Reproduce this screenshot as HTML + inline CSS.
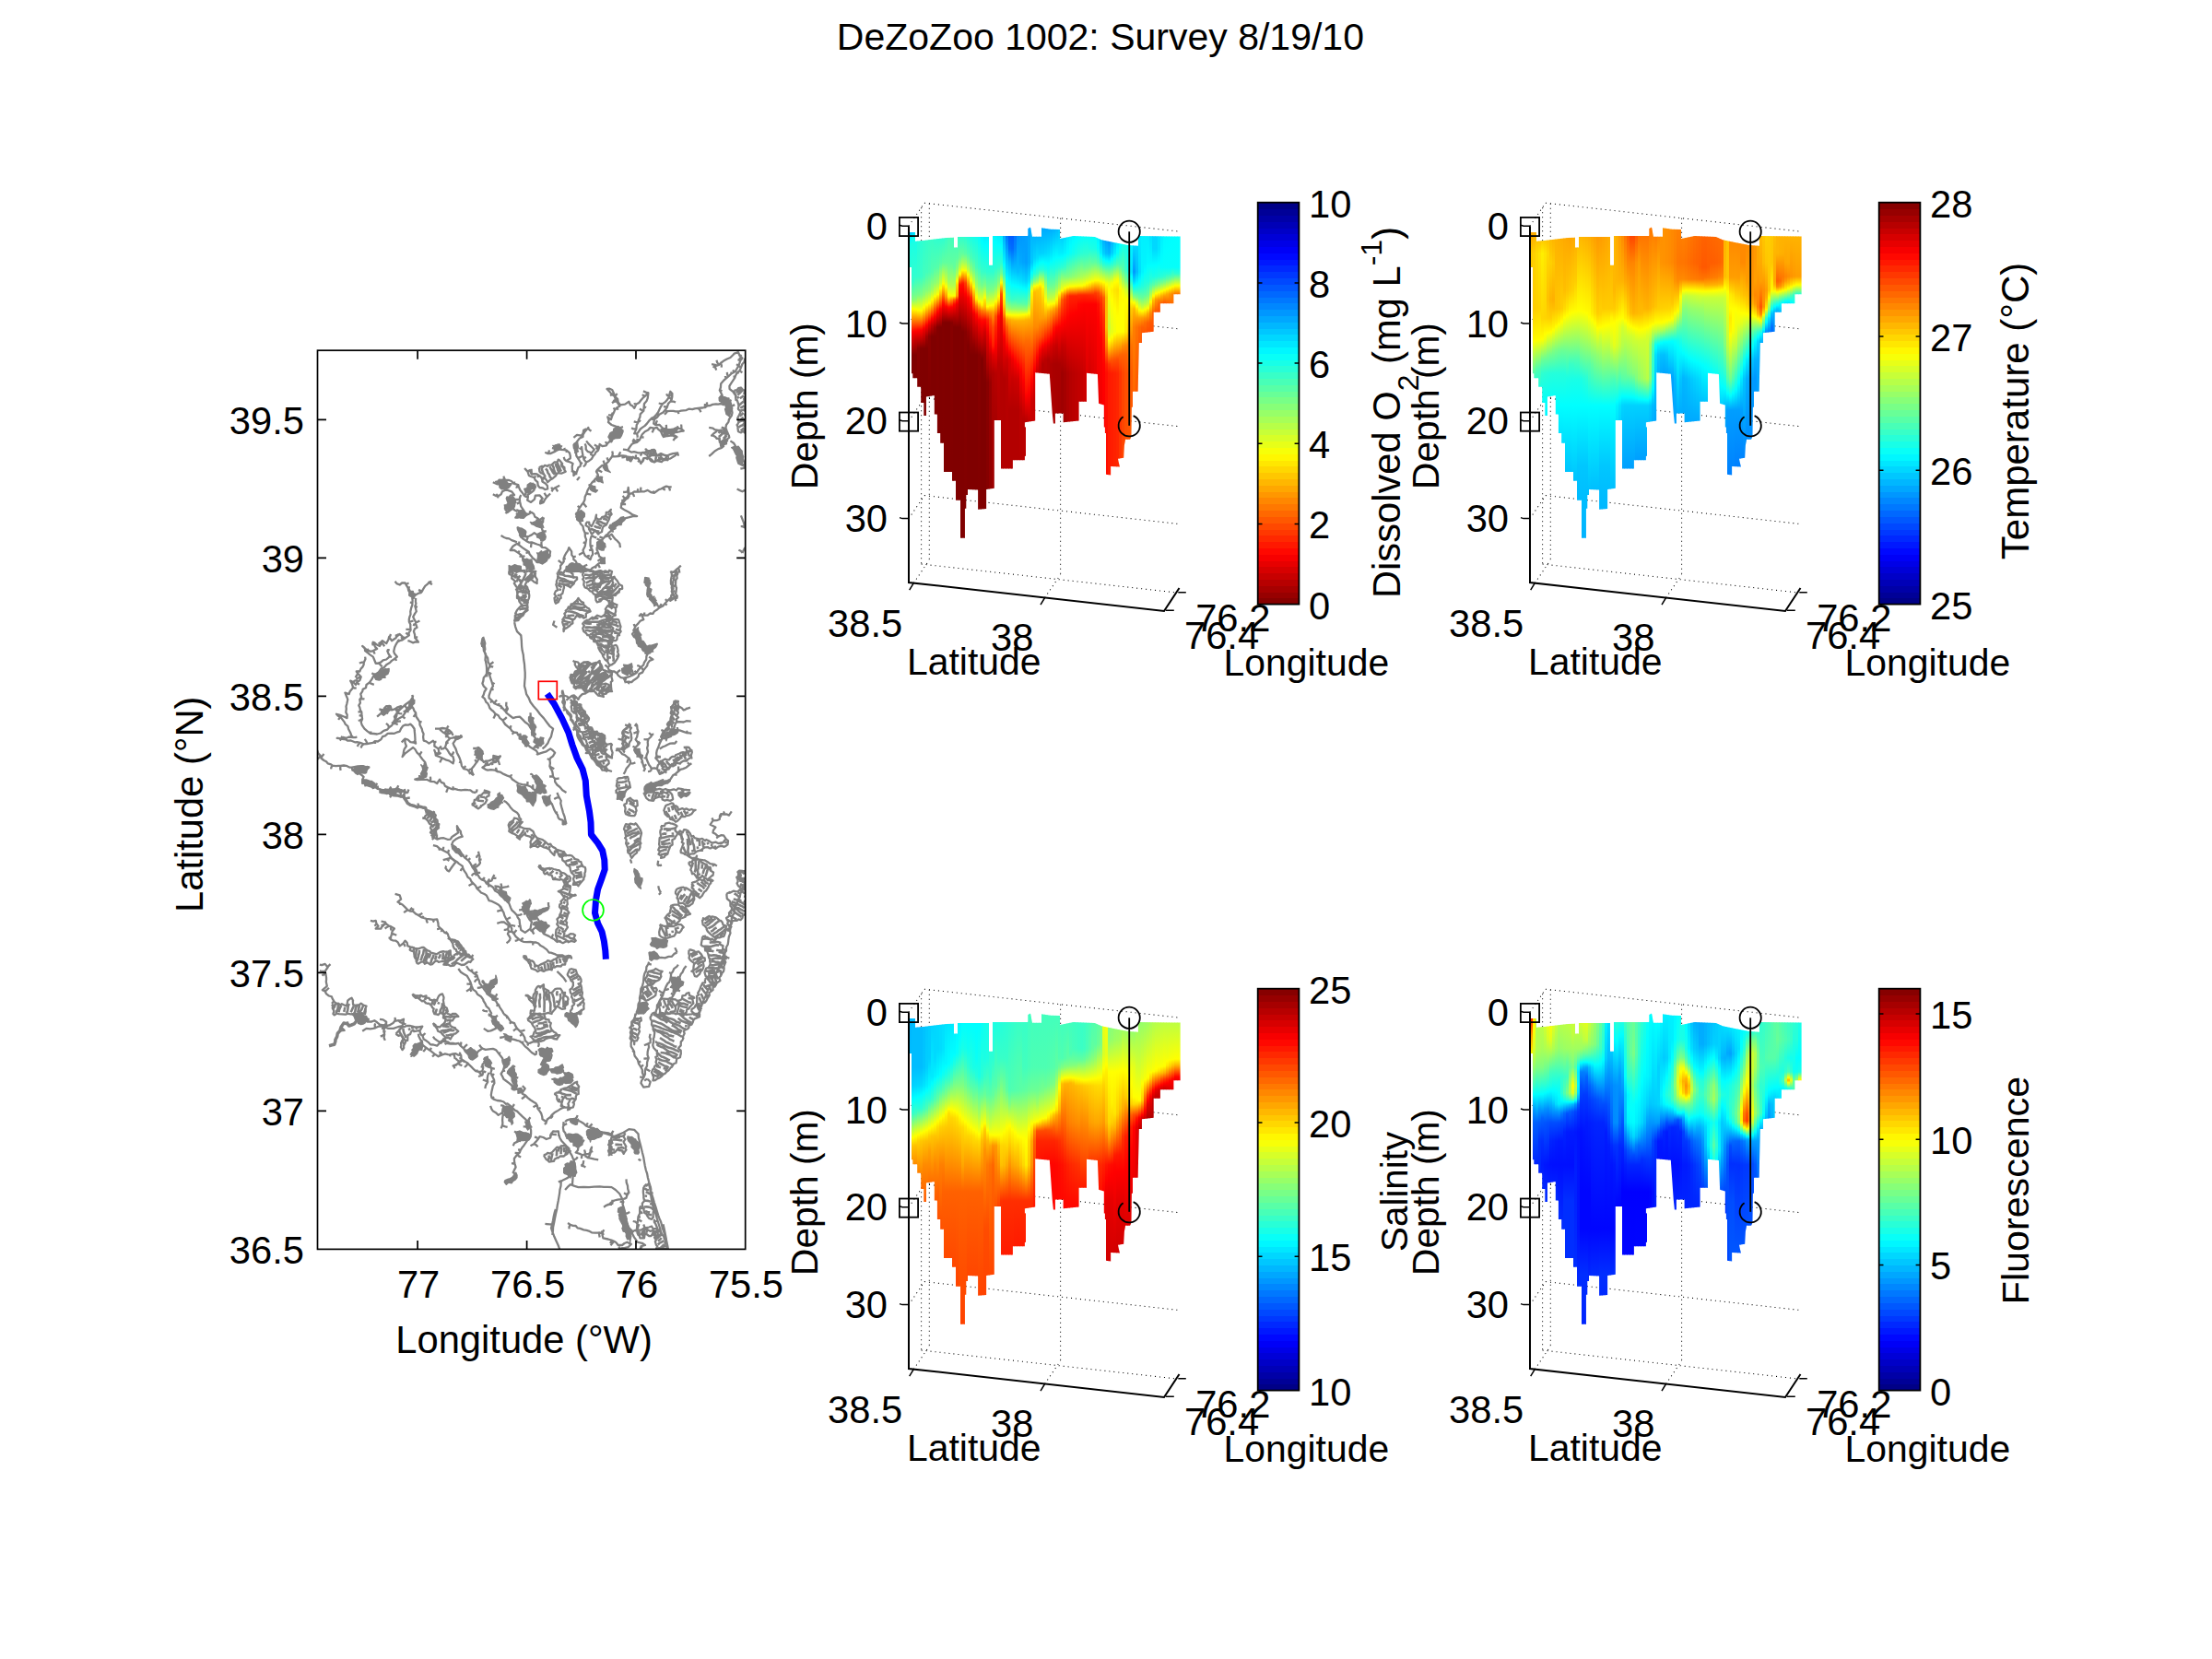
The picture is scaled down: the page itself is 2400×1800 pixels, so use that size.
<!DOCTYPE html>
<html><head><meta charset="utf-8"><title>DeZoZoo 1002: Survey 8/19/10</title>
<style>html,body{margin:0;padding:0;background:#fff}svg{display:block}text{font-family:"Liberation Sans", sans-serif;fill:#000}</style>
</head><body>
<svg width="2400" height="1800" viewBox="0 0 2400 1800">
<rect width="2400" height="1800" fill="#fff"/>
<text x="1193.9" y="53.6" text-anchor="middle" font-size="41">DeZoZoo 1002: Survey 8/19/10</text>
<g clip-path="url(#mapclip)" fill="none" stroke="#808080" stroke-width="2.3" stroke-linejoin="round">
<path d="M534.8 523.2l5.1 2.2 4.3-.7 1.5-4.4 2.3 .3 4.2 .4 2.7 1 2.4 2.7 5 1.4 .5 2.1 1.7 3.7 2.4 2.9 1.9 2.9 1.4-1.6 1-3.9 2-1.7 3.5-3.7 1.5-2.1 2.2 4.3-1.2 3.2-2.4 1.9-4.3 2.9 .4 2-.7 3.7 3.9 2.2 3.9-3.2 .8-4 4.7-.3 3.2 3.5-2.3 2.6-.3 2.9 3.4-1.2 2-3.7 1.9-2.4 3.7-3.6M544.2 524.7l-.3-1.8 .1-.5M548 520.6l-.7-1.3-1-2.6M557.3 524.7l.6-1.1 1.3 0M562.3 526.1l-1.5 2-.5 1.7M573.2 530.5l1.4 1.4 .8 2M580.4 529l-2.4-.1-1.3-.2M572.9 539l-2.5-.2-1.3-.8M586.4 543.5l1.7 .6 2.3-.1M593.4 539.1l-1.7-2.3-1.1-2.1M534.8 536.2l3.7 2 2.1 .2 3.1-2.1 1.3-3 3.2-1.6 2.6 .2 4.3 1.4 2.9 3.7-4.3 .7-1 2.1-.5 3.7 4.3 2.9-2 2.6-.8 3.2-2.7-.1-3.1 .1 2.9 3.6 2.9-2.2 2.8-1.8 1.5-2.5 .6-3.4 .1-3.9 5.1 0 .4 2.7 1 4.6 2.9 4.3-4.3 2.2-1.2 2-3.2 3.8 2.9-.1 2.9-.7 3.6-3.6 4.4 .7 3.6-2.1 2.4 1.8 1.2 3.2 2.9 1.5 2.2 2.1 3.6 2.2-3.8 .9-2.7 .6-2.3 0-3.5 0 2.2 .7 3.6 2.2 5 1.4 1.4 4.2 .8 3-.6 3.9-.8 2.6-1.7-1.7-2.7-3.3-4.3-2.9-2.9 2.2-2.9 1.4-2.9 .5-2.9-1.2-.5-4.1-2.4-3.1-3.6-1.5 .4 2.1 1.8 3.7 2 3.8 .9 2 4.3 2.9 2.9 1.7 2.9-.3 2.1 .8 3.7 1.4 3.3 1 2.1 2.3 3.3 .3 2.4 1.4 3.4 2.9-.8 5.1-5-2.2-4.4-1.4-2.9 3.6 2.1 1.8 3.7 .4 2.9 2.9-4.3 2.9-2.9-1.4-2.9-.1-2.2-2.7-2.2-1.6-1.5-1.9-2.1-2.5-.8-2.5-2.8-1.8-4.3-2.9-3.8-2.9-2-1.4-4.4 2.9-2.8 4.3 4.3 0 4.3 2.9 3.1 2.3 1.3 2 1.4 2.7 2.9 2.4 2.4 1.7 2 3.4 0 3.6 1.4 2M538.5 538.2l0-.6 1.4-1.6M540.6 538.4l-.4 1.1-.1 .9M552.2 543.5l2.4 .6 3.5 .4M556.5 546.4l2.1-1.5 1.7-.3M551 552.1l-.2-3.6-.1-2.4M547.9 552.2l.2-2.5-.4-2.5M550.8 555.8l-1.8 .8-.3 .7M556.5 551.8l2 1.7 2.7 1.6M563.8 542l.3-2.5 1.2-2.5M564.2 544.7l-1.5 .8-1.8 1.3M562.6 557.8l-1.2 .2-1.5-1M565.2 560.8l1-2.8 .2-2.7M568.8 557.2l.6 1.1 0 1.2M576.8 555.8l-1.6-.2-.6-1.3M585.5 564.4l1.4-1.2 2.6-2M589.1 566.6l.2-2.9 .8-2.3M585.3 567.5l-1.5-1.4-2.1-2.5M589 576.6l2-.3 1.8 .2M589.2 583.5l1.9-.1 1.1-.1M563.8 578.2l1.1-1.7 1.7-.7M571 586.9l1.4-3 .1-2.7M576.8 588.3l-.5 2.8-.3 3.1M588 593.8l-.6-3.6 .1-2.2M591.3 601.3l-.9 1.7-.8 2.1M586.9 599.9l1 2-.3 1.6M586.1 605.3l.4-1.3 .2-2.5M589.8 605.7l1.3-.3 0-1.5M592.7 608.6l.5-.9 1-1.5M582.6 610l-.4-.3-.3-1.7M573.8 598.8l-1.4 .7-1.9 .3M562.9 591.2l.4-2 0-1.7M562.3 599.9l.4-.5 .9-1.8M565.4 602.2l-.7 .7-.4 1.9M566.7 604.2l.7-.2 2-1.1M543.5 581.1l3.4 1.9 2.4 1 3.1 .4 2.7 1.7 2.9 1 2.9 1.2M591.3 490.7l2.8 1.3 3 .1 5-2.2-.4-2.7-.3-3 4.3-1.5 2.4 1.9 .5 3.2 3.7 .3 2.1 .4 3.6 2.9 .8 3.3 0 2.5-4.4 2.9 4.4 1.4 2.8 1.5-.9 3 .2 4.2 1.6 2.9-.1 2.9 2.9-2.9 .8-2.1 1.3-3.7 2.2-1.4 .5-3.3-1.2-2.5-2.5-3.9-1.1-1.9-.2-3.3-1.3-2.5 .9-3.7-.2-3.5 1.7-2.4 2.7-3.4 3.6-1.5 .1-2.3 2.1-3.5 3-3.4 1.3-1.6M594.1 492l1.5-1.6 .3-2.1M601.7 487.2l-1.2-.9-1.6-.2M601.4 484.2l2.4-1 1.6 .1M608.1 484.6l.7 0 .7-1.4M612.3 488.1l.2-1.7-.2-.4M614.4 488.5l.1 1 .4 1.3M614.4 500.1l-1.8-1.4-.9-2.8M622.5 513.1l1.3 .6 2.6 .3M625.3 513.1l-3.4-1.7-2.2-.4M630.1 502.6l.9-.1 1.2 .3M626.4 496.2l1.9 .2 1.8-.6M623.8 488.5l1.3-.5 1.4 0M624.5 481.3l.4 .1 1.6-1.1M632.5 474l-.4-1.8 0-1.2M637.7 464.8l2.3 1.9 1.5 1.1M622.4 474.8l3.6-2.9 5 .7 1.7-2.7 .5-3.1 2.9-1.4M631 472.6l-.3 1.6-1 .8M584.8 507.3l3.2-1.6 .5 1.6 2.6-2.4 3.1 1 1-1.3 3.3-.2 2.9-2.9 3.3 0 1-2.9 1.5 .9 2.9 3.5-.3 2.1 2.7 2-.5 2.1 1.7 2.4-2.3 1.1-2.3 1-3.4-.6-1.4 .8-1.4 2.4-3 2.6-1.7 1-1.4 1-2.6 2.3-1.8-3.2-1.2-.5 .1-3.5-2-2-2.4-.9-1.4-1.4-.7-4.4M572.5 511.6l1.4 4.4 2.1 1 3.7 1.2 .9 2.5 2.7 2.5 .4 3.6 1.8 2.2 3.5 .5 2.3 1.7 2.9-.7-.3-3.6-1.9-2.2-3.6-2.2-.3-3-1.9-2.8-3.6-2.2-2.3-.4-3.5 .4-2.2-4.3-2.1 1.4M579.7 518.2l1.1-1 .3-.9M588.4 522.5l.3-2 .7-2.3M588.1 519.5l1.1-1.1 1.2-.6M586.2 516.7l-2.1 .1-1.4 .6M576.8 514.5l-.1-2.6-.2-3.2M572.5 511.6l-1.9-2-1.5-1.6M598.5 533.3l1.5-2.5 2.8-1.8 4.4-2.2M600 530.8l-1.3-.7 0-1.6M602.8 529l.8 1.9 1.6 2.5M631 484.2l.4 3.1 .3 2.8 .8 4.2 1.1 4.5 2.5 2.7 3.1-1.6 2.7-2 1.8-3.2 1.8-1.9 .8-2 2.8-2.3 1-3.2 .5-3.3 2.9 2.2 4.3-.8 1.3-2.2 3.1-2.8 3.6-3.6 5-2.2 1.5-3.4 1.4-2.4-2.7-1-1.6-2.6-3.5-1.3-2.3-.9-3.6-2.9 .5-1.9-1.2-3.9 3.6 2.9 1.5-4.6 1.4-2.6 1.5-3.6 2.1-2.2 2.9-1.4-1-2-2.4-3.5-1-1.8-1.3-3.8-3-2-2-2.6-3.1-3.1 2.9-.3 2.8 1.3 1.6 3.3 1.3 3.9 3 2.6 .6 3.6 2.3 2.9 5.1-.7 4.3-2.9 1.5 3.6 2.3 1.1 2 2.5 2.2-4.3 2.9-1.6 2.1-2.8 2-2.3 2.4-2 3.6-3.6-.2 2-.5 3.8-1.1 2.8-2.6 3-.4 4.3-.3 3.6-3.6 3.6-.3 3.1-1.7 3.6-.2 2-1.8 3-.3 4.3-2.2 5 2.9 0 1.8-2 1.9-2.9 2.1-1.6 2.9-2 2.3-2.5 2-2.7 3.2-3 2.6-1.4 2.3-2.6 1.9-2.4 1.6-3.6 .9-1.8 2.1-3.6 2.8-1.9 1.8-1.9 1.8-2.4 .9-2.7 1.3-4.6 2.1 2.2-.1 3.6-.6 2.9-1.2 2-2.4 2.4-1.4 4.2-2.2 3 2.6 1.1 3.2-.4 3.4 0 2 .5 3.2 .2 3.1-.8 2.8-.4 2.8-.2 2.7-1.4 4 .5 2.4-.8 3.9-.5 3.8-.4 3.3-.3 2.8-1.9 3.2-.3 2.3-1.1 3.9-.5 2.4 .2 2.9-.6 2.8 1.2 2.4-1.4 3.5 .1M631.4 487.3l-2.2-.8-.7 .6M632.5 494.3l-1.7 1-2.1 1.1M633.6 498.8l.5-1.4 1.6-1.8M636.1 501.5l-1.1 3-2.1 1.9M643.7 494.7l-2.2-1.6-1.4-.4M649.1 488.5l-1.1-1.7-1.5-1.4M650.1 485.3l-2.7-1.4-2.6-1.4M659.1 481.2l-1.5-.6-.4-1.7M670.8 472.6l-.6-1.1-.4-1.8M671 465.8l2.1-1.8 2.9-.8M664.4 450.6l-2.5-.1-1.8-.5M665.8 448l-1.8 .8-.8-.3M667.3 444.4l-1.6-1.5-.3-.2M669.4 442.2l.7 1.5 .5 1M668.9 435.3l-2.8 .5-2.1 1.5M667.9 433.5l-1.5 .9-.8 1.3M665.8 426.3l-2.3 2.1-1.4 1M667.1 430.2l1.7-2.2 1-.9M690.4 438.6l-1.6-.3-.4-1.1M699.8 429.9l-1.6-.8-1.4-1M703.4 426.3l-2.6-.7-2.9-1.2M698.6 442.2l1.8-.3 .7 .4M698.3 445.8l-2-.8-2.4-1.5M692.7 456.1l.8 .1 1.6 1.1M692.5 458.1l-2.8-.2-2-.6M690.4 465.4l-3.1 0-2.2-1.2M691.1 470.4l.6 2.8-.1 1.6M712.2 449.7l2.5 0 1.5 0M718.7 438.3l-1.8-.3-2.2-.5M726 429.4l-2-.4-.9-1.7M729.4 427l-1 2.3 .1 1.1M728.7 433.5l-2-1.8-2-1.1M727.5 435.5l3.2 .1 2.4 .9M723.7 442.1l-1.8-.9-2 .1M724.1 446.2l-1.3 1.7-1.8 1.9M735.9 446.5l.1 .8 .3 1.8M757.6 442.9l2 2.4 .8 2M764.7 442.2l.1-1.6 .2-2.6M767.5 440.3l-.3-1.4-.3-2.5M790.9 437.9l.8-1.5 1.3-2.8M634.7 481.3l1 2.8 0 3.4 1.9 2.4 4.3 1.5 2.9-3.6-2.2-2.3-2.7-2.6-1.5-1.5-2.3-3M626 521l2.9-3.6M721.5 445.1l-2.1 2.4-3.7 1.9-2.5 3.1-3.3 2.7-.7 4.4 2.4 1.6 4.1-.2 1.8 2 2.5 2.4 2.7 .4 4.6 .3 3.4-.4 2.7-1.3 2.5 .2 3.4 .9 2.4 2-2.7 .3-4.5 1.2-4.6-.6-2.6 1.3 1.5 1.1 2.6 2.5 3.1 .7-2.7-1.5-4.5 .1-3.2 .4-4.1 1-1.3-1.9-1.6-3.9-3.1-2.6-1.2-1.7-3 .8-4.2-.8-2.3 2.5-3.5 1.8-3 3-1.4 2.8-1.3 3.1-3 2.7-3 .9-2.5 1.1-1.7 2.4-2.9 4.3 4.3 2.2 2.7-.6 4.5 1.3 3.6-.2 3.7-.5 2.8-1.7 4.3 .2 3-.7-1.5 3.2-2.8 2.6 2.7-.4 4.5 .4 4.3-2.2 4.4 1.9 2.9 .3 3.2-1.5 2.5-.7 5.1-.7-2.6 2.8-2.5 1.5-2.9 1.9-2.8 .3-2.4 1.2-3.7-1.7-2.6 1.2-2.4 .8-3.4 2.1-3-2.9-2.8-1.4-2.9-.4-2.9 .4-.8 2.1-2.1 3.7-1.6-3.4-1.3-2.4-3.3 .2-2.5-1.7-2.8 4.4-3.1-2.7-1.3-2.4-3.5-.7-2 .1-3.2 .6-3.7 .3-2.8-.3-2.4 3.2-1.2 1.9-1.2 1.3-3.1 3-3.3 .7-2.5 2.2-2.8 2.8-.8 1.5 1.7 3.2 .4 2.6-2.9 1.8-1.4 1.8-2.7 2.9-1.6 2.2-.6 1.9-2.3 3.9-1.3 3.8-1.6 3.4-.3 3.5-1.5 3-1.9 2.2-2 3-1.6 2.8-.1 3.5-2 3.7 2.7 1.8 .9 2.6 1 3.1 2.6 2.7 .6 3.5 1.6 3.7 .2 4.1 1.2 3.1-.8 4-.6 3.3-2.2 4.3 .7 2.4 1.5 3.4 2.5 1.8 3.3 2.5 1.3-3.7 1.5-2.1-.6-4.4-1.5-2.8-.7-2.2 0-4.4 0-2.1 1.4-4.3M709.9 455.2l-1.9-.3-2.3-1.4M711.6 461.2l.4-2.8 1.1-2.2M722.7 465.8l.3-2.6-.2-2.4M727.3 466.1l-1.2 1.2-1.6 2.1M730.7 465.7l.1 .5 1.5 1.9M735.9 464.6l-.5-1.3-1.2-.5M739.3 465.5l.1-2.2-.3-2.8M734.5 474l-2.2 1.6-2 2.4M727.3 472.6l.9-2 1-1.4M724.1 473l-.4-3.2 .8-2.3M718.7 472.1l2.8-.4 1.7-1.2M709.8 464.7l-1 2-1.2 2.7M695.4 474l1.5 .5 1.7-.1M694.1 477.1l-1.5 .1-2.3-.7M691.1 479.8l-2.2-1.6-2.2-1.8M688.1 480.7l-1-1.6-.6-1.5M681 488.5l-2.4-.7-2.7-.2M696.1 491.2l-.4 2.1-1.1 1.2M702.6 489l-1.8-1.4-.6-1.1M708.3 493.9l.5-2.9 .7-2.8M712.8 494.3l-1.6-3.2-.4-2.5M724.4 494.3l.5 1.7-.2 .5M735.2 491.4l.3 1.5 .7 1.8M724.4 497.9l0 1.5 .5 .8M718.3 497.4l-1.1-1.7-.1-1.3M704.1 497.2l-1.6 .3-1.1 1.2M698.3 497.2l-.2 2.2-1.3 2M693.8 499.6l-.3 .2-1.5 1.4M689.2 497.4l.8-1.4-.1-2.6M680.8 497.4l-.2 1.4-1 .8M679.5 495l-2.2 1-2.9 .3M670.8 495l1.3-2.6 1.3-2.1M664.3 495l.5-3.1-.6-2.5M660.7 500.1l-1.3-1.3-.8-2.5M656.4 504.4l-.8-1.8-1-3M647.8 510.1l2.3 .5 3.2 1.6M647 511.6l.7 .7 0 1.3M649.1 517.4l-.9-.7-1.5 .5M644.8 521l.3 .9 .3 1.6M636.3 535.7l2.2 .3 2.8 .7M632.9 545.6l1.4 2.2 2.1 2.4M629 550.8l-1.4-1.1-.7-.9M627.3 557.1l.7 .7 1.3 .3M625.3 560.8l2.2-.1 2.2 .1M634.7 578.2l2.5 .4 1.5 .3M635.3 589.4l-1.3-.5-1.2-.7M633.2 599.4l-2 .9-3.2 1.8M637.2 604.6l.8-1.5 1.8-.3M642.7 596.9l-2.3-.2-1.3 .6M640.5 591.9l1.7 .4 1.4-.2M641.9 581.1l2.6 1.5 2.8 .8M698.3 491.4l3.5-.4 .8-1.2 2.5 .1 1.9-1.7 2.9-.4 1.1 1.8 .3 3.4 1.5 1.3 3.3 0 1.1-1 1.9-.1 3.2 1.3 2.1-.2-2.7 3.4-.2 .9-2.9 1.6-.8 1-4.2-1.1-.2-.6-3.5 2-3.3-1.2-.6-.4-1.9-2.7-1.1-1.8-1.3-2-3.4-2M728.7 528.3l-3.4-.2-2.4-.5-3.8 1.8-2 1.1-2.1 .6-3 2.2-2.1 1.5-3.9-.8-3.3-2.1-3.4 1.4-3.9 0-3.3 .4-3.9-.4-2.4 1.9-3.4 1-.3-3.3-.4-3.9-.7 4.3 1.4 4.4-3.2 2.8-1.1 1.5-2.8 2.9-.9 1.5-.7 4.3 4.4 2.9 4.3 2.2 4.3 2.9 4.4 1.4-3.4-.2-3.8 .9-2 .6-3.8 .9-1.8 2.8-2.6 1.5-2.5 1.6-3.3 2.8-1.6 2.1-2.7 2.2-2.9 2.5-1.4 1.8-1.8 1.2-2.6 3.2-2.7 2.4-1.6 1.9-.9 3.6-2 2.2-.1 2.5 1.5 3.3 1.2 3.9 3.2 1.9-1.5 4.3-3.5 2.3-2.3 2.1-3.6 1.9-2.1 2.4M725.3 528.1l1.3 2.6 .4 1.8M719.1 529.4l1 1.6 1.9 .5M709.9 534.8l-.4-1-1.3-.7M695.4 533.3l-.2-2.4 .2-2.3M692.1 533.7l-.2-2.2 .8-1.1M685.8 535.2l1.5 1.4 .8 2.4M681 533.3l-2.5 .6-2.4 .1M674.4 546.4l2.1 .7 2.6-.1M666.3 573.1l-.8-.9-1.7-.1M663.6 575.3l.5 .9 1.7 .6M654.9 584l-1.9-.7-2.6-.9M652.2 586.4l-2.1-.8-2.5-1.1M649.7 591.9l-1.6 .1-.3-1M649.1 599.9l-2.2 .2-1.3 1.3M653.5 605.7l-3.1 1.6-1.9 1.6M648.5 612.3l1.7 2.2 .5 1.8M646.2 614.4l-.2 .9 1 1.2M656.4 582.5l4.4-1.1 2.8-1.8 1.9 3 2.4 2.8 1.7 1.3 2.7 3.1 .7 4.3M660.8 581.4l.9 2.6 1.8 1.6M678.5 541.3l-1.9-2.1-.9-1.3M676.6 543.5l-1.2-.7-1.1 .3M636.1 566.6l-.5 3.5 3.5 2.2-.1 1.6 1.2 2.2 1.7 3.5 2.3-2.1 1.3-2.2 1.6 1.7 2 2.6 1.3-1.4 2.6-1.2 .5-3.1 1.1-2.8 3.2-1.6 1.3-2.7 1.6-3.1 1-3.8 1.9-2-1.6-3 .9-2-2.7 2.8-2.4 .1-.2 2.8-1.3 1.9-2.8 .3-1.8 2.4-2.6 .5-2.4-2 .3-3-.4 1.5-.9 4.2-.9 .8-1.5 3.3-1.4 2.5-2.5-2-.2-2.4-3.1 0M605.7 620l2.5-2.9-.1-3.3 2-2.3 1.6-2.1-.2-3.3 1.4-3.6 1.5-2.6 1.8-2.5 1.1-3.3 2.9 4.3 .1 3.7 1.9 2.4 .2 2.6 2.1 1.6 1.5 2.8 2.7 .6 2.3 2.3 2.3 .7 2.8 2.2 4.4 1.4M610.1 611.5l-2.3-1.9-2.1-1.6M611.5 606.1l1.8 .1 .5-.1M622.2 604.5l.9-.4 1.7-.6M633.3 615.1l1.5-1.4 2.4-1M772.1 395.2l3.8 .6 2 .8 2.1-.7 2.1-2.1 3-2.2 3.7-2.1 3.6-1.5 2.8-2.8 1.5-1.6 4.3-1.4 1.6 3.8 2.8 2.7-2 2.4-1.4 4.1-1 2.2-1.3 2.3-2 3.4-2.5 1.5-1.9 1-3 2.7-2.3 2.1-2.5 2.1-3.3 3.7-.3 4.3-1.1 2.9 1.6 3 1.3 2.8-2.4 3.3-.5 1.7 3.6 1.7 2.2-.2 5 2.2 1.2 2.6 1 3.2 .7 4-.7 3.2-2.9 4.3-.5 2.7-2.4 3.1-.7 3.9 .7 1.9-2.9 3.6-2.6-1.7-3.2-1.9-3.9-.6-1.9-1.6-4.3-.7M775.9 395.8l.4 1.4 .5 1M780 395.9l-1.8-2.5-.7-2.6M782.1 393.8l.8 3-.2 1.9M802.6 386l.9 .1 1.2-1M805.4 388.7l-1.2 .3-2.5 0M803.4 391.1l-1.7-.5-1.2-.4M797.7 403.1l-1.4-.2-1.4-1.2M795.2 404.6l-1 .3-1.8-.7M790.3 408.3l-1.2-1.7-.2-2.8M788 410.4l-1-1.7 0-.7M780.8 423.4l.6 0 2 1M781.3 432.5l.6 .5 1.6 .7M780.8 434.2l2.6 1.3 1.2 1.2M784.4 435.9l1.5-2.5 2.4-1.2M791.6 437.9l.2 1 .2 1.2M792.8 440.5l2.3-.4 2.1-1M787.3 464.9l-1.6-.2-3-1.1M785.1 470.4l3.1 .1 2.5 .7M777.2 401.7l-.9-2.7-2.8-1.6M808.3 388.7l-.8 4-2.1 2.3-1.5 3.8-1.3 3.4-2.9 2.2-1.6 3.1-.8 2.4-2.7 4-1.5 2.3-1.7 2.7 .2 3.1 3.6 2.8 2.9 4.4M807.5 392.7l2.1 .8 2.5 .4M803.9 398.8l-2.5-1.8-2.3-1.8M802.6 402.2l1 .8 1.8 1.2M799.7 404.4l1.1 0 .9 .5M797.3 409.9l-.4-1.2-1.4-.3M796.7 423.4l2.8 0 1.6-2.3 2.8-.6 2.4 2.7 2 .2-1 3.6 1.6 .4-.1 2.1-1.8 3.5 .9 1.5 .4 3.3 .7-.4-.5 3.5-.3 3.4-.2 1.1 1.4 2.1-1.2 2.4 1 2.7-.2 1.4-2.1 3 1.5 2.5 .7 .2-1.7 2.1 1.8 2.3-2.2 4.1 1.3 1.5-2.3-1.8-2 1.5-3-1.2-.5-3.7 .1-1.3-1-2.2 .8-.8 1.3-2.7-1.4-3.9 1.7-3.3 .5-.9 1.2-3-2.5-2.2-.3-.6 .6-3.4-.5-2.3-1.2-3.8-1.3 0-.4-3.5 .5-1.3-2.2-4.4 .3-1.5M788 466.8l-.1 4.2-1.3 3-1.3 3-3.1 2.8 2.9 4.4-2.1 1.6-3.7 1.3-3.8 2.4-2 1.9-1.6 1.5-2.7 2.1M782.2 479.8l-1.6-2-.8-2.3M777.9 466.8l1.7 .2 4.2-.4 2.9-1.1 1.3-.1 .4 1.8 1.9 4.3 .6 1.1 .4 2.1-2.1 1.6-1.5 2.9 .3 2.1-4.1 1.1-1.7 1.8-.6-4.3-.8-.1 0-4.3-3.1 .4-1.5-1.8-2.7-1.6-1.4 .1 2.3-2.3 2.7-1.9 .8-1.6M792.4 478.4l3.6 2.3 2.1 3.5 1.6 2.1 3.2 2.1 1 3 .4 2.5 .8 2.8 1.7 3.4 1.7 3.1-.2 4.1M798.1 484.2l-1.2 1.6-.6 2.9M808.5 503.2l-2.4 1.2-1.4 0M808.3 507.3l-2.4 .8-2.5 .4M799.6 530.5l3.8 1.9 2 .9 2.9-1.4M803.9 559.4l1.2 3 1.7 4.2 .8 3.3 .7 2.5M808.3 572.4l-2.9-1.3-1.7 .1M808.3 594.1l-1.3 2.4-1.6 3.4M805.4 599.9l-1.5-2.1-2.5-1.1M738.8 613.6l-2.7 2.5-1.6 1.2-2.9 2.7M736.1 616.1l.9 3.2 .3 2.3M428.6 630.8l1.8 2.3 3.3 1.4 2.4-2 3.4-.2 1 2 1.9 3.1 1.9 2.7 1 3 3 1.3 2.8 .9 3-1.6 2.7-.6 1.2-1.5 1.2-2.5 2-3.2 3.1-2.5 1.2-1.8 2.9-.8M440.5 634.3l2.1-1.4 1-.1M442.4 637.4l.8-.1 1.7 .1M448.3 644.4l.2 1-.2 1.5M456.8 643.1l-.5-1.3-1.4-.8M458 641.6l-1.9-.7-2-1M465.5 631.6l2.3 1.9 1 .9M448.2 646l-.9 3.2 .3 2-.2 3.5-.1 2-1.1 2.8-.9 3.9 .2 3.2-1.1 2.7-.6 2.8 .1 2.6 1.4 2.9 0 3.2 .3 2.8-2.1 3.1 .3 2.7-4.3 2.9-2.9 2-2.9 .9-2.4 1.2-1.9 3.2-1.2 2.7-1 4.5 .9 2.5 2.7 3.3-2.9 2.4-2.9 1.9-2 2.1-3.8 2.3-2.5 3-3.3 1.3-2.4 3.6-3.3 2.2-2.8 2.7-1.6 3.1-2.6 3.4-3.2 2.4-.5 3.3-3.3 1.6-.5 2.3-1.9 2.8 .9 3.5-1.9 2.4 .6 3.7-1.6 2.8 1 2.2 .7 3.1 1.3 1.8 .2 3.7 .6 3.9-1.4 3.4 1 3.1 2.7 4.1 3.2 2.7 3.3 2.4 3.6 .2 3.6 .5 3.9-1 3.3-2.6 3.8-1.2 2-2.4 3.1-2.3 1.3-2.1 .7-2 2.2-3.8 .9-2.4 .5-3.4 3-3.3 1.5-1.4 2.7-2.5 1.4-1.4 3.1-2.2 2.8-2.2 2.3-3.5 .6-2.3M447.3 649.2l1.8-.5 1.2-.4M447.4 654.7l-.8-.8-1.8-.2M443.9 674.7l1.7-.3 2.9-.9M445.6 683.6l-2.2-.8-3 .1M443.8 689.4l-2.2-1.7-1.3-1.2M433.7 695.2l-1.5-.5-.7-.7M427.9 715l1.5 .4 .5 1.6M411 729.2l2.3 1.8 1.2 1.5M407.7 731.4l-2.5 .1-1.8-1.2M400.7 740.6l1.9 1.1 3.2 1.2M390.3 758.9l2.6-.8 2.6 .3M392.3 772.5l-1.8-.3-2 .5M392.5 776.2l-1.1 .3-1.8-.3M393.1 780.1l-2.6 1.4-1.8 .4M401.9 795.8l.5-1-.1-1.3M422.1 789.3l-1.1-2.7-2.1-1.7M426.5 784.9l2.4 .1 2.8 1.1M439.4 764.7l1 2.6 2.1 1.6M451.1 648.9l-.2 3.8 .5 2.4-1.1 2.5 .6 2.1 .9 3.7-1.6 2.2-2 3.6 1.2 2.6 1.7 3.2 0 2 1.4 3.8-2.5 1.4-1.1 2.9 1.1 3.2 .3 4 2.8 3 .8 1.4-3.2-.3-2.5 1-3.7-1.7-2.1-.5M450.3 657.6l1.9 .9 .8 .2M451.1 675l2.3-.4 2-1.1M451.1 677l-1.8 .4-.6 1.8M450.3 692.3l1.7-.9 1.2 0M439.5 692.3l-2.7-1.4-3.1-2.9-3 2.3-1.3 2-4.4 2.9-2.9-4.3-.6 2.9-2.3 4.3-4.3-2.9-.7 2.4-2.2 3.4-3.2-1.5-2.4-2.1-1.6-.7 1.3 1.9 .7 2.9 2.3 2.4-4.3 2.2-2.9 .7-3.8-1.5-2.5-2.3-2.4-2 2.7 2.7 .2 2.4 2.9 2.1 2.1 1.9 3.7 2.5 1.1 2.7 1.8 4.5 3.1-.3 2.6-1.1 2.2-2.1 3.6-.8 2.7-2.4 .9-2-1.4-1.9-1.5-3.8M436.8 690.9l-.8 1.1-1.1 .6M433.7 688l-2.3 .6-1.1 1.4M430.7 690.3l-.9-.3 .2-1.6M422.1 690.9l1.2-.9 .7-2M414.9 695.2l-1.7 1.4-2.7 2.1M414.2 697.6l1.2 1.2 1.8 2.4M404.8 696.7l-.5 1.5 .4 2.2M409.1 703.9l-1.2-.3-1.2 .3M404.8 706.1l1.4 2.2 .2 1.4M401.9 706.8l-2.1-1.1-1.4-1.8M410.8 719.5l1.6 1.4 2.3 2.7M422.8 711.1l1.2 1.6 1.1 .3M419.9 705.4l1.4-.2 1.4 .5M396.1 712.6l.4 2.5-1.7 3.6-.2 2.6-1.2 2.3-1.9 2-1.2 2.9-3.6 0 1.6 2.4 3.4 3.4-1.3 3.8-3.4 2.5-1 2.4-2.9-3-2.9-1.4 1.6 3 1.3 4.3-1.1 1.5-2.4 2.9-.9 2.8-4.3-1.5 1.9 4.6 1 2.7-.9 4.3-.9 3.4 .3 2.4-.5 3.9 1.4 2.6-.2 3.6-2.2-1.1-4.3-1.8-5-1.4 1.8 2 3 1.5 1.7 2.3 2.3 3 .8 2.1 2.7 2.1 .8 3.1 2.1 4.1 1.2 3.3 1.7 1.8-4.3-.6-3 1.3-3.8-.8-2.1 1.4-4.2-.6 2.9 .4 2.8 .6 3.9 .5 2 1.4 3.4-.2 4.3 1.8 2.4-.1 3.5 .6 3.7 1.5 3.7-.3 3.6-.6 2.9-.5 2-1.8 3.1 .4 3.5-2.2 1.7-3.1 2.8-.9 2.8-2.5 4.2-.2 3 .2 3.4-1.5 2.4-.7 1.4-3.1 1.9-2.7 2.5-1.4 3.3 .3 2.5-1.1 1.8 1.7 2.5 3.4 .1 2 .4 3.7 .2 3 .2 4 .6 3.2-2.5-1.1-3.3-.3-2.8-2.7-3-.9 0 4.3 1.4 3.6-2.4 3.7-.5 2.1-.3 2.5-1.1 3.3 2.7-3.4 3.1-2.4 3.3-2.4 2.5-1.9 2.2 2 2.1 3.7 2.6 2.4 1.7 2.7 1.5 1.9 2.9 3.2 1.1 3.8 .3 2-1.7 2.8-2.6 1.5 .5 1.9 2.4 3.9-3.3 1.4-2.5 0-5.1 1.5 2.2 .3 4.6-.2 2.6-.1 3.9 .2 3.4 1.9 4.3 .4 2.9 1.8 2.9-4.3 1.6 3.1 3 1 1.2 3.1 3.2 1.5 3.2 1.4 2.3 .7 2-.6 3.1 1 3.5 .4 4.3-.4 3.3 .3 2.6 .1 2.5 2.1 3.3 .6M394.8 718.7l-2-.1-3 .9M390.3 728.5l-1.3 0-1.3-.3M388.3 730.9l-1.2 1.8-1.5 2.5M391.7 734.3l-3.2 1.2-2 1.4M387 740.6l2 1.5 1 .6M383.1 740l2.2-1.6 3-.4M383.1 745.9l1.4 .7 2.2-.1M370 776.2l-1.2 2.3-1.7 2.4M383.1 800.1l2.7-.1 1.6-.3M372 800l-.1 .6 .8 1.6M369.9 801.4l0 .6-1.2 1.5M371.4 801.8l-.6-2.2 .5-.9M390.9 805.8l-2.2 2.2-1 2M394.6 807.3l-1.9 1.6-1.2 2.6M398.3 807l-.8-2.6-1.8-2.5M406.8 804.1l.1 1 .2 1.9M448.6 805.5l.3-.3 1.3-1.4M439.5 801.6l-2.1 2-1.6 1.9M455.1 819.1l1.2-1.6 1.3-2.1M461.2 826.9l-.8 2.9-.7 2.1M458.8 838.9l-.8 .7-1.2-.4M455.4 844.2l-.3-1.9 0-1.3M467 847.8l.2-2.7-.3-2.5M486.1 854.4l-1 3.1-1 2.3M491.6 856.5l.1-2-.7-1.2M516.2 860l1.1-1.6 .2-2.1M409.1 777.7l3.2-2.9 2.6-1.5 1.6-1.8 .3-3 2.4-2.4 4.4 0 1.4 4.4 3.8-1.4 2-1.5 4.3-1.5-.6 1.8-2.2 2.5-1.5 2.9-2.9 4.4 1.2 3.3 .3 2.5 1.5-2.8 2.8-1.6 3.3-1.9 2.5-3.9 2.2-2.7 3.6-3 2.3-3.7 .6-3.6-.6-3.9-.2-2.6M416.5 771.5l-2-1.4-3.1-.6M428.8 769.1l1.5 1.9 1.2 2.6M430.8 767.6l-.2 1.7 1.1 1M430.8 773.3l2.9 .9 2.6 .2M429.1 781l-1.4 1.9-2.7 2.1M429.4 783.5l2.6-.8 2.9-.2M437 777.2l1.1 1.3 1.5 1M441.7 770.6l.9 1.6 1 .3M447.6 763.9l-2.2-.3-1.8 0M448.2 760.3l-1.9-.2-1.4-.8M446.7 766.1l1.7 2.4 1 2.7 1.7 2.1 .4 4.2 2.4 3.5 1.5 2.5 .1 2.9 2.3 4.6 .5 2.6 1.3 2.6-.5 3.5 .6 4 2.7 .7 3.1 2.2 4.4-2.9 1.6 2-.2 3.8 4.3 2.9 .6 2.8-1.3 3-2.5-1.4-1.1-2.9 1 2.7 .5 3 4.1 1.6 3.1 1.3 4.5 2.2 2.7 .7 4.4 2.9 .8-3.2-.8-4-2.5-1.8-1.9-2.6-1.9-3.2-2.4-2.5 1.1-3.3 .3-2.5 3-3 1.4-1.4 2.2-.2 3.6-1.2 3.4-.2 3.1 .2-3.4 1.9-3.1 1-2.9 4.3 1.3 3.1 1.6 2.7 1.3 4.3 1.5 2.9 1.4 2.9 1.5 4.4 .7 3.9 2.2 3.3 3.7 .9 2.1 2 1.7 1.8 3.4 2.5M451.1 773.3l-.9 2.5-1.7 2.1M455.4 783.5l.6-.5 1.6 .4M471.5 805.7l1.3-.9 .7 0M475.6 812.4l2.3-1.7 .9-1.4M474.9 818.2l2-.3 1.6-1.4M480 822.5l-1.6 2.3-1.1 2.6M491.6 828.3l.6-2.3 .2-2.4M489.1 819.3l2.2-1.3 .9-2.5M482.9 811l-2 1.4-3 .1M484.3 805.2l1 .5 1.1 1.1M501 799.4l-.9-.7 .2-1.6M497.6 801.3l-1.8-1.1-1.8-1.8M494.5 802.3l-.3-.7-1.4-1.9M500.2 826.9l-1 .1-1.1-.6M503.1 834.1l.5-1.1 1.7-2M472 790.7l4.9-.1 3.1-.6 4.3 .6 2.9 1.6 2.9 2.7 1.5 3M484.3 790.6l.8-1 1.5-2.1M487.2 792.2l-1.5 2.4-1.9 2.4M490.1 794.9l-2 .7-2.8 1.5M477.1 791.4l3.5 3.1 2.3 1.3 2.1 2.5 2.2 2.5M482.9 795.8l.6-2.4 1.5-1.3M485 798.3l-.3 .5-1.5 1.1M514 841.3l-1.9-3.8-.3-3.4 1.9-2.3 2.5-3.5 1.7-2 1.9-3.8-.8-3.1-1.4-4.1 1.4-4.3 2.6 2.2 1.8 2.1-.7 3-.8 4.2 2.9 4.4 2.4-1.3 3.4-.2 4-1.6 3.3-1.3 5-2.1-2.7 4-2.3 2.5-4.4 .7-2.9 2.2-3.5 .4-3.7 2.5 3.4 2.1 2.4 .8 3.3-.5 4.4 .5 2.4 1.4 3.3 .6 3.9 2.3 3.3 1.5 4 1.4 2.2 3 2.1 1.3 4.3 2.9 4.1 1.2 3.2 .3 2.4 .5 3.7 1.5 2.6 2.3 2.4 1.8 3.3 2.4M512.1 837.5l-2 1.1-1.4 1M511.8 834.1l-.9 .5-2.2 .6M517.9 826.3l-1.6-.4-1-1.8M519.8 822.5l-2.4-.3-1.2-.4M519 819.4l-1.6-.2-3-.8M519 811l-3.2 1-2.6 0M527.2 825.6l1.5 1.5 .2 2.8M540.2 824.4l1.1 3 .8 2.6M537.9 826.9l-1.3-1.4-2.5-.6M533.5 827.6l.6 1.3 .4 1.2M527.1 830.2l-.5-.7 .8-1.8M539.3 837l-1.1-2.7 0-1.6M553.8 842.8l1-1.9-.2-.7M572.1 852l.4-2.1-.1-1.9M578.4 855.8l-.2-2.3 .1-2.3M580.8 857.6l-.4 1.2-1 1.4M584.1 860l0-.9 .6-1.3M344 813.9l1.3 3.5 2.3 2.5 .7 2.6 3.1 2.5 2.6 1.3 1.6 2 3.5 1 1.7 1.4 3.5 .5 2.9-.4 2.2 0 3.5-.3 2.7 .3 3.5 1.8 2.5 .1 2.8-.6 3.6-.7 3.7-.2 2.3 0 3.8 1.3 2.6 .2-2.6 2-1.7 3.7-2.3 0-3.8-1.4-2.6 0 3.2 2.6 1.5 1.1 2.5 2.1-1.3 2.9-.1 4.3 3.6-.8 3-.3 2.1-.3 3.8 3.8 2 2 1.9 1.4 3.3 .7 3.4 .8 2-.6 4 .1 2.7-.3 3.1 0 1.8 .3 3.8 .5 2.1 .4 3.6 2.4 3-.1M345.3 817.4l-1.5 2-.4 1.3M347.6 819.9l-1.6 2.2-1.3 1.7M348.3 822.5l1.3-2.1 1.9-2.4M360.8 830.7l-1.3 1.5-.4 2.2M369.4 830.8l-.2 3.1 .5 2M396.1 838.4l-2.7-1.3-2.3-.3M399.8 848.9l.8 1.7 1.5 1.6M407.7 854.4l.5-2.9 1-1.8M409.6 855.8l.5-1.1-.6-2.1M422.3 856.8l1.5-2.3 .4-1M425 856.5l1.7 2.4 .6 3.1M428.1 856.5l-.7 2.1-.6 .7M429.9 856.8l1.3-2.4 1.1-2.1M439.4 860.1l-2.1 2.9-.8 1.8M442.4 860l.3-1.5 .8-2M524.1 690.9l1.3 4.3 .9 2.9-.5 2.4 .5 4-.7 2.3 1.1 3.6 2.5 3.6 .4 4.2 1.7 3.1-.1 2-1.4 2.8-.6 3.8 2 2.5 .9 3.3 1.3 3.6 .9 3.1 .7 2-1.6 2.5-1.3 3.3-1.6 4.6 .1 2.6 3.7 3.2 2.1 2.6 3.9 1.8 3.3 1.1 1.6 2.3 2.9 3 1.3 1.9 1.5 1.4 3 2.3 2.8 2.1 3-.9 4.2-.5 3.4 3.2 2.4 2.6 3.4 2.4 2.4 3.4 1.6 2.3 1 2.6 .3 3.7 2.4 2.7 .5 4.6 4.3-1.5 2.9-1.4-3.9 2.5-1.9 3.3-2.1 1.6-2.2 2.7 3.5 2.1 2.2 3.7 2.7-1 2.4-.9 3.6-1 4.4-2.9 2.4 1.6 2.6 2.7-2.2 3.6-2.8 2.2-.7 2.1 .4 3.4-.5 3.2 .8 2 1.9 3.4 .5 2.4 .5 3.8 2 2.1 0 3.3 2.3 3.3 3.1 2.5 2.7 3.3 4.3 2.7M525.4 695.2l-1.3 .5-2.2-.7M526.3 698.1l-2.9 0-2.1-.5M525.8 700.5l-1.9 .3-1.9 0M531.3 721.3l2.4-1.8 1.7-1.4M531.2 723.3l2.1-.2 1.9 .6M529.2 729.9l2.1 .3 1.8 1.3M534.3 742.4l1.6-1.1 .4-.6M533.4 746.9l.7 .9 1.5 .5M534.3 760.6l-1.6 1-1 .3M536.4 763.2l1.3-2.4 1.4-1.3M540.3 765l1.1-1.4-.1-.6M543.6 766.1l.2 1.2 .2 1.8M548.1 771.4l1.5-2.6 .8-2.4M577.1 791.6l1.5-.4 2.2-.5M585.6 803.7l1 1.3-.2 2.3M580.6 809.7l2.4 .9 1.6 1.5M584.1 818.2l-1.1 .1-.7 .9M596.5 824.6l-1.8-1-.7-.7M596.4 831.2l2.1 1.6 2.8 1.5M600.1 842.8l-1.6-.4-2.5 .1M602.1 844.9l2.3-.1 2.2-.3M523.4 692.3l-.3 4-.4 3.3 1.9 2.9 .3 3.7 2.1 3.5-.2 2.4-.3 4 .5 1.5 .7 3.7 .3 2.6 .1 2.7-.1 4.3-1 1.9-2.2 2.4-.5 3.8-.9 2.5 1.5 3.2 2.8 2.6-2.1 3.2-.9 3.4-1.3 2.1 2.3 1.8 1.7 4 1.8 1.4 1.2 2.2 .9 2.7 2.2 2.4 1.5 1 2.5 2.9 3.2 1.8 1.7 3 2.9 2.2 1.2 2.1 1.7 2.5 3.8 3.2 1.8 1.5 1.4 2.2 2.4 1.6 3.4 .5 1.1 2.4 3.5 1.5 1.2 3.4 3.3 3 2.5 2.8 3 2.7 2.8 1.6M522.7 699.6l1.3-.4 .9-.6M527 732.8l.7 .6 1.8-.3M537.5 774.4l-.7 2.5-1.4 2.6M545.3 781.4l2.2-1.1 2.3-2.2M553.8 790.7l.2-1.9 .5-1.6M557.6 794.5l-1 1.1-.8 1.3M562.1 797.4l2.3-.7 1.2 .3M572.6 808.1l-1.4 1.5-.5 .9M549.4 761.8l-.2 3.6 1.7 3.6-2.2 4.3M575.5 773.3l.2 3.5-1.7 1.9 0 3.3 2.5 2.9 1.9 2.9 .2 3-1.7 4.2M576.9 795l2.7 1.6 1.7 1.6M558.1 675l1.1 5.1 1.8 5 4.3 4.3 .5 5.5 .3 6.1 .5 4.6 1.2 5 .4 4.9 .8 5 .3 4.6 .4 4.8 0 5-.4 4.4-.3 5.1 1.2 4.2 .9 4.5 2.5 4 1.9 4.7 3.4 4.4 3.8 4.3 3.3 4.5 3.9 4.1 3.4 4.6 3.1 4.1 3.7 2.9-1.3 4.7-.9 4-2.1 3.4-1.5 3.8-2.7 3.2-3.1 2.6M552.3 622.9l3.4 1.4 2.9 .8 2.4 .7 .8 2.5 3 1.3 .5 3.4-1 3.4-2.7 2.2-.6 3.1 .5 4.4 2.4 2.8 3.4 1.5 2.4 1.4 2.1 2.8 .8 4.5-1.7 3-2.5 2.4-1.6 1.8-2.1 2.3-2.6 1.1-2.5 2.4-1.5 2.9M558.6 625.1l.4-1.7 .6-1.2M564.8 629.6l-.2 .3-1 1.6M569.7 651.8l-.4-2.1 1.1-3.1M562.1 669.7l.8 .9-.2 1.6M552.3 620l1.1 .8 4.2-1.4 .2-.1 4.2 .6 2.4-.9 .1 .5 4.5-.5-.2 1.8 2.3-.3 2.2-1.3 4 1.9 1.5-1.3 2.5 .2-1.2 2.1 1 4 1.7 2.6-.3 2.3 .2 2-3.5-1.8-1.9-1.7-1.8-.8-1.2 1.1-3.2 2.1-1.4 2.6 2.5 2.8 .3 1.6 1.5 2.8-1.1 1.8-3.9-.6-2.2 .2-.9-2.6-3.7-2.4-1.2-.7-1.1-1.4-2.1-3.2 1.4-2-2.5-2.1-1.5-1.2 .5-3.5-3.4-1.4 0-2.6M559.6 638.8l1.8 0 3.8-1.3 1.2 .5 3.3-2.1 2.1 .7-1.2 3.1 .3 2.5 2.9 1 .5 3-.3 2.7-1.7 3.8 .5 .6-.8 3-.3 2.1 .9 3.6-2.5 1.9-1.2 .9-1.5 3.2-1.1 .4-2.4 2.2-1.6 2.4-4.2 .5 .8-2.4-.1-3.3 2.2-.9-1.8-1.4 1.8-3.5 3.1-3.4 1.4-1.3 1.3-1.1-1.4-.8-2-2.9-.5-2.7-1.9-.9 0-2.7 .7-3.3-1.2-2.9-.9-1.2M604.4 621.4l2.6-.6 1.9-.1 2.3 1.4 1.6-3.1 4.3 .9 1.8 .1 1.3 2 1.2 .7 .4 3.6 4.2 0 .1 2.4-1.6 1.2-2.6 3.4 .9-.2-3.2 3.1-.7 1.2-1.6-1.1-3.6-1.7-2.1-.1 .4 3.5-.3 .1-1.2 5.1-.2 .8-2.1 1.2 .5 3.7-1.2 .7-1.7 3.7-2.8 1.4-.9-1.7-.6-4.1 1.9-1.9-1.9-2.4 1.5-3.4 2.1-.8-.7-3-1.1-3.1 .6-1.3 0-2.6 1.4-3.1-.2-1.8 .6-.4-1.3-3.7M633.3 620l3-.4 1.3-.6 3.8 .9 2.3-.4 .9 .5 3.6 1.1 1.2-.5 2.5 .5 3.4-.9 1.2-.9 3.9 1.6 .7-2.1 2.9 1.2-.9 3.7-.5 1.8 1.5 1.4 0 1.9 .1 1.3 1.1 2.3-2.4 3.9 1.5 2.7 .2 2.6-1.9-.5 .5 4.6-.2 1.5 1.8 1.2-.7 4.4 .6 .8-.7 2.6-1.9-2.1-.3 0-2.6-2.9-1.7-.9-2.5-1.4-1.5 1.1-2.1 2.4-3.6 .9-1.3-2.2-.1-2.4-.7-3.8-1.3-.2-2.4-3-1.8-.4-2.7-3-.1 0-2.7-.9-1.4-2.9 .5-3.8-1.6-2.3 1.3-1.7-.9-2-.5-1.1 1.2-3.6M616 660.5l.8-2.2 2 .4 .8-3.3 1.9 0 2.7-2.6 1.8-1.4 1.5-2.5 1 1.6 2.7 2.7 1.8 .6 .3 2.4 2.9 2.5 1 .8 1.8 .8 1.6 3.1-3.1 1.2-1.7 1.1 0 3.8-2.5 1.1-2-1.8-2.1 .9-3.1-2-1.1 1.2-1.6 2.6-2.3 1.3 .3 3.4-2.5 1.7-.5 .8-3.9 2.8-2.4 1.2-.5 2.4-.2-2.6 .7-2.2-1.1-2.5-.8-2.8 1.7-2.5-1.6-.2 3.2-4.6-1.2-1.8 2.5-2.4-1.1-.9 2.3-2.1M633.3 675l3.6-2.4 .2 .2 1.7-.2 4-2.8 .9 1.4 3.2-2.6 .9-.9 1.1 .3 3.6 1.4 1.3-1.1 4.7-.4 1.2 .7 2.7 1.4 1.6 .6 1.3 1.5-.2 2.3-2.5 1.9 .1 3.2 2.7 2.2-.7 1.3-.7 3.8-1.2 2.5 1 1.5 1.2 3.4-2.1 .5-.2 2.8 1.7 4.4 1 2-2.5 2.1 1.9 1.3-.8 2.4-.8-.4-4.8-1.9-2.2 .5-1.2-1.1-1-1-3.3-4.5 1.4-1.3-3.6-.2-.7-3.1-3.6-.6 0-2.1-3.6-1.7-1.5-3.3-1.8 .1-1.3-2.1-2.7-1.9-1.1-3.4 1.6-2.9-1.6-2 1.1-1.8M601.5 673.5l-1.4 4.4 4.3 2.9M618.9 734.3l.6-2.5 2.9 .5 1.5-3.7 3.2-1.2 .4-.3 2.6-3.6 .8-1.8 .3-1.4 2.1-1.9 3.2 .7 1.4 .9 2.7 1.3 2.6-1.4 3.8-1 .1 .3 3.6-.8 .6 2.8 .2 2 2 3 1.5 .9 1.7 .5 2.3 1 2.1 1.1 2.9 .2-.3 2.9-.3 1.5 .8 3.1 .3 1.3-1.7 1.3 .1 2.5 .2 3.7 .4 3 .5 1-3 0-2.4 .4-.8 2-2.8 .5-2.5-.5-.6-2.6-2-.8-2.1-1.9-2.3-.5-2.4 3.3-2.2-.2-1.8 .3-3.6-.6-.1-2.7-3.5-1-2.8 .5-2.8-.4-1.6 1.3-2.1-1.6 .2-1.4 .3-2.4-1-2.3-3.7-4.3 .5-1M610.2 748.8l.9 3.2 .5 2.5 .1 2.8-1.5 4.5 2.1 3.4-.1 2.4 2.3 2.9 1.1 3.4 2.5 2.3 .8 1.5 .7 3.3 2.3 3.4 1.3 2 1.2 3.8 2.2 2.1 .9 4.2 2.4 2.5 1.2 4.1 .8 2.1 1.9 3.6 2.6 2.2 1.3 2.9 1.8 1.6 1 2.5 1.8 2.1 2.6 2.4 2.4 2.2 2.2 3.6 2.6 1.5 1.8 1.6 4 1.6 1.5 2.6 4.6 1.4M611.6 754.5l-2.9 .3-2 1.4M610.2 761.8l1.1 1 1.6 .4M629.9 799l-1.6 .5-.7 1.6M631.1 803.1l-.9-.2-1.1 .3M633.8 808.8l2.3-.1 2-.7M637.7 813.9l2.8-.2 2.6-.5M642.3 820.1l2-1.2 1.1-1.9M618.9 761.8l2.4 2.3 3.4 3.5 1.7 3.2 1.4 2.6 2.6 2.8 .1 4.2 1.8 1.6 1 4.4 1.9 2 2.5 2.5 1.4 2.7 .8 3.6 1.9 3.9 1.7 2.6 1.7 3 2.8 1.8 2.7 2.5 3.2 2.9 1.9 1.9 2.1 2.4 2.5 1.8 3.6 2.5M632.3 782l1.4-1.8 2.1-1.4M653.9 813.9l-.5 1.8-.1 .7M660.4 820l-.5 1.1-1.3 0M621.8 761.8l1.4 1.3 1.8 1.5 3.7-.5 1.7 .6-.2 1.6 2.3 4.4 .3 1.2 1 3.4 2.4 .9 0 3.5-.7 .6-2.2 2.2 0 3.9-1.3-3.1-2.5-1.5 .8 0-2.8-2.7-1.3-.7-1.1-4.7-.1-.2-1.6-2.2 .7-2.1-1.4-4.5-1.4-.1 .5-2.8M637.7 790.7l3 0 2 2.3 3 1.1 2.1-.5 0 2.8 .9 1.4 2.8 .3 .9 3.7 2.5 .2 .1 3.2 2.3 1.6 1.1 1 4.7-.9 .9 1.2-.9 1.3 .1 3.2 1.4 4-.4 2.5-.4 1.5 .2 1.9-3.7-1.3-2.2-1.9 .1-1.2-3.2 .1-2.3-1.4-1.1-2.9-2.9 .5-.9-3.2-1.4-.2-1-2.4 .7-3-3.3-2 .2 .6-.2-4.5-1.5-1.3 .4-1-2-3.4-1.4-1.2-.6-2.1M524.8 857.3l4.3 1.2 3 1.5M643.3 620l2.1 .8 4.2-1.4 2-.3 1.9 .9-.8 2.7 3 1.1 1.4 3.4-.7 1.5 2 0 4.1-2.5 2.7 .1 1.3-.5 .6 1.5 2 2.3 .5 .4 2.2 3.9 1.5 .9 1.7 .7 .2 3.3-2.9 .4-.6 3.3-2.8 1.8-1 1.7-3.9-.4 .5 3.5-3.8-.2-3.6-.1-1-.9-1.3-.3-2-.4-3.7-1.2-.2-3.3-1.7-1.5-1.1-.8-2.8-3 1.4-1.8-1.7-3.1 1.2-3.9-.7-1 .5-3.1-.3-1.3-.4-3.2M660.7 653.3l1.8 .7 1.7 0 4.1 1.9 1.1 .3-.5 2.7-1 .4 .2 4-.8 2.3 .6 2.1-2.9 .8-1.2 1.7-3.1 1.9-1.2-.7-3-3.6-1.6-.1 1.9-1.9 0-1.6 .7-1.4-.7-1.9 2.6-3.8 1.7-.6-.4-3.2M653.5 675l3.6 .4 1-1.4 1.9-.4 4.7-1.5 .9-.1 3.8-.1 1.4 .2 .5 .8 1.1 3.6 .8 2.8 .3 .7-1 3.2 1.2 1.9-2.5 3.3 .9 .7-2.3 .8-.5 4.1-1.4 1.2-3.4 0-.6 2.3-2 .9-1.8 2.6-3.7 0-2.7-.6-1.4-1-1.5 .1-3.1-1.4-.2-2.7-2.1-1.2-.9-3.6-.5-.7-2.1-1.9 .6-.8 2.9-2.2 2.2-2.2 2.2-3.6-.1-1.5 2.5-1.7 1.3-1M649.1 701l3 .9 2.1-1.8 1.6 2.2 1.4-1.7 3.5 1.9 .5-.9 3.6-.5 3.4-1.3 1.2 1.2 .6 1.8 .7 3.5-.7 .6 1.3 4-.5 1.7-1.2 2.5-.3 .2-2.2 3.4-2.8 2-.7 .6-2.4-.1-1-1.4-.9-2-2.9-2.3-1.9-3-1-2.8-.9-1.3-1.5-1.9-1.7-3.3-.3-2.2M701.2 627.2l1.6 2.8-1.1 2.5 1.7 3.4 .4 4.2-1.1 3 1.9 2.7 3.8 3.1 1.4 2 .5 3.3 2.5 2 2.9 2.9 3.6-1.7 2.2-2.7 2.1-2.2 3.7-3.6 3.2-.1 2.5 .1-1.7-2-1-3.1-1.6-2.1 .9-2.7 .3-4.8 .2-2.6 1.1-3.3 .4-2.9 1.3-2.1 .1-3.3M702.8 630l1.5-.1 1.5 .1M708.4 648.9l.7-1 1.4-.6M709.8 650.9l1.5-1.3 .2 .1M715.7 659.1l.8-2.1 1.3-1.9M721.5 654.7l1.4 1.2 .8 .6M723.6 652.5l-1.1-1.8-.5-.6M733 648.9l-.1 2.2 .3 1.2M731.3 646.9l1.4 .5 1.7-.7M727.3 620l3.3 .9 0-.6 3.9-.3 .8 2.8-1 1.8 .4 2.7-1.6 2.3 .1 1.5-.2 3.4 .8 3.4 .2-.1-.5 4.7-.6 1.6 1.9 2.5-.3 2.3-2.9-.5-1.3 1.5-3 1.9 .5-2.3 .6-3.7 1-.5-.1-4.1-.2-1.8-.4-2 .4-1.9-1.1-1.8-.1-3.9 .6-3.4 .4-1.9-.3-3.1-1.3-1.4M715.7 659.1l-2.4 2.1-3.4 2.2-1.5 2.4-3.2-.3-2.5 2.2-4.2-.1-3.1-1.3 1.3 2.2 1.6 3.6-3.7 1.7-2.1 2.6-2.8 2.8-1.5 3-.2 3.2-2 2.6 2 3.1 3.1 1.2 1.6 3.9-.2 1.9 3.3 1.3 2.5 1.6 3.4 .3 3.9 1.2 3.7-2.6 3.5-1.1-1.3 2.8-3.1 .7-1.4 3.1-2.3 1.5-2 2.8-1.3 2.2-.2 3.6-2.4 3.7-.5 2.1-3 2.7-2.8 3.1-1.8 2.9-2.5 1.4-2.2 1.3-3.6 1.6-2.6 .5-3.2 .9-2.9-.6-2.9-2.3-1.5-2.3-2.8-2-2.5-.1-3.3-1.3-1.3-3.2-3-2.6M698.5 667.6l.7-2.2 0-.9M695.4 666.3l-1.3 1.4-.5 1.3M689.7 679.2l-1.5-.5-.4-1.7M688 685.4l2.4 .9 1.9 .1M692.5 698.1l1-1.1 1.6 .3M695.8 699.4l-1 .7-.3 2.1M708.4 702.3l-1.4-.3-1.5-.2M707 705.4l1 1.1 .3 1.3M704.7 706.9l-1.3-1.6-.9-1M702.7 709.7l-1.3-1.2-2.2-.2M695.3 724l-2.4-1.6-1.7-.3M690.7 730l-1-.8-1.2-1.4M688.2 731.4l-1.4-.8-.4-1.7M686 732.7l-1.7-1.5-2.2-1.2M679.8 734.8l-1.5 3.1-.2 2.5M676.6 735.7l1.6 3.1 .7 2.4M669.3 730.5l1.8-2.2 2.1-1.3M659.4 723.9l2.1-1.5 1.2-1.5M704.1 712.6l4.3 2.9-3.6 1.4-2.1 2.9-.5 2.4-2.7 3.4-1.2 1.5-1.3 2.5-3.5 1.5-1 3.2-1.5 1.5-3.4 2.1-2.3 2.2-3.3-.5-3.9 .5M698.3 727.1l-1.2-.8-.5-1.8M682 739.6l.4 1.1-.9 1.3M621.6 716.9l1.2 .6 4.4 1.1 1.7 2.7 3.4-2 2.4-.9 3.4-.2 2 1.1 2.5 2.1 .7-.1 3.1-.7 .9-.9 3.3-2.8 .2 2.5 1.3 1.3 1.4 3.5-.1 1.6-1.9 1.7-2.4 2.4 1.5 1.8 1.5 .8 2.8 3.2-1.2 2.1-.7 1.5-1 3.7 1.5-.5 3.6-.8 3.6 1.3 .1 3.7-.1 2.1-2.4 1.9-2.2-2.4-2.6 1.9 .6 3.4 .8 2.4-1.9-.7-4.1-.7-1.2-1.5-3-3.2-2.3-.5-.5-2.1-3.7 2.2-1.9-.3-1.6 1-2.6-2.9 .1-.6-3.3-.8-2.5 .4-3.3-1.9-.3-3.2-2.2 .1-1.2-2.9-.6-2.7 1.7-.7 2.6-2.5 1.4-1.1 2.5-3.5 .4-2.3-2-1.6-1.6-2.8 0-2.9-2.2-1.4M610.1 748.8l-.2 3 1.6 2.7 3.4 1 2.4 1.9 3.2-2.4 2.6-.5 1.7 1.5 2.6 2.9 1.6-3.1 2.8-2.7 3.5-.7 2.3-2.2M617.3 757.4l-1.1 1-1.9 1.3M620.5 755l2 2.1 .7 2.1M624.8 756l-1.3 2.4-.8 1.4M637.6 750.2l-.5 .5 .4 1.5M610.1 756l1.6 2.1 1.3 3.7-.7 3.6-.8 2.2 2.2 1.9 2.2 2.4 1.1 1.4 3.2 2.9M613.7 769.5l-1.3 .5-1.3 1M620.2 776.2l-.6 3.1-.8 2.5M618.8 758.9l1.9 1.9 3.2-.2 2.1 1.2-.3 3.3 3.2 .5-.1 2.9 .1 2 3.5-.3 2.3 1.7 .6 3.3 .9 .3 2.8 3.6-.2 1.7-2.7 4.1 1.5 2 1.2 2.1 3.1 .3 1.3 2.8-.5 1.4 2.7 1.1-.6 3.3 .8 2.4 1.9 2.4 1 .7 .6 3.2 2.2 2.3 2.5-.7 1.1 2.8 1.4 2-.8 1.6 1.1 1.6 1.2 3.4-.3 1.8 .7 2.1 2.2 2.1 .3 2.7-2.6 2.2-1.1 1.8-.6 3.3-.2-2.8-2.9-.7-1.3-2.3-1.1-2.7-2.7-1.3-1.4-1.4-.6-1.9 0-2.9-1.1-2-2-.9 .2-2.8-1.1-3.1-4.1 .3-.5-3-.9-2-1.1-3.3-2.8-1.6 .4-1.8-.3-1.5-1.2-3.6-2.8-.7 0-.9-.3-1.9-1.8-1.9-2-3.3-.3-2.1 1.9-1.2-.9-4.2 .5-1.9-1.5-2.7-1.5 .2-2.5-2.2-.3-2.5-.5-2.1 .8-2.8-.5-3.5-1.2-1.7M611.5 764.7l1.5 3.6 1.7 3 2.6 2 2.2 3-.2 3.5 2.3 2.2 .2 2.2 2.6 3.5 .1 3 1.7 2.7 .1 4.6 1.1 2.8 1.2 2 2.4 3.6 .8 1.7 3 2.3 1.3 3.5 2.6 2.5 2 3.2 1.2 2.9 2.3 1.9 1.8 2.3 1.7 3.1 3.7 2.4 2.1 3.4 2 0 3.8 1.4M624.4 787.7l-.8 .8-1.5 2.2M624.5 790.7l-1.2 .6-1.7 .8M627.4 800.8l2.7 1.3 2 0M634.8 810.4l1.2-.6 1.1-1.5M638.7 816.4l-1.8 .8-2.1-.4M640.7 819.6l2.1-1.9 1.3-1.3M647.7 829.8l2.3-.3 1.4-1.1M652 795l.7 3.7 2.2 2.1 .3 2.6-1.7 3.2M653.5 806.6l-3-.7-1.8 .2M678.1 786.4l4.3 1.4-3.3 2.3-2.5 3.5 .1 3-1 2.5-.5 3.2 2.8 2.3 3 3.5-2.3 3.6-2.1 2.2-2.7-1.2-4.5-.3 3.5 3.2 2.3 2.6 2.6 .9 3.1 2.6 1.5 .8 1.6 3.2-.1 2.6-2.3 3.3-2.1 2.5-1.4 3.5-1.5 2.3M682.4 787.8l.1-1.9 .9-1.2M675.7 799.1l2.5-.4 1.2 .5M675.2 802.3l-2 0-2.7-.8M678 804.6l-1.5 1-.3 2M676.6 813.9l.1 1.5 1.4 .7M673.9 812.7l2-2.5 1.5-1.7M669.4 812.4l-.2 .9-.5 1.9M682.4 822.5l-1.4 2.7-.6 2.5M683.9 828.3l3.2 0 2.3-.9M676.6 792.2l1.4-1 2.4-.9 .9-2.6 2.6-1.3-.5 3.3 1.6 0-1.6 2.8 1.7 4.3-.5 .4 .7 3.6-.5 2.5-1.2 1.2-.9 2-.3 3-1.9 1.1-3.9 1.8 .3-2.4-1.8-3.3 .9-.8-.8-3.6 1.6-3.6-1.6-2.7 .1-1.7 1.3-2.1M689.6 784.9l1.6 2.1 .3 3.8 1 2.8-1 3.8-.3 2.1-1.6 2.8 2.5 3.3 .4 2.5-2.7 2.5-1.6 3.3 1.5 2.8 2.8 2.9 2.9 2.9 1.5 2.9 .4 2.7 1.1 3.5 1.4 2.5-1.5 2.9M691.2 787l-1.7-.1-.8 1.1M692.5 793.6l-3 1.3-2.1 .7M692.1 805.6l1-.6 .7-.6M692.5 808.1l1.1-1.3 .6-1.6M689.8 810.6l-1.1 .2-2.2-1.1M695.4 822.5l.4-1 1-1M696.9 825.4l-.3 1.5-1.2 .6M698.4 831.6l1-.5 1.8-1.8M704.1 795l2.9 2.9-.8 1.6-2.8 2.5-.7 3.2 .3 3.5-.9 2.9 .6 2.3 .3 1.9-1.6 3.9-.2 2.8 1.4 3.8 1.5 3.5 2 2.4 .9 3.4M707 797.9l1.4-1.2 .9 0M703.4 802l-2.5 .3-2.4-.1M701.2 822.5l-1.6-.2-.5-.5M707 835.6l-2.3 1.3-1.7 .2M734.5 760.3l-1.9 2.7 .9 4.8-1.9 2.7-.2 3.4-2 2.3-.7 2.9-.1 3.5-1.8 2.5-1 2.7-2.9 3.6-1.4 2.2-2.4 3-.5 4.2-1 2.2-1.9 3.6-1.5 4.5-1.4 2.8-.6 3.4 .2 3.1-1.1 2.1 3.2 3.5 1.2 2.3-1.9 2-1 3.8 1.5 2.7 1.4 3.1 3.8-1.5 2-1.4 3-2.7 2.8-3.1 3.7-3 2-2.8 3-2.8 2.8-1.5 2.7-2.1 3.1-2.3 2.8-1.9 3-.9M733.5 767.8l-2.8 .2-2.4-.1M726.8 785.1l1 .8 2.4-.3M721.5 793.6l-2.6-1-1.6-.6M717.6 803l-1.6 .3-1.3-1.1M712.4 820.4l2.5 .5 1.8 .1M711.3 822.5l3.1-1 2.6-.2M712.8 834.1l-2.4-.7-3.4 .3M714.3 836.8l1-.9 .4-1.2M715.7 839.9l1.1-1.5 1.7-1.6M721.5 837l1.5 1.5 .2 .2M744.6 816.7l.5-2.3-.8-2.9M731.6 760.3l4.3 .7-.5 1.4 .8 4.2 .5 .8-1.7 3.9 .9 2-1.7 3.5 1.9 1.6-2.6 2.1 .9 1.6-1.4 2.8-1 2.5-.6 2.7-2.2 1.5-1.9 2-.3 2.1-2.1 .9-3.2 2.6-.2 1.6-3 .7-1.4-2.1 .6-1 1.8-4.3 2.2-1.8 1.2-1.6 2.6-1.8-1.6-3.1 1.1-1.6 2.3-2.2 .3-2.8 .7-2 .8-1.6-1.4-1.8 1-3.3-.7-3.4 .7-.4 2.3-2.8 .6-3.6M735.9 766.1l3.9 2.1 1.9 2.3 2.9-1.3 4.4-1.6M741.7 770.5l1.5-.4 2.2-1.6M734.5 783.5l2.9-.4 4.3 .4 3-1.3 5 .5M727.3 790.7l2.3 1 3.1 .3 3.2 .2 2.2 .5 3.4 1.2 3.1 1.1 3.7 .3 2.1 .5M735.9 792.2l-1-2 0-1.1M744.6 795l.6-1 .8-1M715.7 812.4l3.2-2 2.6-.9 3.2-1.8 2.6-1.1 3-.3 2.7 .3M733 806.6l.3-1.5 1.1-1.1M741.7 811l3.8-.4 2 .4 2.9 4.3M715.7 825.4l1 .8 5-2.7 1.8 .9 2.6-.1 1.2-1.8 2-1.5 3.4-.4 .3-1.4 4.4-1.7 1.4-.8 2.4-.5 1.1 .2 3.2-.3 2.8-.8 2.1-1.4 .4 2.3-1 3.5 .6 2.8-.9-.6-4.8 3.1 .7 .5-3.7-.1-3 1.8-.6 1.4-4.4-1-.7 2.2-3 1.6-1.8-.9-2.7 4-1.1-.4-4.3 1.3-1.5-1.3 .4-2.9-1.3-.3-.5-3.3-1.5-2.2M669.4 845.7l1.4-1.2 4.7-.7 1.5-.5 .7-.2 3.3-.3 .8 2.6-.4 1.6 1.3 1.3 .8 4.1 .4 2-1.3 .4-3.2 2.6-1.3 2.6-4.4 .4-2 1-2.3-1.4-1.1-2 2.3-2.9-1.8-2.3 .2-1 .7-3.6-.3-2.5M704.1 857.3l3.6 0 2.4 0 2.2-.7 3.4-.8 3.7 1.2 2.7-1 1.7 .9 3.5 .4 3.7-1 2.9 1.2 1.7-2.1 3.2 .4 3.2 .8 3 .4 4 .3M707.7 857.3l-1.6-2.4-.8-2.2M712.3 856.6l-1.2-1-.9-2M719.4 857l-.5 2.5-.6 2.8M738.8 855.8l1.8 2.1 1.4 1.9M750.4 828.3l-2.1 1.3-3.7 3.1-3.4 1.4-2.8 .8-2.5 2.1-3.1 2.7-2.7 1.6-2.8 4.4M748.3 829.6l-1.3-1.2-1-1.1M735.9 837l.2-2.9 0-2.6M732.8 839.7l.7 1-.3 1.1M424.8 861.5l-.4 2.1-1.4 1.7M434.3 863.9l.5-2.5 .7-3.3M438 864.3l.7-1.5-.1-1.5M438.9 866.3l2.5-.3 3.4-.5M452.8 875.9l1-1.8-.2-2.6M462.5 879.5l0 1 0 2.2M468.1 883.6l2.3-1.1 1.9-.1M469.2 884.1l1-1.5 .9-2.6M471.3 887.5l.1-.4 1.4-1.5M471.3 903.4l1.8 .3 .6 1.5M458.3 887.5l2.2-.2 1-2.1 2.7-1.9 .3-2.7 2.5-.3 3.3 1.7 1.9 1.9 .6 .7-1 2.9 2.7 2.3 .1 1.3-.2 3.5 1.9-.5-.7 3.5 .4 .6-3.4 2.5 .6 2.4-1.4 3.1-.5 1.5-1.8-2.4-2.5-1.9 1.6-2.8-1.6-2.1 1.4-3.8-2.3-.8-2-3.5-2.7-2.4-3.1-.5M468.4 907.7l2.7 1 3.1 1.9 4-1.3 3.2-.1 4.2 1.6 3.1-.2 1.7-2.6 2.6-1.7 4.3-2.9-1.1-2.8-.3-4.4 1.8 3.3 2.1 2.4 .4 2.9 1.5 2.9-4.3 1.2-2.9 1.7-2.9 2.3-1.5 3.5 4.4 2.9 1.9 2.8 3.8 3 1.9 2.9 2.5 2.9 3.8 2.9 2 2.9 1 1.8 1.2 2.6 2.1 2.8 1.3 3.3 2.2 1.6 2.3 3.8 2.2 1.9 3.3 1.2 1.7 2.7 2.1 1.3 1.9 .8 3.3 2.2 2.2 3.9 3.5 1.9 2.8 3.5 3 2.3 3.4 3.5 2.4 2.3 1.7 4.5 1.2 2.7 3.6 3.4 2.2 2.4 .7 2.3 1.9 2.6 .3 3.8 .5 2.8 .9 4.4 4.4 2.9 3.7-2.8 2.1-1.5 .5-2.9 .9-4.4-2.4-2.6-1.9-3.2-1.5-3.7-1.4-2-2.3-2.6-.6-3.2M471.1 908.7l-.9 .9-1.5 1.3M474.2 910.6l-.2-2.6 0-2.8M504.6 930.9l1.3-1.6 .7-1.7M508.4 933.8l.2-1 1.6-1.7M512.6 941.1l1.4-1.9 2.9-2.1M516 947.2l-2.6 1.1-1.8 1.9M518.2 948.8l-.8 0-2 .7M522.7 954.5l2.1-1.2 1-1.5M527.7 958.4l1.4-1.8 2-3.1M537.2 966.6l.8-2.3 .4-2.3M543.5 972l1.9-2 1.6-2.6M561 993.1l3.4-.5 2.1-.8M564.4 1004.6l-1.6 .4-.7 .5M571.1 990.8l-1.7 .7-1.5 0M567.4 986.2l-2.3 .9-2 .2M469.9 917.1l4.2 1 3 2.7 2.8 1.5 3 1.4 3.4 1.9 2.4 3.8 1.6 1.9 2.8 2.2 2.8 1.7 2 1.9 3.8 2.5 .6 2.4 1.4 2.9 2.3 3.3 1.4 3.3 2.8 2.2 1.6 3.2 1.6 1.5 2.6 2.6 1.6 3.2 2.4 2.1 1.9 2.2 3.6 1.5 2.2 1.4 1.3 2.3 1.6 3.5 3.2 .7 4.1 2.2 3.1 1.7 2.6 2.6 .6 2.2 2.3 3.6 .8 3 2.1 4.2 1.7 3 1.8 1.8 .9 2.5 1.5 2.9-.1 2.9 2.4 2.6 2 3.1 3.3 2.8 2.4 1.6 2.6 1.2 3.8 .4 3.8-.2 3.3 .3 2.8 .2 2.5 1 2.5 2.6 3.3 1.7 3.4 2.6 2.4 3.2 2 0 4.1 1.5 2.6 1.4 2.6-.1 3.5 .1 2.6 1.4 3-.9 2.8 .2M477.1 920.8l-.1 .4-.9 1.4M479.9 922.3l1.2-1.8 0-1.7M486.3 925.6l.1-1.6 .7-2M488.7 929.4l-.3 .8-1.5 1.8M502.3 942l-1.6 .9-1.1 2.2M513.4 958.4l-2.3 1.2-2.6 1.5M517.6 964.2l2.2-1.4 2.4-1M549.4 997.4l1.7-.7 2.9-1.5M553.8 1004.7l2-.7 3.3 .8M555.2 1010.5l-.5 .1-1.5 .6M557.6 1013.1l.8-1.6 2.1-2.5M562.9 1019l-2 1.4-2.2 .4M565.3 1020.6l.9-1.8 1.6-1M578.8 1022.3l-.6 1 0 2.1M613.1 1037.9l-.3 1.3 .2 1.6M618.9 1037.2l1 1.5 .2 2M480.7 933.1l4.6-1.3 3.4-.9 2.7 1.7 3.1 2.6-1.6 2.1-2.8 3.7-2.9 4.4-2.1-1.2-2.2-3.2M485.3 931.8l.4 1.1 1.7 1.1M482.9 941l.5-.2 .9-1.3M519 923.7l.8 3.8 .7 1.9-.5 3.4 1 3.3-1.2 2-3 2.4-2.1 .5 2.4 3.4 .5 2.4 3.6 0M519.8 927.5l-2.1 1.3-.9 1.9M520 932.8l.8-.4 1.8 .2M536.4 949l-2 3.8-.9 2.7-4.3 1.4M534.4 952.8l2.7-.2 1.4 .2M529.2 956.9l1 2.4 0 3.1M536.4 961.3l4.5 .5 2.7 2.4 2.2-1.4 4.3-.7 2.2-.8M543.6 964.2l.5-3.4-.7-2.3M539.3 988.8l3-1 2.8-.5-2.9-4.3M539.3 1001.8l4.2-1.3 3-.2 2.9 2.1 2.9 2.3-1.3 3.3 1 2.7-1.1 2.6 2.3 3.6 .6 2.2M552.3 1004.7l-.6 1.2-.9 .7M551 1008l-2.8 .9-1.5-.1M552 1010.7l3.4 .1 2.2 1.4M553.8 1019.1l-2.4 2.8-1.9 1.3M575.5 975.7l-2.1 2.7-3.7 3.1-1.8 1.9-1.1 3.9 3.8 1.3 2 1.6 3.1-1.4 3.6-.5 2 .5 3.4-.5 2.3-1 2.9-1.4 3.2-.2 2.6-1.3M579.3 988.3l1.2 2.4 2.5 2.2M589.9 985.9l.7 1.1 1.2 1.4M595.7 984.4l-.7-2.9 0-2.6M575.5 993.1l3.9 1.8 3.3 1.1 2.3 3.5 3.5 2.3 4.2 1.8 3 1.1-3.4 2.9-2.4 1.4-2.8-1.1-2.6-.7-3.2-1.1-3.3 2.6-2.5 1.8M588.5 1001.8l-2.5 1.8-1.7 2.4M592.7 1003.6l-.7-1.5 .6-1M581.3 1006.1l.5-2 1.3-1M578 1008.7l.1 2.8 1.4 2M552.3 893.3l.7-.8 4-2.4 1.1-2.6 3.4 .8 0 .1 2.8 3.1 2.5 .3-2.7 2.7-.2 3.1 1.1-.4 3.9 1.8 2.2 .1 3.8 .4 .2 .2 3.3 2.3 .5 1 .9 2.6 2.9 3.6 2.5 .8 3.5 1.1 1.2 1 1 .4 4 3.9 2.3-.8 1.4 2.3 1.5 1.2 2.2 1 2.1 2.1-2.5 1.5-.4 4.3-1-.8-3.3-3.5-1-1.9-3.3-1.9-3-.6-4-2-2.3 1.9-2.3-1.3-2.9-.1-2.9 1.5 .4-2.8-.4-3.1 1.4-2.8-.5-1.9-1.6-1-4.4-1.2-.7-3.1-.9 1.6-2.9 2.5-1.5 1.2-.5 1.9-3-2.2 .5-1.3-3.3-2.3-2.9-1-2.9-1.8 .5-2.6-1.1-4.1 .6-2M604.4 922.2l.7-.1 4.6 1.5 2.2 .5 .8 1.5 1.7 2.2 2.1 .3 2.4-.1 1.9 .7 3 3-.6 .2 4.1 .9 .9 1.9 2.2 .5 .5 1.9 1.5 3.1 2.4 .8 .5 2-.2 2.8-.7 1.4 0 3.5-1.1 1.9 .1 1.4-3.3 3.8-1.8 2.1-.8 1.4-1.8-1.8-3.9 .3 1.1-3.5-.9-2.7 1.2-2.5-.6-2-2.6-2.2-1.1-3-.5-3.1-1.3-1.2-2.2-1.1-1.8-3.3-2.8-2-.5-3.3-2.5-.5-1.3-2.2-.8-2.6-.8-2.4M584.1 939.6l2.1-.5 .8 2.6 3.6 1.2 2.2-.4 3.8-.5 0 1.3 1.7-1.2 2.5 .9 3.6 .9 2 .2 2.9 2.8 2.6 .4 1.2 .9 2.7 2.4 1.8 0 1.3 2-.5 3.1-1.7 .8-1.5 2.9 .8 1.9-3-2-1.6-2.8 .3-1.2-3-1.3-1.5 .7-4-.7-3.1 0-.3-1.2-1.2-3.1-3.1-.6-1.9-1.8-2.3 1.1-1.4-1.6-.1-2-3.7-2.6-1.1-1.2-.9-1.4M611.6 954l.4 1.6 2.1 1.1 2.6 3.9 2.2 .7-.2 2.2-.4 3.6-.9 2.8 .9 .3 4.5 1.6 1.9-.4-.8-.7-3.5 1.8-2.4 2-2-.2-.7 3 .5 3.9-1.3 1.8 1.2 2.5-.4 1.9 2.1 2.8-2 3 .4 .2-1.4 4.4-1.3 1.1 2 2-.5 2.9 1.4 2.3-2.2 2.9-.6 1.2-3 .3 2.2 1.7-.8 4 3.9-1.1 .5 0 2.9-1.9 2.9 .1 2.3 1.5-1.7 3 2.3 2.8-1.4 1.2-3.4-.9-3.3 1.4-.4-1.4-3.1 1.1-2.4 1.2-3.8-2-2.5 .8 .2-2.5-1.5-4.7-.1-1.5 .1-1.5 .4-2.9 2.4-2.5-.1-1.7-1.6-1.9 1.2-2.6-1-2.8 2.7-2.8 .2-2.1 1.4-2.3 .6-3.4-2.3-2.8 .3-2.5 2-1.4-.8-2 3.5-3.6-.4-1.7-1-1.3-2.5-3.3-2.3-1.1 1.4-.4 4.4-2.5-.5-1.6 1.6-2.4-.4-3-.7-3.2M581.3 1006.1l2.9 2.6 1.8 1.5 2.5 .4 1.4 2.7 3.1 1.3 2.8 1.3 2.8 1.8 3 1.6 2.8 2.7M589.9 1013.3l1.1-2.2 .7-2.4M598.6 1017.7l.9-2.7 .9-1.4M511.8 873l2.5-2 .5-3 1.5-.3 1.3-1.9 1.9-2.4 3.1-1 1-1.3 1.2-1.1 3 .4 2.8-.4-.1 3.4-1.6 .6-2.3 1.9 1.8 2-2.1 3.7-3.1 2.2-1.4 .3 .3 .9-3.1 2.4-3-1.8-1.1-1.1-3.1-1.5M546.5 868.7l2.6 1.5 2.8 2.9 1.9 2.8 2.1 2.4 1.8 1.5 3.3 1.9 1.8 2.4 .7 2.8 1.8 2-2.9 4.4M604.4 860l1.6 3.8 .8 1.4 1.9 3.5-.4 3 1.1 4.4 .8 2.7 .6 2.5 1.8 4.9 .5 2.7 1.4 5.1M606.8 865.2l-3.3 .5-2.3 1.4M614.5 894l-2.1 .2-2.1 .4M598.6 871.6l1.4 3.6 1.2 3.2 1.8 3.3 1.9 2.3 .9 3.4 1.5 1.5 3.3 1 .6 1.3 3.3 2.1M603 881.7l.3-.4 1.7 .5M610.6 889.9l.1 2.7 0 2.3M614.5 893.3l-1.1 .3-1 .8M413.4 860l3.2 .3 2.6 .7 2.9-.3M428.6 969.9l5.1 1.5 1.4 4.3-3.6 2.9 2.7 1.7 2.4 1.2 3 2.9 2.8 2.9 2.4 1.3 3.4 .2 3.3 3 2.4 1.3 3.8 2.4 2 .5 2.9 .9 4.4 .5 3.1 .5 4.1-.5 1.2 4.2 .2 3.1 1.9 2.3 2.5 2 2.5 2.9 3.3 1.4 .9 3.2 2 2.6 3.3 .6 2.5 2.3 2.9 3.3 2.8 2.5 .9 2 2 3.8 1.3 2.7 3.1 1.6 2.4 1.1 3.4 .4M431.5 978.6l1.9 1.2 1 1.8M442.4 987.3l-2 1.2-2.3 1.7M444.8 988.6l.9-2.2 1.6-1.5M448.2 988.8l-.2-1.1 .4-2.2M453.9 993.1l2.7-1.2 1.7-1.1M457.7 995.5l.9-.3 1-1.4M462.6 996.9l.3 2.3 1.1 2.3M470.1 997.9l.1 1.6 1 .8M477.5 1007l-2 .9-1.4 .2M480 1009l-1.5 1.2-.5-.2M482.5 1011.9l1.7-.3 .9-.9M500.2 1027.8l.1 2-1.3 2.2M507.5 1037.9l.9-1.2 1.3-.4M509.9 1039l2.1-1.1 1.3-2M485.8 1017.7l2.4 1.2 1.4 .9 4.1 .2 .8 .6 2.6 .9 1.5 2.4 1.8 2.1 .8 1.5 1.9 1.8 .9 2.6 1.1-.1 1 3.9 2.3-.1 2 2.3 2.9 2.9-1.1 .6-1.9 2.6-1.7-.7-4.9 3.5-.6-.2-2.3 .4-4.9-2.2-1.4 .4-1.9 2.4-3.9 .5-3-1.8-.7 .6-3.6-.3 2.1-2.5-.6-3.3 1.8-1.8 2.5 1.3 4.4-.9 1.3-3.1 3.4-2.1 1-.6-2.2-1.8-.1-1.7-1.9-.6-1.5-3.1-.3-2.5-1.5-2.4-1.5-2.3-2.5-1.5M401.9 998.9l3 .8 2.8-.8 .8 3.4 2 2.4-2.8 2.9 2.3 0 3.4 0 .5-1.5 3.4-3.1 .5-2.7 1.2 2.1 3.1 2.3 1.9 .5 3.9 2.4-2.3 2.8-.6 2.9-1 3.7-.4 2.1 2.4 1.2 3.4 .3 2.5 2.1 1.8 3.7 3.6-2.6 2.2-3.2 2.1 2.2 .8 3.6 2.9 .9 2.9 .5M408.5 1002.3l-1.2 1.5-1 .8M417.8 1000.3l-1.6-.2-2.7-.6M419 1002.4l-2.3 .6-3.2 1.3M422.1 1004.7l-2.9 1.6-1.6 1.2M424 1005.2l0 2.5 .6 1.8M425 1013.3l2.3 .2 3 1.2M424 1017l-1.6 .7-.9 0M437.3 1023.8l1.5 1.1 .8 2.3M445.3 1027.8l3.9 .4 .6 .6 4.1 .5 3.8-1.3 2-.2 3.1 2.8 1.3 .7 2.5 1.1 .4 1.2 1.7 .2 4.4 1.3 1.1-.1 3.7-2.2 1.8-.3 1.7-.3 1.3 .5 3.7-.3 2.3-1 .1 4 1.3 2.7-1.4 1.3-1.6 1.2-3.7 2.4-.5 .7-3.3-.7-3.7 .8-1.7-1.5-2.3 .8-2.9 3.1-2 .4-3.5-2.3-2.7 1.5-1.1-2.1-2.9 0-2.8 1.9-1.5-.4-.9-2.3 .3-1.2-2.3-3.8 0-1-.6-4.4-2.5-.9-1.8-.9 .6-2.9M497.3 1051l2.7 3.7 3.1 2 3.5 2 2.3 3.8 1.4 2.7 1.5 4.6 1.5 3.8 2.9 2 2.1 3.5 3.6 2.2 2.3 3.1 .4 1.6 1.7 2.6 1.5 3.3 2.8 2.5 .9 2.2 2 3.4M533.5 1100l-1.6 1-2.2 .9M506 1048.1l2.5 3.8 3.3 2 2.6 2.4 3.2 1.9 1 3.6 1.1 1.9 .8 3.2 3.1 3.8 1.2 2 2.3 3 1 1.8 2.5 2.4 3.4 1.8 .5 3 3.4 1 1.4 2.7 2 2.2 .9 2.3 2.9 4.2 1.4 2.9M511.8 1053.9l.3-.9 .3-1.5M514.4 1056.3l1.8-1 2-.7M517.6 1058.2l-1.7 1.3-1.3 .5M518.6 1061.8l-2.5 1.9-1.3 1.9M523.6 1070.7l-2.6 .8-3.2 .3M528.1 1077.5l.1-.9 .7-1M530.6 1079.9l1.8-.8 1.3-.5M534 1081.7l.7-1.8 .8-.5M534.5 1084.7l.8-2.8 1.5-2M541.3 1090.6l-1.3 .4-1.6-.1M506 1075.6l4.4-2.9 1.4-4.4M510.4 1072.7l.5 1.7 .4 1.5M511.8 1068.3l-2.6-.7-2.8 .1M530.6 1079.9l3.2 2.3 2.6 .6 4.3 1.4M533.8 1082.2l.5-1.7-.3-.8M536.4 1082.8l1.8-2.3 1.1-2.2M567.5 1037.2l3.1 .2 1.4 3.7 2.4 .1 1.1 1.1 1.8 .2 1.8 1.4 1.6 3.6 3.4 .6 2.2-1.5 2.8-1.2 2.8-1.4 .9-.3 1.3-1.5 4.4 1.2-.1-.6 3.1-2 .8-.1 3.4-2.1 2.6-.8 1.9 .1 3 .5 2.5 .3 3.2-1.5 0 .9-3.2 1.4-.8 2.1-1.3 2-.5 3-3-.2-1.5 2.1-4.2-.4-2.4 1.5-2.7 0-.7 2.8-1.9-.8-4.3 1-2.5 1.3-3.7-1.4-2.9 1.7-2-1.8-2.8-1-1.9-.6-1.1-2.7-.2-1.8-1.2-1.2-1.4-2.4-3.8-3.1 1 .8-2.4-3.2M618.9 1051l1.4 .3 4.4 1.1 1.1 3.3-.1 .5 2 2.7 1.4 1.1 1.3 2.5 .2 2.6-1.1 1.7 .9 2.3 .6 2.4 .2 3.6 .7 1.9-.6 3.8-.2 .4 2.2 3.5-1 1.3 1.4 2.7-.4 2.8 .2 3.3-2.7 1.5-.4 1.8 0 1.9-1.1 .4-2.4-.9-4.1 .6-2 0-1.9-.1 .1-3.2 1.9-2.5-.2-2.4 2.2-2.1 .3-1.2-1.5-1.3-.2-3.5-1.4-2.1 .5-2.8-1.7-1.9-.5-3.3 2.2-1.4 1.3-3.1-.1-1.8 0-2-2.1-1.1-1.4-3.3-1-1.2-1.3-1.6-.3-1 1.9-4.2 1.3-2M569.7 1079.9l2.9-.1 2.7 2.3-.2 .8 3.3-.1 .1-1.5 .4-2 1.9-2.5 .1-2.7 1.9-3.2 1.3-1.1 2.7 .7 3.1-2.2 .1 3.6 2.3 1.7 2.9 1.5 .5 1.9 2.5 .3 1.7-1.5 2.3-2.6 2.2-.5 3.7 0 2 2.9-.2 1.5 3.2-.1-.7 2.8 3.5 2.3 .6 2-.5 1.6-.1 3.4-.1 .5-3 2.2 .3 2.6-3.4 .4-1.2-.5-3.1-2.2-1-.6-1.1 1.7-1.2 1.8-3.5 4 0 1-2.2-.5-1.6-.7-3.7 1.2-.7 .3-3.5 .1-.9-.8-4.5 .5-2.5-.9-.7 .6-2.8 .2 .4-3.6 3.9 .4 .4-3 1.1-2.3-2-.6-.4-2-3.4-3.2-1.5-1.5-1.1-3.2-3.2-1.1M604.4 1053.9l3.4 3.2 2.4 2.5 1.8 2 2.5 3.8M346.9 1046.6l2.1 .5 3.7-1.2 2.9 3.6-2.9 4.4 .8 3.4 .5 3.1 .1 2.1-.3 2.8 1 4.5-2.3 2.2-2.7 2.1 2.8 1.4 1.5 2.9 2.8 2.1 3 .8 .7 2.1 2.2 3.7 4.3 2.9M355.6 1049.5l.8-1.4 2.1-2M352.7 1053.9l-3.3 .1-2.6-.7M353.5 1057.3l-2.6 0-1.4 1.3M352.6 1075.5l1.8-1.2 2.5-2.6M362.8 1087.1l-1.7 .3-1 1.5M359.9 1090l2.1 .5 1.2-.2 3.9-1.7 2.2 1.7 1.6-1.1 2.6 1.3 2.3 1 1-3.2 .5-2.6 1.8-1.6 2.5-1.3 1.5 2.9-.3 .6 .3 3.7 2.3 .9 4.6-.7 1.7-1.6 2.5 1.9 3.3 1-1.2 3.2 .4 2.7-.6 2.6-3.7-.8-1.6 .9-2.2-.5-1.8 .6-2.7-.7-1.7 .9-1.8 0-4.2-.8-.7 1-1.5 .1-3.3-.4-3.3-.1-2-.7-2.8 1.9-1.4-1.4 1-3.1-1.7-3.2 .6-1.9-1.4-1.8M447.4 1078.4l2.9 1.7 1.2 .3 3.8-.3 1.5-.2 2.1 1.4 3.6-.9-.6 2.1 3.6 .3 .9 1.9 4.5 1 0-1 3.3 1 .1-1.2 1.6-3.6 1.8-1.7 2.3-.8 1.5 3.8-.2 1.9-.4 1 .5 3.5 .2 .9 .8 2.8 2.4 1.5 1 3.5-2.9 2.7-2.1 0-3.1-1.3-2.1 2.4-1.3-.5-3-.6-1.3-3.1 .7-2.4-1.7-1.3-.6-1.7-3.1-2.8-1.8 .1-1.6-.7-2.2-2.4-1.7 .6-3.4-2.7-1.8-1.2-1.7 .4-2.5-2.2-1.2-2.2M523.4 1095.8l2.2 1.1 3.6 .4M676.6 873l3.3-1.3 .5-3.5 .3-.6 3.2-1.8 1.2 1.4 2.8 1.8 3.2-.3 .2 1 .4 4.3-2.2 1.5 1.1 4-1 2.2 0 1.4-1.1 1.9-3.3 .1-2.8-.5-3.4-1.5-.9-2.8 .5-2.9-.5-2.4-1.5-2M678.1 896.2l1-2.1 3.3 .7 1.4-1.2 4.6 1 1.2-1.3 1.1 1 3.1 4.5 1 1.5 .6 1.7 .6 1.9-.4 1.8-.7 3.1-.6 4.2 1.1 2-1 1.4 .1 3-1.2 2.9-2.3 .6 .1 2.2-3.2 2.6 .1-.1-2.7 3.3-1.6-3.5 .4-.5-2.8-1.9-.3-2.8 .8-1-2.1-4.8-.6-1.4 .5-2 0-2.3-1.5-1.5 1.1-1.3-1-5.3 .7-.2-1.9-2.9 1.1-3.3M683.9 932.3l1.4 4.4M714.2 933.8l-.7 4.3 1.5 1.5M713.5 938.1l2.6 .9 2-.3M714.2 961.3l.9 3.8 2 3.4M717.1 968.5l-1.3 1.1-.9 1.2M698.3 860l2.5 1.5 2.4-2.8 2.7 1.1 2.7-.6 1.8 .5 2.4 1.3-.3-1.1 4.9 1.5-.3-2.5 2 .1 4.7 1.9 .6-2.1 2.9 1.2 1.8 2.1 .9 3.8 .1 1.3-2.7 1.6-4-1-1.9 .9-2.9-1.2 .1-1.8-3-1.4-3.1 1-2.2 .8-1.4 2.7-2-.1-3-.6-2.8-2.3-1.6-3.2-1.3-2.6M721.5 875.9l1.1-2 3.7-1.4 2-1 1.8 .1 1.4 2.6 1.7 .1 2.1 1.4 .6 3.1 4.3-1.7 2.5 1.2 1.9-.9 3.2 1.6 2.5-1 1.7 .8 2.7 0-1.8 .9-2.3 3.2-.5 .4-2.6 1.3-3.2 .5-1.2 1-4.3-.1-.5 1.5-3.3 3.2-2 1.1-2.2-2.4-3.5-.5-1.2-3.3-1.7 .2-2.9-2.7-.7-2.9-.5-.8 1.2-3.5M793.8 880.3l-2.9 4.3-2.8-1.3-2.9 .2-3-.4-1.2 2-.2 3.8-3.2 1.3-4.1 .2-2.8 4.3 2.7 1.3 3 1.6-2.4 3.1-.5 2.7 2.8 1.4 3 2.9 2.9-1.5 2.9 .1 2.9 4.3M785.2 883.5l.3-2.2 .6-.8M781 885.1l1.7 .6 .4 .2M773.5 890.4l-.2-1.4-1-1.5M779.3 907.7l-1.1 .9-1.1 .5M717.1 896.2l4-.2 .8-2.4 4.3-1 1.1 .7 2.1 .4 3.4 1.2 1.7 1.3-1.6 2-.4 2.9 2.4 2.5-.2 2-1.7 2.1-1 2.3-2.7 1.2 .2 2.7 .1 2.6-2.3 1.4-1.3 3.6 .1-.6-1 2.9-.7 2.7-2.8 1.8-1 1.8-3.5 .8 .6-2-3.2-2.1 1.6-2.9-1.9-1.7 1.7-3.9-.8-2.1 .3-2.6 .1-2.7 .2-1.7 1.5-1.4-.9-4.8 .4-2.5 1.4-.7-1-3.6M735.9 903.4l2-2 2.8 2 1.4-3.3 2.5 .4 1.5 .5 2.8 3.5 0 .2 1.5 3 1.8-.7 1.4 2.1 2.7 .7 2.8 .8 2.8-.8 3.1 2.4 1.2-1.2 3.5 1.6 1 .9 2.1 1.1 3.6-1 2.9 1.4 1 0 4.3-.8 1.8-2.7 1.6-.9 2 1.6-.5 4.2-2.3 1.8-2 .6-1.4-.8-1.6-.1-2.8 .7-3 2.2-3.4-1.7-2.1 1.3-1.7-.3-.8-1-3.5 .2-3.5 2.3 .6 1.3-2.4-.2-3.4 1-3.4 2.7 .4-.3-4.5 .6-1.2 2.7-2.5-1.9-2.3-.7-.8-.9-3.1-.8-.2-2.2 1.6-4.1 .7-1.9 .8-1.9-1.9-1.1 1.1-3.6-1.5-2.5-1.2-2.1-2.3-2.3M747.5 929.4l3.4 1.7 4.1-.5 2.6 1.7 4.3 .8 2.5 .2 3.4 1.9 2.7 1.9 4.9 .8 2.5 1.7M755 930.6l.9-1.5 .2-1.5M775.4 937.9l-1 .7-1.6 1.1M747.5 935.2l3.4 .4 .6-2.4 2.4-.1 3.7-.8 1.2 .6 3 3.3 .5-.1 2.5 1.4 1.6 .1 1.8 3.4 2.5 0 .7 3.5-.7-.1 3.4 2-.6 3.3-1.6 .9-3.3 2.9-.8 2-.9-1.8-4.5-2.9-.4-1.1-1.4 2.3-4.4 .6-1.4-2.4-2.1-2.6-1.7 .6-.6-2.8-1.1-1.5 1-3.1-2.7-3.2-.1-2.4M733 967.1l1.4-2.4 1.9-.9 3.1-1 2.3-.1 .7 .7 2.3 .1 4.5 2.8 1.2 .8 0 1.5 1.2 2.6 1.3 1.4 .4 3.1-1.1 2.2-.7 2.4-1.7 1.1-2.3 1.6-3.5 .4-.4-1.6-3-2.2-1.8 .5-2.6-.7-.4-3.5-1.3-1.6 .7-2.5-2.2-2.6 0-2.1M750.4 958.4l.9-.8 4.2-1.3 1.6-1.1 2-1.4 3 1.8 2.1-1.7 .7-1.3 2 1.1 3.2 1.5 1.3-.9 2.1 1.2-2.3 1.3 .1 1.3-1.8 1.8-.9 2.5-2.4 3.8-1.3 .9-.7 .6-1.7 2.6-.5 1.4-2.9 2.6-1.6-1.6-2.3-.9-1.9-1.9-.8-1.4 0-3.9-1.8-1.1 .4-3.8-.7-1.3M799.6 945.4l3 2.1 1.3 2.2-2.9 4.3 3.7-.5 2.3-.6 3-.3M802.6 947.5l2-1.2 2-1M804.7 953.5l1.3 1.3 .3 2.3M801 946.8l1.1-2.2 3.2 .4 2.2 .3 2.5-1.4-.5 2.6-.7 .9 1 4.5-.3 3.3-.8-.1 .5 2.8 .8 3.4-3.2-.1 .6 1.4-3.5 1.6-.3-.8-2.7-2.3-1.3-2.7 1-1.9-.2-2.4-1.2-2.3 1.9-1.5-.1-3.5M788 969.9l3.7-1.9 .2 .7 3.8-2 2.4 .4 2.5 .3 2.3-2.4 2.5-.8 1.8 .3 2.8-.3 1.4 2.6-1.9 2.7 .6 2.1-.4 .8 1.1 3-2.1 2.6 .4 3.4-.5 2.7 1.7 .2 .4 3.2-.7 2.7-1.3 1.3-2.8 2.1-.5 2.4-1.9 2.2-2-.8-1.9 1.5-2.9 0-2.3 .5-.4 2.3-3.1 3-1.7-2.8 .9-1.8-1.6-3-.5-1.1 2.3-1.5 1-1.7-.3-2.4 2.8-3.1 .3-3-1.6-1.3-.1-4.4-.3-.8-3.3-2.8-.4-4.3-.4-.8M727.3 983l2-.8 2.4-.5 4.2-.2 1.8 2 2 .9 3 .7 1.9 .8 2.3 3-.5 .2 2.6 2.5-3.6 1.4-2.1 .2 .4 1.4-3.4 1.4-2.1 .8-.7 2.1-2.7 2.5-1.8 .4-3.9-1-.7 2.8-4-.4-.3-1.5-1.6-4.5-1-1.2 1-1.3 1.7-2.3 3.1-2.2-.3-1.1 1.1-4.2-.8-1.9M715.7 1003.2l2.1 .6 2.2 1 4.4-.1 1.7 .3 2.9 .1 1.4 0 4.7-1.9 .8 0 3.2 0 2.6 2.9-1.5 1.2-1.1 2.4-2 2.2-3.8-.5-.3 1.9-1.8 2.4-3 .7-.7 .2-3.1 1.1-1.9 .2-2.5-.2-2.9-1.5-1.6-1.6-.3-3.3 .6-2.8 1.2-3.3-1.3-2M762 996l3.6 1.2 .8-1.4 3-1.9 1.1 1.1 3-.5 3.3 .9 2 1.5 2.2 2.2 1.2-.2 1.4 1.6 1.1 3.1 3.3 1.1-.5 3.4-1.9 1 1.7 1.6-1.5 4.3-.7 1.2-1.3-.1-3.2 1.2-2.2-.2-2 2-.7-1.7-2-1.6-3-2.5-2.8-2.6-1.2-2.3 .4-.7-2.2-3-2.2-1.4-.7-4.4 1.9-2-1.9-.9M704.1 1033.6l2.3 .6 2.9 2.4 3.5 1.3 3.5 1.3 1.3-.3 3.9 .5 4-1.5 3.2 0 2.7-3 3.1-1.3M734.5 1033.6l-.9-2.8-1.4-2.6M762 1016.2l3.2-.5 .1 1.8 2-.6 3.4 2.2 1.9-.5 3.7 3-.6 .1 3.6 .3 2.2 .5-.7 2.1 3.7 1.5-.4 3.5 2.5 1.1-.4 2.4-1.4 1.1 .6 3.5-.3 3.2 0 1.4-.7 2.8-1.7 1-1.6 1.9-1.8 3-.2 1.8-2.3 3.2-1.1 .4-2.2 3.2-4.2 .8-1.5 2.1-.7-2.7-1.5-.9-1.1-3.8 .4-1.2 1.3-3.4 2.5-.7 1.7-3.1 .3-1.5-.6-2.4 .4-2.5-1.2-.7-1.1-5-.4-1-.9-2.5-1.6 .4-.7-4.4-2.6-.7-1.3-1.3 .8-4.5 .5-2.5 0-1.9M747.5 1030.7l1.6-.4 4.4 1.6 .1 1.6 4.3-1.1 1.2 1.2 1.7 1.8 2.2 3.9 1.6 .1 .3 2.9-2.1 1.6 .8 4.2-.9 2.9-.7 1.4-1.9 1.9-1.1 2.7-1.1 .7-1.7 1.9-2.3-.5-1.7-4.7-1.8-.5 1.9-.8 .2-4 .5-2.9 .3-1-3-2.4-1.6-1.5-1.2-1.9 .6-2.6-.8-2.2 .2-3.9M704.1 1043.7l-.7 2.3-2 3.1-.2 3.3-1.9 4-.7 3.2-.3 2.9-.3 3.2-1 4.1-1.6 2.9-.2 2.6-.4 3.6-.8 3.9 .2 3-1.4 3.7-.3 2 .2 3.2-2 3.3 .4 2M703.4 1046l1.7 .1 1.7 .5M695.2 1075.3l2.2-1.6 1.8-.3M692.5 1091.5l3.5-.2 2.2-.4M691.1 1100l-1.9 .9-1-.4M702.7 1053.9l1.2 .3 2.5-.9 3.5-1 1.4-1.3 1.5 .8 2.8 1.6 3 .5-1.8 2 .3 2.8 .3 .7-1.7 3.1-.7 .6-4 1.9-3 3.2-1 .1-4.1-.7-1.7-2.2-1.2-3 1.9-3.1 .6-1.9 .3-.5-.1-3M698.3 1071.2l2.6-.6 3.3-1.8 2.8 1 1.7 2.8 3.1-.7 1 2.2-1 2-.5 3.7-2 1.6-2.3 1.4-3.8 2.1-2 .8-3.9-2.5-1.9-.4 1.8-2.8 .7-2.1-1.3-3.3 .4-1.3 1.3-2.1M735.9 1046.6l-1.4 2-3.3 2.6-1.1 2.7-1.9 2.3-.4 4.1-.5 2.2-1.1 3.2-1.5 1-1.8 3.1-1.6 3.8-1.3 3.4-.9 3.2-1.4 2.1-2 3.4-1.6 3.6-1.1 1.2-.2 3.9-.9 2.1-.6 3.5M728.2 1056.2l-.7-.5-1.5-.6M727.8 1060.3l3.2 .6 2.4-.2M721.3 1073.6l1.7 .2 2.8-.9M720 1077l-2.5-.4-2.7-1.8M719.1 1080.2l-1.1-.7-2.1 .1M714.1 1089.3l1.1 0 .7 1.1M744.6 1048.1l-2.6 3.2-1.4 3.4-1.8 2-1.5 3.9 .6 1.9-2 2.9-1.9 3.1 .8 2.1-1.8 3.5-1 3.2-1.3 2.4-2 3.1-1.7 3.7-1.5 2.2-1.1 2.8-.4 2.6-1.2 2.1-1.3 3.8M734 1068.5l-2.8 .2-2.2-.4M733 1074.1l3.1 .5 1.8 1M730.7 1079.7l-1.5-1.3-1.3-.6M721.5 1100l-2-.8-.8-.1M715.7 1085.7l2.4-2 .9 0 4.9 .2 1.3 .1 2.1-1.2 .8 1.2 4.9 .4 .9 1.2 2 .1-.3 1.5-.5 2.1-2 1.9-.1 3.2-.7 2.8-4.8 .6 .1 2-3.2 .2-1.5-.9-3.4 1.4-3.8-.5 .5-2.9-.6-3.3-1.4-2 2.7-.8 0-1.8-1.2-3.5M764.9 1062.5l2.1-2 3.3-.9 1.2-.1 2 .1 1.8-1.5 .8-2.5 3.2-1.2 0-2 .9-2.3 2.5-.8 .4-2.9 2.3-1.9 1.2-2.2 .7 1.8-.7 1.4-1.2 3.1 .2 2.4-.5 2.9-1.5 1.5-1.6 3.6-1.8 1.6 1.2 3.4-2.1 1.4-1.3 .7-2.5 4.5-1.9 .1-.1 3.4-2.6 2.1-1.5 .8 .4 2.8-2 3-1.4 2.9-1.6 2-2.8 .9-.9 3.2-1.4 2.5 .4 2.1-1 .9-1.7 2.5-2.7 .2-1.4-.3-2.9-2.4 .1-2.4 3.2-2 .5-1.5 1.9-2.2 .1-3.5 .1-1.3-.3-3.6 2.2-1.4-1.1-1.8 2-3.5 1.3-3.8 .8-1.5 1.2-2.5 2.7-.1-.2-3.7M786.6 1033.6l-.4 3.1-2.9 1.3 .5 4.1-1.3 1.9-1.7 2.6-1.1 2.6-1 3.2-1.9 3 .3 2.5-2.1 1.7-1.8 2-.5 3.4-.3 1.8-2.1 3-1.1 2.9-1.7 2.8-1.3 3.1-.6 2.5-1.8 2.7-.4 1.9-.9 2-1.7 3.2-1.6 2.9 .1 4.3-1.7 1.9M786.2 1036.7l2.2 1.8 3 1.2M783.3 1038l2.6 1.4 2.9 1.1M778.7 1052.4l2.7 1.1 1.4-.1M773.2 1061.6l-1-.3-1.9 .2M772.7 1065l1.5 1 1.9-.1M772.4 1066.8l1.1 .5 2.4 .5M770.3 1069.8l-2.8-.1-3 .8M766.2 1078.6l.9 1.4 2 .1M765.6 1081.1l1.8 1 .6 .7M759.2 1093.8l1.5 .6 .9-.6M793.8 1004.7l-1.3 2.4-.5 3 .5 2.3-1.6 3.8-.6 3.9-.1 1.4-.5 3.3-1.7 3 0 3.7-1.4 2.1M792 1010.1l-1.5-1-.2-.2M788 1031.5l-1.1 .9-1.4-.1M810 955.5l-2.3 3.7-1.3 2.1-1 2.9-.5 2.3-1.5 2.7-.7 4.1-1.7 2.4-.7 2.2-.9 3.7-2.6 2.4-.1 3.3 .1 3.6-1.5 1.6-1.5 3.6 0 2.8-.3 3.7-.5 1.4-1 3.4-1.1 3.1M805.4 964.2l2.5 .8 1.7 1.8M801 975.7l1.4 .4 1.9 1.5M799.4 981.6l-2.3 .3-2.3 .4M792 1007.4l-1.6 0-.7 .8M790.9 1010.5l-2.1-1.9-2.8-.8M735.9 1085.7l.9 0 3.2-1.8 .4-3.5 3.2-.5 1.3-2.1 2.6-.8 .6 3.1 4.6 1.7 .6 1-2.1 1 1.1 4.8-1.7 1.6-2.9 3.2-.2 1-2.2 .9-.7 3.4-2.9 1.3-2.3 1.2-3.5-1.2-1.3-1.3 1.5-4.7 .4-2.6 .8-.3-.6-3.2-.8-2.2M368.8 1118.5l2.5-.3 3.3-.4M370 1114.5l2.1 1.9 1.6 1.8M376.7 1110.7l.4-.8 .1-1.5M391.7 1104.3l3.2 1.4 2.4 2.3 1.7 .7 4.3-.2 2.9-1.3 3 2.1 2.8 2.3 4 .7 3.2 .7 3.1-.6 4.2-2.3 1.9-2.3 3.8-.6 2.3 .2 3.5-1.6-.5 3.3-.9 3.9-3.7 .8-2.1 .7-3.8 1.3-2 .1-3.7 0-3.5-1.4-3.9-.9-3.4 .1-3.3 1.6-2.4 .6-3.1 .5-4.2-.5-4.3 2.9M397.3 1108l.6-1.8 1.8-.7M399 1108.7l.6-2.2 .4-1.7M416 1112.3l-.5 1.9-.8 2.6M428.4 1107.8l.5-2.5-.8-1.3M432.2 1107.2l2.1 2 2 .7M437.5 1109.1l.9 1.6 2.1 .8M417.8 1114.5l-1.9 1.2-.4 1.2M407.2 1115.3l-.6-3 .6-1.9M412 1105.8l3.7 .6 3.5 2.3-.3 3.9-2.1 3.8-.5 2.4 .9 3.5-.7 3.4 1.3 3.2M419.2 1108.7l-.8 2.2 .1 1.5M418.9 1112.6l-1.1-.7-.7-1.1M416.3 1118.8l.9 .3 1.3 .2M417.2 1122.3l-1.7 1-2.7 1.3M429.4 1121.7l2.3-2.4 2.5-2.5-.8 .2 3.2-2.5 1.8-.3 3-1.2 3.9 0 2.4 .6 2.3 .8 3.9 .1 4.4-.8-1.1 1.8-1.8 3.3-.9-.6-5.3 1-1-1.8-2.2 2.1-.9 2.7-2.7 .9-.1 3.5-.1 2.3-1.8 .2-.9 2.7-1.5 2.9 .2 2.3-1.6 2.1-1.8-3.1 .5-1-.2-3.2 .8-1.7 1.5-2.6-.8-2.9-1.7-1.6-2.5 .8-3-2.1M445.3 1144.8l2.1-3.1 3.7-1.2 1.3-3.9 1.5-1.9 4.4-1.4-2.1 3.8-2.2 1.6-1.5 3.3-1.9 2.6-2.4 1.7M451.1 1140.5l.7 2.5 .6 1.3M455.4 1118.8l1.3 3.7 1.8 1.3 1.2 3.7 3 1.8 2 1.5 2.3 2.5 3.2 .2 4 1.2 2.1-2.3 3.7-3.5 2.9 1.5 3.1 .1 1.7 1.1 3.9 .2 3.1 .8 2.6-.8 2.1 2.6 3.7 3.2 1.7 3.1 2.7 2.7 4.2 1.7 3 1.2 1.8-2.4 2.5-3.4 4.4-2.9 3.4 1.3 3.8-.6 4.3-.4 3 1.2 1.7 2 1.5 2 2.5 3.2 1.7 2.2 .2 3.6 1 2.9 2.1-2 .8-2.6 2.9-2.7-.9 3.4 .9 2.4-2.3 3.7-3.5 2.1-.7 2.3-2.2 3.5 1.7 3.2 1.2 2.6 2.6 1.9 3.2 2.4 2.9 2.3 .9 3 2 2 4.3-1 2.9-.5 1 2.1 .5 3.7 3.4 1.8 2.4 2.5 3 2.4 3.5 2.2 2.2 1.2 1.7 2.7 .4 3.1 2.2 2.9 1.6 2.4 1.1 3.8 .2 2.5 4.3 2.9 1-2.7 3.5-2.6 1.3-2 2.8-2.6 3-1.7 3.1-2 3.5-1.8 2.1-.5 3.3 .5 2.5 2.4M458.5 1123.8l1-.9 2-1.9M499.4 1134.4l.7-1.4 .3-2.5M503.1 1137.6l1.4-2.3 2.5-2.2M504.8 1140.7l1.4-.1 2.2-1.2M523.4 1137.6l-1.8-1.7-1.5-2.3M541.1 1143.1l1.2-.6 .9 .2M546.5 1155l.7-1 1.8 .1M551.4 1151.1l-1.7-.7-1.1-.1M545.8 1161.6l1.1 .3 1.2-.4M562.4 1181.5l0 2.4 .2 3M566.3 1183.1l-1.3-.2-1-.5M570.2 1188.6l-2 2.1-2.3 1.5M583 1199.6l-1.9 .2-2.6 1.5M583.4 1202.7l2-.3 1.2-.3M592.8 1217.2l-.4 1.6-1.7 1.1M597.3 1211.9l.5 .6 1 1.1M598.6 1209.9l.5 1.3 1.1 .6M616.4 1201.8l.3-1.3 .1-2.4M453.9 1121.7l.3 2.2 2.2 4.6 1.5 1 .4 3.8 1.6 1.7 2.4 1.6 3.2 2.5 2 1.3 3.8 3 4.3 2.9 4.2-1.8 3.1-1.1 3.2 .7 2.1 .2 3.4-.9 2.6-.3 2.6 1.4 3.4 .3 .3 3.8 1.2 2-4.4 2.9-2.3 1.6-3.4 1.3 3.3-.8 1.8-1.7 1.6-2.2 3.4-1.8 3.2 2.1 2.6 1.5 2 2.2 2.3 2.2 2.2 2.3 2.2 2 4 .8 3.2-.8 .8-3.8-.8-3.4 2.1-2.2 .7-1.8 1.5-3.3 2 1.6 2.4 2.8-.2 2.6 .2 3.2 1.3 2.9-1 3.2 1.1 2.5 1.8 3.5 .8 1.8 .3 3.4-1.6 3.1-.6 2.7-.7 2.9-.7 4.2 .7 3 2 1.5 3.8 1.4 4.3 .5 2.9 1 2.3 2.3 1.8-.4 3.2 2.4 1.8 1.8 3 3 2.4 1 3.5 3.6 2.3 2.2 2.8 2.4 3 3.4 .9 4 2 3.2 .6 2.1 0 4.1-.6 2.5-2.1 2.4-2.3 3.4-2.6 3.8-1.7 2-2.1 3.4-.8 2.4-2.3 1.6-2 2.7-1.7 2.2 .2 3.6 .5 2.1 1 3.7-1.6 3-1.3 2.8 2.9 1.4-2.9 4.3-3.7 2.8-2.1 1.6-2.2 2.1M457.9 1129.5l-.9 1.2-1.1 .9M462.3 1136.6l-1.3 2.4-1.8 2.1M465.5 1139.1l1.6-.5 .8-1.9M471.3 1143.4l-.5 1.4-1.8 1.7M475.6 1146.3l1.7-1.2 .7-1.5M479.8 1144.5l-1.4-2.1-2-1M488.2 1144.3l.4 .5-.5 1.6M491.6 1143.4l1.4 2.1 .7 3.5M500.2 1144.8l-1.2-1.2 .1-2M500.5 1148.6l-.7-.4-1.5 .3M497.3 1153.5l1.4 1.7 2.7 .9M491.6 1156.4l1.2 1.1 .6 1.8M498.3 1151.7l-2.2-1.6-1.8-1.7M501.7 1149.9l.7 .8 1.7 1.9M507.5 1153.5l-1.2 2.4-2.3 2.1M516.2 1162.2l.5-.3 1.9-.5M524.2 1158.4l-1-.7-1.6-.5M525.5 1152.8l.2-.7-1-1.1M532.1 1157.9l1.6 .8 3.1 1.2M533.5 1166.5l1.6-.2 .6-1.5M536.1 1171.8l-1.1 1.3-2.1 .9M533.5 1191.1l1.9-.4 .7-.6M555.6 1201.6l.9-1.3 1.5-2.3M572.6 1217.2l1.1-2.7 1.8-2.2M573.5 1221.2l-2.8 1.1-3 0M564.7 1248.1l-1.2-.6-1.5 .2M563.9 1250.5l-2.1 .6-3.2-.3M561.6 1252.1l1.2 2.3 2.4 1.1M558.6 1262.7l-1.3-.2-2.3-.3M519 1168l4.4-1.5 1.4-4.3M523.4 1166.5l-1.4-1-2.1-1.6M524.8 1162.2l1.7 .8 .7 .6M530.6 1163.7l-1.3 2.9-.6 3.6 .5 3.6-2.2 3.8-.7 3.4M529.2 1173.8l-2.1-1.1-3.3-1.2M532.1 1199.8l1.3 3.6 1.6 2.2 2.9 1.6 2.8 2.7 4.4-2.8 .3-3.1 1.1-4.2-.8 4-.7 3.2 .8 2.3-.5 3.2-.2 3.2 .3 2.9-.5 2.6-1.3 3.2M546.5 1199.8l-2.1-.4-1.3 0M545.8 1209.3l1.6 .4 2.6 .5M544.9 1221.2l3.4 1.1 2.3 .6M558.1 1227.3l1.9 1.5 3.8-1.3 3 1.3 2.7 .8 3.1 .6-2.5 2.4-3.3 3.4-3.1 1.5-2.7 1.4-2.9 1.4-1.4 2.9M563.8 1227.5l.7 .3-.1 1.7M575.5 1243.2l3.7-2 2.1-2.3 2.9-3.4 1.4-2.4 3.8 .9 3.4 2 4.4-1.5 .8-3.7 2.1-3.5 2.5 .3 3.2-.3 .5 2.9 1 4.3 1.9 3.2 2.4 2.6 2.8 3 3 2.8 .7 3.9 2.2 3.3 1.3 3.4 .9 1.8 .7 3.5-1.1 3.5-.4 3.7 .1 3-2.8 2.4-3 3.3-2.2 1.1-3.6 1.8-4.4 1.5M579.2 1241.2l2.3 .9 2.1 2.2M584.2 1235.5l-2.4-1.5-1.9-.4M597.2 1234.5l0-2.8 1.4-2.8M598 1230.8l2.4 .1 3.5 .1M605.8 1227.3l.4 2.5-.1 2.9M622.5 1258.5l2.8-1.3 1.5-1.9M623.2 1262l-2.9-.3-2.8 .5M621.7 1269.2l1.1-.2 1.8-.8M589.9 1253.3l3.2-1.2 1-1.3 3.3 .7 1.2-1 1.1-1 1.8-2 2.9-2.8 3.7 .5 .4-1.7 3.1-.3 2.7 .2 0 3.3 2.7 1.7 1.9 .6-2.6 1.1-.8 1.9-2.4 1.3-1.5 1.2-3.9 0-2.1 1.8-1.2-.1-2.7 1.6-.7 2-2.3 .2-3 .6-1-1.3-1.9-1.2-1.6-2.4-1.3-2.4M608.7 1282.3l-.2 4.4-1 4-.4 4.1-.6 3.6-.7 4.1-1 5-.6 4.4-1.2 5.1-.9 4.5-1 5.3-1 4.7-.2 4.1-.6 4.4M591.4 1327.8l7.2 .8M613.1 1291l2.5-2.8 3.3-3 4.5 1.7 4.1 1.2 6-.3 5.6 .3 5.6-.5 6-.3 4.3 .6 4.4 0 4.6 .2M621.8 1273.6l-.4 5.9-.4 5.7M616 1327.1l2.8 1.7 2.8 1.1 3.1 .1 1.9 2.4 2.9 .5 3.8 1.5 3.1 .5 2.4 .7 3.2 1.7 3.6 .4 2.8 0 1.9-.2 3.3 .5 1.4 2M618.8 1328.8l-1.2 2.1-.1 2.5M650.3 1337.5l-.2 2 .6 2.9M653.6 1338l.7-1.9 1-1.9M655 1309.8l4.4-2.9 4.6 0M664 1306.9l.5-2-.1-3.2M611.6 1217.2l-.4 4.2-.3 2 .7 3.9 1.7 2 1.2 3.8 2.8 1.7 4.5 1.2 2.6-.5 3.1-1 1.2 3.2 1.7 4.1 2.9-4.4-2.9 2.3-.5 1.9-2.4 3.1-.7 3.5-2.1 2.3 4.3 1.4 2.9 1.4 2.9-1 4.3-.4 1.9-2.8 1-4.4-1.5 3.2 .3 2.3-1.2 3.8-1.9 2.2 2.9 .5 4.3 1 4.3 .7M611.2 1221.4l2.4-1.6 1.6-.6M624.4 1235.5l-.5-1.5-.2-.8M627.5 1244.7l-1.3-2.7-1.8-1.6M631.9 1253.3l-1 2 .3 1.8M634.8 1252.3l0-2.4-.8-2.4M641 1249.1l.9 .5 1.3-.7M637.7 1256.2l-1.5-1.4-1.9-.6M613.1 1217.2l2.1-1.8 3.4-1 3.2-.1 2 .1 4.6 1.8 2 1 2.9 1.8 2.5 2.4 3.3 1.6 3.1 .6 2.3 .6 3.3 1.7 3.1 1.9 2.8 .6 2.8 .4 3.9 .7 3.6 1.4M623.8 1214.4l2.1-2.3 .7-2.1M635.8 1221.4l.7-1 1.4-2M639.1 1223l2-2.1 1.5-1.5M647.8 1225.9l-2.6 1.9-1.7 1.4M664 1230.9l.1-1.9 1.4-2.1M633.3 1259.1l-.6 3.7-2.3 2.1M630.4 1264.9l2.4 .1 2.6 1.4M469.9 1110.1l1.4 2.8 2.4 .8 3.4 .8 2.6-2.6 1.7-1.2 1.5-2 .7-3.3-2.7-1 .4-3.1-1.3-1.3 2.2 .8 1.7-2.2 2.3 1.4 3.3 1.4 1.2-1.4 3.8 0 2.8 2.9-3.3 .3-1.8 2.1-1.3 2.1-2.2-.2-.8 3.4 .8 2.4 2.7 1.7 2.4 .5 .4 1.1 3.1 2.5-3.3 2.9-1.5 0-.9 1.4-1.3 1.4-1.6 3-1.8-1.5-4 0-.3-1.2-2.3-2.3-1.8-2.2-3.4-1.6-.9-2.8-2.8-3.4 1.2-.4-2.7-2M469.9 1124.6l1.5 2.2 2.8 2.1 4.3 2.9 2.1-2.1 2.3-2.2M478.5 1131.8l-.4-.7 .6-1.6M482.9 1127.5l-1.2 .2-1.5-1M482.9 1127.5l1.4 4.3 4.6 .7 2.7 0 3.1-.2 2.6-.5M484.3 1131.8l-1.2 1.1-.3 .3M524.8 1115.9l4.4 2.9 3.2-.4 1.8-.8 3.7-1.7 4.3-2.9-2.4-1.8-1.6-3.5-1.8-1.9-1.2-1.6-3.1-2.8M542.2 1113l-.2-.9-1.4-.7M538.2 1107.7l-2 1.5-1.9 1.2M536.4 1105.8l1.4-2.5 2.2-1.5M542.2 1126l4.2-.8 3-2.1 2.9 2.5 1.5 1.9 3.2 .1 4 1.3 2.6 .6 3.2 2.3 2.9 3.6 2.9 2.2 3 3.1 1.3 1.3 4.4 2.8M566.8 1131.8l.5-1-.2-1.2M581.3 1144.8l.6-2.1 0-2.6M546.5 1100l3.7 2.7 2.1 3.1 2 3.1 3.8 1.2 1 2.5 1.9 3.3 2.9 2.8 2.9 3 2.4 3.8 .5 3.4 2.9 2.9 2 .1 4.1-1.8 2.6 .3 3-.4 2.7-.6 2.9-.5M550.2 1102.7l-.5 1.5-.6 .3M554.3 1108.9l-.6 1-.8 .8M561 1115.9l-2.3 1.1-1.7 1.6M563.9 1118.7l3.2-.4 2.5-.8M566.8 1121.7l-2.1 1.8-.6 .5M572.6 1131.8l.3 1.7-.9 .9M584.3 1130l.4 3.5-.8 2.4M572.6 1104.3l1.4 .4 1.4-2.8 4-.1 1.9-1.8 4.3 .8 .8 0 3.5-.8 .9 1.8 .8 4 4 .5 .1 2.4 2.1 1.3-.9 3.2 .7 2 1 2.2 2.4 2.3 2.2 1 .9 2.3 3.2 .1-2.7 3.3-.2 1.1-3.5-.5-2.8-1.3-2.4 .3-4.1 1.3-1.7 1.6-3.3 .9-2.5-1.7-2.8 .8-2-.5-2.7-3.2-1.1-.6 2.7-.6 1.6-4.5 1.5-.7-1.1-3.7-1.8-2.1-1.4-2.6-.4-.7-3.5-2.6-.5-2.8M587 1137.6l2.9 .7 2.3 .5 3.5 .3 1.4 3 1.5 2.7-.7 2.9-2.2 2.9-3.2-.7-2.6-.7-1.8 3.6-1.1 2.2 2.2 .8 3.6 2.1-1.5 2-1.4 3.8M592.2 1138.8l1.6-1.8 .4-1.1M597.1 1142.1l-1.9-.5-2.1 .2M592.5 1149.9l-1.8 2.4-1.7 2.2M587 1155l1.6 .4 2.9-.2M589.9 1163.7l2.1 .5 .8 0M550.9 1163.7l1.5-3 2.9-2.7 1.4-1.6 .9 3.6 .5 3.7-1.2 3.6 .3 2.4-.5 2.6 2.6 2.7 1.7 3.1-2.9 4.4M555.3 1158l1.1 1.2 .5 .5M556.7 1156.4l1.5 .8 .4 .8M557.6 1160l-.9 1.5-1.5 .8M556.9 1167.3l2.5 1.4 2.9 1M558.1 1182.5l-1-.8-1.1-.9M566.8 1178.1l2.9 2.9-2.9 4.4M566.8 1185.4l-3-.4-2.4-.9M603 1185.4l1.9 .3 3.7-2.1-.3-1.3 3.3-1.3 2.8-.5 1.1-.5 3.4-1.9 2.1-1.3 2.4-1.9 2.7-1.1-.1 2.2 2.2 2.9-.7 2.1 .1 1.7 .1 4.3-1.7 .5-1.2 2-.1 3.1-2.1 3.1-.2 .3 .5 2-1.1 3.3-2.4 .7-3.4 2.2 1.4-2.7-.6-2.7-.5-1 1.2-2.3 1.4-2.9-3.9-.5-1.9-2.4-2.7 3-.2 2-1.5 .8-2.8-.4-1.5-2.5-.2-3.8-2.2-1.8 1-1.6M611.6 1191.1l-1.3 2.2-1 4.6-.6 1.9 4.4 1.5M608.7 1199.8l1.8-.3 .4 .1M689.6 1100l-.5 2.6-1.5 3.8-2.3 2.3 0 3.3-.8 2.9 .4 2.4-1 3 .7 2.4-1 3.8 1.6 2.3-.6 3 .1 3.6 1.9 3 1.5 2.6 .1 2.4 .5 2.4 3.1 3.9 .7 2.4 .5 2 2.6 4.1 1.3 2.6 0 3 1 2.4 .4 3.2-2.1 3-.8 2.8 2.9 4.4 3.5-.5 2.3-.3 1.5-5-2.9-2.9M684.5 1114.9l-.4 0-1.8 .5M688.1 1141l-1.4-.2-.6 .4M693 1154.1l.7-1.9 1.6-.5M695.6 1158.2l.7-1.1 1.7-1.9M698.3 1169.4l-2.7-.7-1.5 0M702.7 1170.9l-1.6 .3-1.9 1.5M685.3 1108.7l.8 .3 4.6-2.4-.6-1.4 4.3-.4 1-.5 .4 3.2-1.7 .7-.7 3 .6 3.3-1.1 2.3 1.1 2.3-1.6 3.5-1 2 1.1 1.4-1.6 3.2-2.8 .3 .1 3.8 .1-2.5-2.5-3.7-1.2-1.1 1.2-2.9 .3-3.2-1.6-.2 1.7-2.4-2.4-2.8 2.4-2.2-.9-3.6M707 1100l2.8-1.3 2.6 1.8 1.1 .9 3.3-1.3 .8-1.2 3.7 1.8 2.6-2.2 1.7 1.4 .4-.3 4.9-.5 2.2 1.2 1.8-.6 2.6 .2 .3 .6 3.6-.7 1.1 .6 2.1 .4 2.1-.1 3.2-.4 3.5-.6 1.4 .6 3.1 1.1 1.2-1.4-.1 3.1-2.4 1-3 1.3-1.2 1.5-.7 2.4-1.3 2.3-3 1 0 2.3-1.2 1.4-3.1 1.4-1.4 1.1 1 2.5-2 3.9 .7 1.2-1.1 2.5-1.5 1.2-.1 4.3-2 2-.8 1.2 2.8 2.1 .1 3.7-.4 1.1-.5 2.8-3.7 1.5-.6 4.2-.6 .5-1.8 .5-2.4 3.8-.7 .1-2.5 3.2-1.2 1.1-1 .4-1.5 1.9-3 1.7-.5 1.2-2.7 2-2.4 .9-2.4 1.7-2.5 .3 .7-3-.8-3.2-1.3-2.4 1.1-3.2 1.2-.7 1.2-3.1 2.3-1.7-1.2-2.6 .8-2.8-1.1-2.8 2.2-.8-.7-2.6 .1-3.4-.9-.1-2.9-3.2-.7-2-.1-1 1-4.8-.6-1.6 .9-1.8 .3-2.4 .4-2.9-.7-1.1-1.1-2.3 .2-2-1.7-3.2 .3-3.7-1.5-2.2-.2-2 1.1-1.6 .3-2.1M705.6 1121.7l-.8 3.5 .9 1.7-.1 4.3-2.2 1.1 .7 3.9-.8 2.2-.6 2.6-.2 3.6 1.2 3.3-1 2.7-.6 2.2-.1 3.8-1.7 3-.5 2.6 .2 3-1.7 4.2M703.4 1132.3l-3 1.3-1.6 .3M703.7 1147.9l-2.5 .6-2.8 .1M700.3 1159.6l1.9 .9 3.1 1.8M639 1223l5.1 2.5 5 1.8 4.2 1.6 4.5 1.3 4.6 1.4 4.1 1.5 5.3-2.4 4.8-1.9 5.8-3.7 5.8 .8 4.3 4.3 .4 4.3 1.1 4.4 1.6 6 1.3 5.6 1.3 5 .8 4.9 .8 4.5 1 4.6 1.3 3.8 .8 4.4 1.2 4.6 1.4 4.7 .5 4 1 4.3 1.4 4.3 1.4 5 1.5 4.4 1.5 5.1 1.3 4.2 1.4 3.8 1.6 3.6 1.3 5.1 1.3 4.3 1.8 4.9M704.1 1285.2l1.1 4.1 .6 4.2 .6 4.9 .6 4.1 1.1 5.2 2.1 4.6 1.1 4.7 1.5 5 1.4 4.5 1.5 5 1 4.1 1.9 4.4M660.7 1238.9l2.3-1.7 .2-2.6 3.3-1.5 2.6 .9 2.8-1.3 2.4 .1 2.5-.6 1.3-2-1.6 3.1 1.9 2.9-1.8 2.7 .3 .8 2.4 4.2-.8 2.6 1 1.1-1.7 2.1-1.2 2.2-1.3-3.4-3.8-.5-.7-1.9-2.6 3-1.7 1.4-1.7 0-4.1 2.8 .6-1.3-1.3-3.6 1-.9 .1-3.9 .2-3.7-.6-1M692.5 1257.7l2.9 1.4M698.3 1288.1l2.6-2.8 .7 1.3 2.5-2.9 1.1 2.8 .5 .8 .6 3.2-.8 3.8 2.1-.1-1 3.2 .4 2.2 .6 2.6 .3 3.2 .9 .6 .2 4.8-1.1 1 2 2.3-1.2 .9-.2 4.7 .4 .8-1.9 2.3-2.8-.9-1.8-2.5-1.2-2.4-1.9-1-.9-3.8 0-.6-1.5-3.3 0-2.8 2.3-2.6-.9-3.3 .1-1.2-.2-2.4-.3-2.2 0-2 .4-3.7M695.4 1308.3l-1.2 2.1 0 3.9 0 2.1-1.7 3.5-.3 3-.1 2.3-.6 2.5-.4 3.8-.1 1.9 .6 4.7 .9 1.9M694.2 1310.4l3.3 .7 2 1.4M694.2 1314.3l1.8 1.2 1 1.4M692.5 1319.9l.7 .5 1.7 .1M692.2 1322.9l2.7 1.5 1.4 1.1M691.5 1327.7l-1.8-2-3-.7M692.5 1334.4l3 .2 2.5-1.6 1.9 .4 1-1.2 3.2-.7 2.9-1 1.4 2.5 3.6 .2 1.2 1 2.5 .2 .4 1.8 2.5 3.8-3.4-.4-1.6 1.1-2.3-.4-3.6-.8-1.3 1.6-1.9 .1-3.4-2.4-1.2 .4-4-.6-.3 .6-3.1 .8-1.1-4.2 1.1-1.4M709.9 1322.8l0 3.2 1.3 1.7 1.6 3.8 .5 2.2-.5 2.6 1.4 3.7M709.9 1326l.6-.5 2-.6M714.2 1340l-1.3 1.1-2.1 2.2M679.5 1279.4l.2 3.6 1.3 3.6 .2 3.3 1.2 4-1.9 2.6-1 3.1-2 1-3.8 .5-3.6 .6-3.6 .8-3 1.9-2.8 2.5-4.3 1.4M682.4 1293.9l-1 .6-1.7 1.4M680.5 1296.5l-1.1-.6-2.4-1.6M675.2 1301.1l1.2 3-.9 2.3 1.1 3.4 1.3 4.3 .1 2.6 .1 3.2 1.3 2 .5 2.8 1.1 3.9 1.2 3 2.6 3.3 .5 2.4 1.4 2.7M676.4 1304.1l-1.2 .2-2.5-.6M676.6 1309.8l-1.3 .4-.9-.3M678 1316.7l2.6-.2 2.7-1.4M685.3 1337.3l2.3-1.8 2.4-.9M663.6 1288.1l4.3 2.9 4.4 4.3 2.9 5.8M602.9 1311.9l-1.2 3.8-1 4.4-.7 4.2-.9 3.9-1.1 4.3 1.6 4.7 1.6 4 2.2 5 2.2 4.8 1.6 4.3M591.5 1328.2l6.5 .2M653.3 1335.3l.2 4.7 .9 3.4 5.4 1.1 3.7 1.1 2.8 1.1 2.2 1.4 2.2 2.9 4.3 0 2.5-2 2.9-1.3 4.4 2.2-3.3 3.3-4.2 1-2.3 0-3.2 1.1M663.5 1345.6l-.3 1.7-1.2 1.9M666.3 1346.7l-1.6 1.8-2.2 2.7M671.8 1355.3l.2-1.1-.5-1.6M681.5 1331.5l3.1 2.8 1.3 1.5 .1 2.7 2 3.8 2.4 3.4 .9 2 5.4 1.1 3.3 2.2-4.4 1.1-1.1 3.2M685.9 1335.8l-2.2 1.1-1.1 1M686 1338.5l-2-.1-2.1-.5M695.6 1352.1l.6 1-.4 1.3M693.4 1328.2l-1.7 4.7-.4 2.9 2.1 3.8 1.1 3.8 4.4 0-1.8-3.2-.4-3.3 4.3-3.3 4.4 2.2 4.3-1.1M691.3 1335.8l-1.5-.4-1.2-1M698.9 1343.4l.3-1.5 .3-2.3M696.7 1336.9l2 .5 1.7-.7M701 1333.6l-1.7-2.4-1.1-2.7M709.7 1335.8l4.4 .4 2.1-1.5 .3 2.8 .8 .4 2.9 3.7 .4 1.8 1.6 3-.7 1.3 .1 4.3 2.4 .9-.2 2.4-3.2-.7-.9 .6-2.6 .6-3-.5-2.2 0 1.4-3.3-1.4-1.2-1-3.9 1-1.3-1.9-3 1.3-3-2.3-2.8 .7-1M719.5 1328.2l1.2 5.4 1 5 1 4.8 .6 3.9 .9 4 .7 4M716.2 1332.5l.8 4.3 1.4 4.4"/>
<path d="M682.4 537l-1.5 2.9-2.4 1.4-1.9 2.2-2.2 4.3M422.1 861.4l2.7 .1 2.3 1.2 3.7 .2 3.5 1 3.7 .4 .9 2 2.2 3 1.3 2.3 3.1 1.8 4.1 1.1 3.2 1.4 1.6-1 3.9 1 3.3 .5 .9 3.1 3 .8 2.6 3.3 1.1 .5 2.1 3.4 .6 3.9 2.1 1.3 .2 3.5-1.1 3.2-1.8 4-2.9 4.3M357 1134.7l3.3-.9 2.5-.5 1.1-3.6-.1-1.3 1.9-3.8 .6-3.4 2.5-2.7 1.2-4 2.9-4.4 3.8 .6 2 2.3 2.8-1 2.8-1.1 1.7-2.2 2.7-2.5 3-1.9" stroke-width="3.5"/>
<path d="M609.1 502.8l.5 2.6 1.7 2.1 1.4 2.2M604.9 502l.6 2.5 1.5 2.2 .8 2.5 1.1 2.4M602.8 503l.7 2.6 1.2 2.2 .7 2.6 1.6 2.1M599.3 504.7l1.3 2.3 .4 2.7 1 2.4 1.3 2.3M596.4 506.2l1.2 2.3 1.3 2.2 1.3 2.3 1.8 2M592 508.4l1.7 2 .8 2.6 1.5 2.1 .8 2.5 2.1 1.9M587.5 507.7l.7 2.6 .9 2.4 1 2.4M717.8 496.1l0 2.6M715.4 495.6l-.4 2.6M712.1 495.1l-.6 2.5-.2 2.6M709.1 489.3l.3 2.6-1 2.5M706.6 488.8l-.3 2.6-.8 2.5-.7 2.5M704.1 491l-1.3 2.4M659.5 557.4l2.2 1.3M655.4 559.9l2.6 .6 2.2 1.5M654.1 562.8l2.6 .5 2.4 .9M647.1 565.3l2.7 .4 2.5 .8 2.3 1.3 2.6 .5M646.4 566.9l2.4 1 2 1.8 2.4 1M644.6 570.7l2.3 1.2 2.6 .5 2.4 1M640.1 574.1l2.8 .3 2.2 1.3 2.6 .7 2.6 .4M807.6 464.1l-1.9 1.7-2.1 1.6M807.7 459.3l-1.9 1.9-2.4 1-2.1 1.5M808.2 455.2l-2.4 1.1-2.6 .8-2.4 1M806.4 452.5l-1.7 2-1.9 2M806.5 447.8l-1.8 2-2 1.7M807.5 444.5l-2.6 .8-2.5 .8M807.8 440.1l-2.2 1.4-2.4 1.1M807.6 435l-2.1 1.6-2 1.6-2 1.7M807 429.2l-2.1 1.6-2.1 1.5M801.9 430.8l-2.5 1M806.2 423.1l-2 1.8-1.8 1.9-2.1 1.7M805.1 421.5l-2.3 1.2-1.8 1.9-2.4 1.2M789.4 477.1l-1.4 2.3-2 1.7-2 1.7M788.8 476.4l-2.3 1.4-2.2 1.4-2.2 1.4M788.7 472.4l-1.8 1.9-2.2 1.5M786.7 466.3l-1.4 2.3-1.7 2-1.8 1.9-2 1.6M783.1 466.1l-1.8 2-1.7 1.9M581.3 621.8l-1.6 2.1-1.5 2.2-1.3 2.2M577.9 620.1l-.9 2.4-.6 2.6-1.4 2.3-1.8 1.9-.9 2.5M569.7 636.3l-1.2 2.3-.9 2.5M576.4 622.2l-1.5 2.2-2.1 1.8-1.8 2-1.5 2.1M566.9 634.8l-1.4 2.3-1.9 1.9M570.6 622.1l-1 2.4-1.1 2.4-1.1 2.3-1.4 2.2-1.3 2.3-1.6 2.1-1.2 2.3M564.3 624.7l-1.7 2-.9 2.5-1.6 2.1M560.9 622.9l-1.6 2.1-.9 2.5M557.2 621l-1.3 2.2-.6 2.7M560.7 642.9l2.5-1.1 2.6 .1 2.6-.2 2.6-.4M566.4 646.1l2.5-.4 2.6-.5M561.5 648.8l2.7 .2 2.4-1.1 2.6-.1 2.5-1M564.4 650.9l2.8 .7 2.5-.5 2.7 .4M567.4 653.7l2.7 .2 2.5-1.1M565.4 658.1l2.5-.9 2.6-.4 2.6 0M563.3 661.5l2.5-.9 2.6-.2 2.6 0M561.5 667.3l2.5-.9 2.6-.2 2.4-1.1M559.2 669.9l2.6 0 2.6-.1M605.9 622.1l2.4 1.1 2.6 .3 2.3 1.3 2.7 .2 2.6 .4 2.5 .7 2.5 .7M604.9 625.5l2.3 1.5 2.4 .9 2.6 .4 2.3 1.4 2.5 1 2.4 .7 2.6 .4M606.3 630.1l2.7 .2 2.5 .6 2.6 .2 2.6 .3 2.5 1 2.5 .8M605.5 632.8l2.6 .7 2.6 .1 2.5 .9 2.7-.1 2.6 .2M605.2 634.1l2.1 1.8 2.4 1.2M606.4 639.2l2.5 .9M604.6 645.7l2.6 .4M603.8 648.4l2.3 1.4M603 651.4l2.6 .1M662.7 651.8l-2.7 .2M662 647.8l-2.6 .7-2.5 .8-2.6-.2-2.5 1.2-2.5 .6M661.3 643.8l-2.6 .2-2.4 1.5-2.7 0-2.6 .3-2.3 1.6-2.5 1M663.3 640.6l-2.5 .8-2.5 .4-2.6 .2-2.5 1.2-2.4 1-2.6 .6-2.4 .9M662.7 636.8l-2.6 .3-2.5 .7-2.7 0M649.8 638.6l-2.5 1.1-2.5 .5-2.5 .6M651.8 635l-2.5 .5-2.5 1.1-2.6 .3-2.4 1.1-2.7-.1M661.5 629.9l-2.5 1.2-2.5 .5-2.5 1-2.6 .1-2.5 .9-2.6 0-2.6 .5-2.6 .3-2.4 .9-2.6 .3M663.5 626.2l-2.5 .9-2.7-.3-2.6 .1-2.6 .6-2.4 1.1M645.6 629.6l-2.6 .3-2.6 .2-2.4 1.4-2.4 1.2M663 623.8l-2.6-.2-2.6 .4-2.5 .8-2.4 1.1-2.6 .5M645.1 627.1l-2.6-.2-2.7 0-2.5 .4-2.6 .5M659.8 620.5l-2.6 .2-2.5 .7M649.6 622.1l-2.5 .9-2.8-.4-2.4 .9-2.6 .7-2.7-.4-2.6-.2M649.2 620.2l-2.6 .2M625.4 652.5l2.6 .2M622.3 655.6l2.7-.4 2.6-.2 2.6 .7 2.6-.1M619.5 657.1l2.5 .7 2.6 .4 2.5 .7 2.6 .3 2.6-.1 2.7-.2M616.4 660.2l2.6 .4 2.7-.3 2.6 0 2.6 .5 2.5 .9 2.6 .1 2.5 .6 2.6 .4 2.6 .3M616 663.2l2.6 .3 2.6 .4 2.5 .8 2.5 1 2.4 1.3 2.5 .9 2.6 .7M615.4 668.1l2.6 0 2.6-.3 2.7 0M628.5 668.1l2.7-.5 2.5 1M612.4 670.3l2.6 .1 2.6 .4 2.5 1.1 2.6 .4M612 673.8l2.5 .6 2.5 .9 2.6 0M611.4 677.6l2.7-.3 2.6 .1M611.1 680.4l2.5 .4M661.7 707.7l-2.6-.2M661.6 705.2l-2.6 0-2.6 .6M661.4 700.5l-2.6 .6-2.6 0-2.6 .5M663.9 698.8l-2.6 0-2.6 .1M653.5 698.9l-2.6-.3M663.7 695.6l-2.6-.6-2.6 .6-2.6-.6-2.6 .5-2.6-.6-2.7-.1M663.5 692.3l-2.6-.9-2.6-.5-2.6 0-2.6 .3M647.9 691l-2.7-.4-2.5 .7-2.6 0M663.2 685.1l-2.6 .4-2.6 .3-2.6 .5-2.6 .5-2.5 .8-2.6 .3-2.6 .8-2.6-.5-2.6 0M663.1 684l-2.6 0-2.6-.1-2.6-.4-2.6 .3-2.6-.1-2.7-.4-2.5 .2-2.6 .7-2.6 .4-2.6-.9-2.6 .4M662.9 680.6l-2.6 .3-2.6-.1-2.6-.5-2.6 .2-2.6 .5-2.6-.4-2.6-.1-2.6 .5-2.6-.4-2.6-.1-2.6 .3M662.7 677.2l-2.6 .1-2.5 .2-2.7 0-2.6-.4-2.6 .3-2.5 .5M641.9 676.5l-2.6 .1-2.6-.1-2.7-.6M662.4 671.3l-2.5 1.1-2.6-.1-2.6 .5-2.6 1-2.5 .9-2.6 0-2.6 0-2.6 0-2.6 0-2.6 .7-2.6 .2M649.4 671l-2.6-.4-2.6 .5-2.6 .3M663.7 748.5l-2.4 1.1-2.4 1.3-2 1.6M660.8 745l-2 1.6-1.9 1.8-1.9 1.8M656.9 744.3l-2.4 1.2-2.6 .9M663.2 731.5l-1.6 2.1-2.1 1.6-2.3 1.3-1.9 1.8-2.1 1.5-1.9 1.7-1.5 2.4-2.2 1.4-1.5 2.2M660.2 731.9l-2.4 1.2-2.3 1.3-1.6 2.2-2.2 1.4-2 1.6-2.4 1.2-1.9 1.8-1.9 1.8-1.6 2.1-2.4 1.2M658.5 729.9l-2.1 1.5-1.9 1.8-2.2 1.4-2.1 1.5-2.5 1-2.1 1.7-2.1 1.5-2 1.6M636.7 744.3l-2.1 1.5M657.3 728.4l-2 1.6-2.7 .9-1.9 1.7-1.9 1.8-2.5 1.1-2.2 1.4-2.4 1.1-2.5 1.1-1.8 1.9-2.3 1.3-1.7 2-2 1.7M652.2 726.3l-2.3 1.3-2.4 1.2-1.8 1.8-2.6 1M638.4 734.1l-1.4 2.3-1.8 2-1.7 2-2.1 1.5-2.2 1.4-2.4 1.2-2.6 1M652.5 722.5l-2 1.7-1.9 1.8-2.1 1.6-2.3 1.2-1.8 1.9-2.3 1.3-2.1 1.6-2.2 1.4-2.4 1.2-2 1.6-1.9 1.8-2.4 1.2-2.1 1.5M646.7 719.5l-1.7 2.1-1.8 1.9-2.2 1.4M636.9 728.1l-1.4 2.4-1.9 1.8-1.7 2-2 1.7-2.1 1.5-1.6 2.1-2.2 1.5M637.5 720.7l-1.8 1.8-1.6 2.2-1.7 2-1.6 2.1-2.2 1.5-2 1.7-1.8 1.9-1.4 2.4-2.3 1.2M634.6 721.3l-2.2 1.4-1.9 1.7-1.3 2.5-1.6 2.2-1.8 1.9-2.2 1.4-2.1 1.5-1.9 1.8M634.3 775.6l-2.3 1.4-2.4 .9M633.5 773.7l-2.4 1-2.3 1.2M632 769.7l-2.6 .6-2.3 1.2M631 767l-2.5 .9-2.6 .4M658.9 812.6l-1.9 1.7-1.3 2.5M658.7 808.7l-2.1 1.6-1.5 2.2-1.5 2.1M656.2 806.3l-2 1.7-1.7 2-1.2 2.4M653.9 804.1l-2.1 1.5-1.4 2.3-2 1.7M651.5 801.7l-2 1.7-1.4 2.2-1.5 2.2M649.7 800l-1.4 2.2M648.8 795.4l-2.1 1.6-1.9 1.8-1.7 2M647.2 793.9l-2.2 1.4-1.6 2.1-1.3 2.4M642 792.4l-1.3 2.3M672.6 639.3l-1.5 2.1-2 1.8-2.2 1.5-1.9 1.8M671.7 635.3l-2 1.7-1.7 2-1.8 1.9-1.7 1.9-1.8 1.9-1.8 1.9-1.9 1.8M668.9 633l-1.7 2-1.4 2.2M662.4 641.1l-1.6 2.1-1.9 1.9-2.2 1.5M665.3 633.6l-1.3 2.2-1.7 2-2.3 1.5-1.5 2.1-1.3 2.3-2.1 1.6M665.4 627l-1.2 2.3-2.2 1.6-1.3 2.3-2.4 1.4-1.5 2.1-2.1 1.7-1.5 2.1-2.2 1.6-1.6 2.1M655.9 629.4l-1.6 2-1.8 1.9-1.4 2.2-.9 2.7M654.7 628.5l-1.9 1.8-1.5 2.1-1.5 2.1-1.5 2.1-1.8 1.9M652.7 623.6l-1.3 2.2-1 2.5M646.4 631.8l-1.9 1.8M653.3 620.7l-1.8 1.9-1.8 1.9-2.3 1.5-2.1 1.6-1.2 2.4M645.2 624.2l-1.8 1.9M664.7 654.7l2.1 1.6M660.8 656.5l2.6 .7 2.3 1.2 2.3 1.2M660.2 657.7l2.4 1 2 1.9M658 661.9l2.3 1.3 2.2 1.5 2.3 1.1 2.4 1.1M656.9 664.1l2.3 1.2 1.9 1.9 2.2 1.5M659.3 670.7l2.6 .6M665.4 674.3l2.6 .5 2.1 1.7M659.7 674.7l2.4 1 2.2 1.5 2.6 .6 2.4 1 2.3 1.2M654 675l2.4 1.2 2.3 1.2 2.1 1.8 2.3 1.2M667.8 682.8l2.5 .6 2.6 .6M652.8 678.4l2.4 .9 2.2 1.5M662.2 682.8l2.3 1.2 2.3 1.4 2.3 1.4 2.2 1.4M648.7 681.7l2.6 .6 2.3 1.2 2.4 1 2.6 .5 2.4 1M666.3 686.6l2.8 .2 2.5 .5M648.2 683.3l2.1 1.6 2.7 .4 2.5 .5 2.3 1.5 2.2 1.5 2.5 .6 2.1 1.9 2.2 1.6M644.7 685l2.3 1.5 2.5 .7 2.4 .8 2.5 .9 2.4 1.1 2.4 .9 2.1 1.7 2.2 1.6 2.2 1.4M643 689.5l2.6 .5 2.3 1.3 2.6 .5 2.2 1.7 2.4 .8 2.6 .5 2.2 1.7 2.5 .7M648.9 696l2.6 .6M670 710.5l-.4 2.6M666.6 702.3l-.6 2.5-.6 2.6 .3 2.6-.3 2.6 .4 2.7-.5 2.5M664.1 702l-.7 2.5-.6 2.6M662 712.2l-.7 2.5M660 701.5l-.5 2.5 0 2.7-.4 2.5 .2 2.7 .3 2.6-.5 2.6M657.6 701.2l-.3 2.6M655.5 708.8l-.3 2.6M652.7 703.2l.2 2.7M728.1 625l2.6-.6 2.5-.8M729.6 628.3l2.2-1.4M728.8 632.8l2.3-1.2M730.7 636.8l1.9-2M729.1 639.6l2.1-1.6M730.2 642l2.4-.9M729.2 646.1l2.4-1.1M659.4 747.1l-1.6 2.1M657.5 743.1l-1.6 2.1-1.5 2.2-1.2 2.3-.7 2.5M654.7 744.6l-.7 2.6-1.8 1.9-1.5 2.2-.8 2.5M652.2 743.2l-1.7 2-1.5 2.2-2 1.9M651.6 734l-1.4 2.3-.8 2.5-.9 2.4-.8 2.6M652.1 722.5l-1 2.4-1 2.4-1.4 2.2-.7 2.6-1.1 2.4-1.6 2.1M643 741.3l-.8 2.4-.6 2.7M652.5 722.7l-1.5 2.2-1 2.4-1.7 2-2 1.9-.9 2.4-1.9 2-1.5 2.1-1.7 2.1-1.2 2.3-2 1.9-.8 2.5-1.4 2.2M647.2 719.9l-1.7 2-1.2 2.3-1.5 2.2-.7 2.5-1 2.5-1.3 2.2-.9 2.5-1.4 2.2-.6 2.6-.9 2.5-1.2 2.3-1.8 2M640 727.8l-1.8 2M633.7 739.2l-1.8 2-.8 2.5-1.8 2M639.4 721.6l-1.8 2-1.8 2-1.4 2.1-.8 2.6-1.2 2.3-.9 2.5-.6 2.6-1.2 2.3-.8 2.5-1.3 2.3M637.5 720.5l-1.1 2.4-1.6 2.1-1.1 2.4-1.4 2.2-1.6 2.1-1.4 2.2-1.8 2-1.4 2.1-1.8 2.1-1.6 2M632.1 720.6l-1.9 2-1.2 2.2-1.7 2.1-1.2 2.3-1 2.4-1 2.4-.5 2.7-.7 2.6M628.5 721.6l-1.6 2.1M657.3 831.7l-2.5 .4M656.2 827.9l-2.6 .5M658.1 825.3l-2.8-.2-2.4 1-2.5 .6M654.1 820.9l-2.7 .2-2.3 1.4M650.5 818l-2.5 .7-2.7 .3M651.8 813.6l-2.5 .6-2.4 1.2-2.1 1.7M653.6 810.3l-2.4 1.1-2.5 .9-2.5 .7-2.3 1.3M645.4 810.3l-2.6 .4M647 806.5l-2.4 1.3-2.4 .9-2.3 1.3M646.1 803.7l-2.5 .8-2.5 .6-2.4 1.1M645 800.2l-2.5 .7-2.6 .2-2.5 .8M644.3 797.8l-2.5 .6-2.5 .9-2.6 .4-2.5 .6M643.6 795.4l-2.7 0-2.6 .4-2.4 1-2.5 .8M642.1 790.6l-2.6 .5-2.1 1.8-2.4 1.1-2.6 .5M638.8 788.6l-2.4 1.1-2.4 1.1M635.3 786l-2.7 .2-2.5 .6-2.6 .3M636.9 782.4l-2.3 1.5-2.5 .5-2.6 .3-2.5 1M638.5 778.6l-2.4 1.2-2.5 .6M628.5 781.6l-2.6 .4M635.4 777.6l-2.3 1.2M628.2 780.5l-2.5 .9M634.1 773.1l-2.7 .3-2.4 1M630.8 771.1l-2.6 .6-2.7-.1-2.6 .4M624.5 768.3l-2.6 .6M626.5 766.2l-2.4 1.1M625.3 762.2l-2.4 1-2.4 1.1M622.2 760.9l-2.3 1.2M677.6 794l2.6 .6 2.4 1M676.2 797.4l2.3 1.3 2.3 1.2 2.5 .8M677.7 800.5l2.2 1.6M676.6 803.2l2.5 .9M677.4 808.2l2.6 .6M731.3 762.5l1.4 2.2 1.7 2 1.3 2.3M731.4 765.7l.7 2.7 1.6 2.1 1.9 1.8M728.6 771l1.6 2.1 2.1 1.7 1.7 1.9M728.6 777.5l1.9 1.8 1.3 2.3M727.8 781.4l1.9 1.8 1.7 1.9M727 785.2l1.8 1.9 .8 2.6M725.3 789.7l1.5 2.1M723.4 791.1l1.2 2.3M722.3 795.2l1.8 1.9M718.2 798.2l2 1.8M746.2 816l1 2.5 1.1 2.4M743.5 817.9l1.3 2.3M740.5 816.8l1.3 2.3 1.1 2.4 1.3 2.2M737.9 818.6l.8 2.5 1.1 2.5M734.6 820.8l1.5 2.1 1.7 2M732.6 822.2l1.3 2.2 1.7 2M730.3 823.7l1.4 2.2 .9 2.5M727.8 828.6l1.8 1.9M722.9 825.6l1.4 2.2 2 1.8 1.4 2.2M717.9 825.8l1.7 2 2.2 1.7 1 2.4 1.9 1.9M716.6 826.7l1.4 2.2 1.3 2.3 1.6 2M677.4 844.5l2.6-.2M670.1 849.5l2.5-.7 2.6-.2 2.6-.3 2.5-1.1M670.3 852.3l2.6 .2M678.1 851.6l2.6 .1M670.7 856.2l2.5-.9 2.5-.5 2.6-.5 2.6-.4 2.5-.7M670.9 858.8l2.6 .3 2.6 .2 2.6-.6M471.8 904.4l-1.9 1.7M474.9 896.4l-1.9 1.8-2 1.7-1.8 1.8-1.9 1.8M472.6 894.1l-2.2 1.5-1.6 2.1M472.4 890.2l-2.6 1.1-2.3 1.4M470.1 884.2l-1.4 2.2-1.2 2.6-1.8 1.8M468.7 882.7l-1.5 2.2-2.2 1.5-1.9 1.8M466.7 880.7l-1.4 2.3-2.2 1.5M603.4 923.4l-1.5 2.2M597 918l-1.6 2.1M593.4 918.3l-1.5 2.2M591.9 913.6l-1.4 2.3-1.7 1.9M587.6 913.3l-1.8 2-1.7 1.9M585.9 911.9l-1.7 2-1.6 2-2.1 1.7M583.9 910.2l-1.7 2-1.8 1.8-2 1.7-2.1 1.7M579.9 906.8l-1.4 2.2-1.6 2M578.5 905.6l-2.5 1.3M572.8 900.7l-1.3 2.3M568.4 900.4l-1.3 2.3-1.5 2.1-1.7 2-2.1 1.6M563.5 899.6l-1.4 2.2-1.4 2.3M566.4 891.8l-1.9 1.8-1.7 2-1.5 2.1-2.2 1.6-2.2 1.5-1.4 2.2M561.7 891.2l-1.1 2.4-1.9 1.9-2 1.7-1.8 1.9-1.3 2.3M557.6 891.1l-1.8 1.9-1.8 1.9-1.6 2M630.5 956.1l-2.5 .8-2.5 .8-2.7-.1M632.3 951.3l-2.6 .1-2.6 .7-2.5 .8M631.8 948.3l-2.5 1-2.5 .7-2.6 .6M631.4 946.3l-2.5 .8-2.6-.1-2.7-.3M628.2 942.9l-2.5 1-2.4 1-2.5 .9M632.8 939.2l-2.5 .3-2.5 1.1-2.6 .1M627.1 936.5l-2.5 .9-2.5 .8-2.6 0-2.6 .2M626.8 934.8l-2.6 .4-2.5 .5-2.7-.2M621 931.9l-2.4 1-2.5 .8-2.5 .8M615.1 928.2l-2.6-.1-2.5 1-2.7-.3M612.1 926l-2.5 .5-2.6 .2M617 952.8l-2.2 1.4-2 1.7M615.5 951l-1.7 2-1.7 2.1M610.4 948.8l-1.8 1.9-1.9 1.8M609.3 947.5l-2 1.5M603.2 952.2l-2.3 1.4M605 946.2l-1.8 2M600.5 944.8l-1.9 1.7-2.2 1.5M594.8 946l-2 1.7M592.5 943.2l-1.7 2M612.9 961.5l2.6 .5 2.5 .8M611.8 964l2.5 .8 2.4 .9M607.6 966.9l2.4 1 2.5 .8 2.4 1.1 2.4 1 2.1 1.6M611.3 971.3l2.2 1.5 2.6 .5M612.2 975.8l2.2 1.3M611 978.5l2.1 1.6M609.1 982.6l2.5 .9 2.4 .9M608.1 984.9l2.6 .6 2.5 .7 2.1 1.6M611.4 990.2l2.4 1 2.6 .6M607.6 992.2l2.5 .9 2.5 .7 2.6 .7M606.6 994.5l2.6 .6 2 1.9M607.6 998.7l2.4 .9 2.5 .9M606.5 1001.2l2.5 .8 2.4 .8 2.5 .8M607.2 1005.8l2.3 1.4 2.2 1.5M605.9 1008.9l2.3 1.2M604.6 1011.8l2.5 .8 2.3 1.1M614.1 1016l2.7 .3 2.1 1.6 2.5 .7 2.6 .8M603.2 1014.8l2.5 .9 2.3 1.2 2.4 1 2.3 1.1 2.3 1.4M606.3 1020.7l2.3 1.2M520.8 864.3l2.6 .5 2.6 .2M517.8 865.8l2.6 .3M517.3 868l2.5 .7 2.6 .3 2.6 .3M513.7 871.8l2.7 0M515.8 874.4l2.5 .6M508.2 1036.5l-2.2 1.4-2 1.6-2 1.7-1.9 1.7M503.9 1034.9l-1.8 1.9-2.1 1.5-2.1 1.5-2 1.7-1.8 2.1-2.2 1.3-2.2 1.4M505.6 1032.7l-2.4 1.2-2.3 1.2-2.6 .8M493.5 1038.2l-1.7 2-2.5 1.1-2.3 1.1-1.9 1.9-1.9 1.8M499.1 1032.6l-1.8 1.9-2.2 1.4M486.9 1042.3l-1.6 2.2-2.2 1.4M499.3 1028.4l-2.5 .9M497.4 1025.6l-1.8 2M495.9 1023.6l-1.8 1.9M494 1020.8l-2.4 1.2M488 1032.9l-.9 2.4-.4 2.6-1 2.5M485.6 1032.2l-1 2.4-.9 2.4-.8 2.5-.8 2.5M480.8 1033.4l0 2.7-.3 2.6-.3 2.7M477.7 1035.2l-.5 2.5-1.5 2.3M473.3 1036.5l-.4 2.6-1.1 2.4M470.5 1035.7l-.5 2.5-1.4 2.3-.8 2.5-.6 2.5M467 1034.6l-.7 2.5-1.2 2.3M465 1034l-.9 2.4-.6 2.6-1.1 2.3-.3 2.7M462.3 1030.4l.2 2.8 .1 2.7-1.3 2.4-.9 2.4-1 2.4M460.1 1029.7l-.5 2.6-.4 2.6-1.2 2.4-.6 2.5-1.1 2.4M455 1030.9l-.1 2.7-.7 2.5-.5 2.6-.7 2.5-1.1 2.3M452.1 1030l-.6 2.5-.1 2.7-.6 2.6 .1 2.7M449.5 1029.2l-1.1 2.4M613.3 1038.8l.6 2.5 .4 2.6M610.3 1039.3l1.4 2.4 1.2 2.5M607 1039.9l.8 2.5 .4 2.6M603.6 1040.5l.6 2.5 .1 2.6M600.4 1043.7l-.2 2.7 .8 2.5M597.2 1044.2l.5 2.6 .1 2.6 1.1 2.5M594 1044.8l.7 2.5 .3 2.6 .5 2.5M590.6 1045.4l.5 2.5 .3 2.6 .7 2.5M586.9 1048.7l1.2 2.4 .8 2.5M584.2 1049.1l.5 2.6M580 1047.2l.9 2.5M574.8 1042.9l.5 2.5 1 2.5M631.7 1095.3l-1.9 1.9-2.2 1.4-2.4 1M630.8 1089.2l-2.4 1-2.1 1.5M632.3 1086.6l-2.1 1.6-1.8 1.9-2.5 1.1M632 1081.3l-1.8 2.1-2.5 .9-2.3 1.2-2.5 1M630.5 1078.9l-2.1 1.6M624.6 1084.2l-2.1 1.6M631.4 1075.6l-2.4 1.1-2.3 1.2-2 1.7-2.2 1.4M629.9 1073.3l-2.4 1-2.2 1.4-2.1 1.5-2.1 1.6M630.3 1069l-2 1.7-2.4 1.2-2.1 1.4-2.4 1.1M628.9 1066.9l-2.2 1.3M628.9 1062.1l-2.5 .9M627 1059l-1.9 1.8-2.6 .9-2.1 1.5M625.5 1056.7l-2.1 1.6-2.4 1-2.2 1.3M623.5 1053.6l-2.1 1.6-2.7 .6M614.2 1085.6l-.2 2.6 .1 2.6M611.5 1077.8l.3 2.6-.8 2.6 .4 2.6 0 2.6 .2 2.6-.4 2.6M607.9 1077.8l.2 2.6 .2 2.6-1 2.6-.9 2.6-.2 2.6M605 1075.2l-.9 2.6 .4 2.6M604.8 1085.6l-.5 2.6M599 1077.8l.9 2.6 .9 2.6 .1 2.6 .6 2.6 0 2.6 .6 2.6M594.8 1077.7l.9 2.6 .4 2.7 .2 2.6 .9 2.6 .2 2.6-.2 2.6 0 2.6-.1 2.6M593.3 1075.1l-.4 2.6 .2 2.6 .4 2.6-.1 2.6M589.7 1069.9l-.2 2.6 .7 2.6 .5 2.6-.2 2.6-.2 2.6 .3 2.6 .1 2.6-.1 2.6 0 2.6-.1 2.6 0 2.6M586.2 1069.9l-.3 2.6M585.9 1077.7l0 2.6 .2 2.6-.8 2.6 0 2.6 .2 2.6 .2 2.6M582.2 1075.1l.5 2.6-1 2.6-.3 2.6 0 2.6-.7 2.6-.2 2.6-.4 2.6M578.6 1082.9l.2 2.6 .2 2.6M396.8 1094.1l-.9 2.5-.8 2.4M394.8 1090.4l-1.4 2.2-.9 2.4-1.5 2.2-1.2 2.3M389.9 1091l-.5 2.7-.7 2.5-.6 2.6M387.9 1090.2l-1.4 2.2-.8 2.5-.4 2.6-1 2.4M384 1091.3l-1.2 2.3-1.1 2.4-1 2.3M379.1 1089.1l-1.4 2.2-.2 2.8-.4 2.7-1.1 2.3M374.3 1092.7l-.5 2.6-.6 2.6M370.4 1091l-1.3 2.2-1 2.4-.5 2.6M367.4 1089.6l-.6 2.6-.4 2.7-1.2 2.3-.7 2.5M363.7 1090.8l-1.2 2.3-1.6 2.2M484.6 1095.2l-.9 2.5M482.8 1091.9l-1 2.4-.7 2.5-.9 2.5M479.9 1088.3l0 2.7-.5 2.6-1.5 2.2-.5 2.6M476.4 1087.2l-1.1 2.3M473.8 1094.5l-.6 2.6-1 2.4M472.6 1086l-.9 2.4-1.1 2.4M469.6 1085l-.4 2.6-1.2 2.4M461.4 1082.5l0 2.7M456 1080.7l-1.1 2.4M452.4 1079.6l-.2 2.7M682 867.9l2 1.7 2.2 1.4 2.5 .9M682.8 871.3l2.3 1.3 2.2 1.4 2.2 1.4M681.9 877.4l2 1.6 2.6 .9 1.8 1.9M680.1 880l1.9 1.9 2.2 1.3M692.5 921.4l-2.6 .7-2 1.7-2.2 1.5-2.2 1.3M694.8 914.8l-2.3 1.3-2.2 1.4-2.3 1.2-2.3 1.2-1.8 2.1-1.9 2M693.5 912.5l-2.4 1-2.2 1.4-1.9 2-2.1 1.5-2.5 .8M695 909.8l-2.8 .3-2.2 1.5-2.2 1.4M682.6 914.4l-2.1 1.5M694.6 903.7l-2.6 .7-2 1.7-2.3 1.3-2.5 .9-2 1.8M693.5 901.8l-2.2 1.4-2.7 .5-2.6 .7-2.2 1.3-2.5 .9-2.6 .6M691.9 898.9l-2.5 .9-2.2 1.3-2.5 .8-2.3 1.3-2.4 1.1M685.3 897.7l-2.4 1-2 1.9-2.3 1.2M684 895.3l-2.1 1.6-2.5 .8M725.9 861.3l-1.2 2.4-.6 2.6M720.9 862.9l-.1 2.6M718.7 862.4l-.1 2.6M715.4 861.6l-.8 2.5M712.7 861l-1.3 2.4-.9 2.4M709.6 860.3l-1 2.4-.9 2.5-.3 2.6M704.4 861.8l-.4 2.6M745.2 880.5l1.1 2.3M741.8 879.2l1.4 2.3 1.2 2.3M738.6 880.8l1.1 2.4 1 2.4M730.6 873.1l1.1 2.4 1.3 2.2 1.1 2.4 1.9 2 .9 2.4M728.5 874.2l1.1 2.3 .6 2.6M731.7 884.1l1.3 2.3 .8 2.5M725.1 875.8l.7 2.6 .6 2.5M728.6 885.7l1.2 2.3 1.2 2.3M722.5 879.9l1 2.4 1.7 2.1 .9 2.5M719.8 899.6l2.6-.2 2.6 .1 2.7 .1 2.5-.6 2.6-.5M722.7 901.3l2.6-.5 2.5-.5M718.1 905.2l2.5-.8 2.7 .5M728.6 904.5l2.6 0M716.3 909.7l2.5-.6 2.5-.7 2.6-.6 2.5-.5 2.6-.1 2.7-.1M717 913.8l2.6-.5 2.4-.9 2.5-1 2.5-1M717.3 915.5l2.7 .4 2.6-.4 2.6-.2 2.5-.5M715.4 919.6l2.5-.5 2.6-.3 2.8 .4 2.4-.8M716.1 923.8l2.5-.9 2.5-.8 2.6-.2M716.7 927.1l2.6-.4 2.5-.5 2.7-.1M787.7 912.6l-.2 2.7M782.1 913.7l.4 2.5M775.9 917.5l-.1 2.6M772.2 915.5l-.1 2.7M767.6 913.7l.9 2.5M764 914.4l.3 2.6M761.8 912.2l.7 2.5 .4 2.6 .6 2.5M757.8 910.3l1 2.4 .3 2.6-.1 2.7M756.3 910.5l.5 2.6M756.8 918.4l.3 2.6M750.8 908.9l.5 2.6 .1 2.6 1.2 2.4 .5 2.6 .2 2.6 .7 2.5M745.1 902l.5 2.6 1.3 2.4 .5 2.5 .9 2.5 .5 2.6 .6 2.5M751 922.1l1 2.5M745.7 901.9l-.2 2.7M745.8 909.8l.3 2.6 0 2.7 .6 2.5 0 2.7-.3 2.7 .3 2.5-.3 2.8M739.1 903.2l.1 2.6 .4 2.6 .2 2.6M741.4 918.6l.7 2.5 1.3 2.4 .9 2.5M736.8 903.6l1.1 2.4M770 941.5l.3 2.7M767.8 941.1l-.2 2.6-.6 2.5-.8 2.5-.8 2.5M766 938.1l-.3 2.6-1.5 2.4-1 2.4-.5 2.6M762.2 937.4l-.4 2.6-.3 2.6M759 947.4l-.7 2.5M758.1 934.1l.3 2.6-.6 2.6 0 2.6-.9 2.5 .4 2.7-.4 2.6-.3 2.6M754.7 933.4l0 2.7 0 2.6 .1 2.7-.3 2.6-.8 2.5M751.9 935.6l-.6 2.5-.5 2.5M752.6 973.9l-1.5 2.1-2.1 1.7-1.9 1.8-1.8 2M750.3 969l-1.3 2.2-1.1 2.5-.9 2.5-1.6 2-1.1 2.5M745.6 972l-1 2.5-1.6 2-1.1 2.4M743.2 970.2l-1.7 1.9-1.5 2.2-1.5 2.1M743.8 964.2l-1.4 2.2M739.9 971l-1.3 2.2-1.4 2.3M739.9 964.5l-1.7 2-1.8 1.9-.9 2.6M769.1 954.2l2.1 1.5M762.6 954.1l1.9 1.8 1.7 2 2.5 1M760.6 956.6l1.9 1.7 2 1.7 1.7 2M756.1 957.9l2.2 1.5 2.2 1.4 2.2 1.4 1.6 2.2M751.2 959.9l1.8 1.9M757.6 964.4l2.1 1.5 2.1 1.5M752.7 966.3l2.2 1.5 1.8 1.9 2.5 1M753.7 969.3l2.4 1.1 2.3 1.4M805.7 946.5l2.1 1.7M801.6 949.5l2.8 .2M800.7 951.6l2.6 .6 2.3 1.1 2.3 1.3M802 955.2l2.5 .7 2.4 1.1 2.3 1.1M803.1 959.2l2.3 1.2 2.4 .9M802.3 960.9l2.6 .7M806.3 964.3l2.3 1.2M802.4 965.4l2.4 1.1 1.9 1.9 2.2 1.3M800.4 968.3l2.6 .9M807.2 972.2l2.5 1M796.6 969.3l2.3 1.4 2 1.6 2.2 1.4M806.8 977.6l2.5 .9M795.7 975.4l2.7 .6 2.2 1.4 2.4 1.1 2.3 1.2 2.2 1.4 2.2 1.4M793.7 978.3l2.7 .7 2.4 1.1 2.3 1.2 2.3 1.2 2.4 1.1 2.1 1.6M792.8 979.7l1.9 1.7 1.9 1.9 2.2 1.4 2.7 .6 2.2 1.5 2.4 1.1 2.6 .8M795.6 984.8l2.5 .9 2.1 1.6 1.8 1.9 2.1 1.5 2.3 1.3M794.2 986.8l2 1.7 1.9 1.9 2.1 1.5 2.2 1.4 2.1 1.6M792.1 989.9l2.3 1.3M790.2 992.9l2.5 .8 2.2 1.4 2.3 1.2 2.1 1.6M789.6 998.3l2.4 1.1 1.8 1.9M739 983.1l2.3 1.3 1.8 1.8 1.7 2.2 2.3 1.2M737.5 985l2.2 1.4 1.7 2.1 2.1 1.5 1.8 1.9M728.9 983.5l2.1 1.5 1.6 2.1 2.3 1.4 1.8 1.9 1.8 1.9 2.1 1.5M728.5 988.2l2.4 1.2 2.2 1.4 2.2 1.3 2 1.8 1.9 1.8M728.9 992l2.1 1.5 2.5 1.1 2.2 1.4 2 1.6M724.9 993l2.2 1.4M730.7 998.3l1.5 2.3M722.9 995.7l2.2 1.3 2.1 1.6 2.1 1.5 2.2 1.4M725.2 1001.2l2.2 1.5M735.2 1005.5l.4 2.6M732.8 1006.1l.4 2.6 1.1 2.4M729.5 1009.6l.4 2.5M723.8 1005.6l1 2.4M726 1013.1l1.1 2.4M722.5 1005.9l.4 2.6 .2 2.6 .5 2.6 0 2.6M716.8 1004.6l1.2 2.4 1.1 2.4 1.3 2.4 1 2.4 1.3 2.3M785.1 1012l-1.9 1.9-1.4 2.4M786.6 1009.8l-2.5 1-2.1 1.5-2 1.6-2.3 1.4-2.1 1.5M786.4 1005.1l-2.3 1.4-2 1.6-2.4 1.2-1.9 1.8-2.3 1.3-2.2 1.4M777.6 1006.5l-2.3 1.2-1.9 2-2.3 1.2M781.2 998.5l-2.2 1.4-2 1.6-1.8 1.9-2.1 1.6-2.3 1.2-2.4 1.2M776.5 996.5l-2.2 1.5-1.9 1.7-2 1.6-1.9 1.9-2.2 1.3M772.8 996l-2 1.6-2.2 1.5-2 1.7-2.3 1.2M769.2 995.6l-2.3 1.2-2.3 1.3M773.2 1059.1l-2.6 0-2.6-.9M776 1055l-2.7 .7-2.6 .2-2.6 .7M776.1 1053.5l-2.6-.4-2.6 .3-2.7 .4-2.6-.2M778.8 1050.4l-2.6 .2-2.6-.3-2.6 .1-2.6-.2M781.6 1046.2l-2.6 .2-2.6 .2-2.7 .8-2.6 0M781.7 1044.9l-2.6-1-2.6-.2-2.5-.7-2.7 .4M784.5 1039.5l-2.6 .2-2.6 .2-2.6-.3-2.6 .7-2.6 .7M782 1037.5l-2.6-.1-2.5-.9-2.6-.1-2.6 .3-2.6-.5M784.8 1033.6l-2.6-.1-2.5-.8M774.5 1032.3l-2.6-.6-2.6-.1-2.6-.5M784.9 1031.1l-2.6 .2-2.6 0-2.5-.6M772 1030.1l-2.6-.7-2.6 .4-2.6-.9M780 1025.6l-2.6-.3-2.6 .7-2.7 .8-2.6 .3-2.6-.4-2.6 .2M777.6 1021.9l-2.7 .5-2.5-.1-2.7 .4M772.5 1019.9l-2.6-.9-2.6-.6-2.6 .1-2.6 .6M761.3 1051.3l-2.3 1.2-2.3 1.3-2.1 1.5M762.2 1046.8l-2.4 1-2.1 1.6-2.1 1.8-2.4 .9-2.1 1.6M763.4 1043l-2.5 .7-2.3 1.3-2.1 1.7M762.1 1039.8l-2.4 1.2-2.2 1.4-2.1 1.7-2.1 1.6M761.3 1038l-2.3 1.3-2.5 .9-2.6 .4-2.2 1.4M756.9 1034.5l-2.4 1-2.3 1.3-2.1 1.6M756.3 1033.1l-2.6 .4-2.4 1.2-2.5 .7M704.3 1054.1l2.6 .3 2.4 1 2.6 .4 2.5 .7 2.6 .2M703.3 1057.8l2.4 .9 2.6 .5 2.5 .7 2.6 .5 2.4 1M702.3 1061.8l2.4 .9 2.5 1 2.6 .3 2.5 .6M701.7 1064.2l2.5 .6 2.3 1.5 2.6 .5M706.3 1070.5l1.3 2.2 1.4 2.2 1.7 2M701.6 1070.7l1.2 2.4 1.1 2.4 2.1 1.7 .9 2.5M700.6 1074.8l1.2 2.3 1.9 1.8 1.5 2.2M698.5 1076.3l2 1.8 1.6 2 1.3 2.3M697.5 1080.4l1.5 2.1 1 2.5M728.7 1085.5l1 2.4 1.3 2.3 1.7 2M724.7 1085l.9 2.5 1.5 2.1 1.6 2 1.1 2.5M720.2 1084.7l.8 2.6 1 2.4 1.4 2.2 1.8 2 1.2 2.3M719.2 1091.5l1.4 2.2M783.5 1048.6l1.1 2.3M781 1052.8l1 2.4 .5 2.7M776.9 1057.8l1.1 2.4 1.6 2.1M775 1058.8l1 2.4 .7 2.6 1 2.4M770.9 1060.9l1.9 2 .8 2.5 1.9 1.9 .8 2.5M768.6 1062.1l1.1 2.4 1.6 2.1 1.7 2 1.4 2.2M768.4 1068.1l1.3 2.2 .9 2.5 1.1 2.3M763.2 1067.8l1.1 2.4 1.9 1.9 1.9 2M761.6 1071.6l.9 2.4 1.7 2.1 1.7 2 .9 2.5M760.4 1078l1.2 2.3 1 2.5 2 1.8M758.5 1081.9l.9 2.5 1.1 2.3 .7 2.6M757.9 1088.1l.7 2.5 1 2.5M755.6 1089.3l.9 2.5 1 2.3 1.4 2.2M746.5 1083l2.6 .3 2.6 .4M740.8 1083.8l2.4 1.3 2.3 1.3 2.4 1.2 2.5 .5M736.9 1088l2.5 .7 2.7 .2 2.4 .9 2.6 .3M736.1 1091l2.6 .4 2.4 .8 2.6 .6 2.6 .1M737.6 1095.1l2.3 1.3 2.5 1M737.1 1096.8l2.4 1 2.4 1.2M451.2 1114.4l1.3 2.3M447.1 1113.7l.5 2.6M443.6 1115.5l1.2 2.3M437.4 1115.8l.3 2.8 .8 2.6 1.1 2.3 .8 2.5M433 1118.2l.9 2.4 1.5 2.2 1.2 2.3 1.4 2.2 2.1 1.8M435.9 1128.4l1.4 2.2 .9 2.5M614.7 1247.8l-.5 2.6-.8 2.5M612.4 1244.9l-.4 2.6 .2 2.6M609.2 1244.6l-.2 2.6-.4 2.5 0 2.6M607.2 1244.3l-1 2.5-.9 2.6M603.9 1246.6l.2 2.6 0 2.6-.4 2.6M599.5 1251.3l-.6 2.6-.6 2.5-.5 2.6M595.5 1253.5l.3 2.6-1.1 2.5M481.2 1103.6l2.5-.5 2.7 .1 2.6 .4 2.6-.8 2.6-.1M484.2 1107.4l2.6-.5 2.6-.2M479.6 1112.3l2.6-.2 2.5-.8 2.5-.8M479.7 1113.1l2.6 .3 2.7 .5 2.6 0M477.7 1119l2.5-.9 2.6-.2 2.6-.3 2.6-.7 2.5-.3M480.5 1120.6l2.6-.7 2.5-1.1 2.5-1 2.6 .3 2.6-.5M483.5 1123.4l2.6 .1 2.5-.9 2.6-.1M605.4 1122.3l-2.5 .6-2.3 1.7-2.4 .9M605.5 1122.6l-2.5 .8-2.4 1-2.6 .3-2.6 .3-2.7 0-2.6 .5-2.4 .9-2.5 .7-2.5 .8M598.8 1118.1l-2.3 1.3-2.6 .4-2.3 1.4-2.5 .8-2.3 1.4-2.6 .2-2.4 1.2-2.6 .4M596.2 1118.2l-2.7-.1-2.4 1.1-2.5 .9-2.4 .8-2.7 .3-2.7-.3M594.9 1113.4l-2.6 .3-2.4 1.3-2.4 1-2.6 .4-2.7 0M594.4 1111.6l-2.5 .6-2.8-.1M584 1113.2l-2.7-.2M593.6 1108.7l-2.6 .4-2.4 1-2.7 .2-2.5 .4M592.2 1103.6l-2.4 1-2.4 1.3-2.3 1.3-2.5 .6-2.5 1-2.4 1.1M589.5 1103.5l-2.8-.2-2.6 .4-2.5 .5-2.4 1.2-2.4 .9M586 1100.7l-2.7 .2M578.6 1103.3l-2.4 1.1-2.4 .9M619.9 1178.6l2.4 1.1 2.4 1 2.6 .2M616.8 1180l2.5 .9 2.4 .8 2.5 1 2.5 .5M611 1181.4l2.5 .8 2.6 .5 2.5 .7 2.4 .9 2.4 1.2 2.3 1.3M604.8 1184.7l2.5 .7 2.4 1.1 2.5 .7 2.4 .9 2.7 0 2.7 0M608.8 1189.7l2.5 .9M619 1192l2.7-.1 2.3 1.3M605.3 1192.8l2.5 .8M620.7 1195.7l2.5 .8M605.4 1192.6l2.2 1.8M690.8 1106.7l2.6 .7M687 1108.7l2.4 1 2.6 .8 2 1.7M685.6 1111.9l2.1 1.6M686.6 1115.8l2.6 .6 2.2 1.5M685.1 1119.2l2.1 1.5 2.4 1 2.2 1.5M686 1123.3l2 2 2.4 .9M752.3 1100.6l2.6 .6 2.1 1.5M740.2 1101.3l2.4 1.1M747.8 1103.6l2.3 1.4 2.3 1.1M737.7 1100.6l2 1.8 2 1.8 2.1 1.7 2.1 1.4 2.3 1.3 2.3 1.1M735.7 1104.6l2 1.8 2.1 1.4 2.5 .9 2.4 1 2.3 1.2 2.5 .9M717.4 1100.2l2.5 .9 2.1 1.7 2.2 1.3 2.5 1 2.5 .6 2.4 1.1 2 1.7 2.5 .8 2.5 .9M743 1113l2.7 .5M714.2 1100.8l2.2 1.5 2.5 .8 2.1 1.6 2.3 1.2 2.2 1.5 2 1.6 2.3 1.2 2.6 .7 2.4 1.1 2.4 .9 2.1 1.6 2.2 1.4 2.6 .7M708.6 1100.4l2.4 1.1 2.2 1.4 2.1 1.5 2.1 1.6 2.6 .7 2.2 1.3 2 1.9M728.7 1112.5l2.5 .9 2.1 1.4 2.1 1.8 2.3 1.1 2.3 1.3M707.9 1107.5l2.6 .6 2.4 1 2.4 1 2.6 .7 2.2 1.4 2.2 1.4 2.3 1.2 2.2 1.5 2.2 1.4 2.4 .9 2.7 .5 2.6 .6 2.5 .8M708.2 1112.6l2.7 .4 2.5 .9 2.4 .9 2.4 1.1 2.5 .9 2.5 .7 2.5 .8 2.4 1.1 2.5 .7 2.4 1.1 2.5 .9 2.1 1.4 2.3 1.4M708.7 1117.4l2.6 .5 2.7 .5 2.7 .5 2.6 .6 2.2 1.3 2.5 .8 2 1.8 2.7 .5 2.6 .7M709.2 1116.3l2.3 1.2 2.1 1.7 2.5 .9 2.1 1.4 2 1.9 2.3 1.2 2.3 1.3 2 1.8 2.4 .9 2.3 1.2M716 1126l2.1 1.4 2.3 1.4 2 1.7 2.4 1 2.4 1.2 2.3 1 2.2 1.5 2.6 .6M711 1130l2.1 1.5 2.7 .6 2.4 .9 2.3 1.2 2.3 1.2 2.3 1.2 2.7 .6 2.5 .8 2.3 1.2 2.4 .9 2.3 1.2M712.4 1133l2.1 1.6 2.3 1.1 2.6 .7 2.1 1.5 2.1 1.7 2.3 1.3 2.5 .7 2.5 .8 2.3 1.2 2.2 1.6M722.5 1141.7l2.2 1.4 2.3 1.4 2.2 1.3 2.7 .4 2.3 1.2M716.6 1142l2.7 .3 2.7 .5 2.4 .9 2.6 .8 2.2 1.4 2.1 1.4 2.7 .4M713.4 1142.5l2 1.8 1.9 1.9 2.5 .8 2.4 1.1 2.2 1.3 2.5 1M713.4 1148.2l2.3 1.3 2.4 1 2.6 .5 2.6 .6 2.2 1.5 2.3 1.1 2.3 1.3M714.2 1152.3l2.1 1.5 2.3 1.4 2.3 1.2 2.6 .6 2.1 1.6M712.8 1155.1l2.1 1.5M719.6 1158.9l2.6 .6 2.3 1.2M711.8 1157l2.7 .5 2.5 .8M721.6 1160.6l2.2 1.5M710.4 1159.7l2.1 1.7 2.3 1.1 2.1 1.6 2.4 1.1M709.2 1162.1l2.3 1.2 2.1 1.6 2.2 1.5 2.6 .5M707.4 1165.6l2.4 1.1 2.5 .7 2.5 .9M665.1 1234.5l2.6 .3 2.6-.5 2.7-.4M665 1236.4l2.6 .1 2.6 .3 2.6 .5 2.6-.1M667.4 1241.9l2.6 0 2.6 .1 2.6 .1M662 1244.8l2.6-.3M669.8 1245.6l2.6-.1 2.6-.4 2.6 .8M661.9 1247.2l2.6 0 2.6 .6M674.8 1249.4l2.6 .8M707.1 1318.1l-2.7-.2-2.4-1M705.1 1315.6l-2.5-.7-2.5-.8M709 1311.3l-2.4-.8-2.5-.9-2.6-.2-2.8 .1M707.7 1306.5l-2.6-.5M705.8 1303.9l-2.5-1-2.7-.1-2.3-1.2M702.1 1297.8l-2.6-.3M705.3 1295.8l-2.2-1.6-2.4-1.1M704 1291.2l-2.6-.5-2.3-1.4M713.3 1335.3l.1 2.7M708.9 1336.9l-1.2 2.4M702 1332.6l0 2.7-.9 2.4M698.7 1334.5l-1 2.4-1.2 2.4M693.8 1336l-.8 2.5M721.6 1351.6l-2.2 1.4-1.6 2.2M720.5 1350.3l-1.9 1.8-1.9 1.8-2.7 .7M720.4 1346.1l-2.3 1.4-2.4 1.1-1.9 1.9M717.7 1343l-1.6 2-2.3 1.4M717.7 1338.9l-1.8 1.9-1.8 1.9-2.1 1.5M711.9 1336.1l-1.4 2.4" stroke-width="2.6"/>
<path d="M568.8 530.5l2.9-.9 .6-1.5 0-2 3.1-2.2 3.4 1.4 1.6 .1 1 2.9-1.7 2.2-3.4 0-.9 2.8-2.2 1.8-2.9-1-1.5-3.6zM537.7 522.5l2.2-.5 1.6-1.7 3.9 .3 2.5 .4 1.7 1.1 1.8 2.7 3.7-.1-.3 .9-2.6 3.4-2.8 1.5-3 0-2.2 .2-2.1-1.7-.4-3-1.7-2.1-2.3-1.4zM550 539.1l3.1 .4 3.3-.7 1.6 1.8 1 1.9-2.7 3.5 .2 2.5 .8 2.2-3.1 1.9-2 1-1.6-.7-2.7-1.5 .7-2.6 2.9-2.4-.5-1-1.7-4.7 .7-1.6zM560.9 552.9l2.6 1.1 2-.3 3.3 .6 2.7 3.7 1 .7-2.1 1.2-2.3 2.4-3.6-.3-1.8-1.5-1.8 1.1 0-1.5 1.5-4.7-1.5-2.5zM562.3 572.4l3.7 2.3-.1-1.6 3.7 2.2 1.2 1.7-.7 3.4 .9 2.1-2.5-.3-3.3 1.1-1.7-2.6 .6-.7-.9-4.3 1.1-.6-2-2.7zM575.4 566.6l2.3 .6 2.6-1.2 1.7-.3 3.2-.1 3.2 .3 .1 3.5-.1-.6 1.4 3.6-1.7-1.2-4.4-.1-1.1-.1-1.3-2.8-2.3 .6-3.6-2.2zM582.6 579.6l3.5-1.6 0 .2 3.7-1.5 .9 1.9 1.5 3.7-.9 3.1-2.8 1.6-1.6-.1-.6-2.7-3.7-1.4 0-3.2zM582.6 599.9l2 .5 2.8-2.6 .9 1.7 3.3-1.6 2.6-.9 .3 4 2.6 1.8-1.5 3-1.3-.4-1.8 2.2-1.2 2.4-3.2 .7-1.2-1-2.9 .3-1.1-2.6 .9-3.6-.4-2.7-.8-1.2zM566.7 605.7l2.5 1.3 2.7-.7 1.9 1.2 3-.4 .5 2.7 .2 1.4 1.6 3 .6 3.1-3.3 1.4-3.4-1.9-2 1.9 .4-2.5-1.1-2.7-2.1-.6-.1-2.7-1.1-1.8-.3-2.7zM552.2 613.6l2.7 1.1 3.6-2 2.7 1 1.9 .3 2.1 .4 .2 3.7 1.3 1.9-1-1.1-4.1 1.9-1.2 .6-3.4-2.7-1.1 2.6-3.7-1.3 .1-3.3-.1-3.1zM599.9 483.4l1.1 .6 2.6-1.2 3.6-.8 .9 3.3 .5 2.5-3.4 .8-2.4 1.3-.7-2.3-.7-2.2-1.5-2zM623.1 481.3l3.6-1.5 0 1.1 .7 4-.9 3.3 .9 1.7-3.6 1.5 .7-2.7-2-2.5-.4-3.5 1-1.4zM660 474l1.1-2.1 1.1-2.2 3.5-1.7 .1-2.6 3.4-2 1.6-.9 1.2 .8 2.5 2.5 1.4 1 .1 1.5-1.6 4.3-1.8 2.6-3.2 .3-1.8 .1-2.7 1.3-1.3 2.9-2.1-.6 0-2.8-1.5-2.4zM717.1 465.4l2.1 0 2.6-1 4.1 1.7 1.4 0 4.2-.7 1.9-1 2.5 .2-2.1 3.5 .7 .9-1.4-.1-2.2 2-3.6-.5-3 1-.5 .4-3.8 .8 .4-3.2-2.6-1-.7-3zM679.5 495.7l1.6-.5 4.4 .5 1.2 0-.2 1.8-1.9 3.3-2.7-2.1-1.6 .1-.8-3.1zM654.9 505.9l3.6-1.5 .6 2.8 .7 2.6 2.4 2.6-3.3-1.4-2.5-.8-2.1-3.3 .6-1zM647.7 518.2l3.9-.9 1.9 .1-.4 2.4 1.1 4.1-3.2-1.5-1.9 .1-2.1-1.7 .7-2.6zM639 526.1l1.7-.3 2.6 1.8 2.4 .2 .3 3.7 2.4 .4-2.2 2.2-4-1.6-1.7-1.3 .2-1.6-1.7-3.5zM624.5 557.9l.9-1.8 3.7-1.4 1.2-1.1 2.9 2.2 1.2 1.4-.2 3.3-2.3 2.2 .6 2.5-3.6 .6-1.5-.6-1.6-1.2 0-4-1.3-2.1zM660.7 572.4l1.3-2.9 2.4-.5 .1-1.1 4.6-2.6 .3-.1 1.3-1 2.8-2.6 3.1-.8 1.5 2.9-1.8 .8-1.6 2.2-.7 2.8-3.2 0-3.2 1.6 .4 2.4-1.8 .8-2.6 1-2.9-2.9zM647.7 588.3l3.3-1.8 2.5-1.1 .8 3.1 2.1 1.3 .6 3.7-1.1 .5-1 3-2.1 0-3.7-1.4-.4-2.1-1-2.6 0-2.6zM652 605.7l4.4-.7-.3 1.9 .3 4.6-4.4 0-.5-3.5 .5-2.3zM614.4 614.4l1.9-.2 2-2.6 2.4-.8 2.4 .7 2.5 .2 1.8 1.5 1.5 .3 2.9 .9 .7 2.3 3.8 1.3 .7 0 3.5 .7 0 1.3-1.7-.5-4.3-.5-2.2 1.8-2.5 .1-1.4-.8-1.9 .1-2.1 .1-3.4 .4-2.6-.1-.8 .2-3.2-.8-.6-2 .6-3.6zM782.2 429.2l1.8 1.3 2.2 .2 2.9 1.2 1.8 .2 .2 2.5 1.4 1 .9 2.3 .4 2.9 .9 2.2-.8 2.5-1 1.4-1.3 4.4 .8 1-2.1-1.3-2.3-1.6-.2-1.3-1.2-4.3 1.5-1.4-.8-1.2-.7-3.3-1.7-.4-4.1-2.5-.7-3.3 2.1-2.5zM793.8 485.6l3.2-1.2 1.2 1.5 2.8-1.7 1.2 1.5 1.4 2.1 1.5 1.5 .3 3.5 1.2 2.8-1.1 3.8 0 .5-.3 3.5 1.6 2.5-2.1-1-3.7-1.9-.7-2-1.4-4.4 .7-2.3-1-.8-1.5-3-1-3-2.3-1.9zM406.2 734.3l1.1-2.4 2.4-.1 2.3-3.3 3.1-1.8 3.2-1 1.6 .4 2.2-.5-.1 2.7-1.3 3.1-3.1 1.5 .4 2.3-3.2-.3-1.4 2.3-2.1 .9-3.6-.9-1.5-2.9zM442.4 638.8l1.3 2.6 4.5 .1 .3 2.3 2.6 .8-.2 1.3-2.7 3-2.8-1.9-1.6-1 .2-3.3-1-1.5-.6-2.4zM413.4 771.9l.7-.6 4.4-3.1 1.8 .1 1.8-2.9 .4 2.3 1.1 2.8-2.4 1.6-.8 2-.9-.4-3.2 2.5-1.8-1.1-1.1-3.2zM438 771.9l2.4-1.5 1.1-2.6 2.2-1.2 .1-1.9 1.2-2.9 .6 .2 2.6-3.1 1.6 .7-.2 3.6-2 1.8-.9 1.4-.2 1.8-2.7 2.3-2.8 2-3-.6zM516.2 813.9l2 1 2-1.3 3.2 1.7 1.1 2.7-1.6 1.1 .2 5-.4 1.3-3.7-2.7-1.4-.2-.7-2.4-1.7-4.3 1-1.9zM535 819.6l4.1 .9 2 .5 1.8-.6-2.9 3-1.2 .5-.9 3 .3-3.1-3.3-.8 .1-3.4zM381.6 833.4l2.4 1.2 1.3-1.5 3.3-.6 3.5-.7 2.4 .3 .7 .5 3.1-1.1 2.1 .4-2.2 3.6-.1-.4-.6 3.3-1.8 .3-3.3-.5-.8 .2-3.6 2-2-1.2-1.9-2.3-2.1-1.1-.4-2.4zM393.2 845.7l2.8 .4 1.5-.1 3.5 1.3 2.4 .3 1.4 1 2.1 1.5 .8 4.3-3.2 1.1-.9-1.2-2.9-.9-3.2-1.2-1.4 .7-.5-1.8-2.2-2.6-.2-2.8zM456.8 829.8l1.4 1.3 2.5 .6 3.4 1-.9 2.6-.9 2.4 1 1.5-.7 3.6-3 1-1.7 .3-2.5 .1 1.8-2.2-.7-2.8 1.8-2.2 .5-2.2-.7-3-1.3-2zM412 855.8l2.1 1.5 3.4-.9 .2-.1 2.1 1 5.1-.5 .1 .4 2.1 0 3.3-2.4 3.4 1.4 2.1 .8 1.4 .6 2.2-1.1 .5 3 2.4 .5-2.8-1.4-2.4 .1-3.1 1.7-2.2-1.4-1.8 .3-.5 1.9-2.5 .3-3.6-.6-2.8 .4-.8-.6-4.1-1.9-.2 1.4-3.6-.2 0-4.2zM563.2 799.4l3.4 .4 1.1-1.9 2 0 2.3 1.8-1.3 2.1 2.9 3.9 .4 .9-1.7 2-2.6 .9 0-1.2-2.8-3-.3-2.4-3.3-1.1-.1-2.4zM579.8 802.3l3.5-1.1 2.1 1.5 .9-2.6 3.6 .7-.7 1.7 .6 4.2-2.2 1.5-.6 1.3-2.5-.2-3.2 1.7 .9-3.9-3.2-2.1 .8-2.7zM574 777.7l2.5 .3 2.6 1.1-.9 2.1 .9 4.3 1.3 .8 1.3 2.8-1 1.2-1 4.2 1.6 2-2.2 .5-2.2 .9-.3-3.6 .4-1-.3-1.1-1.7-2.9 .1-2.3 .4-4.1-.9 .5-.7-3.6 .1-2.1zM575.5 839.9l1.3-.4 2.2 2.5 3.2-1 1.9 1.8 .8 .9 3.4 4.2 .1 2.8 1.5 .8 2.2 1.2-1.5 2.1 1.9 3.4 .3 1.8-2.2 .8-2.3-1.4-1.9 1.9-4.2-1.3-.9 0-.6-2.1 1.3-2.6 .7-3.8-.7-.6-1.5-3 0-1.3-3.1-4 .5-2.1-2.4-.6zM561 851.5l4.2 1.7 2.1 .6 2.4-.9 1.3 3.1 .9 .8 .7 3.2-3.8 .7-1.4-1.8-2.2 .4-2.8 .7-1.2-1.7 .6-3.2-.8-3.6zM699.8 626.5l4.3 .7 0 3.8 1.9 1.4-1 1.9-.8 3.5 2.7 1.5-.7 2.9-1 1.2 1.8 2.6 .6 2.2 1.6 1.9 2.9 1.3-1 .7 2.4 3.3-3.6 2.2-.4-2.1-2.7-3.3-2.4-2.2 .9-1.8-2.6-.7-.9-2.4 .4-3.1-.1-1.1 .7-4-2.4-2.3-.3-2-1.1-.5 .4-2.5 .4-3.1zM686.7 683.7l3.3-.9 2.5-2-.3 1.8 .9 2.9 2.7 3.4-1.2 .9 .8 2.5 .7 3 1.9 .4 2.6 3.8 .6 1.5-1.9 3.8-1 2-1.5-1.7-1-2.6-3.3-1.5-.5-1.9-1.3-1.2-.4-3.5-.7-2.1-2.1-2.3 1.9-3.5-1.5-1.9-1.2-.9zM698.3 702.5l2.5 .1 1-.6 2.6-1.8 2.9-.1 3.7-.3 1.8-1-1.5 .7-.3 3.2-1.3 .6-2.7 3.5-1.7 2-4.1 .9-1.1-2.3-1.2-3.3-.6-1.6zM676.6 721.3l4.1 .5 1.8-.6 2.8-1.4 .8 4.1-.8 1.5 1.4 3.1-2.8 .9-2.5 1.9-.4 1.5-3-1.5-2.8-1.4-.6-4.2 3-1.6-1-2.8zM649.1 795l3.3 1.5 .9-.5 3.1 1.9 .4 3.6-1.2 2.6 .9-.1-1.1 3.8 1 1.7-.9-1.6-3.5 .2-1.2-3.3-.6-1.9 .1-2.1 .3-2.2-1.7-1.6 .2-2zM688.2 812.4l3 0 2.8 0 .1 2.3 1.1 4 2.1 .7-.4 3.1-3.1-1.5-2.7 .1 .6-3.3-2.1-2.5-.8-.8-.6-2.1zM718.6 797.9l1.9-1 2.7-2.4 3-.4 1.1-1.9 1.4-.5 3.6 .2 3.6 1.7-1 1.7-2.5 1.7-3.7 .9-.5 1.4-4.3 1.5-1 2.9-1.6-3.2 .2-1.7-2.9-.9zM701.2 851.5l3.8-1.7 1.4-1.2 1.6 1.3 1.5-.5 4.4-1.4 1.8-.9 3.8-1.3-.6 1.5 4.3-.2 2.5-1.3 1.6-.1-.1 1.8-2.8 2.5-1.2 0-2.4 .7-2.7 1.7-4.4 .2-.9 .3-1.8 .4-1.1 2.3-2.4 3-1 .5-2.4 .9-4.3 0-.9-3.8 .5-2.5 1.8-2.2zM490.1 917.9l1 .6 5.1 2.6 1.1-.3 1.1 .7 1.8 3 .1 1.9 2.8 1.6-2.9 1.4-1.9-2.4-1-.9-2.8-1-2.4-3-1.2-1.1-.8-3.1zM537.9 964.2l2.3 1.7 3.2-1.3 1.6 1.4 1.5 1.1 2.7 .7 .8 3.5 3.2 2.5 .6 .5-.7 2.8-.8 1.5-1.1-1-3.5-.7-1.6-2.1-1.5-3.2-1-.2-1.6-.7-.2-3.6-2.7-2.2-1.2-.7zM566.8 980.1l2.8-1.4 1.7-1.3 1.7 .7 2.5-.9 .8 3.4-2.5 1.7 1.3 .5-1.2 2.7 .1 3.3-.7 .4-3.6 1-2.2-1.2 1-4 0-2.5-1.7-2.4zM572.6 990.2l.6-1.4 4.4 1.4 1.6-.5 .8-2.4 4.4 1.1 .4-1.2 2.8-.1 2.3-1.2 2.6-.9 3.2 .1-1.4 2.3-3.3 1.6-2.5 1-1.5 1.6-2.8 1.5-1.3 1.2-1.6 3.1-3.5 .3-2.3 1.2-1.3-2.2 1-1.1-2.5-4.3-.1-1.1zM578.4 1003.2l.8-2.2 3.2-1.1 3.3 1.3 1.3-2.3 2.5 1.3 2.8 .3 1 2.7 2.4 1.5-2.2 .8-1.8 4.3-1.8 .7-2.3-.8-1.7-.7-1.5-1.1-2.8-2.3-.7-1.6-2.5-.8zM529.2 873l2.1-.8 1.5-1.8 3.6-1.7 2.2-2.9 1.6-.8-.2-3.4 2.2-1.6 .7 3.2 1.8-.7 1.8 3.3-2.4 3.4 1.4 1.8-1.2-.3-3.6 3.9 0 1.3-1.5 .3-3.2 2-3.9-.8-2.6-1.1-.3-3.3zM562.4 860l.9-1 2.9 .3 2.9-.2 1.3-.2 3.3 .5 3.4 .9 .9-.9 3.3 .6 .5 1.9-.4 5.2-.1 1.6-2.1 3.8-.8 2-.5-.5-3.3-4.4-3.1 .1-.4-2.5-2.7-2.4-.8-1.6-.5-.2-1.6-1.5-3.1-1.5zM588.5 864.3l2.5-.5 3.3 .8 2.9-1.7-.8 1.6 .4 3.9 1.8 3.2-2.5 1.2-3.3 1.7-.7-1.2-2-2.8-.6-2.4-1.1-2.8 .1-1zM523.4 1064l.9 0 1.7 2.9 3.2 1.4 1.7-1.2 1.4-2.9 .9-.5 3.2-1.2 1.5-1.3 0-3 1 3.6 .4 1.1 0 2.5-.2 1.5-4.2 2.9 1.4 .9-2.8 2-.8 1.2-.7 3-1.4 3-2.6-1.4 .9-3.3-2.6-2.5-1.8-3.1 1.1-1.4-2.6-2.7 .4-1.5zM667.9 860l3 .6 1.3 1.6 4.7-1.8 1.2 1-.5 3.2-1.5 1-.9 3.1-3.4-1.8-2.4 .3 .4-2.3 .1-3.4-2-1.5zM688.2 942.5l3.3 2.4 1 1.9 .8 1.3 .9 4 2.7 .8 0 2.6-1.3 4.3-1 1.1 .8 3.3-2.4-1.6-1.9-2.8-1.9-2.3-.5-4.3 .9-2.1-.6-2.1-1.2-3.2 .4-3.3zM735.9 860l3.7-1.1 2.6 1.8 2.2 .1 3.2-1.5 1.4 .7-1.9 2.7-2.5 1.6-2.9-.7-2.9 2.2-2.6-2.7-.3-3.1zM707 1017.7l3 .1 1.6-.2 4.1 1.5 2 .4 4.1-.6 2.6 1.7-.9 3.5 .1 2.4-2.1 1.3-1.9 .4-3.9-.7-2.9 1.8-1.5-1.7-4.3-1.2-1.5-1.8 2.2-3.5-.7-3.4zM704.1 1033.6l3.3-.6 2.5-.8 1.2 1.3 1.6 .8 2.2 3.6 .8 1.5-2.7 1.4-.9 0-2.8-.5-2.3 2-2.1-1.2 0-2.5-.4-2-.4-3zM692.5 1088.6l1.8-.3 3.1-.6 3.8-.6 2 2.4-1.3 2.1 2.2 2.8-2.8 2.4-1.5 1.9-1.5 1.3-1.5-.4-4.3 .4-1.3-2 .2-3.1 1.2-3.1-.2-1.3 .1-1.9zM727.3 1062.5l.7-1.9 2.7 1.9 4.1-1.9 1.1-1 .6 3.2 2.9 1.6 2.3 1-.9 3.6-1 .3-2.7 2.2-1.2 2.6-1.6 .9-4.2 2 .4-3.7-.7-1.6-2.4-.5 2.2-2.8-1.3-4.3-1-1.6zM381.6 1100l2-.1 3.3 0 2.1 .4 2.3-.6 1.9 .3 1.9 1.9 2.4 .6 1.5 3.3-3.3 2.9 .6 .9-2.3 1.5-2.3 .5-3.2-1.2 .4-3-2.9-.2-.8-1.6-1.1-3-2.5-2.6zM448.2 1134.7l2-2.1 1.7 .2 3-1.2 1.9 .2 1.5 3.3 0 1.1-.7 3.1-3-.5-3.1 2.8-.4 1.8-1.6 1-3.5 1.9 1.5-2.3 .8-3.4-1.4-1.3 1.8-2-.5-2.6zM504.6 1139.1l2.6 .3 3.5-2.7 1.1 .9 2.2 2 .3-.5 3.3 2.9 .5 4.1-1.9 1.6-3.6 2.3-2.2-.8-1.5-1.4-1-3.8 .3-.7-2.5-3.6-1.1-.6zM545.1 1150.6l1.6-.7 4.5-1.6 1.1-2 1.1 3.9-.7 1.5-.4 3.3-3 .5-2.8 2.4 .4-3-.3-2.7-1.5-1.6zM524.8 1149.2l.8-1.4 3.6-1.5 .2 3 1.7 .6 2.4 3.6-1.8 1.7 .4 2.7-2.2 .3-3.6-1.8-.1-2.9 .3-2.1-1.7-2.2zM569.7 1217.2l3.5-.4 .8-1.1 1.1 3.7-.5 .2 2.3 3.4-2.4 .6-1.9 2.3-2-3.4 .8-.2-1.1-4.1-.6-1zM548 1280.8l3.5-1.6 1.3-.1 2.4-1.4 1.5-1.2 2.2-3.6 .7-.7 1.4 2.8-.1 2.7-2 2.5-2.4 1.4-1.3 2.1-3.4-.7-2.4 2.2-2.1-2.6 .7-1.8zM546.5 1201.3l3.3-1.3 2.6 .2 1.4 1.1 2.5 3.1-.9 .3 2.6 3 .1 2.2 .1 1.5-2.6 2.5 1 4.7-1.4 1.5-.5-2.5-2.9-1.7 .5-3.1-2.8-.3-1.5-2.6-.4-1.5-2-4.9 .9-2.2zM559.6 1228.8l2.7-1 3 2.7 1.1-1.7 1.9 1.3 1.8-1.2 3.9 1.3 2.2 2.1-.7 2.2-1.6 2.4-3.6 .4-2.1 .1-3.7 0-.1 1.1-3.4-1.1 .4-2.5-.9-3.7-.9-2.4zM613.1 1263.5l2.6-1.6 2.7 1.2 .8-3.3 4 .8 .8 1.5 .6 4.1 0 2.3 1.1 3.8-1 1.3-.8 2.6-4.3-.7-.7 2.4-1.4-1.6-2.2-2.1-2.2-.6-1.4-1.1 .1-5.2 2-1.4-.7-2.4zM614.5 1231.6l1.9-1.3 2 0 3.3 .6 3-.7 2.2 .4 2.6 1.8 2.4 2.1 0 1.3-.2 4.6 .2 1.4-3.6 2.3-2.2 .6-1.9-1.4-2.1-.4-.1-4-3.1 0-2.3-3.3-1.6-.3-.5-3.7zM618.9 1214.3l4.3-.9 1.5 2.2 2.8-1.3-.6 2.6-.8 3.2-1.7 .1-4.1-1.6-1.6-1.7 .2-2.6zM637.7 1225.9l1.2-.1 4.7 .3 1.4-.2 2.8-1.5 1 .9 2.6 2.4 2.2 2.5-1.3 2.9-2.9 1.2-1.6 .2-3 1.7-2.4-.9-1.8 2.1-1.8-1.7-1.1-2.6-1-1.7-.2-4 1.2-1.5zM660.8 1237.4l3.2-1.4 .4 3.9 .6 .2-2.3 1.9 1 3.1-.1 2.5-.8 3.7 1.2 2-3.2-1.4 .7-2.8 .1-1.5 .4-4.4-2.3-1 1-1.9 .1-2.9zM530.6 1100l1 1.2 2.9 1.4 3.4 .3 .5 3 .5 2.3 2 .7 1.3 2.7 2.2 1 2.1 3.3-2.9 2.9-1-.2-3.7-3.8-1-.3-1.6-2.4-1.5-1-1.4-3.8 1.6-.1-1.6-3.2-2.8-2.9 0-1.1zM546.5 1121.7l2.6 .5 .7 1.8 4.1 .5 1.3 .1-.1 1.8-1.3 4-1.8-.9-4-2 .7-4.2-2.2-1.6zM613.1 1100l1.7-1.3 4.2 1.3 1.3-1.2 4.3 2.3 1.5-1.1-.3 2.2 1 2.5 .7 4-1.2 3.6-1.6 2.2-1.9-2.4-2.6-1.9-1.3-1.5-2.1-1.3-1-3.7-2.8-1.2 .1-2.5zM584.1 1139.1l1.8-1.5 3.9-.1 .6 1.4 3.6-.2 1-1.3 3.6 .2 1.2 3.2-2.2 1.5-1.1 2.3 1.3 2.7-.6 3.3-1.6 .6-4.3 .2-2.1 3-.7 .6-.1 2.3-1.3 2.2-2.9 1.2-.1 3 2.5 1.6 3.3 1.2 2.9-.9 .7-1.9 2.2-2.9 1.9-.8 3.5-.6 1.9-1.5 3-.4 1-.5 3.2-2 1.2 3.4-.9 1.1 1.1 2.7-2.9 2-1.8 .3-2.5 .6-1.8-1.1-4-.3-1.1-2.1-1.9-2-.3-3.3-1.3-1.3-2.3-1.1 .7-2-1.2-3.6-2.5-1.9-2.2-.7-1-1.5-.1-3.3-1.3-1.8zM598.6 1170.9l3.4-.9 2.4 .9 1.6 .1 1.9-1.7 2.3 .1 2.7-1.7 2.3-.9 2.8 1.8 .9-2.1 .8 2.4 2.1 3.4-2.4 2.8-3.4 .1-2.4 .2-2.2-.8-1.3 1.9-2.7 .9-3-.7-3.1-2.6-.2-2.3-2.5-.9zM611.6 1163.7l3.1 .5 2.1-.8 3.5 1.7 1 1 .5 3.3-1.7 1.1-4.2-.6-1.4-.5-1.1-2.6-1.8-3.1zM550.9 1162.2l2.9-.8 2.1-3.1 .8-.4 1.6 3.4-2 1 3.2 1.9 .8 1.6-.7 3.6 1.2 3.8-.3 .9 0 2-.4 3.3 .9 1.6-2.5 1-1.8 .5-1.7-1.1 2.4-4.7-1.1-1.7-1.1-2.7 0-2.9-.7-1.2-1.5-1.5-2.6-2.4 .5-2.1zM681 1233.1l2.9 .6 1.7-.2 2.8 2.4 1.2 .1 .6 1.7 2.6 1.8 1.6 1.9-.4 3.3-1.2 2.8 .5 2.9-.8 1.5-3.3-.1-1-1.3 .3-2.9-2.7-2.5-.7-.4 .2-2.9-1.1-1.4-2.5-2.7-.9-2.4 .2-2.2zM637.6 1225.9l1 1.2 4.6 .3 1.2-.3 1.9-.6 2.8 .8 3 1.4 1.4 2.9-1.6 .1-3.4 1.2-2.3 1.6-2.8 1.7-2.3 .1-.6 2.6-.5-3.4-2.4-1 .8-1.6-1.7-2.9 .9-4.1zM670.8 1311.2l3.5-1.8 2.3 .4 .5 3.7 .1 .5 .5 3 1.8 2.6 0 1.3 .4 1-.4 3.8 1.7 2.6 .4 3.2 .4 1.7 .9 .7 1 3.4-4.4 0-.7-1.7-2.9-3.8-.1 0 0-2.5-2.1-3.6-1.8-3.8 .6 .2-1.1-4.2 1.6-.9-2.5-2 .3-3.8zM678.3 1328.2l1.4 2.6 1.8 1.7 .7 2.2 2.3 .8-1.3 2.1 1.6 3.6-.8 4-.3 2.5-.2-3-2.8-.1-1.4-3.4 .2-2.7-1.2-1.9-2.1-.5-1.2-3.6 2.5-1.3 .8-3z" fill="#808080" stroke-width="1.5"/>
</g>
<path d="M593.7 752.8 601.5 764.1 609.7 779.4 616.8 794.8 620.9 808.1 626.1 822.5 632.2 834.8 635.3 847 636.3 863.4 639.4 879.8 641 892.1 641.4 905.5 648.6 914.7 653.7 922.9 655.8 933.1 656.2 943.4 652.7 953.6 648.6 964.9 646.6 976.1 645.5 990.5 648.6 1001.8 653.1 1011 655.4 1021.2 656.8 1031.5 657.4 1040.7" fill="none" stroke="#0000ff" stroke-width="7" stroke-linejoin="round"/>
<rect x="584.3" y="739.3" width="20" height="19.4" fill="none" stroke="#ff0000" stroke-width="1.7"/>
<circle cx="643.5" cy="987.4" r="11.4" fill="none" stroke="#00ff00" stroke-width="1.7"/>
<g stroke="#000" stroke-width="1.7" fill="none">
<rect x="344.5" y="380.2" width="464.2" height="975.2"/>
<path d="M453.1 1355.4v-9.5 M453.1 380.2v9.5M571.6 1355.4v-9.5 M571.6 380.2v9.5M690 1355.4v-9.5 M690 380.2v9.5M344.5 1205.4h9.5 M808.7 1205.4h-9.5M344.5 1055.4h9.5 M808.7 1055.4h-9.5M344.5 905.4h9.5 M808.7 905.4h-9.5M344.5 755.4h9.5 M808.7 755.4h-9.5M344.5 605.4h9.5 M808.7 605.4h-9.5M344.5 455.4h9.5 M808.7 455.4h-9.5"/>
</g>
<text x="454.1" y="1407.6" text-anchor="middle" font-size="41.7">77</text>
<text x="572.6" y="1407.6" text-anchor="middle" font-size="41.7">76.5</text>
<text x="691" y="1407.6" text-anchor="middle" font-size="41.7">76</text>
<text x="809.5" y="1407.6" text-anchor="middle" font-size="41.7">75.5</text>
<text x="330" y="1371" text-anchor="end" font-size="41.7">36.5</text>
<text x="330" y="1221" text-anchor="end" font-size="41.7">37</text>
<text x="330" y="1071" text-anchor="end" font-size="41.7">37.5</text>
<text x="330" y="921" text-anchor="end" font-size="41.7">38</text>
<text x="330" y="771" text-anchor="end" font-size="41.7">38.5</text>
<text x="330" y="621" text-anchor="end" font-size="41.7">39</text>
<text x="330" y="471" text-anchor="end" font-size="41.7">39.5</text>
<text x="429.3" y="1468.4" text-anchor="start" font-size="41.7">Longitude (°W)</text>
<text transform="translate(220.2 990) rotate(-90)" text-anchor="start" font-size="41.7">Latitude (°N)</text>
<defs>
<clipPath id="mapclip"><rect x="344.5" y="380.2" width="464.2" height="975.2"/></clipPath>
<clipPath id="sil"><path d="M987 252 993 252 993 261.8 1001.7 260.9 1027 258.1 1035 257.8 1035 268.6 1039 268.6 1039 257.1 1073 257 1073 287.8 1077 287.8 1077 256 1115.3 256 1115.3 248 1118 246.6 1120 256.7 1130 256.7 1130 247.3 1140 248.7 1150 249 1150 258.9 1164.7 256 1187.9 257 1195.1 260.3 1209.6 263.2 1224 266.1 1234.9 266.8 1234.9 256 1280.5 256.5 1280.5 319.3 1273.4 319.3 1273.4 329.2 1258.9 329.2 1258.9 338.8 1251.7 338.8 1251.7 359.8 1238.9 361.3 1238.9 372.1 1235.7 372.1 1234.7 424.7 1229 424.7 1229 441.7 1227.9 441.7 1227.5 473.5 1226 476.8 1221 476.8 1219.9 482.9 1219.2 496.7 1213 497.8 1214.8 506.4 1205.1 506.1 1205.1 515.5 1200 514.8 1200 469.9 1198.9 469.9 1198.9 463.4 1197.8 463.4 1197.8 439.5 1192.1 437.7 1190.9 406.1 1179 404.7 1179 435.8 1170.6 435.8 1170.6 456.5 1153.6 458.2 1153.6 448.5 1144.9 448.5 1144.9 459.4 1142.9 459.4 1141.7 448 1138.8 405.8 1123.2 404.3 1123.2 456.6 1111.9 458.2 1111.9 463.5 1113 463.5 1113 494.7 1111.9 494.7 1111.9 499.3 1098.9 499.3 1098.9 508.6 1086 508.6 1086 456 1078.8 456 1078.8 529.8 1070.1 531.1 1070.1 552 1061.1 552.7 1061.1 531.5 1050 531.1 1050 537.1 1048.3 537.1 1048.3 551.7 1046.9 551.7 1046.9 583.7 1042 583.7 1042 542.8 1037 542.8 1037 521.8 1033 521.8 1033 511.9 1024 511.9 1024 480.7 1020.2 480.7 1020.2 470.1 1016.9 470.1 1016.9 449.6 1013.8 449.6 1013.8 429 1004.9 430.4 1004.9 450.9 1002.3 450.9 1002.3 437 999.2 437 999.2 419.8 995.2 419.8 995.2 410.2 990.3 410.2 990.3 405.2 989 405.2 989 290 987 290Z"/></clipPath>
</defs>
<g transform="translate(0 0)">
<path d="M1003 220.2L1280 251.2M986 245.2L1003 220.2M1003 326L1280 357M986 351L1003 326M1003 431.8L1280 462.8M986 456.8L1003 431.8M1003 537.6L1280 568.6M986 562.6L1003 537.6M1008.3 220.8L1008.3 607.6M991.3 632.6L1008.3 607.6M1150.6 236.7L1150.6 623.5M1133.6 648.5L1150.6 623.5M999.6 225.2L999.6 612M999.6 612L1276.6 643" stroke="#000" stroke-width="1.05" stroke-dasharray="1.05 3.95" fill="none"/>
<g clip-path="url(#sil)">
<defs><linearGradient id="d0" gradientUnits="userSpaceOnUse" x1="0" y1="251.0" x2="0" y2="291.0"><stop offset=".000" stop-color="#00b2ff"/><stop offset=".175" stop-color="#00f5ff"/><stop offset=".225" stop-color="#00ffff"/><stop offset=".350" stop-color="#1affe5"/><stop offset="1.000" stop-color="#27ffd8"/></linearGradient><linearGradient id="d1" gradientUnits="userSpaceOnUse" x1="0" y1="251.0" x2="0" y2="411.0"><stop offset=".000" stop-color="#00c3ff"/><stop offset=".038" stop-color="#00ffff"/><stop offset=".044" stop-color="#0bfff4"/><stop offset=".087" stop-color="#1cffe3"/><stop offset=".338" stop-color="#32ffcd"/><stop offset=".431" stop-color="#6eff91"/><stop offset=".463" stop-color="#85ff7a"/><stop offset=".526" stop-color="#ffff00"/><stop offset=".680" stop-color="#ff0000"/><stop offset=".681" stop-color="#fd0000"/><stop offset=".838" stop-color="#800000"/><stop offset="1.000" stop-color="#800000"/></linearGradient><linearGradient id="d2" gradientUnits="userSpaceOnUse" x1="0" y1="251.0" x2="0" y2="411.0"><stop offset=".000" stop-color="#00e5ff"/><stop offset=".027" stop-color="#00ffff"/><stop offset=".044" stop-color="#16ffe9"/><stop offset=".306" stop-color="#31ffce"/><stop offset=".431" stop-color="#73ff8c"/><stop offset=".463" stop-color="#8fff70"/><stop offset=".529" stop-color="#ffff00"/><stop offset=".669" stop-color="#ff0c00"/><stop offset=".677" stop-color="#ff0000"/><stop offset=".744" stop-color="#bd0000"/><stop offset=".838" stop-color="#800000"/><stop offset="1.000" stop-color="#800000"/></linearGradient><linearGradient id="d3" gradientUnits="userSpaceOnUse" x1="0" y1="260.0" x2="0" y2="421.0"><stop offset=".000" stop-color="#23ffdc"/><stop offset=".248" stop-color="#34ffcb"/><stop offset=".373" stop-color="#79ff86"/><stop offset=".474" stop-color="#ffff00"/><stop offset=".478" stop-color="#fff900"/><stop offset=".609" stop-color="#ff0700"/><stop offset=".614" stop-color="#ff0000"/><stop offset=".733" stop-color="#8b0000"/><stop offset="1.000" stop-color="#800000"/></linearGradient><linearGradient id="d4" gradientUnits="userSpaceOnUse" x1="0" y1="260.0" x2="0" y2="438.0"><stop offset=".000" stop-color="#2cffd3"/><stop offset=".225" stop-color="#38ffc7"/><stop offset=".337" stop-color="#7fff80"/><stop offset=".432" stop-color="#ffff00"/><stop offset=".433" stop-color="#fffe00"/><stop offset=".551" stop-color="#ff0100"/><stop offset=".551" stop-color="#ff0000"/><stop offset=".663" stop-color="#810000"/><stop offset="1.000" stop-color="#800000"/></linearGradient><linearGradient id="d5" gradientUnits="userSpaceOnUse" x1="0" y1="260.0" x2="0" y2="452.0"><stop offset=".000" stop-color="#30ffcf"/><stop offset=".208" stop-color="#42ffbd"/><stop offset=".312" stop-color="#8fff70"/><stop offset=".383" stop-color="#ffff00"/><stop offset=".401" stop-color="#ffe000"/><stop offset=".499" stop-color="#ff0000"/><stop offset=".510" stop-color="#ea0000"/><stop offset=".615" stop-color="#800000"/><stop offset="1.000" stop-color="#800000"/></linearGradient><linearGradient id="d6" gradientUnits="userSpaceOnUse" x1="0" y1="259.0" x2="0" y2="452.0"><stop offset=".000" stop-color="#34ffcb"/><stop offset=".187" stop-color="#43ffbc"/><stop offset=".290" stop-color="#83ff7c"/><stop offset=".358" stop-color="#e1ff1e"/><stop offset=".372" stop-color="#ffff00"/><stop offset=".485" stop-color="#ff0000"/><stop offset=".487" stop-color="#fa0000"/><stop offset=".549" stop-color="#a20000"/><stop offset=".575" stop-color="#920000"/><stop offset=".617" stop-color="#800000"/><stop offset="1.000" stop-color="#800000"/></linearGradient><linearGradient id="d7" gradientUnits="userSpaceOnUse" x1="0" y1="259.0" x2="0" y2="431.0"><stop offset=".000" stop-color="#37ffc8"/><stop offset=".209" stop-color="#49ffb6"/><stop offset=".326" stop-color="#8eff71"/><stop offset=".401" stop-color="#f5ff0a"/><stop offset=".406" stop-color="#ffff00"/><stop offset=".525" stop-color="#ff0000"/><stop offset=".547" stop-color="#d80000"/><stop offset=".616" stop-color="#8b0000"/><stop offset="1.000" stop-color="#800000"/></linearGradient><linearGradient id="d8" gradientUnits="userSpaceOnUse" x1="0" y1="259.0" x2="0" y2="430.0"><stop offset=".000" stop-color="#36ffc9"/><stop offset=".211" stop-color="#52ffad"/><stop offset=".327" stop-color="#a2ff5d"/><stop offset=".387" stop-color="#ffff00"/><stop offset=".404" stop-color="#ffe500"/><stop offset=".503" stop-color="#ff0a00"/><stop offset=".509" stop-color="#ff0000"/><stop offset=".550" stop-color="#bc0000"/><stop offset=".620" stop-color="#800000"/><stop offset="1.000" stop-color="#800000"/></linearGradient><linearGradient id="d9" gradientUnits="userSpaceOnUse" x1="0" y1="259.0" x2="0" y2="451.0"><stop offset=".000" stop-color="#32ffcd"/><stop offset=".161" stop-color="#51ffae"/><stop offset=".250" stop-color="#8dff72"/><stop offset=".312" stop-color="#dfff20"/><stop offset=".326" stop-color="#ffff00"/><stop offset=".396" stop-color="#ff5400"/><stop offset=".438" stop-color="#ff0000"/><stop offset=".500" stop-color="#9a0000"/><stop offset=".552" stop-color="#800000"/><stop offset="1.000" stop-color="#800000"/></linearGradient><linearGradient id="d10" gradientUnits="userSpaceOnUse" x1="0" y1="258.0" x2="0" y2="471.0"><stop offset=".000" stop-color="#2fffd0"/><stop offset=".150" stop-color="#56ffa9"/><stop offset=".230" stop-color="#9cff63"/><stop offset=".286" stop-color="#faff05"/><stop offset=".288" stop-color="#ffff00"/><stop offset=".362" stop-color="#ff2200"/><stop offset=".380" stop-color="#ff0000"/><stop offset=".455" stop-color="#830000"/><stop offset="1.000" stop-color="#800000"/></linearGradient><linearGradient id="d11" gradientUnits="userSpaceOnUse" x1="0" y1="258.0" x2="0" y2="482.0"><stop offset=".000" stop-color="#2effd1"/><stop offset=".121" stop-color="#57ffa8"/><stop offset=".219" stop-color="#c6ff39"/><stop offset=".244" stop-color="#ffff00"/><stop offset=".272" stop-color="#ffc100"/><stop offset=".344" stop-color="#ff0100"/><stop offset=".345" stop-color="#ff0000"/><stop offset=".433" stop-color="#800000"/><stop offset="1.000" stop-color="#800000"/></linearGradient><linearGradient id="d12" gradientUnits="userSpaceOnUse" x1="0" y1="258.0" x2="0" y2="513.0"><stop offset=".000" stop-color="#2effd1"/><stop offset=".106" stop-color="#60ff9f"/><stop offset=".125" stop-color="#7fff80"/><stop offset=".192" stop-color="#f7ff08"/><stop offset=".195" stop-color="#ffff00"/><stop offset=".275" stop-color="#ff1800"/><stop offset=".287" stop-color="#ff0000"/><stop offset=".361" stop-color="#820000"/><stop offset="1.000" stop-color="#800000"/></linearGradient><linearGradient id="d13" gradientUnits="userSpaceOnUse" x1="0" y1="257.0" x2="0" y2="513.0"><stop offset=".000" stop-color="#36ffc9"/><stop offset=".109" stop-color="#61ff9e"/><stop offset=".188" stop-color="#c9ff36"/><stop offset=".211" stop-color="#ffff00"/><stop offset=".254" stop-color="#ff9700"/><stop offset=".295" stop-color="#ff0000"/><stop offset=".297" stop-color="#fa0000"/><stop offset=".363" stop-color="#800000"/><stop offset="1.000" stop-color="#800000"/></linearGradient><linearGradient id="d14" gradientUnits="userSpaceOnUse" x1="0" y1="257.0" x2="0" y2="513.0"><stop offset=".000" stop-color="#41ffbe"/><stop offset=".109" stop-color="#61ff9e"/><stop offset=".188" stop-color="#9cff63"/><stop offset=".245" stop-color="#ffff00"/><stop offset=".254" stop-color="#fff000"/><stop offset=".297" stop-color="#ff0c00"/><stop offset=".302" stop-color="#ff0000"/><stop offset=".363" stop-color="#800000"/><stop offset="1.000" stop-color="#800000"/></linearGradient><linearGradient id="d15" gradientUnits="userSpaceOnUse" x1="0" y1="257.0" x2="0" y2="523.0"><stop offset=".000" stop-color="#42ffbd"/><stop offset=".105" stop-color="#5effa1"/><stop offset=".199" stop-color="#b3ff4c"/><stop offset=".241" stop-color="#fbff04"/><stop offset=".241" stop-color="#ffff00"/><stop offset=".256" stop-color="#ff9100"/><stop offset=".286" stop-color="#ff0200"/><stop offset=".287" stop-color="#ff0000"/><stop offset=".350" stop-color="#870000"/><stop offset="1.000" stop-color="#800000"/></linearGradient><linearGradient id="d16" gradientUnits="userSpaceOnUse" x1="0" y1="257.0" x2="0" y2="523.0"><stop offset=".000" stop-color="#42ffbd"/><stop offset=".124" stop-color="#64ff9b"/><stop offset=".199" stop-color="#b3ff4c"/><stop offset=".241" stop-color="#feff01"/><stop offset=".241" stop-color="#ffff00"/><stop offset=".256" stop-color="#ff6300"/><stop offset=".274" stop-color="#ff0c00"/><stop offset=".280" stop-color="#ff0000"/><stop offset=".331" stop-color="#a70000"/><stop offset=".368" stop-color="#800000"/><stop offset="1.000" stop-color="#800000"/></linearGradient><linearGradient id="d17" gradientUnits="userSpaceOnUse" x1="0" y1="256.0" x2="0" y2="544.0"><stop offset=".000" stop-color="#3bffc4"/><stop offset=".083" stop-color="#5cffa3"/><stop offset=".118" stop-color="#80ff80"/><stop offset=".146" stop-color="#b1ff4e"/><stop offset=".170" stop-color="#ffff00"/><stop offset=".184" stop-color="#ffd700"/><stop offset=".226" stop-color="#ff9900"/><stop offset=".240" stop-color="#ff2500"/><stop offset=".251" stop-color="#ff0000"/><stop offset=".257" stop-color="#ec0000"/><stop offset=".344" stop-color="#800000"/><stop offset="1.000" stop-color="#800000"/></linearGradient><linearGradient id="d18" gradientUnits="userSpaceOnUse" x1="0" y1="256.0" x2="0" y2="585.0"><stop offset=".000" stop-color="#2effd1"/><stop offset=".073" stop-color="#6eff91"/><stop offset=".103" stop-color="#b8ff47"/><stop offset=".124" stop-color="#ffff00"/><stop offset=".128" stop-color="#fff400"/><stop offset=".143" stop-color="#ff7a00"/><stop offset=".161" stop-color="#ff0f00"/><stop offset=".177" stop-color="#ff0000"/><stop offset=".301" stop-color="#810000"/><stop offset="1.000" stop-color="#800000"/></linearGradient><linearGradient id="d19" gradientUnits="userSpaceOnUse" x1="0" y1="256.0" x2="0" y2="585.0"><stop offset=".000" stop-color="#2effd1"/><stop offset=".058" stop-color="#60ff9f"/><stop offset=".088" stop-color="#a8ff57"/><stop offset=".109" stop-color="#eeff11"/><stop offset=".113" stop-color="#ffff00"/><stop offset=".155" stop-color="#ff1b00"/><stop offset=".161" stop-color="#ff0c00"/><stop offset=".174" stop-color="#ff0000"/><stop offset=".316" stop-color="#800000"/><stop offset="1.000" stop-color="#800000"/></linearGradient><linearGradient id="d20" gradientUnits="userSpaceOnUse" x1="0" y1="256.0" x2="0" y2="585.0"><stop offset=".000" stop-color="#2affd5"/><stop offset=".058" stop-color="#5affa5"/><stop offset=".088" stop-color="#a3ff5c"/><stop offset=".109" stop-color="#e7ff18"/><stop offset=".114" stop-color="#ffff00"/><stop offset=".155" stop-color="#ff3a00"/><stop offset=".191" stop-color="#ff0000"/><stop offset=".204" stop-color="#ed0000"/><stop offset=".316" stop-color="#860000"/><stop offset="1.000" stop-color="#800000"/></linearGradient><linearGradient id="d21" gradientUnits="userSpaceOnUse" x1="0" y1="256.0" x2="0" y2="538.0"><stop offset=".000" stop-color="#21ffde"/><stop offset=".067" stop-color="#4cffb3"/><stop offset=".103" stop-color="#83ff7c"/><stop offset=".131" stop-color="#c1ff3e"/><stop offset=".149" stop-color="#ffff00"/><stop offset=".202" stop-color="#ff5200"/><stop offset=".238" stop-color="#ff0000"/><stop offset=".238" stop-color="#ff0000"/><stop offset=".369" stop-color="#930000"/><stop offset=".422" stop-color="#800000"/><stop offset="1.000" stop-color="#800000"/></linearGradient><linearGradient id="d22" gradientUnits="userSpaceOnUse" x1="0" y1="256.0" x2="0" y2="532.0"><stop offset=".000" stop-color="#19ffe6"/><stop offset=".087" stop-color="#4bffb4"/><stop offset=".134" stop-color="#8fff70"/><stop offset=".174" stop-color="#f6ff09"/><stop offset=".176" stop-color="#ffff00"/><stop offset=".243" stop-color="#ff2100"/><stop offset=".270" stop-color="#ff0000"/><stop offset=".304" stop-color="#d60000"/><stop offset=".377" stop-color="#a10000"/><stop offset=".467" stop-color="#800000"/><stop offset="1.000" stop-color="#800000"/></linearGradient><linearGradient id="d23" gradientUnits="userSpaceOnUse" x1="0" y1="256.0" x2="0" y2="532.0"><stop offset=".000" stop-color="#14ffeb"/><stop offset=".087" stop-color="#3fffc0"/><stop offset=".134" stop-color="#71ff8e"/><stop offset=".174" stop-color="#bdff42"/><stop offset=".199" stop-color="#ffff00"/><stop offset=".300" stop-color="#ff0000"/><stop offset=".308" stop-color="#ee0000"/><stop offset=".431" stop-color="#8f0000"/><stop offset=".467" stop-color="#800000"/><stop offset="1.000" stop-color="#800000"/></linearGradient><linearGradient id="d24" gradientUnits="userSpaceOnUse" x1="0" y1="256.0" x2="0" y2="532.0"><stop offset=".000" stop-color="#10ffef"/><stop offset=".123" stop-color="#47ffb8"/><stop offset=".196" stop-color="#a2ff5d"/><stop offset=".241" stop-color="#ffff00"/><stop offset=".250" stop-color="#ffed00"/><stop offset=".275" stop-color="#ff7500"/><stop offset=".308" stop-color="#ff0b00"/><stop offset=".317" stop-color="#ff0000"/><stop offset=".359" stop-color="#ce0000"/><stop offset=".467" stop-color="#800000"/><stop offset="1.000" stop-color="#800000"/></linearGradient><linearGradient id="d25" gradientUnits="userSpaceOnUse" x1="0" y1="256.0" x2="0" y2="554.0"><stop offset=".000" stop-color="#05fffa"/><stop offset=".114" stop-color="#39ffc6"/><stop offset=".181" stop-color="#81ff7e"/><stop offset=".232" stop-color="#e7ff18"/><stop offset=".238" stop-color="#ffff00"/><stop offset=".272" stop-color="#ff6000"/><stop offset=".305" stop-color="#ff0200"/><stop offset=".307" stop-color="#ff0000"/><stop offset=".433" stop-color="#870000"/><stop offset="1.000" stop-color="#800000"/></linearGradient><linearGradient id="d26" gradientUnits="userSpaceOnUse" x1="0" y1="256.0" x2="0" y2="553.0"><stop offset=".000" stop-color="#00f8ff"/><stop offset=".021" stop-color="#00ffff"/><stop offset=".131" stop-color="#38ffc7"/><stop offset=".182" stop-color="#75ff8a"/><stop offset=".243" stop-color="#ffff00"/><stop offset=".253" stop-color="#ffea00"/><stop offset=".273" stop-color="#ff7b00"/><stop offset=".306" stop-color="#ff0d00"/><stop offset=".317" stop-color="#ff0000"/><stop offset=".451" stop-color="#800000"/><stop offset="1.000" stop-color="#800000"/></linearGradient><linearGradient id="d27" gradientUnits="userSpaceOnUse" x1="0" y1="256.0" x2="0" y2="553.0"><stop offset=".000" stop-color="#00f0ff"/><stop offset=".035" stop-color="#00ffff"/><stop offset=".131" stop-color="#34ffcb"/><stop offset=".182" stop-color="#81ff7e"/><stop offset=".226" stop-color="#ffff00"/><stop offset=".232" stop-color="#ffeb00"/><stop offset=".259" stop-color="#ffb900"/><stop offset=".306" stop-color="#ff0a00"/><stop offset=".314" stop-color="#ff0000"/><stop offset=".350" stop-color="#d20000"/><stop offset=".434" stop-color="#930000"/><stop offset=".535" stop-color="#800000"/><stop offset="1.000" stop-color="#800000"/></linearGradient><linearGradient id="d28" gradientUnits="userSpaceOnUse" x1="0" y1="256.0" x2="0" y2="553.0"><stop offset=".000" stop-color="#00f2ff"/><stop offset=".034" stop-color="#00ffff"/><stop offset=".131" stop-color="#2effd1"/><stop offset=".205" stop-color="#82ff7d"/><stop offset=".258" stop-color="#ffff00"/><stop offset=".259" stop-color="#fffa00"/><stop offset=".279" stop-color="#ff8500"/><stop offset=".306" stop-color="#ff2200"/><stop offset=".338" stop-color="#ff0000"/><stop offset=".367" stop-color="#e40000"/><stop offset=".535" stop-color="#880000"/><stop offset="1.000" stop-color="#850000"/></linearGradient><linearGradient id="d29" gradientUnits="userSpaceOnUse" x1="0" y1="256.0" x2="0" y2="532.0"><stop offset=".000" stop-color="#00f5ff"/><stop offset=".029" stop-color="#00ffff"/><stop offset=".141" stop-color="#2effd1"/><stop offset=".214" stop-color="#7cff83"/><stop offset=".272" stop-color="#f8ff07"/><stop offset=".274" stop-color="#ffff00"/><stop offset=".301" stop-color="#ff9100"/><stop offset=".330" stop-color="#ff4900"/><stop offset=".417" stop-color="#ff0000"/><stop offset=".467" stop-color="#ce0000"/><stop offset=".576" stop-color="#990000"/><stop offset="1.000" stop-color="#910000"/></linearGradient><linearGradient id="d30" gradientUnits="userSpaceOnUse" x1="0" y1="255.0" x2="0" y2="531.0"><stop offset=".000" stop-color="#00f9ff"/><stop offset=".023" stop-color="#00ffff"/><stop offset=".145" stop-color="#2effd1"/><stop offset=".217" stop-color="#7fff80"/><stop offset=".275" stop-color="#feff01"/><stop offset=".276" stop-color="#ffff00"/><stop offset=".304" stop-color="#ff9c00"/><stop offset=".362" stop-color="#ff4700"/><stop offset=".435" stop-color="#ff1e00"/><stop offset=".453" stop-color="#ff0000"/><stop offset=".471" stop-color="#e20000"/><stop offset=".543" stop-color="#b00000"/><stop offset="1.000" stop-color="#9c0000"/></linearGradient><linearGradient id="d31" gradientUnits="userSpaceOnUse" x1="0" y1="255.0" x2="0" y2="457.0"><stop offset=".000" stop-color="#00f5ff"/><stop offset=".041" stop-color="#00ffff"/><stop offset=".173" stop-color="#2bffd4"/><stop offset=".272" stop-color="#75ff8a"/><stop offset=".347" stop-color="#e7ff18"/><stop offset=".356" stop-color="#ffff00"/><stop offset=".436" stop-color="#ff4c00"/><stop offset=".495" stop-color="#ff2300"/><stop offset=".589" stop-color="#ff0000"/><stop offset=".743" stop-color="#b70000"/><stop offset="1.000" stop-color="#a80000"/></linearGradient><linearGradient id="d32" gradientUnits="userSpaceOnUse" x1="0" y1="255.0" x2="0" y2="457.0"><stop offset=".000" stop-color="#00efff"/><stop offset=".052" stop-color="#00ffff"/><stop offset=".173" stop-color="#32ffcd"/><stop offset=".248" stop-color="#7cff83"/><stop offset=".329" stop-color="#ffff00"/><stop offset=".347" stop-color="#ffe300"/><stop offset=".386" stop-color="#ff7100"/><stop offset=".436" stop-color="#ff0b00"/><stop offset=".467" stop-color="#ff0000"/><stop offset=".693" stop-color="#bd0000"/><stop offset="1.000" stop-color="#b30000"/></linearGradient><linearGradient id="d33" gradientUnits="userSpaceOnUse" x1="0" y1="255.0" x2="0" y2="510.0"><stop offset=".000" stop-color="#00e8ff"/><stop offset=".046" stop-color="#00ffff"/><stop offset=".118" stop-color="#2cffd3"/><stop offset=".165" stop-color="#74ff8b"/><stop offset=".203" stop-color="#ffff00"/><stop offset=".251" stop-color="#ff5000"/><stop offset=".330" stop-color="#ff0000"/><stop offset=".345" stop-color="#f10000"/><stop offset=".588" stop-color="#b40000"/><stop offset="1.000" stop-color="#b30000"/></linearGradient><linearGradient id="d34" gradientUnits="userSpaceOnUse" x1="0" y1="255.0" x2="0" y2="510.0"><stop offset=".000" stop-color="#00abff"/><stop offset=".118" stop-color="#00f8ff"/><stop offset=".123" stop-color="#00ffff"/><stop offset=".165" stop-color="#31ffce"/><stop offset=".251" stop-color="#fbff04"/><stop offset=".255" stop-color="#ffff00"/><stop offset=".294" stop-color="#ffda00"/><stop offset=".337" stop-color="#ff8900"/><stop offset=".357" stop-color="#ff4f00"/><stop offset=".431" stop-color="#ff0000"/><stop offset=".451" stop-color="#f00000"/><stop offset=".612" stop-color="#b30000"/><stop offset="1.000" stop-color="#b30000"/></linearGradient><linearGradient id="d35" gradientUnits="userSpaceOnUse" x1="0" y1="255.0" x2="0" y2="510.0"><stop offset=".000" stop-color="#0073ff"/><stop offset=".186" stop-color="#00ffff"/><stop offset=".235" stop-color="#28ffd7"/><stop offset=".275" stop-color="#59ffa6"/><stop offset=".314" stop-color="#b0ff4f"/><stop offset=".337" stop-color="#fbff04"/><stop offset=".338" stop-color="#ffff00"/><stop offset=".357" stop-color="#ffa700"/><stop offset=".392" stop-color="#ff5d00"/><stop offset=".475" stop-color="#ff0000"/><stop offset=".529" stop-color="#cf0000"/><stop offset=".612" stop-color="#b80000"/><stop offset="1.000" stop-color="#b30000"/></linearGradient><linearGradient id="d36" gradientUnits="userSpaceOnUse" x1="0" y1="255.0" x2="0" y2="510.0"><stop offset=".000" stop-color="#0059ff"/><stop offset=".059" stop-color="#0072ff"/><stop offset=".118" stop-color="#00baff"/><stop offset=".205" stop-color="#00ffff"/><stop offset=".275" stop-color="#43ffbc"/><stop offset=".314" stop-color="#9dff62"/><stop offset=".340" stop-color="#ffff00"/><stop offset=".361" stop-color="#ffab00"/><stop offset=".499" stop-color="#ff0000"/><stop offset=".529" stop-color="#de0000"/><stop offset=".745" stop-color="#b30000"/><stop offset="1.000" stop-color="#b30000"/></linearGradient><linearGradient id="d37" gradientUnits="userSpaceOnUse" x1="0" y1="255.0" x2="0" y2="510.0"><stop offset=".000" stop-color="#005aff"/><stop offset=".059" stop-color="#006cff"/><stop offset=".214" stop-color="#00ffff"/><stop offset=".275" stop-color="#39ffc6"/><stop offset=".314" stop-color="#94ff6b"/><stop offset=".341" stop-color="#ffff00"/><stop offset=".361" stop-color="#ffb500"/><stop offset=".517" stop-color="#ff0000"/><stop offset=".529" stop-color="#f00000"/><stop offset=".612" stop-color="#c90000"/><stop offset=".745" stop-color="#b30000"/><stop offset="1.000" stop-color="#b30000"/></linearGradient><linearGradient id="d38" gradientUnits="userSpaceOnUse" x1="0" y1="255.0" x2="0" y2="500.0"><stop offset=".000" stop-color="#0075ff"/><stop offset=".061" stop-color="#0082ff"/><stop offset=".163" stop-color="#00c6ff"/><stop offset=".226" stop-color="#00ffff"/><stop offset=".286" stop-color="#3cffc3"/><stop offset=".327" stop-color="#94ff6b"/><stop offset=".355" stop-color="#ffff00"/><stop offset=".380" stop-color="#ffb000"/><stop offset=".557" stop-color="#ff0000"/><stop offset=".571" stop-color="#f40000"/><stop offset=".637" stop-color="#cd0000"/><stop offset=".776" stop-color="#b30000"/><stop offset="1.000" stop-color="#b30000"/></linearGradient><linearGradient id="d39" gradientUnits="userSpaceOnUse" x1="0" y1="255.0" x2="0" y2="500.0"><stop offset=".000" stop-color="#008fff"/><stop offset=".163" stop-color="#00beff"/><stop offset=".224" stop-color="#00faff"/><stop offset=".229" stop-color="#00ffff"/><stop offset=".298" stop-color="#4dffb2"/><stop offset=".331" stop-color="#9eff61"/><stop offset=".355" stop-color="#ffff00"/><stop offset=".380" stop-color="#ffb200"/><stop offset=".575" stop-color="#ff0000"/><stop offset=".637" stop-color="#d00000"/><stop offset=".776" stop-color="#b30000"/><stop offset="1.000" stop-color="#b30000"/></linearGradient><linearGradient id="d40" gradientUnits="userSpaceOnUse" x1="0" y1="255.0" x2="0" y2="500.0"><stop offset=".000" stop-color="#0097ff"/><stop offset=".122" stop-color="#00a9ff"/><stop offset=".204" stop-color="#00e0ff"/><stop offset=".233" stop-color="#00ffff"/><stop offset=".298" stop-color="#4cffb3"/><stop offset=".331" stop-color="#9eff61"/><stop offset=".354" stop-color="#ffff00"/><stop offset=".380" stop-color="#ffb200"/><stop offset=".592" stop-color="#ff0500"/><stop offset=".599" stop-color="#ff0000"/><stop offset=".776" stop-color="#bd0000"/><stop offset="1.000" stop-color="#b50000"/></linearGradient><linearGradient id="d41" gradientUnits="userSpaceOnUse" x1="0" y1="255.0" x2="0" y2="500.0"><stop offset=".000" stop-color="#009aff"/><stop offset=".122" stop-color="#00a4ff"/><stop offset=".204" stop-color="#00d9ff"/><stop offset=".237" stop-color="#00ffff"/><stop offset=".306" stop-color="#5bffa4"/><stop offset=".335" stop-color="#abff54"/><stop offset=".351" stop-color="#f9ff06"/><stop offset=".353" stop-color="#ffff00"/><stop offset=".380" stop-color="#ffb100"/><stop offset=".571" stop-color="#ff2400"/><stop offset=".644" stop-color="#ff0000"/><stop offset=".816" stop-color="#b90000"/><stop offset="1.000" stop-color="#b90000"/></linearGradient><linearGradient id="d42" gradientUnits="userSpaceOnUse" x1="0" y1="255.0" x2="0" y2="496.0"><stop offset=".000" stop-color="#009eff"/><stop offset=".124" stop-color="#009fff"/><stop offset=".207" stop-color="#00d2ff"/><stop offset=".244" stop-color="#00ffff"/><stop offset=".311" stop-color="#57ffa8"/><stop offset=".340" stop-color="#a9ff56"/><stop offset=".357" stop-color="#feff01"/><stop offset=".357" stop-color="#ffff00"/><stop offset=".382" stop-color="#ffb300"/><stop offset=".477" stop-color="#ff6b00"/><stop offset=".705" stop-color="#ff0b00"/><stop offset=".723" stop-color="#ff0000"/><stop offset=".830" stop-color="#bc0000"/><stop offset="1.000" stop-color="#bc0000"/></linearGradient><linearGradient id="d43" gradientUnits="userSpaceOnUse" x1="0" y1="246.0" x2="0" y2="459.0"><stop offset=".000" stop-color="#00a4ff"/><stop offset=".183" stop-color="#00abff"/><stop offset=".277" stop-color="#00e4ff"/><stop offset=".299" stop-color="#00ffff"/><stop offset=".394" stop-color="#8aff75"/><stop offset=".441" stop-color="#ffff00"/><stop offset=".474" stop-color="#ffaf00"/><stop offset=".582" stop-color="#ff6b00"/><stop offset=".846" stop-color="#ff0000"/><stop offset="1.000" stop-color="#bd0000"/></linearGradient><linearGradient id="d44" gradientUnits="userSpaceOnUse" x1="0" y1="246.0" x2="0" y2="458.0"><stop offset=".000" stop-color="#00b0ff"/><stop offset=".184" stop-color="#00c9ff"/><stop offset=".234" stop-color="#00ffff"/><stop offset=".259" stop-color="#1cffe3"/><stop offset=".288" stop-color="#6eff91"/><stop offset=".307" stop-color="#c5ff3a"/><stop offset=".331" stop-color="#ffff00"/><stop offset=".335" stop-color="#fff600"/><stop offset=".792" stop-color="#ff0000"/><stop offset=".892" stop-color="#cf0000"/><stop offset="1.000" stop-color="#c40000"/></linearGradient><linearGradient id="d45" gradientUnits="userSpaceOnUse" x1="0" y1="256.0" x2="0" y2="458.0"><stop offset=".000" stop-color="#00b2ff"/><stop offset=".119" stop-color="#00d3ff"/><stop offset=".171" stop-color="#00ffff"/><stop offset=".203" stop-color="#22ffdd"/><stop offset=".243" stop-color="#83ff7c"/><stop offset=".271" stop-color="#ffff00"/><stop offset=".272" stop-color="#fff900"/><stop offset=".302" stop-color="#ffbc00"/><stop offset=".490" stop-color="#ff8800"/><stop offset=".711" stop-color="#ff0000"/><stop offset=".738" stop-color="#eb0000"/><stop offset=".886" stop-color="#c70000"/><stop offset="1.000" stop-color="#c70000"/></linearGradient><linearGradient id="d46" gradientUnits="userSpaceOnUse" x1="0" y1="256.0" x2="0" y2="405.0"><stop offset=".000" stop-color="#00b3ff"/><stop offset=".161" stop-color="#00ddff"/><stop offset=".209" stop-color="#00ffff"/><stop offset=".275" stop-color="#33ffcc"/><stop offset=".329" stop-color="#9bff64"/><stop offset=".361" stop-color="#ffff00"/><stop offset=".362" stop-color="#fffc00"/><stop offset=".396" stop-color="#ffc700"/><stop offset=".664" stop-color="#ff8800"/><stop offset=".886" stop-color="#ff0000"/><stop offset="1.000" stop-color="#c50000"/></linearGradient><linearGradient id="d47" gradientUnits="userSpaceOnUse" x1="0" y1="256.0" x2="0" y2="406.0"><stop offset=".000" stop-color="#00b5ff"/><stop offset=".127" stop-color="#00d1ff"/><stop offset=".193" stop-color="#00ffff"/><stop offset=".247" stop-color="#28ffd7"/><stop offset=".350" stop-color="#ffff00"/><stop offset=".380" stop-color="#ffce00"/><stop offset=".593" stop-color="#ff9e00"/><stop offset=".727" stop-color="#ff5600"/><stop offset=".823" stop-color="#ff0000"/><stop offset=".893" stop-color="#d40000"/><stop offset="1.000" stop-color="#b90000"/></linearGradient><linearGradient id="d48" gradientUnits="userSpaceOnUse" x1="0" y1="246.0" x2="0" y2="406.0"><stop offset=".000" stop-color="#00a8ff"/><stop offset=".181" stop-color="#00d3ff"/><stop offset=".240" stop-color="#00ffff"/><stop offset=".294" stop-color="#28ffd7"/><stop offset=".381" stop-color="#daff25"/><stop offset=".409" stop-color="#ffff00"/><stop offset=".419" stop-color="#fff100"/><stop offset=".619" stop-color="#ff9c00"/><stop offset=".744" stop-color="#ff4400"/><stop offset=".807" stop-color="#ff0000"/><stop offset=".838" stop-color="#e20000"/><stop offset=".931" stop-color="#b30000"/><stop offset="1.000" stop-color="#b30000"/></linearGradient><linearGradient id="d49" gradientUnits="userSpaceOnUse" x1="0" y1="247.0" x2="0" y2="406.0"><stop offset=".000" stop-color="#00a8ff"/><stop offset=".176" stop-color="#00d8ff"/><stop offset=".241" stop-color="#00ffff"/><stop offset=".289" stop-color="#1dffe2"/><stop offset=".415" stop-color="#baff45"/><stop offset=".502" stop-color="#ffff00"/><stop offset=".792" stop-color="#ff0000"/><stop offset=".805" stop-color="#f20000"/><stop offset=".899" stop-color="#b90000"/><stop offset="1.000" stop-color="#b30000"/></linearGradient><linearGradient id="d50" gradientUnits="userSpaceOnUse" x1="0" y1="247.0" x2="0" y2="410.0"><stop offset=".000" stop-color="#00a9ff"/><stop offset=".172" stop-color="#00ddff"/><stop offset=".241" stop-color="#00ffff"/><stop offset=".294" stop-color="#1bffe4"/><stop offset=".387" stop-color="#62ff9d"/><stop offset=".466" stop-color="#b4ff4b"/><stop offset=".514" stop-color="#ffff00"/><stop offset=".558" stop-color="#ffb000"/><stop offset=".757" stop-color="#ff0000"/><stop offset=".785" stop-color="#e40000"/><stop offset=".877" stop-color="#b20000"/><stop offset="1.000" stop-color="#b20000"/></linearGradient><linearGradient id="d51" gradientUnits="userSpaceOnUse" x1="0" y1="248.0" x2="0" y2="452.0"><stop offset=".000" stop-color="#00adff"/><stop offset=".132" stop-color="#00e4ff"/><stop offset=".175" stop-color="#00ffff"/><stop offset=".304" stop-color="#68ff97"/><stop offset=".373" stop-color="#c5ff3a"/><stop offset=".401" stop-color="#ffff00"/><stop offset=".441" stop-color="#ff9f00"/><stop offset=".583" stop-color="#ff0000"/><stop offset=".623" stop-color="#d80000"/><stop offset=".721" stop-color="#ae0000"/><stop offset="1.000" stop-color="#ae0000"/></linearGradient><linearGradient id="d52" gradientUnits="userSpaceOnUse" x1="0" y1="248.0" x2="0" y2="460.0"><stop offset=".000" stop-color="#00b1ff"/><stop offset=".157" stop-color="#00ffff"/><stop offset=".222" stop-color="#2affd5"/><stop offset=".307" stop-color="#7dff82"/><stop offset=".358" stop-color="#cdff32"/><stop offset=".382" stop-color="#fbff04"/><stop offset=".383" stop-color="#ffff00"/><stop offset=".410" stop-color="#ffa800"/><stop offset=".458" stop-color="#ff5a00"/><stop offset=".505" stop-color="#ff1600"/><stop offset=".534" stop-color="#ff0000"/><stop offset=".599" stop-color="#cd0000"/><stop offset=".693" stop-color="#aa0000"/><stop offset="1.000" stop-color="#aa0000"/></linearGradient><linearGradient id="d53" gradientUnits="userSpaceOnUse" x1="0" y1="248.0" x2="0" y2="450.0"><stop offset=".000" stop-color="#00b8ff"/><stop offset=".157" stop-color="#00ffff"/><stop offset=".208" stop-color="#21ffde"/><stop offset=".307" stop-color="#84ff7b"/><stop offset=".379" stop-color="#ffff00"/><stop offset=".401" stop-color="#ffdb00"/><stop offset=".431" stop-color="#ff8900"/><stop offset=".530" stop-color="#ff0300"/><stop offset=".534" stop-color="#ff0000"/><stop offset=".629" stop-color="#c70000"/><stop offset=".728" stop-color="#a90000"/><stop offset="1.000" stop-color="#a60000"/></linearGradient><linearGradient id="d54" gradientUnits="userSpaceOnUse" x1="0" y1="248.0" x2="0" y2="450.0"><stop offset=".000" stop-color="#00c4ff"/><stop offset=".134" stop-color="#00f0ff"/><stop offset=".155" stop-color="#00ffff"/><stop offset=".208" stop-color="#27ffd8"/><stop offset=".322" stop-color="#bdff42"/><stop offset=".346" stop-color="#ffff00"/><stop offset=".381" stop-color="#ffab00"/><stop offset=".431" stop-color="#ff5f00"/><stop offset=".527" stop-color="#ff0000"/><stop offset=".530" stop-color="#fc0000"/><stop offset=".728" stop-color="#aa0000"/><stop offset="1.000" stop-color="#a30000"/></linearGradient><linearGradient id="d55" gradientUnits="userSpaceOnUse" x1="0" y1="257.0" x2="0" y2="459.0"><stop offset=".000" stop-color="#00d0ff"/><stop offset=".089" stop-color="#00f0ff"/><stop offset=".108" stop-color="#00ffff"/><stop offset=".163" stop-color="#2dffd2"/><stop offset=".287" stop-color="#f8ff07"/><stop offset=".289" stop-color="#ffff00"/><stop offset=".307" stop-color="#ffa900"/><stop offset=".337" stop-color="#ff5a00"/><stop offset=".436" stop-color="#ff1300"/><stop offset=".471" stop-color="#ff0000"/><stop offset=".584" stop-color="#c70000"/><stop offset=".733" stop-color="#9f0000"/><stop offset="1.000" stop-color="#9f0000"/></linearGradient><linearGradient id="d56" gradientUnits="userSpaceOnUse" x1="0" y1="257.0" x2="0" y2="459.0"><stop offset=".000" stop-color="#00dcff"/><stop offset=".089" stop-color="#00f7ff"/><stop offset=".099" stop-color="#00ffff"/><stop offset=".163" stop-color="#36ffc9"/><stop offset=".213" stop-color="#7bff84"/><stop offset=".267" stop-color="#e7ff18"/><stop offset=".275" stop-color="#ffff00"/><stop offset=".287" stop-color="#ffdc00"/><stop offset=".317" stop-color="#ff6100"/><stop offset=".337" stop-color="#ff3c00"/><stop offset=".455" stop-color="#ff0000"/><stop offset=".584" stop-color="#cb0000"/><stop offset=".733" stop-color="#a50000"/><stop offset="1.000" stop-color="#a50000"/></linearGradient><linearGradient id="d57" gradientUnits="userSpaceOnUse" x1="0" y1="256.0" x2="0" y2="459.0"><stop offset=".000" stop-color="#00e9ff"/><stop offset=".091" stop-color="#00ffff"/><stop offset=".094" stop-color="#01fffe"/><stop offset=".217" stop-color="#7eff81"/><stop offset=".271" stop-color="#f7ff08"/><stop offset=".273" stop-color="#ffff00"/><stop offset=".320" stop-color="#ff3800"/><stop offset=".340" stop-color="#ff2700"/><stop offset=".437" stop-color="#ff0000"/><stop offset=".734" stop-color="#ae0000"/><stop offset="1.000" stop-color="#ae0000"/></linearGradient><linearGradient id="d58" gradientUnits="userSpaceOnUse" x1="0" y1="256.0" x2="0" y2="458.0"><stop offset=".000" stop-color="#00f2ff"/><stop offset=".057" stop-color="#00ffff"/><stop offset=".094" stop-color="#09fff6"/><stop offset=".218" stop-color="#84ff7b"/><stop offset=".271" stop-color="#ffff00"/><stop offset=".272" stop-color="#fffd00"/><stop offset=".322" stop-color="#ff2300"/><stop offset=".424" stop-color="#ff0000"/><stop offset=".738" stop-color="#b50000"/><stop offset="1.000" stop-color="#b50000"/></linearGradient><linearGradient id="d59" gradientUnits="userSpaceOnUse" x1="0" y1="255.0" x2="0" y2="458.0"><stop offset=".000" stop-color="#00f6ff"/><stop offset=".039" stop-color="#00ffff"/><stop offset=".099" stop-color="#11ffee"/><stop offset=".222" stop-color="#8dff72"/><stop offset=".274" stop-color="#ffff00"/><stop offset=".276" stop-color="#fff800"/><stop offset=".325" stop-color="#ff2300"/><stop offset=".421" stop-color="#ff0000"/><stop offset=".739" stop-color="#b90000"/><stop offset="1.000" stop-color="#b90000"/></linearGradient><linearGradient id="d60" gradientUnits="userSpaceOnUse" x1="0" y1="256.0" x2="0" y2="458.0"><stop offset=".000" stop-color="#00faff"/><stop offset=".018" stop-color="#00ffff"/><stop offset=".094" stop-color="#1affe5"/><stop offset=".218" stop-color="#96ff69"/><stop offset=".267" stop-color="#f9ff06"/><stop offset=".269" stop-color="#ffff00"/><stop offset=".322" stop-color="#ff2200"/><stop offset=".411" stop-color="#ff0000"/><stop offset=".738" stop-color="#bd0000"/><stop offset="1.000" stop-color="#bd0000"/></linearGradient><linearGradient id="d61" gradientUnits="userSpaceOnUse" x1="0" y1="256.0" x2="0" y2="458.0"><stop offset=".000" stop-color="#00feff"/><stop offset=".005" stop-color="#00ffff"/><stop offset=".094" stop-color="#22ffdd"/><stop offset=".218" stop-color="#9fff60"/><stop offset=".267" stop-color="#fcff03"/><stop offset=".268" stop-color="#ffff00"/><stop offset=".317" stop-color="#ff2a00"/><stop offset=".366" stop-color="#ff0600"/><stop offset=".400" stop-color="#ff0000"/><stop offset=".738" stop-color="#c10000"/><stop offset="1.000" stop-color="#c10000"/></linearGradient><linearGradient id="d62" gradientUnits="userSpaceOnUse" x1="0" y1="256.0" x2="0" y2="437.0"><stop offset=".000" stop-color="#03fffc"/><stop offset=".105" stop-color="#2affd5"/><stop offset=".243" stop-color="#a8ff57"/><stop offset=".298" stop-color="#feff01"/><stop offset=".299" stop-color="#ffff00"/><stop offset=".354" stop-color="#ff2600"/><stop offset=".409" stop-color="#ff0200"/><stop offset=".425" stop-color="#ff0000"/><stop offset=".823" stop-color="#c50000"/><stop offset="1.000" stop-color="#c50000"/></linearGradient><linearGradient id="d63" gradientUnits="userSpaceOnUse" x1="0" y1="256.0" x2="0" y2="437.0"><stop offset=".000" stop-color="#05fffa"/><stop offset=".105" stop-color="#2effd1"/><stop offset=".188" stop-color="#6eff91"/><stop offset=".249" stop-color="#b8ff47"/><stop offset=".293" stop-color="#ffff00"/><stop offset=".298" stop-color="#fff500"/><stop offset=".354" stop-color="#ff2500"/><stop offset=".409" stop-color="#ff0000"/><stop offset=".823" stop-color="#ca0000"/><stop offset="1.000" stop-color="#ca0000"/></linearGradient><linearGradient id="d64" gradientUnits="userSpaceOnUse" x1="0" y1="256.0" x2="0" y2="437.0"><stop offset=".000" stop-color="#05fffa"/><stop offset=".105" stop-color="#2fffd0"/><stop offset=".188" stop-color="#74ff8b"/><stop offset=".249" stop-color="#c2ff3d"/><stop offset=".283" stop-color="#ffff00"/><stop offset=".298" stop-color="#ffe200"/><stop offset=".354" stop-color="#ff2700"/><stop offset=".409" stop-color="#ff0000"/><stop offset="1.000" stop-color="#d00000"/></linearGradient><linearGradient id="d65" gradientUnits="userSpaceOnUse" x1="0" y1="256.0" x2="0" y2="406.0"><stop offset=".000" stop-color="#05fffa"/><stop offset=".093" stop-color="#1effe1"/><stop offset=".227" stop-color="#7aff85"/><stop offset=".320" stop-color="#e6ff19"/><stop offset=".334" stop-color="#ffff00"/><stop offset=".360" stop-color="#ffcf00"/><stop offset=".427" stop-color="#ff2900"/><stop offset=".493" stop-color="#ff0000"/><stop offset="1.000" stop-color="#d60000"/></linearGradient><linearGradient id="d66" gradientUnits="userSpaceOnUse" x1="0" y1="256.0" x2="0" y2="407.0"><stop offset=".000" stop-color="#05fffa"/><stop offset=".093" stop-color="#1cffe3"/><stop offset=".192" stop-color="#5effa1"/><stop offset=".318" stop-color="#f0ff0f"/><stop offset=".325" stop-color="#ffff00"/><stop offset=".424" stop-color="#ff2b00"/><stop offset=".490" stop-color="#ff0000"/><stop offset="1.000" stop-color="#dc0000"/></linearGradient><linearGradient id="d67" gradientUnits="userSpaceOnUse" x1="0" y1="256.0" x2="0" y2="407.0"><stop offset=".000" stop-color="#05fffa"/><stop offset=".093" stop-color="#1affe5"/><stop offset=".192" stop-color="#60ff9f"/><stop offset=".318" stop-color="#faff05"/><stop offset=".320" stop-color="#ffff00"/><stop offset=".411" stop-color="#ff3a00"/><stop offset=".490" stop-color="#ff0000"/><stop offset="1.000" stop-color="#e20000"/></linearGradient><linearGradient id="d68" gradientUnits="userSpaceOnUse" x1="0" y1="257.0" x2="0" y2="439.0"><stop offset=".000" stop-color="#00f3ff"/><stop offset=".047" stop-color="#00ffff"/><stop offset=".071" stop-color="#08fff7"/><stop offset=".154" stop-color="#53ffac"/><stop offset=".258" stop-color="#faff05"/><stop offset=".260" stop-color="#ffff00"/><stop offset=".335" stop-color="#ff4700"/><stop offset=".401" stop-color="#ff0d00"/><stop offset=".501" stop-color="#ff0000"/><stop offset="1.000" stop-color="#ea0000"/></linearGradient><linearGradient id="d69" gradientUnits="userSpaceOnUse" x1="0" y1="259.0" x2="0" y2="440.0"><stop offset=".000" stop-color="#00d0ff"/><stop offset=".088" stop-color="#00f3ff"/><stop offset=".098" stop-color="#00ffff"/><stop offset=".144" stop-color="#36ffc9"/><stop offset=".249" stop-color="#f0ff0f"/><stop offset=".255" stop-color="#ffff00"/><stop offset=".326" stop-color="#ff6600"/><stop offset=".354" stop-color="#ff3d00"/><stop offset=".392" stop-color="#ff2700"/><stop offset=".596" stop-color="#ff0000"/><stop offset=".641" stop-color="#fa0000"/><stop offset="1.000" stop-color="#f30000"/></linearGradient><linearGradient id="d70" gradientUnits="userSpaceOnUse" x1="0" y1="260.0" x2="0" y2="471.0"><stop offset=".000" stop-color="#00b0ff"/><stop offset=".071" stop-color="#00cfff"/><stop offset=".101" stop-color="#00ffff"/><stop offset=".128" stop-color="#2cffd3"/><stop offset=".219" stop-color="#ffff00"/><stop offset=".299" stop-color="#ff5c00"/><stop offset=".403" stop-color="#ff3000"/><stop offset=".640" stop-color="#ff0200"/><stop offset=".658" stop-color="#ff0000"/><stop offset="1.000" stop-color="#fc0000"/></linearGradient><linearGradient id="d71" gradientUnits="userSpaceOnUse" x1="0" y1="260.0" x2="0" y2="516.0"><stop offset=".000" stop-color="#00a1ff"/><stop offset=".059" stop-color="#00bfff"/><stop offset=".089" stop-color="#00ffff"/><stop offset=".105" stop-color="#22ffdd"/><stop offset=".184" stop-color="#f5ff0a"/><stop offset=".190" stop-color="#ffff00"/><stop offset=".246" stop-color="#ffbb00"/><stop offset=".371" stop-color="#ffbd00"/><stop offset=".449" stop-color="#ff8000"/><stop offset=".527" stop-color="#ff1f00"/><stop offset=".566" stop-color="#ff0d00"/><stop offset="1.000" stop-color="#ff0d00"/></linearGradient><linearGradient id="d72" gradientUnits="userSpaceOnUse" x1="0" y1="261.0" x2="0" y2="516.0"><stop offset=".000" stop-color="#0098ff"/><stop offset=".055" stop-color="#00b7ff"/><stop offset=".089" stop-color="#00ffff"/><stop offset=".180" stop-color="#e8ff17"/><stop offset=".209" stop-color="#ffff00"/><stop offset=".212" stop-color="#fffd00"/><stop offset=".218" stop-color="#ffff00"/><stop offset=".369" stop-color="#caff35"/><stop offset=".408" stop-color="#e8ff17"/><stop offset=".422" stop-color="#ffff00"/><stop offset=".447" stop-color="#ffd800"/><stop offset=".525" stop-color="#ff3800"/><stop offset=".565" stop-color="#ff1a00"/><stop offset="1.000" stop-color="#ff1a00"/></linearGradient><linearGradient id="d73" gradientUnits="userSpaceOnUse" x1="0" y1="262.0" x2="0" y2="517.0"><stop offset=".000" stop-color="#00b4ff"/><stop offset=".051" stop-color="#00d2ff"/><stop offset=".074" stop-color="#00ffff"/><stop offset=".098" stop-color="#2dffd2"/><stop offset=".176" stop-color="#f4ff0b"/><stop offset=".190" stop-color="#ffff00"/><stop offset=".208" stop-color="#fff100"/><stop offset=".249" stop-color="#ffff00"/><stop offset=".384" stop-color="#e6ff19"/><stop offset=".407" stop-color="#ffff00"/><stop offset=".424" stop-color="#ffe600"/><stop offset=".502" stop-color="#ff5600"/><stop offset=".561" stop-color="#ff1d00"/><stop offset="1.000" stop-color="#ff1d00"/></linearGradient><linearGradient id="d74" gradientUnits="userSpaceOnUse" x1="0" y1="262.0" x2="0" y2="507.0"><stop offset=".000" stop-color="#00cfff"/><stop offset=".053" stop-color="#00edff"/><stop offset=".064" stop-color="#00ffff"/><stop offset=".102" stop-color="#3effc1"/><stop offset=".167" stop-color="#edff12"/><stop offset=".182" stop-color="#ffff00"/><stop offset=".184" stop-color="#fffd00"/><stop offset=".216" stop-color="#ffe500"/><stop offset=".299" stop-color="#ffff00"/><stop offset=".400" stop-color="#f4ff0b"/><stop offset=".409" stop-color="#ffff00"/><stop offset=".522" stop-color="#ff5100"/><stop offset=".584" stop-color="#ff2100"/><stop offset="1.000" stop-color="#ff2100"/></linearGradient><linearGradient id="d75" gradientUnits="userSpaceOnUse" x1="0" y1="263.0" x2="0" y2="507.0"><stop offset=".000" stop-color="#00e9ff"/><stop offset=".037" stop-color="#00ffff"/><stop offset=".049" stop-color="#07fff8"/><stop offset=".098" stop-color="#4cffb3"/><stop offset=".164" stop-color="#f8ff07"/><stop offset=".174" stop-color="#ffff00"/><stop offset=".213" stop-color="#ffdf00"/><stop offset=".332" stop-color="#ffff00"/><stop offset=".398" stop-color="#ffff00"/><stop offset=".520" stop-color="#ff4d00"/><stop offset=".582" stop-color="#ff2600"/><stop offset="1.000" stop-color="#ff2600"/></linearGradient><linearGradient id="d76" gradientUnits="userSpaceOnUse" x1="0" y1="263.0" x2="0" y2="507.0"><stop offset=".000" stop-color="#00fcff"/><stop offset=".008" stop-color="#00ffff"/><stop offset=".098" stop-color="#46ffb9"/><stop offset=".164" stop-color="#cbff34"/><stop offset=".206" stop-color="#ffff00"/><stop offset=".213" stop-color="#fff600"/><stop offset=".306" stop-color="#ffff00"/><stop offset=".398" stop-color="#ffff00"/><stop offset=".500" stop-color="#ff6400"/><stop offset=".582" stop-color="#ff3600"/><stop offset="1.000" stop-color="#ff3600"/></linearGradient><linearGradient id="d77" gradientUnits="userSpaceOnUse" x1="0" y1="264.0" x2="0" y2="498.0"><stop offset=".000" stop-color="#10ffef"/><stop offset=".124" stop-color="#58ffa7"/><stop offset=".218" stop-color="#f1ff0e"/><stop offset=".251" stop-color="#ffff00"/><stop offset=".261" stop-color="#fffb00"/><stop offset=".281" stop-color="#ffff00"/><stop offset=".410" stop-color="#ffff00"/><stop offset=".474" stop-color="#ff8e00"/><stop offset=".517" stop-color="#ff6200"/><stop offset=".603" stop-color="#ff4500"/><stop offset="1.000" stop-color="#ff4500"/></linearGradient><linearGradient id="d78" gradientUnits="userSpaceOnUse" x1="0" y1="265.0" x2="0" y2="482.0"><stop offset=".000" stop-color="#15ffea"/><stop offset=".129" stop-color="#3bffc4"/><stop offset=".184" stop-color="#82ff7d"/><stop offset=".230" stop-color="#d9ff26"/><stop offset=".276" stop-color="#ffff00"/><stop offset=".438" stop-color="#ffec00"/><stop offset=".507" stop-color="#ff8500"/><stop offset=".553" stop-color="#ff6300"/><stop offset=".645" stop-color="#ff4f00"/><stop offset="1.000" stop-color="#ff4f00"/></linearGradient><linearGradient id="d79" gradientUnits="userSpaceOnUse" x1="0" y1="265.0" x2="0" y2="478.0"><stop offset=".000" stop-color="#0afff5"/><stop offset=".131" stop-color="#17ffe8"/><stop offset=".188" stop-color="#5effa1"/><stop offset=".235" stop-color="#bfff40"/><stop offset=".282" stop-color="#ffff00"/><stop offset=".446" stop-color="#ffc600"/><stop offset=".516" stop-color="#ff7a00"/><stop offset=".657" stop-color="#ff5400"/><stop offset="1.000" stop-color="#ff5400"/></linearGradient><linearGradient id="d80" gradientUnits="userSpaceOnUse" x1="0" y1="266.0" x2="0" y2="478.0"><stop offset=".000" stop-color="#00f5ff"/><stop offset=".137" stop-color="#00e1ff"/><stop offset=".160" stop-color="#00ffff"/><stop offset=".184" stop-color="#1fffe0"/><stop offset=".289" stop-color="#ffff00"/><stop offset=".292" stop-color="#fff800"/><stop offset=".325" stop-color="#ffcc00"/><stop offset=".514" stop-color="#ff7100"/><stop offset=".656" stop-color="#ff5b00"/><stop offset="1.000" stop-color="#ff5b00"/></linearGradient><linearGradient id="d81" gradientUnits="userSpaceOnUse" x1="0" y1="266.0" x2="0" y2="443.0"><stop offset=".000" stop-color="#00dcff"/><stop offset=".164" stop-color="#009aff"/><stop offset=".220" stop-color="#00d5ff"/><stop offset=".248" stop-color="#00ffff"/><stop offset=".277" stop-color="#2effd1"/><stop offset=".322" stop-color="#91ff6e"/><stop offset=".350" stop-color="#f8ff07"/><stop offset=".354" stop-color="#ffff00"/><stop offset=".390" stop-color="#ffba00"/><stop offset=".503" stop-color="#ff7e00"/><stop offset="1.000" stop-color="#ff6000"/></linearGradient><linearGradient id="d82" gradientUnits="userSpaceOnUse" x1="0" y1="255.0" x2="0" y2="426.0"><stop offset=".000" stop-color="#00e4ff"/><stop offset=".234" stop-color="#00bcff"/><stop offset=".311" stop-color="#00ffff"/><stop offset=".351" stop-color="#31ffce"/><stop offset=".398" stop-color="#7eff81"/><stop offset=".427" stop-color="#ceff31"/><stop offset=".455" stop-color="#ffff00"/><stop offset=".468" stop-color="#ffe500"/><stop offset=".526" stop-color="#ff9b00"/><stop offset=".585" stop-color="#ff7200"/><stop offset="1.000" stop-color="#ff5800"/></linearGradient><linearGradient id="d83" gradientUnits="userSpaceOnUse" x1="0" y1="256.0" x2="0" y2="412.0"><stop offset=".000" stop-color="#00ecff"/><stop offset=".250" stop-color="#00deff"/><stop offset=".312" stop-color="#00ffff"/><stop offset=".346" stop-color="#15ffea"/><stop offset=".429" stop-color="#6aff95"/><stop offset=".517" stop-color="#ffff00"/><stop offset=".571" stop-color="#ff9d00"/><stop offset=".635" stop-color="#ff6700"/><stop offset="1.000" stop-color="#ff5000"/></linearGradient><linearGradient id="d84" gradientUnits="userSpaceOnUse" x1="0" y1="256.0" x2="0" y2="373.0"><stop offset=".000" stop-color="#00f0ff"/><stop offset=".333" stop-color="#00f5ff"/><stop offset=".367" stop-color="#00ffff"/><stop offset=".462" stop-color="#1fffe0"/><stop offset=".573" stop-color="#67ff98"/><stop offset=".658" stop-color="#c5ff3a"/><stop offset=".695" stop-color="#ffff00"/><stop offset=".761" stop-color="#ff9a00"/><stop offset=".803" stop-color="#ff7900"/><stop offset=".846" stop-color="#ff5f00"/><stop offset="1.000" stop-color="#ff4c00"/></linearGradient><linearGradient id="d85" gradientUnits="userSpaceOnUse" x1="0" y1="256.0" x2="0" y2="362.0"><stop offset=".000" stop-color="#00f0ff"/><stop offset=".274" stop-color="#00f4ff"/><stop offset=".359" stop-color="#00ffff"/><stop offset=".509" stop-color="#29ffd6"/><stop offset=".604" stop-color="#5bffa4"/><stop offset=".698" stop-color="#b3ff4c"/><stop offset=".754" stop-color="#ffff00"/><stop offset=".840" stop-color="#ff9100"/><stop offset=".887" stop-color="#ff6c00"/><stop offset="1.000" stop-color="#ff5100"/></linearGradient><linearGradient id="d86" gradientUnits="userSpaceOnUse" x1="0" y1="256.0" x2="0" y2="361.0"><stop offset=".000" stop-color="#00eeff"/><stop offset=".276" stop-color="#00faff"/><stop offset=".307" stop-color="#00ffff"/><stop offset=".467" stop-color="#1cffe3"/><stop offset=".610" stop-color="#6cff93"/><stop offset=".705" stop-color="#c9ff36"/><stop offset=".745" stop-color="#ffff00"/><stop offset=".800" stop-color="#ffac00"/><stop offset=".895" stop-color="#ff6000"/><stop offset="1.000" stop-color="#ff4c00"/></linearGradient><linearGradient id="d87" gradientUnits="userSpaceOnUse" x1="0" y1="256.0" x2="0" y2="361.0"><stop offset=".000" stop-color="#00e2ff"/><stop offset=".276" stop-color="#00faff"/><stop offset=".304" stop-color="#00ffff"/><stop offset=".467" stop-color="#2bffd4"/><stop offset=".562" stop-color="#7cff83"/><stop offset=".682" stop-color="#ffff00"/><stop offset=".800" stop-color="#ff8600"/><stop offset=".895" stop-color="#ff5800"/><stop offset="1.000" stop-color="#ff4c00"/></linearGradient><linearGradient id="d88" gradientUnits="userSpaceOnUse" x1="0" y1="256.0" x2="0" y2="361.0"><stop offset=".000" stop-color="#00d7ff"/><stop offset=".133" stop-color="#00d8ff"/><stop offset=".301" stop-color="#00ffff"/><stop offset=".419" stop-color="#18ffe7"/><stop offset=".505" stop-color="#57ffa8"/><stop offset=".620" stop-color="#ffff00"/><stop offset=".657" stop-color="#ffc500"/><stop offset=".790" stop-color="#ff6200"/><stop offset="1.000" stop-color="#ff4c00"/></linearGradient><linearGradient id="d89" gradientUnits="userSpaceOnUse" x1="0" y1="256.0" x2="0" y2="340.0"><stop offset=".000" stop-color="#00d7ff"/><stop offset=".167" stop-color="#00d8ff"/><stop offset=".371" stop-color="#00ffff"/><stop offset=".524" stop-color="#1dffe2"/><stop offset=".631" stop-color="#6aff95"/><stop offset=".743" stop-color="#ffff00"/><stop offset=".821" stop-color="#ff9800"/><stop offset="1.000" stop-color="#ff4c00"/></linearGradient><linearGradient id="d90" gradientUnits="userSpaceOnUse" x1="0" y1="256.0" x2="0" y2="340.0"><stop offset=".000" stop-color="#00e3ff"/><stop offset=".167" stop-color="#00e5ff"/><stop offset=".356" stop-color="#00ffff"/><stop offset=".524" stop-color="#23ffdc"/><stop offset=".631" stop-color="#7dff82"/><stop offset=".729" stop-color="#ffff00"/><stop offset=".821" stop-color="#ff8c00"/><stop offset=".869" stop-color="#ff6c00"/><stop offset="1.000" stop-color="#ff4c00"/></linearGradient><linearGradient id="d91" gradientUnits="userSpaceOnUse" x1="0" y1="256.0" x2="0" y2="330.0"><stop offset=".000" stop-color="#00f0ff"/><stop offset=".371" stop-color="#00ffff"/><stop offset=".459" stop-color="#05fffa"/><stop offset=".595" stop-color="#29ffd6"/><stop offset=".689" stop-color="#74ff8b"/><stop offset=".811" stop-color="#ffff00"/><stop offset=".878" stop-color="#ffae00"/><stop offset="1.000" stop-color="#ff5900"/></linearGradient><linearGradient id="d92" gradientUnits="userSpaceOnUse" x1="0" y1="256.0" x2="0" y2="330.0"><stop offset=".000" stop-color="#00faff"/><stop offset=".225" stop-color="#00ffff"/><stop offset=".459" stop-color="#05fffa"/><stop offset=".595" stop-color="#30ffcf"/><stop offset=".689" stop-color="#83ff7c"/><stop offset=".794" stop-color="#ffff00"/><stop offset=".878" stop-color="#ff9c00"/><stop offset="1.000" stop-color="#ff4e00"/></linearGradient><linearGradient id="d93" gradientUnits="userSpaceOnUse" x1="0" y1="256.0" x2="0" y2="330.0"><stop offset=".000" stop-color="#00fbff"/><stop offset=".192" stop-color="#00ffff"/><stop offset=".459" stop-color="#05fffa"/><stop offset=".554" stop-color="#25ffda"/><stop offset=".635" stop-color="#5effa1"/><stop offset=".778" stop-color="#ffff00"/><stop offset=".851" stop-color="#ffa900"/><stop offset="1.000" stop-color="#ff5800"/></linearGradient><linearGradient id="d94" gradientUnits="userSpaceOnUse" x1="0" y1="256.0" x2="0" y2="330.0"><stop offset=".000" stop-color="#00fdff"/><stop offset=".148" stop-color="#00ffff"/><stop offset=".459" stop-color="#05fffa"/><stop offset=".554" stop-color="#28ffd7"/><stop offset=".635" stop-color="#6aff95"/><stop offset=".761" stop-color="#ffff00"/><stop offset=".851" stop-color="#ff9700"/><stop offset="1.000" stop-color="#ff6300"/></linearGradient><linearGradient id="d95" gradientUnits="userSpaceOnUse" x1="0" y1="256.0" x2="0" y2="330.0"><stop offset=".000" stop-color="#00feff"/><stop offset=".087" stop-color="#00ffff"/><stop offset=".459" stop-color="#05fffa"/><stop offset=".595" stop-color="#4effb1"/><stop offset=".744" stop-color="#ffff00"/><stop offset=".851" stop-color="#ff8500"/><stop offset="1.000" stop-color="#ff6d00"/></linearGradient><linearGradient id="d96" gradientUnits="userSpaceOnUse" x1="0" y1="256.0" x2="0" y2="320.0"><stop offset=".000" stop-color="#00ffff"/><stop offset=".016" stop-color="#00ffff"/><stop offset=".531" stop-color="#05fffa"/><stop offset=".641" stop-color="#2effd1"/><stop offset=".844" stop-color="#ffff00"/><stop offset=".984" stop-color="#ff7500"/><stop offset="1.000" stop-color="#ff7500"/></linearGradient><linearGradient id="d97" gradientUnits="userSpaceOnUse" x1="0" y1="256.0" x2="0" y2="320.0"><stop offset=".000" stop-color="#00ffff"/><stop offset=".016" stop-color="#00ffff"/><stop offset=".531" stop-color="#05fffa"/><stop offset=".641" stop-color="#2effd1"/><stop offset=".844" stop-color="#ffff00"/><stop offset=".984" stop-color="#ff7500"/><stop offset="1.000" stop-color="#ff7500"/></linearGradient><linearGradient id="d98" gradientUnits="userSpaceOnUse" x1="0" y1="256.0" x2="0" y2="320.0"><stop offset=".000" stop-color="#00ffff"/><stop offset=".016" stop-color="#00ffff"/><stop offset=".531" stop-color="#05fffa"/><stop offset=".641" stop-color="#2effd1"/><stop offset=".844" stop-color="#ffff00"/><stop offset=".984" stop-color="#ff7500"/><stop offset="1.000" stop-color="#ff7500"/></linearGradient></defs><rect x="986.0" y="251.0" width="3.5" height="40.0" fill="url(#d0)"/><rect x="989.0" y="251.0" width="3.5" height="160.0" fill="url(#d1)"/><rect x="992.0" y="251.0" width="3.5" height="160.0" fill="url(#d2)"/><rect x="995.0" y="260.0" width="3.5" height="161.0" fill="url(#d3)"/><rect x="998.0" y="260.0" width="3.5" height="178.0" fill="url(#d4)"/><rect x="1001.0" y="260.0" width="3.5" height="192.0" fill="url(#d5)"/><rect x="1004.0" y="259.0" width="3.5" height="193.0" fill="url(#d6)"/><rect x="1007.0" y="259.0" width="3.5" height="172.0" fill="url(#d7)"/><rect x="1010.0" y="259.0" width="3.5" height="171.0" fill="url(#d8)"/><rect x="1013.0" y="259.0" width="3.5" height="192.0" fill="url(#d9)"/><rect x="1016.0" y="258.0" width="3.5" height="213.0" fill="url(#d10)"/><rect x="1019.0" y="258.0" width="3.5" height="224.0" fill="url(#d11)"/><rect x="1022.0" y="258.0" width="3.5" height="255.0" fill="url(#d12)"/><rect x="1025.0" y="257.0" width="3.5" height="256.0" fill="url(#d13)"/><rect x="1028.0" y="257.0" width="3.5" height="256.0" fill="url(#d14)"/><rect x="1031.0" y="257.0" width="3.5" height="266.0" fill="url(#d15)"/><rect x="1034.0" y="257.0" width="3.5" height="266.0" fill="url(#d16)"/><rect x="1037.0" y="256.0" width="3.5" height="288.0" fill="url(#d17)"/><rect x="1040.0" y="256.0" width="3.5" height="329.0" fill="url(#d18)"/><rect x="1043.0" y="256.0" width="3.5" height="329.0" fill="url(#d19)"/><rect x="1046.0" y="256.0" width="3.5" height="329.0" fill="url(#d20)"/><rect x="1049.0" y="256.0" width="3.5" height="282.0" fill="url(#d21)"/><rect x="1052.0" y="256.0" width="3.5" height="276.0" fill="url(#d22)"/><rect x="1055.0" y="256.0" width="3.5" height="276.0" fill="url(#d23)"/><rect x="1058.0" y="256.0" width="3.5" height="276.0" fill="url(#d24)"/><rect x="1061.0" y="256.0" width="3.5" height="298.0" fill="url(#d25)"/><rect x="1064.0" y="256.0" width="3.5" height="297.0" fill="url(#d26)"/><rect x="1067.0" y="256.0" width="3.5" height="297.0" fill="url(#d27)"/><rect x="1070.0" y="256.0" width="3.5" height="297.0" fill="url(#d28)"/><rect x="1073.0" y="256.0" width="3.5" height="276.0" fill="url(#d29)"/><rect x="1076.0" y="255.0" width="3.5" height="276.0" fill="url(#d30)"/><rect x="1079.0" y="255.0" width="3.5" height="202.0" fill="url(#d31)"/><rect x="1082.0" y="255.0" width="3.5" height="202.0" fill="url(#d32)"/><rect x="1085.0" y="255.0" width="3.5" height="255.0" fill="url(#d33)"/><rect x="1088.0" y="255.0" width="3.5" height="255.0" fill="url(#d34)"/><rect x="1091.0" y="255.0" width="3.5" height="255.0" fill="url(#d35)"/><rect x="1094.0" y="255.0" width="3.5" height="255.0" fill="url(#d36)"/><rect x="1097.0" y="255.0" width="3.5" height="255.0" fill="url(#d37)"/><rect x="1100.0" y="255.0" width="3.5" height="245.0" fill="url(#d38)"/><rect x="1103.0" y="255.0" width="3.5" height="245.0" fill="url(#d39)"/><rect x="1106.0" y="255.0" width="3.5" height="245.0" fill="url(#d40)"/><rect x="1109.0" y="255.0" width="3.5" height="245.0" fill="url(#d41)"/><rect x="1112.0" y="255.0" width="3.5" height="241.0" fill="url(#d42)"/><rect x="1115.0" y="246.0" width="3.5" height="213.0" fill="url(#d43)"/><rect x="1118.0" y="246.0" width="3.5" height="212.0" fill="url(#d44)"/><rect x="1121.0" y="256.0" width="3.5" height="202.0" fill="url(#d45)"/><rect x="1124.0" y="256.0" width="3.5" height="149.0" fill="url(#d46)"/><rect x="1127.0" y="256.0" width="3.5" height="150.0" fill="url(#d47)"/><rect x="1130.0" y="246.0" width="3.5" height="160.0" fill="url(#d48)"/><rect x="1133.0" y="247.0" width="3.5" height="159.0" fill="url(#d49)"/><rect x="1136.0" y="247.0" width="3.5" height="163.0" fill="url(#d50)"/><rect x="1139.0" y="248.0" width="3.5" height="204.0" fill="url(#d51)"/><rect x="1142.0" y="248.0" width="3.5" height="212.0" fill="url(#d52)"/><rect x="1145.0" y="248.0" width="3.5" height="202.0" fill="url(#d53)"/><rect x="1148.0" y="248.0" width="3.5" height="202.0" fill="url(#d54)"/><rect x="1151.0" y="257.0" width="3.5" height="202.0" fill="url(#d55)"/><rect x="1154.0" y="257.0" width="3.5" height="202.0" fill="url(#d56)"/><rect x="1157.0" y="256.0" width="3.5" height="203.0" fill="url(#d57)"/><rect x="1160.0" y="256.0" width="3.5" height="202.0" fill="url(#d58)"/><rect x="1163.0" y="255.0" width="3.5" height="203.0" fill="url(#d59)"/><rect x="1166.0" y="256.0" width="3.5" height="202.0" fill="url(#d60)"/><rect x="1169.0" y="256.0" width="3.5" height="202.0" fill="url(#d61)"/><rect x="1172.0" y="256.0" width="3.5" height="181.0" fill="url(#d62)"/><rect x="1175.0" y="256.0" width="3.5" height="181.0" fill="url(#d63)"/><rect x="1178.0" y="256.0" width="3.5" height="181.0" fill="url(#d64)"/><rect x="1181.0" y="256.0" width="3.5" height="150.0" fill="url(#d65)"/><rect x="1184.0" y="256.0" width="3.5" height="151.0" fill="url(#d66)"/><rect x="1187.0" y="256.0" width="3.5" height="151.0" fill="url(#d67)"/><rect x="1190.0" y="257.0" width="3.5" height="182.0" fill="url(#d68)"/><rect x="1193.0" y="259.0" width="3.5" height="181.0" fill="url(#d69)"/><rect x="1196.0" y="260.0" width="3.5" height="211.0" fill="url(#d70)"/><rect x="1199.0" y="260.0" width="3.5" height="256.0" fill="url(#d71)"/><rect x="1202.0" y="261.0" width="3.5" height="255.0" fill="url(#d72)"/><rect x="1205.0" y="262.0" width="3.5" height="255.0" fill="url(#d73)"/><rect x="1208.0" y="262.0" width="3.5" height="245.0" fill="url(#d74)"/><rect x="1211.0" y="263.0" width="3.5" height="244.0" fill="url(#d75)"/><rect x="1214.0" y="263.0" width="3.5" height="244.0" fill="url(#d76)"/><rect x="1217.0" y="264.0" width="3.5" height="234.0" fill="url(#d77)"/><rect x="1220.0" y="265.0" width="3.5" height="217.0" fill="url(#d78)"/><rect x="1223.0" y="265.0" width="3.5" height="213.0" fill="url(#d79)"/><rect x="1226.0" y="266.0" width="3.5" height="212.0" fill="url(#d80)"/><rect x="1229.0" y="266.0" width="3.5" height="177.0" fill="url(#d81)"/><rect x="1232.0" y="255.0" width="3.5" height="171.0" fill="url(#d82)"/><rect x="1235.0" y="256.0" width="3.5" height="156.0" fill="url(#d83)"/><rect x="1238.0" y="256.0" width="3.5" height="117.0" fill="url(#d84)"/><rect x="1241.0" y="256.0" width="3.5" height="106.0" fill="url(#d85)"/><rect x="1244.0" y="256.0" width="3.5" height="105.0" fill="url(#d86)"/><rect x="1247.0" y="256.0" width="3.5" height="105.0" fill="url(#d87)"/><rect x="1250.0" y="256.0" width="3.5" height="105.0" fill="url(#d88)"/><rect x="1253.0" y="256.0" width="3.5" height="84.0" fill="url(#d89)"/><rect x="1256.0" y="256.0" width="3.5" height="84.0" fill="url(#d90)"/><rect x="1259.0" y="256.0" width="3.5" height="74.0" fill="url(#d91)"/><rect x="1262.0" y="256.0" width="3.5" height="74.0" fill="url(#d92)"/><rect x="1265.0" y="256.0" width="3.5" height="74.0" fill="url(#d93)"/><rect x="1268.0" y="256.0" width="3.5" height="74.0" fill="url(#d94)"/><rect x="1271.0" y="256.0" width="3.5" height="74.0" fill="url(#d95)"/><rect x="1274.0" y="256.0" width="3.5" height="64.0" fill="url(#d96)"/><rect x="1277.0" y="256.0" width="3.5" height="64.0" fill="url(#d97)"/><rect x="1280.0" y="256.0" width="3.5" height="64.0" fill="url(#d98)"/>
</g>
<g stroke="#000" stroke-width="2" fill="none">
<path d="M986 245.2V632L1263 663L1279.5 638" stroke-linejoin="miter"/>
<path d="M986 245.2l-7 0l-3 -1M986 351l-7 0l-3 -1M986 456.8l-7 0l-3 -1M986 562.6l-7 0l-3 -1M991.3 632.6l-4.6 7.6M1133.6 648.5l-4.6 7.6M1264.8 662.2h9 M1278.3 642.8h8.5" stroke-width="1.5"/>
</g>
<g stroke="#000" stroke-width="1.8" fill="none">
<rect x="975.9" y="235.9" width="20.2" height="20.2"/>
<rect x="975.9" y="447.5" width="20.2" height="20.2"/>
<path d="M1225.2 251.3V461.8" stroke-width="1.8"/>
<circle cx="1225.2" cy="251.3" r="11.6"/>
<path d="M1218.6 452.3A11.6 11.6 0 1 0 1229.6 451.1"/>
</g>
<text x="963" y="259.8" text-anchor="end" font-size="41.7">0</text>
<text x="963" y="365.6" text-anchor="end" font-size="41.7">10</text>
<text x="963" y="471.4" text-anchor="end" font-size="41.7">20</text>
<text x="963" y="577.2" text-anchor="end" font-size="41.7">30</text>
<text x="979.2" y="690.5" text-anchor="end" font-size="41.7">38.5</text>
<text x="1098.3" y="706.4" text-anchor="middle" font-size="41.7">38</text>
<text x="1297.2" y="684.8" text-anchor="start" font-size="41.7">76.2</text>
<text x="1285" y="703.8" text-anchor="start" font-size="41.7">76.4</text>
<text x="984" y="732.4" text-anchor="start" font-size="40.9">Latitude</text>
<text x="1327.5" y="732.7" text-anchor="start" font-size="40.9">Longitude</text>
<text transform="translate(886.7 531) rotate(-90)" text-anchor="start" font-size="40.7">Depth (m)</text>
<g shape-rendering="crispEdges">
<rect x="1364.7" y="648.8" width="44.7" height="7.4" fill="#870000"/>
<rect x="1364.7" y="642" width="44.7" height="7.4" fill="#970000"/>
<rect x="1364.7" y="635.2" width="44.7" height="7.4" fill="#a70000"/>
<rect x="1364.7" y="628.4" width="44.7" height="7.4" fill="#b70000"/>
<rect x="1364.7" y="621.5" width="44.7" height="7.4" fill="#c70000"/>
<rect x="1364.7" y="614.7" width="44.7" height="7.4" fill="#d70000"/>
<rect x="1364.7" y="607.9" width="44.7" height="7.4" fill="#e70000"/>
<rect x="1364.7" y="601.1" width="44.7" height="7.4" fill="#f70000"/>
<rect x="1364.7" y="594.3" width="44.7" height="7.4" fill="#ff0800"/>
<rect x="1364.7" y="587.5" width="44.7" height="7.4" fill="#ff1800"/>
<rect x="1364.7" y="580.7" width="44.7" height="7.4" fill="#ff2800"/>
<rect x="1364.7" y="573.9" width="44.7" height="7.4" fill="#ff3800"/>
<rect x="1364.7" y="567.1" width="44.7" height="7.4" fill="#ff4800"/>
<rect x="1364.7" y="560.2" width="44.7" height="7.4" fill="#ff5800"/>
<rect x="1364.7" y="553.4" width="44.7" height="7.4" fill="#ff6800"/>
<rect x="1364.7" y="546.6" width="44.7" height="7.4" fill="#ff7800"/>
<rect x="1364.7" y="539.8" width="44.7" height="7.4" fill="#ff8700"/>
<rect x="1364.7" y="533" width="44.7" height="7.4" fill="#ff9700"/>
<rect x="1364.7" y="526.2" width="44.7" height="7.4" fill="#ffa700"/>
<rect x="1364.7" y="519.4" width="44.7" height="7.4" fill="#ffb700"/>
<rect x="1364.7" y="512.6" width="44.7" height="7.4" fill="#ffc700"/>
<rect x="1364.7" y="505.8" width="44.7" height="7.4" fill="#ffd700"/>
<rect x="1364.7" y="498.9" width="44.7" height="7.4" fill="#ffe700"/>
<rect x="1364.7" y="492.1" width="44.7" height="7.4" fill="#fff700"/>
<rect x="1364.7" y="485.3" width="44.7" height="7.4" fill="#f7ff08"/>
<rect x="1364.7" y="478.5" width="44.7" height="7.4" fill="#e7ff18"/>
<rect x="1364.7" y="471.7" width="44.7" height="7.4" fill="#d7ff28"/>
<rect x="1364.7" y="464.9" width="44.7" height="7.4" fill="#c7ff38"/>
<rect x="1364.7" y="458.1" width="44.7" height="7.4" fill="#b7ff48"/>
<rect x="1364.7" y="451.3" width="44.7" height="7.4" fill="#a7ff58"/>
<rect x="1364.7" y="444.5" width="44.7" height="7.4" fill="#97ff68"/>
<rect x="1364.7" y="437.6" width="44.7" height="7.4" fill="#87ff78"/>
<rect x="1364.7" y="430.8" width="44.7" height="7.4" fill="#78ff87"/>
<rect x="1364.7" y="424" width="44.7" height="7.4" fill="#68ff97"/>
<rect x="1364.7" y="417.2" width="44.7" height="7.4" fill="#58ffa7"/>
<rect x="1364.7" y="410.4" width="44.7" height="7.4" fill="#48ffb7"/>
<rect x="1364.7" y="403.6" width="44.7" height="7.4" fill="#38ffc7"/>
<rect x="1364.7" y="396.8" width="44.7" height="7.4" fill="#28ffd7"/>
<rect x="1364.7" y="390" width="44.7" height="7.4" fill="#18ffe7"/>
<rect x="1364.7" y="383.2" width="44.7" height="7.4" fill="#08fff7"/>
<rect x="1364.7" y="376.4" width="44.7" height="7.4" fill="#00f7ff"/>
<rect x="1364.7" y="369.5" width="44.7" height="7.4" fill="#00e7ff"/>
<rect x="1364.7" y="362.7" width="44.7" height="7.4" fill="#00d7ff"/>
<rect x="1364.7" y="355.9" width="44.7" height="7.4" fill="#00c7ff"/>
<rect x="1364.7" y="349.1" width="44.7" height="7.4" fill="#00b7ff"/>
<rect x="1364.7" y="342.3" width="44.7" height="7.4" fill="#00a7ff"/>
<rect x="1364.7" y="335.5" width="44.7" height="7.4" fill="#0097ff"/>
<rect x="1364.7" y="328.7" width="44.7" height="7.4" fill="#0087ff"/>
<rect x="1364.7" y="321.9" width="44.7" height="7.4" fill="#0078ff"/>
<rect x="1364.7" y="315.1" width="44.7" height="7.4" fill="#0068ff"/>
<rect x="1364.7" y="308.2" width="44.7" height="7.4" fill="#0058ff"/>
<rect x="1364.7" y="301.4" width="44.7" height="7.4" fill="#0048ff"/>
<rect x="1364.7" y="294.6" width="44.7" height="7.4" fill="#0038ff"/>
<rect x="1364.7" y="287.8" width="44.7" height="7.4" fill="#0028ff"/>
<rect x="1364.7" y="281" width="44.7" height="7.4" fill="#0018ff"/>
<rect x="1364.7" y="274.2" width="44.7" height="7.4" fill="#0008ff"/>
<rect x="1364.7" y="267.4" width="44.7" height="7.4" fill="#0000f7"/>
<rect x="1364.7" y="260.6" width="44.7" height="7.4" fill="#0000e7"/>
<rect x="1364.7" y="253.8" width="44.7" height="7.4" fill="#0000d7"/>
<rect x="1364.7" y="246.9" width="44.7" height="7.4" fill="#0000c7"/>
<rect x="1364.7" y="240.1" width="44.7" height="7.4" fill="#0000b7"/>
<rect x="1364.7" y="233.3" width="44.7" height="7.4" fill="#0000a7"/>
<rect x="1364.7" y="226.5" width="44.7" height="7.4" fill="#000097"/>
<rect x="1364.7" y="219.7" width="44.7" height="7.4" fill="#000087"/>
</g>
<rect x="1364.7" y="219.7" width="44.7" height="435.9" fill="none" stroke="#000" stroke-width="1.8"/>
<text x="1420" y="671.6" text-anchor="start" font-size="41.7">0</text>
<text x="1420" y="584.4" text-anchor="start" font-size="41.7">2</text>
<text x="1420" y="497.2" text-anchor="start" font-size="41.7">4</text>
<text x="1420" y="410.1" text-anchor="start" font-size="41.7">6</text>
<text x="1420" y="322.9" text-anchor="start" font-size="41.7">8</text>
<text x="1420" y="235.7" text-anchor="start" font-size="41.7">10</text>
<path d="M1364.7 568.4h4.8M1409.4 568.4h-4.8M1364.7 481.2h4.8M1409.4 481.2h-4.8M1364.7 394.1h4.8M1409.4 394.1h-4.8M1364.7 306.9h4.8M1409.4 306.9h-4.8" stroke="#000" stroke-width="1.5" fill="none"/>
<text transform="translate(1519.3 649) rotate(-90)" text-anchor="start" font-size="41.7">Dissolved O<tspan font-size="32" dy="19.5">2</tspan><tspan dy="-19.5"> (mg L</tspan><tspan font-size="32" dy="-20.6">-1</tspan><tspan dy="20.6">)</tspan></text>
</g>
<g transform="translate(674 0)">
<path d="M1003 220.2L1280 251.2M986 245.2L1003 220.2M1003 326L1280 357M986 351L1003 326M1003 431.8L1280 462.8M986 456.8L1003 431.8M1003 537.6L1280 568.6M986 562.6L1003 537.6M1008.3 220.8L1008.3 607.6M991.3 632.6L1008.3 607.6M1150.6 236.7L1150.6 623.5M1133.6 648.5L1150.6 623.5M999.6 225.2L999.6 612M999.6 612L1276.6 643" stroke="#000" stroke-width="1.05" stroke-dasharray="1.05 3.95" fill="none"/>
<g clip-path="url(#sil)">
<defs><linearGradient id="t0" gradientUnits="userSpaceOnUse" x1="0" y1="251.0" x2="0" y2="291.0"><stop offset=".000" stop-color="#ffa300"/><stop offset=".600" stop-color="#ffcc00"/><stop offset="1.000" stop-color="#ffcc00"/></linearGradient><linearGradient id="t1" gradientUnits="userSpaceOnUse" x1="0" y1="251.0" x2="0" y2="411.0"><stop offset=".000" stop-color="#ffa900"/><stop offset=".150" stop-color="#ffd100"/><stop offset=".525" stop-color="#ffcd00"/><stop offset=".731" stop-color="#fffa00"/><stop offset=".746" stop-color="#ffff00"/><stop offset="1.000" stop-color="#35ffca"/></linearGradient><linearGradient id="t2" gradientUnits="userSpaceOnUse" x1="0" y1="251.0" x2="0" y2="411.0"><stop offset=".000" stop-color="#ffb400"/><stop offset=".150" stop-color="#ffdb00"/><stop offset=".525" stop-color="#ffd000"/><stop offset=".731" stop-color="#fffc00"/><stop offset=".737" stop-color="#ffff00"/><stop offset=".931" stop-color="#54ffab"/><stop offset="1.000" stop-color="#31ffce"/></linearGradient><linearGradient id="t3" gradientUnits="userSpaceOnUse" x1="0" y1="260.0" x2="0" y2="421.0"><stop offset=".000" stop-color="#ffc100"/><stop offset=".093" stop-color="#ffe400"/><stop offset=".466" stop-color="#ffd300"/><stop offset=".671" stop-color="#fffd00"/><stop offset=".673" stop-color="#ffff00"/><stop offset=".870" stop-color="#4cffb3"/><stop offset="1.000" stop-color="#1dffe2"/></linearGradient><linearGradient id="t4" gradientUnits="userSpaceOnUse" x1="0" y1="260.0" x2="0" y2="438.0"><stop offset=".000" stop-color="#ffca00"/><stop offset=".084" stop-color="#ffee00"/><stop offset=".478" stop-color="#ffd600"/><stop offset=".607" stop-color="#ffff00"/><stop offset=".607" stop-color="#ffff00"/><stop offset=".730" stop-color="#6dff92"/><stop offset=".815" stop-color="#2fffd0"/><stop offset="1.000" stop-color="#03fffc"/></linearGradient><linearGradient id="t5" gradientUnits="userSpaceOnUse" x1="0" y1="260.0" x2="0" y2="452.0"><stop offset=".000" stop-color="#ffc700"/><stop offset=".078" stop-color="#ffe500"/><stop offset=".443" stop-color="#ffd400"/><stop offset=".535" stop-color="#ffff00"/><stop offset=".562" stop-color="#f0ff0f"/><stop offset=".677" stop-color="#67ff98"/><stop offset=".755" stop-color="#2bffd4"/><stop offset=".938" stop-color="#00ffff"/><stop offset="1.000" stop-color="#00f5ff"/></linearGradient><linearGradient id="t6" gradientUnits="userSpaceOnUse" x1="0" y1="259.0" x2="0" y2="452.0"><stop offset=".000" stop-color="#ffc100"/><stop offset=".083" stop-color="#ffd800"/><stop offset=".342" stop-color="#ffc000"/><stop offset=".446" stop-color="#ffd100"/><stop offset=".523" stop-color="#fffa00"/><stop offset=".528" stop-color="#ffff00"/><stop offset=".653" stop-color="#78ff87"/><stop offset=".756" stop-color="#28ffd7"/><stop offset=".938" stop-color="#00ffff"/><stop offset="1.000" stop-color="#00f5ff"/></linearGradient><linearGradient id="t7" gradientUnits="userSpaceOnUse" x1="0" y1="259.0" x2="0" y2="431.0"><stop offset=".000" stop-color="#ffbb00"/><stop offset=".151" stop-color="#ffd000"/><stop offset=".384" stop-color="#ffb400"/><stop offset=".500" stop-color="#ffce00"/><stop offset=".587" stop-color="#fffd00"/><stop offset=".589" stop-color="#ffff00"/><stop offset=".733" stop-color="#70ff8f"/><stop offset=".849" stop-color="#25ffda"/><stop offset="1.000" stop-color="#0afff5"/></linearGradient><linearGradient id="t8" gradientUnits="userSpaceOnUse" x1="0" y1="259.0" x2="0" y2="430.0"><stop offset=".000" stop-color="#ffb600"/><stop offset=".152" stop-color="#ffc900"/><stop offset=".386" stop-color="#ffb000"/><stop offset=".444" stop-color="#ffbf00"/><stop offset=".561" stop-color="#fff300"/><stop offset=".578" stop-color="#ffff00"/><stop offset=".708" stop-color="#7fff80"/><stop offset=".854" stop-color="#24ffdb"/><stop offset="1.000" stop-color="#0afff5"/></linearGradient><linearGradient id="t9" gradientUnits="userSpaceOnUse" x1="0" y1="259.0" x2="0" y2="451.0"><stop offset=".000" stop-color="#ffb300"/><stop offset=".396" stop-color="#ffc400"/><stop offset=".474" stop-color="#ffeb00"/><stop offset=".496" stop-color="#ffff00"/><stop offset=".630" stop-color="#78ff87"/><stop offset=".760" stop-color="#24ffdb"/><stop offset=".943" stop-color="#00ffff"/><stop offset="1.000" stop-color="#00f6ff"/></linearGradient><linearGradient id="t10" gradientUnits="userSpaceOnUse" x1="0" y1="258.0" x2="0" y2="471.0"><stop offset=".000" stop-color="#ffb000"/><stop offset=".362" stop-color="#ffc800"/><stop offset=".432" stop-color="#fff600"/><stop offset=".439" stop-color="#ffff00"/><stop offset=".573" stop-color="#71ff8e"/><stop offset=".690" stop-color="#24ffdb"/><stop offset=".854" stop-color="#00ffff"/><stop offset="1.000" stop-color="#00e4ff"/></linearGradient><linearGradient id="t11" gradientUnits="userSpaceOnUse" x1="0" y1="258.0" x2="0" y2="482.0"><stop offset=".000" stop-color="#ffad00"/><stop offset=".344" stop-color="#ffce00"/><stop offset=".406" stop-color="#ffff00"/><stop offset=".545" stop-color="#6bff94"/><stop offset=".656" stop-color="#24ffdb"/><stop offset=".812" stop-color="#00ffff"/><stop offset="1.000" stop-color="#00dbff"/></linearGradient><linearGradient id="t12" gradientUnits="userSpaceOnUse" x1="0" y1="258.0" x2="0" y2="513.0"><stop offset=".000" stop-color="#ffaa00"/><stop offset=".224" stop-color="#ffbf00"/><stop offset=".302" stop-color="#ffda00"/><stop offset=".339" stop-color="#ffff00"/><stop offset=".478" stop-color="#6cff93"/><stop offset=".576" stop-color="#24ffdb"/><stop offset=".714" stop-color="#00ffff"/><stop offset="1.000" stop-color="#00c4ff"/></linearGradient><linearGradient id="t13" gradientUnits="userSpaceOnUse" x1="0" y1="257.0" x2="0" y2="513.0"><stop offset=".000" stop-color="#ffa700"/><stop offset=".227" stop-color="#ffc500"/><stop offset=".305" stop-color="#ffe700"/><stop offset=".333" stop-color="#ffff00"/><stop offset=".480" stop-color="#6dff92"/><stop offset=".598" stop-color="#1cffe3"/><stop offset=".715" stop-color="#00ffff"/><stop offset="1.000" stop-color="#00c4ff"/></linearGradient><linearGradient id="t14" gradientUnits="userSpaceOnUse" x1="0" y1="257.0" x2="0" y2="513.0"><stop offset=".000" stop-color="#ffa400"/><stop offset=".227" stop-color="#ffcb00"/><stop offset=".305" stop-color="#fff300"/><stop offset=".325" stop-color="#ffff00"/><stop offset=".539" stop-color="#39ffc6"/><stop offset=".602" stop-color="#1affe5"/><stop offset=".715" stop-color="#00ffff"/><stop offset="1.000" stop-color="#00c4ff"/></linearGradient><linearGradient id="t15" gradientUnits="userSpaceOnUse" x1="0" y1="257.0" x2="0" y2="523.0"><stop offset=".000" stop-color="#ffa800"/><stop offset=".218" stop-color="#ffd100"/><stop offset=".301" stop-color="#fffa00"/><stop offset=".307" stop-color="#ffff00"/><stop offset=".519" stop-color="#3affc5"/><stop offset=".579" stop-color="#19ffe6"/><stop offset=".688" stop-color="#00ffff"/><stop offset="1.000" stop-color="#00c1ff"/></linearGradient><linearGradient id="t16" gradientUnits="userSpaceOnUse" x1="0" y1="257.0" x2="0" y2="523.0"><stop offset=".000" stop-color="#ffae00"/><stop offset=".180" stop-color="#ffcd00"/><stop offset=".301" stop-color="#fffc00"/><stop offset=".304" stop-color="#ffff00"/><stop offset=".500" stop-color="#4bffb4"/><stop offset=".579" stop-color="#19ffe6"/><stop offset=".688" stop-color="#00ffff"/><stop offset="1.000" stop-color="#00c1ff"/></linearGradient><linearGradient id="t17" gradientUnits="userSpaceOnUse" x1="0" y1="256.0" x2="0" y2="544.0"><stop offset=".000" stop-color="#ffb500"/><stop offset=".281" stop-color="#fffe00"/><stop offset=".282" stop-color="#ffff00"/><stop offset=".465" stop-color="#4cffb3"/><stop offset=".538" stop-color="#19ffe6"/><stop offset=".639" stop-color="#00ffff"/><stop offset=".865" stop-color="#00c7ff"/><stop offset="1.000" stop-color="#00baff"/></linearGradient><linearGradient id="t18" gradientUnits="userSpaceOnUse" x1="0" y1="256.0" x2="0" y2="585.0"><stop offset=".000" stop-color="#ffb600"/><stop offset=".246" stop-color="#fffe00"/><stop offset=".247" stop-color="#ffff00"/><stop offset=".471" stop-color="#1cffe3"/><stop offset=".559" stop-color="#00ffff"/><stop offset=".757" stop-color="#00c7ff"/><stop offset="1.000" stop-color="#00b2ff"/></linearGradient><linearGradient id="t19" gradientUnits="userSpaceOnUse" x1="0" y1="256.0" x2="0" y2="585.0"><stop offset=".000" stop-color="#ffb300"/><stop offset=".246" stop-color="#fffc00"/><stop offset=".250" stop-color="#ffff00"/><stop offset=".471" stop-color="#23ffdc"/><stop offset=".559" stop-color="#00ffff"/><stop offset=".757" stop-color="#00c7ff"/><stop offset="1.000" stop-color="#00b3ff"/></linearGradient><linearGradient id="t20" gradientUnits="userSpaceOnUse" x1="0" y1="256.0" x2="0" y2="585.0"><stop offset=".000" stop-color="#ffb000"/><stop offset=".246" stop-color="#fff900"/><stop offset=".254" stop-color="#ffff00"/><stop offset=".468" stop-color="#2bffd4"/><stop offset=".559" stop-color="#00ffff"/><stop offset=".757" stop-color="#00c7ff"/><stop offset="1.000" stop-color="#00b2ff"/></linearGradient><linearGradient id="t21" gradientUnits="userSpaceOnUse" x1="0" y1="256.0" x2="0" y2="538.0"><stop offset=".000" stop-color="#ffac00"/><stop offset=".309" stop-color="#fffd00"/><stop offset=".310" stop-color="#ffff00"/><stop offset=".493" stop-color="#58ffa7"/><stop offset=".652" stop-color="#00ffff"/><stop offset="1.000" stop-color="#00bcff"/></linearGradient><linearGradient id="t22" gradientUnits="userSpaceOnUse" x1="0" y1="256.0" x2="0" y2="532.0"><stop offset=".000" stop-color="#ffa600"/><stop offset=".304" stop-color="#ffeb00"/><stop offset=".328" stop-color="#ffff00"/><stop offset=".504" stop-color="#63ff9c"/><stop offset=".667" stop-color="#00ffff"/><stop offset="1.000" stop-color="#00beff"/></linearGradient><linearGradient id="t23" gradientUnits="userSpaceOnUse" x1="0" y1="256.0" x2="0" y2="532.0"><stop offset=".000" stop-color="#ffa000"/><stop offset=".304" stop-color="#ffdd00"/><stop offset=".343" stop-color="#ffff00"/><stop offset=".467" stop-color="#89ff76"/><stop offset=".667" stop-color="#00ffff"/><stop offset="1.000" stop-color="#00beff"/></linearGradient><linearGradient id="t24" gradientUnits="userSpaceOnUse" x1="0" y1="256.0" x2="0" y2="532.0"><stop offset=".000" stop-color="#ff9a00"/><stop offset=".304" stop-color="#ffce00"/><stop offset=".362" stop-color="#ffff00"/><stop offset=".467" stop-color="#92ff6d"/><stop offset=".667" stop-color="#00ffff"/><stop offset="1.000" stop-color="#00beff"/></linearGradient><linearGradient id="t25" gradientUnits="userSpaceOnUse" x1="0" y1="256.0" x2="0" y2="554.0"><stop offset=".000" stop-color="#ff9c00"/><stop offset=".282" stop-color="#ffd200"/><stop offset=".333" stop-color="#ffff00"/><stop offset=".366" stop-color="#cfff30"/><stop offset=".617" stop-color="#00ffff"/><stop offset=".836" stop-color="#00c7ff"/><stop offset="1.000" stop-color="#00b6ff"/></linearGradient><linearGradient id="t26" gradientUnits="userSpaceOnUse" x1="0" y1="256.0" x2="0" y2="553.0"><stop offset=".000" stop-color="#ffa000"/><stop offset=".266" stop-color="#ffcb00"/><stop offset=".330" stop-color="#ffff00"/><stop offset=".620" stop-color="#00ffff"/><stop offset=".838" stop-color="#00c7ff"/><stop offset="1.000" stop-color="#00b7ff"/></linearGradient><linearGradient id="t27" gradientUnits="userSpaceOnUse" x1="0" y1="256.0" x2="0" y2="553.0"><stop offset=".000" stop-color="#ffa400"/><stop offset=".266" stop-color="#ffcc00"/><stop offset=".326" stop-color="#ffff00"/><stop offset=".620" stop-color="#00ffff"/><stop offset=".620" stop-color="#00ffff"/><stop offset=".838" stop-color="#00c7ff"/><stop offset="1.000" stop-color="#00b7ff"/></linearGradient><linearGradient id="t28" gradientUnits="userSpaceOnUse" x1="0" y1="256.0" x2="0" y2="553.0"><stop offset=".000" stop-color="#ffaa00"/><stop offset=".266" stop-color="#ffcc00"/><stop offset=".324" stop-color="#ffff00"/><stop offset=".620" stop-color="#00ffff"/><stop offset=".838" stop-color="#00c7ff"/><stop offset="1.000" stop-color="#00b7ff"/></linearGradient><linearGradient id="t29" gradientUnits="userSpaceOnUse" x1="0" y1="256.0" x2="0" y2="532.0"><stop offset=".000" stop-color="#ffb000"/><stop offset=".286" stop-color="#ffcc00"/><stop offset=".322" stop-color="#fff500"/><stop offset=".345" stop-color="#ffff00"/><stop offset=".431" stop-color="#d3ff2c"/><stop offset=".562" stop-color="#4effb1"/><stop offset=".667" stop-color="#00ffff"/><stop offset="1.000" stop-color="#00beff"/></linearGradient><linearGradient id="t30" gradientUnits="userSpaceOnUse" x1="0" y1="255.0" x2="0" y2="531.0"><stop offset=".000" stop-color="#ffb700"/><stop offset=".217" stop-color="#ffb800"/><stop offset=".290" stop-color="#ffcc00"/><stop offset=".344" stop-color="#ffff00"/><stop offset=".345" stop-color="#ffff00"/><stop offset=".435" stop-color="#e3ff1c"/><stop offset=".565" stop-color="#4cffb3"/><stop offset=".670" stop-color="#00ffff"/><stop offset="1.000" stop-color="#00beff"/></linearGradient><linearGradient id="t31" gradientUnits="userSpaceOnUse" x1="0" y1="255.0" x2="0" y2="457.0"><stop offset=".000" stop-color="#ffab00"/><stop offset=".248" stop-color="#ffb600"/><stop offset=".396" stop-color="#ffd600"/><stop offset=".459" stop-color="#ffff00"/><stop offset=".470" stop-color="#f9ff06"/><stop offset=".594" stop-color="#d7ff28"/><stop offset=".896" stop-color="#00ffff"/><stop offset=".916" stop-color="#00f2ff"/><stop offset="1.000" stop-color="#00e4ff"/></linearGradient><linearGradient id="t32" gradientUnits="userSpaceOnUse" x1="0" y1="255.0" x2="0" y2="457.0"><stop offset=".000" stop-color="#ff9c00"/><stop offset=".248" stop-color="#ffb400"/><stop offset=".396" stop-color="#ffe200"/><stop offset=".451" stop-color="#ffff00"/><stop offset=".495" stop-color="#e1ff1e"/><stop offset=".594" stop-color="#c6ff39"/><stop offset=".879" stop-color="#00ffff"/><stop offset=".916" stop-color="#00e3ff"/><stop offset="1.000" stop-color="#00d4ff"/></linearGradient><linearGradient id="t33" gradientUnits="userSpaceOnUse" x1="0" y1="255.0" x2="0" y2="510.0"><stop offset=".000" stop-color="#ff8c00"/><stop offset=".196" stop-color="#ffb300"/><stop offset=".353" stop-color="#fffe00"/><stop offset=".353" stop-color="#ffff00"/><stop offset=".392" stop-color="#d3ff2c"/><stop offset=".471" stop-color="#b5ff4a"/><stop offset=".612" stop-color="#56ffa9"/><stop offset=".687" stop-color="#00ffff"/><stop offset=".725" stop-color="#00d4ff"/><stop offset="1.000" stop-color="#00a0ff"/></linearGradient><linearGradient id="t34" gradientUnits="userSpaceOnUse" x1="0" y1="255.0" x2="0" y2="510.0"><stop offset=".000" stop-color="#ff7500"/><stop offset=".196" stop-color="#ffa900"/><stop offset=".353" stop-color="#fff100"/><stop offset=".365" stop-color="#ffff00"/><stop offset=".392" stop-color="#ddff22"/><stop offset=".612" stop-color="#59ffa6"/><stop offset=".687" stop-color="#00ffff"/><stop offset=".725" stop-color="#00d1ff"/><stop offset="1.000" stop-color="#009eff"/></linearGradient><linearGradient id="t35" gradientUnits="userSpaceOnUse" x1="0" y1="255.0" x2="0" y2="510.0"><stop offset=".000" stop-color="#ff5d00"/><stop offset=".333" stop-color="#ffd100"/><stop offset=".379" stop-color="#ffff00"/><stop offset=".431" stop-color="#caff35"/><stop offset=".588" stop-color="#74ff8b"/><stop offset=".688" stop-color="#00ffff"/><stop offset=".725" stop-color="#00d1ff"/><stop offset="1.000" stop-color="#009eff"/></linearGradient><linearGradient id="t36" gradientUnits="userSpaceOnUse" x1="0" y1="255.0" x2="0" y2="510.0"><stop offset=".000" stop-color="#ff4400"/><stop offset=".118" stop-color="#ff8400"/><stop offset=".333" stop-color="#ffbd00"/><stop offset=".388" stop-color="#ffff00"/><stop offset=".431" stop-color="#cfff30"/><stop offset=".588" stop-color="#7cff83"/><stop offset=".689" stop-color="#00ffff"/><stop offset=".725" stop-color="#00d1ff"/><stop offset="1.000" stop-color="#009eff"/></linearGradient><linearGradient id="t37" gradientUnits="userSpaceOnUse" x1="0" y1="255.0" x2="0" y2="510.0"><stop offset=".000" stop-color="#ff4400"/><stop offset=".118" stop-color="#ff8500"/><stop offset=".333" stop-color="#ffb400"/><stop offset=".395" stop-color="#ffff00"/><stop offset=".431" stop-color="#d5ff2a"/><stop offset=".588" stop-color="#85ff7a"/><stop offset=".691" stop-color="#00ffff"/><stop offset=".725" stop-color="#00d1ff"/><stop offset="1.000" stop-color="#009eff"/></linearGradient><linearGradient id="t38" gradientUnits="userSpaceOnUse" x1="0" y1="255.0" x2="0" y2="500.0"><stop offset=".000" stop-color="#ff5b00"/><stop offset=".122" stop-color="#ff9100"/><stop offset=".347" stop-color="#ffb800"/><stop offset=".415" stop-color="#ffff00"/><stop offset=".469" stop-color="#cdff32"/><stop offset=".637" stop-color="#7eff81"/><stop offset=".723" stop-color="#00ffff"/><stop offset=".755" stop-color="#00d1ff"/><stop offset="1.000" stop-color="#009eff"/></linearGradient><linearGradient id="t39" gradientUnits="userSpaceOnUse" x1="0" y1="255.0" x2="0" y2="500.0"><stop offset=".000" stop-color="#ff7100"/><stop offset=".122" stop-color="#ff9c00"/><stop offset=".347" stop-color="#ffbc00"/><stop offset=".420" stop-color="#ffff00"/><stop offset=".469" stop-color="#d0ff2f"/><stop offset=".637" stop-color="#90ff6f"/><stop offset=".727" stop-color="#00ffff"/><stop offset=".755" stop-color="#00d1ff"/><stop offset="1.000" stop-color="#009eff"/></linearGradient><linearGradient id="t40" gradientUnits="userSpaceOnUse" x1="0" y1="255.0" x2="0" y2="500.0"><stop offset=".000" stop-color="#ff7500"/><stop offset=".347" stop-color="#ffbe00"/><stop offset=".418" stop-color="#ffff00"/><stop offset=".469" stop-color="#d0ff2f"/><stop offset=".637" stop-color="#9dff62"/><stop offset=".728" stop-color="#00ffff"/><stop offset=".755" stop-color="#00d1ff"/><stop offset="1.000" stop-color="#009eff"/></linearGradient><linearGradient id="t41" gradientUnits="userSpaceOnUse" x1="0" y1="255.0" x2="0" y2="500.0"><stop offset=".000" stop-color="#ff7500"/><stop offset=".327" stop-color="#ffb500"/><stop offset=".414" stop-color="#ffff00"/><stop offset=".469" stop-color="#ceff31"/><stop offset=".637" stop-color="#aaff55"/><stop offset=".730" stop-color="#00ffff"/><stop offset=".755" stop-color="#00d1ff"/><stop offset="1.000" stop-color="#009eff"/></linearGradient><linearGradient id="t42" gradientUnits="userSpaceOnUse" x1="0" y1="255.0" x2="0" y2="496.0"><stop offset=".000" stop-color="#ff7500"/><stop offset=".332" stop-color="#ffb300"/><stop offset=".417" stop-color="#ffff00"/><stop offset=".456" stop-color="#d4ff2b"/><stop offset=".647" stop-color="#b6ff49"/><stop offset=".743" stop-color="#00ffff"/><stop offset=".768" stop-color="#00d1ff"/><stop offset="1.000" stop-color="#00a2ff"/></linearGradient><linearGradient id="t43" gradientUnits="userSpaceOnUse" x1="0" y1="246.0" x2="0" y2="459.0"><stop offset=".000" stop-color="#ff7700"/><stop offset=".418" stop-color="#ffb800"/><stop offset=".505" stop-color="#ffff00"/><stop offset=".601" stop-color="#a2ff5d"/><stop offset=".775" stop-color="#8aff75"/><stop offset=".873" stop-color="#00ffff"/><stop offset=".911" stop-color="#00c9ff"/><stop offset="1.000" stop-color="#00bbff"/></linearGradient><linearGradient id="t44" gradientUnits="userSpaceOnUse" x1="0" y1="246.0" x2="0" y2="458.0"><stop offset=".000" stop-color="#ff7b00"/><stop offset=".410" stop-color="#ffbd00"/><stop offset=".491" stop-color="#fff500"/><stop offset=".498" stop-color="#ffff00"/><stop offset=".604" stop-color="#57ffa8"/><stop offset=".656" stop-color="#39ffc6"/><stop offset=".778" stop-color="#27ffd8"/><stop offset=".828" stop-color="#00ffff"/><stop offset=".915" stop-color="#00baff"/><stop offset="1.000" stop-color="#00afff"/></linearGradient><linearGradient id="t45" gradientUnits="userSpaceOnUse" x1="0" y1="256.0" x2="0" y2="458.0"><stop offset=".000" stop-color="#ff7f00"/><stop offset=".381" stop-color="#ffc500"/><stop offset=".465" stop-color="#fffe00"/><stop offset=".466" stop-color="#ffff00"/><stop offset=".515" stop-color="#b6ff49"/><stop offset=".584" stop-color="#0cfff3"/><stop offset=".600" stop-color="#00ffff"/><stop offset=".639" stop-color="#00e0ff"/><stop offset="1.000" stop-color="#00a3ff"/></linearGradient><linearGradient id="t46" gradientUnits="userSpaceOnUse" x1="0" y1="256.0" x2="0" y2="405.0"><stop offset=".000" stop-color="#ff8700"/><stop offset=".530" stop-color="#ffcf00"/><stop offset=".631" stop-color="#ffff00"/><stop offset=".698" stop-color="#a8ff57"/><stop offset=".789" stop-color="#00ffff"/><stop offset=".792" stop-color="#00faff"/><stop offset=".866" stop-color="#00caff"/><stop offset="1.000" stop-color="#00b2ff"/></linearGradient><linearGradient id="t47" gradientUnits="userSpaceOnUse" x1="0" y1="256.0" x2="0" y2="406.0"><stop offset=".000" stop-color="#ff9000"/><stop offset=".193" stop-color="#ff9400"/><stop offset=".527" stop-color="#ffd100"/><stop offset=".627" stop-color="#ffff00"/><stop offset=".680" stop-color="#b6ff49"/><stop offset=".767" stop-color="#08fff7"/><stop offset=".775" stop-color="#00ffff"/><stop offset=".787" stop-color="#00f4ff"/><stop offset=".860" stop-color="#00c1ff"/><stop offset="1.000" stop-color="#00a8ff"/></linearGradient><linearGradient id="t48" gradientUnits="userSpaceOnUse" x1="0" y1="246.0" x2="0" y2="406.0"><stop offset=".000" stop-color="#ff9200"/><stop offset=".244" stop-color="#ff9200"/><stop offset=".556" stop-color="#ffd200"/><stop offset=".643" stop-color="#ffff00"/><stop offset=".650" stop-color="#faff05"/><stop offset=".700" stop-color="#abff54"/><stop offset=".781" stop-color="#00ffff"/><stop offset=".781" stop-color="#00ffff"/><stop offset=".869" stop-color="#00c0ff"/><stop offset="1.000" stop-color="#00a4ff"/></linearGradient><linearGradient id="t49" gradientUnits="userSpaceOnUse" x1="0" y1="247.0" x2="0" y2="406.0"><stop offset=".000" stop-color="#ff8f00"/><stop offset=".239" stop-color="#ff8f00"/><stop offset=".553" stop-color="#ffd300"/><stop offset=".634" stop-color="#ffff00"/><stop offset=".648" stop-color="#f0ff0f"/><stop offset=".779" stop-color="#00ffff"/><stop offset=".780" stop-color="#00feff"/><stop offset=".868" stop-color="#00c8ff"/><stop offset="1.000" stop-color="#00a6ff"/></linearGradient><linearGradient id="t50" gradientUnits="userSpaceOnUse" x1="0" y1="247.0" x2="0" y2="410.0"><stop offset=".000" stop-color="#ff8c00"/><stop offset=".233" stop-color="#ff8c00"/><stop offset=".540" stop-color="#ffd500"/><stop offset=".613" stop-color="#fffd00"/><stop offset=".615" stop-color="#ffff00"/><stop offset=".758" stop-color="#00ffff"/><stop offset=".761" stop-color="#00fdff"/><stop offset="1.000" stop-color="#00a0ff"/></linearGradient><linearGradient id="t51" gradientUnits="userSpaceOnUse" x1="0" y1="248.0" x2="0" y2="452.0"><stop offset=".000" stop-color="#ff8900"/><stop offset=".181" stop-color="#ff8800"/><stop offset=".402" stop-color="#ffca00"/><stop offset=".477" stop-color="#ffff00"/><stop offset=".485" stop-color="#f8ff07"/><stop offset=".598" stop-color="#01fffe"/><stop offset=".600" stop-color="#00ffff"/><stop offset=".799" stop-color="#00a2ff"/><stop offset="1.000" stop-color="#009fff"/></linearGradient><linearGradient id="t52" gradientUnits="userSpaceOnUse" x1="0" y1="248.0" x2="0" y2="460.0"><stop offset=".000" stop-color="#ff8500"/><stop offset=".175" stop-color="#ff8000"/><stop offset=".269" stop-color="#ff9400"/><stop offset=".420" stop-color="#ffee00"/><stop offset=".433" stop-color="#ffff00"/><stop offset=".467" stop-color="#d1ff2e"/><stop offset=".575" stop-color="#08fff7"/><stop offset=".590" stop-color="#00ffff"/><stop offset=".769" stop-color="#00b8ff"/><stop offset="1.000" stop-color="#00a0ff"/></linearGradient><linearGradient id="t53" gradientUnits="userSpaceOnUse" x1="0" y1="248.0" x2="0" y2="450.0"><stop offset=".000" stop-color="#ff8000"/><stop offset=".183" stop-color="#ff7700"/><stop offset=".282" stop-color="#ff8b00"/><stop offset=".441" stop-color="#fffd00"/><stop offset=".442" stop-color="#ffff00"/><stop offset=".530" stop-color="#66ff99"/><stop offset=".604" stop-color="#0efff1"/><stop offset=".638" stop-color="#00ffff"/><stop offset="1.000" stop-color="#00abff"/></linearGradient><linearGradient id="t54" gradientUnits="userSpaceOnUse" x1="0" y1="248.0" x2="0" y2="450.0"><stop offset=".000" stop-color="#ff8000"/><stop offset=".183" stop-color="#ff7500"/><stop offset=".272" stop-color="#ff8900"/><stop offset=".361" stop-color="#fffc00"/><stop offset=".365" stop-color="#ffff00"/><stop offset=".441" stop-color="#c8ff37"/><stop offset=".530" stop-color="#58ffa7"/><stop offset=".604" stop-color="#19ffe6"/><stop offset=".656" stop-color="#00ffff"/><stop offset=".807" stop-color="#00c4ff"/><stop offset="1.000" stop-color="#00abff"/></linearGradient><linearGradient id="t55" gradientUnits="userSpaceOnUse" x1="0" y1="257.0" x2="0" y2="459.0"><stop offset=".000" stop-color="#ff7f00"/><stop offset=".139" stop-color="#ff7500"/><stop offset=".228" stop-color="#ff8a00"/><stop offset=".290" stop-color="#ffff00"/><stop offset=".317" stop-color="#c7ff38"/><stop offset=".386" stop-color="#8aff75"/><stop offset=".624" stop-color="#00ffff"/><stop offset=".757" stop-color="#00b7ff"/><stop offset="1.000" stop-color="#00a8ff"/></linearGradient><linearGradient id="t56" gradientUnits="userSpaceOnUse" x1="0" y1="257.0" x2="0" y2="459.0"><stop offset=".000" stop-color="#ff7c00"/><stop offset=".139" stop-color="#ff7200"/><stop offset=".228" stop-color="#ff8600"/><stop offset=".287" stop-color="#ffff00"/><stop offset=".317" stop-color="#c0ff3f"/><stop offset=".386" stop-color="#87ff78"/><stop offset=".637" stop-color="#00ffff"/><stop offset=".762" stop-color="#00baff"/><stop offset="1.000" stop-color="#00a8ff"/></linearGradient><linearGradient id="t57" gradientUnits="userSpaceOnUse" x1="0" y1="256.0" x2="0" y2="459.0"><stop offset=".000" stop-color="#ff7700"/><stop offset=".143" stop-color="#ff6d00"/><stop offset=".232" stop-color="#ff8200"/><stop offset=".291" stop-color="#ffff00"/><stop offset=".320" stop-color="#c5ff3a"/><stop offset=".389" stop-color="#90ff6f"/><stop offset=".653" stop-color="#00ffff"/><stop offset=".764" stop-color="#00c2ff"/><stop offset="1.000" stop-color="#00a8ff"/></linearGradient><linearGradient id="t58" gradientUnits="userSpaceOnUse" x1="0" y1="256.0" x2="0" y2="458.0"><stop offset=".000" stop-color="#ff7300"/><stop offset=".144" stop-color="#ff6900"/><stop offset=".233" stop-color="#ff7e00"/><stop offset=".293" stop-color="#ffff00"/><stop offset=".322" stop-color="#c9ff36"/><stop offset=".391" stop-color="#95ff6a"/><stop offset=".666" stop-color="#00ffff"/><stop offset=".767" stop-color="#00caff"/><stop offset="1.000" stop-color="#00a8ff"/></linearGradient><linearGradient id="t59" gradientUnits="userSpaceOnUse" x1="0" y1="255.0" x2="0" y2="458.0"><stop offset=".000" stop-color="#ff6f00"/><stop offset=".148" stop-color="#ff6500"/><stop offset=".236" stop-color="#ff7c00"/><stop offset=".297" stop-color="#ffff00"/><stop offset=".325" stop-color="#ccff33"/><stop offset=".394" stop-color="#97ff68"/><stop offset=".674" stop-color="#00ffff"/><stop offset=".768" stop-color="#00d0ff"/><stop offset="1.000" stop-color="#00a8ff"/></linearGradient><linearGradient id="t60" gradientUnits="userSpaceOnUse" x1="0" y1="256.0" x2="0" y2="458.0"><stop offset=".000" stop-color="#ff6b00"/><stop offset=".144" stop-color="#ff6200"/><stop offset=".233" stop-color="#ff7a00"/><stop offset=".295" stop-color="#ffff00"/><stop offset=".322" stop-color="#cfff30"/><stop offset=".391" stop-color="#99ff66"/><stop offset=".679" stop-color="#00ffff"/><stop offset=".767" stop-color="#00d6ff"/><stop offset="1.000" stop-color="#00a8ff"/></linearGradient><linearGradient id="t61" gradientUnits="userSpaceOnUse" x1="0" y1="256.0" x2="0" y2="458.0"><stop offset=".000" stop-color="#ff6700"/><stop offset=".168" stop-color="#ff5f00"/><stop offset=".233" stop-color="#ff7800"/><stop offset=".296" stop-color="#ffff00"/><stop offset=".322" stop-color="#d2ff2d"/><stop offset=".391" stop-color="#9bff64"/><stop offset=".686" stop-color="#00ffff"/><stop offset=".767" stop-color="#00dcff"/><stop offset="1.000" stop-color="#00a8ff"/></linearGradient><linearGradient id="t62" gradientUnits="userSpaceOnUse" x1="0" y1="256.0" x2="0" y2="437.0"><stop offset=".000" stop-color="#ff6300"/><stop offset=".188" stop-color="#ff5900"/><stop offset=".260" stop-color="#ff7600"/><stop offset=".331" stop-color="#ffff00"/><stop offset=".370" stop-color="#c6ff39"/><stop offset=".436" stop-color="#9dff62"/><stop offset=".768" stop-color="#03fffc"/><stop offset=".776" stop-color="#00ffff"/><stop offset="1.000" stop-color="#00c0ff"/></linearGradient><linearGradient id="t63" gradientUnits="userSpaceOnUse" x1="0" y1="256.0" x2="0" y2="437.0"><stop offset=".000" stop-color="#ff6200"/><stop offset=".188" stop-color="#ff5900"/><stop offset=".249" stop-color="#ff7200"/><stop offset=".293" stop-color="#ffab00"/><stop offset=".331" stop-color="#ffff00"/><stop offset=".331" stop-color="#feff01"/><stop offset=".370" stop-color="#c7ff38"/><stop offset=".768" stop-color="#07fff8"/><stop offset=".789" stop-color="#00ffff"/><stop offset="1.000" stop-color="#00c3ff"/></linearGradient><linearGradient id="t64" gradientUnits="userSpaceOnUse" x1="0" y1="256.0" x2="0" y2="437.0"><stop offset=".000" stop-color="#ff6400"/><stop offset=".188" stop-color="#ff5d00"/><stop offset=".249" stop-color="#ff7500"/><stop offset=".293" stop-color="#ffac00"/><stop offset=".330" stop-color="#ffff00"/><stop offset=".331" stop-color="#fdff02"/><stop offset=".370" stop-color="#c7ff38"/><stop offset=".768" stop-color="#0bfff4"/><stop offset=".804" stop-color="#00ffff"/><stop offset="1.000" stop-color="#00c5ff"/></linearGradient><linearGradient id="t65" gradientUnits="userSpaceOnUse" x1="0" y1="256.0" x2="0" y2="406.0"><stop offset=".000" stop-color="#ff6600"/><stop offset=".193" stop-color="#ff5d00"/><stop offset=".300" stop-color="#ff7800"/><stop offset=".353" stop-color="#ffae00"/><stop offset=".398" stop-color="#ffff00"/><stop offset=".400" stop-color="#fbff04"/><stop offset=".447" stop-color="#c7ff38"/><stop offset=".990" stop-color="#00ffff"/><stop offset="1.000" stop-color="#00fdff"/></linearGradient><linearGradient id="t66" gradientUnits="userSpaceOnUse" x1="0" y1="256.0" x2="0" y2="407.0"><stop offset=".000" stop-color="#ff6800"/><stop offset=".192" stop-color="#ff5e00"/><stop offset=".298" stop-color="#ff7b00"/><stop offset=".351" stop-color="#ffb000"/><stop offset=".391" stop-color="#fffb00"/><stop offset=".394" stop-color="#ffff00"/><stop offset=".444" stop-color="#c7ff38"/><stop offset="1.000" stop-color="#02fffd"/></linearGradient><linearGradient id="t67" gradientUnits="userSpaceOnUse" x1="0" y1="256.0" x2="0" y2="407.0"><stop offset=".000" stop-color="#ff6a00"/><stop offset=".192" stop-color="#ff6000"/><stop offset=".298" stop-color="#ff7e00"/><stop offset=".351" stop-color="#ffb200"/><stop offset=".391" stop-color="#fffe00"/><stop offset=".392" stop-color="#ffff00"/><stop offset=".444" stop-color="#c7ff38"/><stop offset="1.000" stop-color="#07fff8"/></linearGradient><linearGradient id="t68" gradientUnits="userSpaceOnUse" x1="0" y1="257.0" x2="0" y2="439.0"><stop offset=".000" stop-color="#ff6b00"/><stop offset=".154" stop-color="#ff6300"/><stop offset=".236" stop-color="#ff8100"/><stop offset=".280" stop-color="#ffae00"/><stop offset=".318" stop-color="#ffff00"/><stop offset=".319" stop-color="#fdff02"/><stop offset=".363" stop-color="#c7ff38"/><stop offset=".871" stop-color="#00ffff"/><stop offset="1.000" stop-color="#00cbff"/></linearGradient><linearGradient id="t69" gradientUnits="userSpaceOnUse" x1="0" y1="259.0" x2="0" y2="440.0"><stop offset=".000" stop-color="#ff6b00"/><stop offset=".144" stop-color="#ff6900"/><stop offset=".227" stop-color="#ff8700"/><stop offset=".271" stop-color="#ffb100"/><stop offset=".304" stop-color="#fffc00"/><stop offset=".306" stop-color="#ffff00"/><stop offset=".354" stop-color="#c7ff38"/><stop offset=".886" stop-color="#00ffff"/><stop offset="1.000" stop-color="#00cdff"/></linearGradient><linearGradient id="t70" gradientUnits="userSpaceOnUse" x1="0" y1="260.0" x2="0" y2="471.0"><stop offset=".000" stop-color="#ffb300"/><stop offset=".190" stop-color="#ffbd00"/><stop offset=".250" stop-color="#ffff00"/><stop offset=".299" stop-color="#ceff31"/><stop offset=".545" stop-color="#80ff80"/><stop offset=".765" stop-color="#00ffff"/><stop offset=".877" stop-color="#00b0ff"/><stop offset="1.000" stop-color="#009dff"/></linearGradient><linearGradient id="t71" gradientUnits="userSpaceOnUse" x1="0" y1="260.0" x2="0" y2="516.0"><stop offset=".000" stop-color="#ffc200"/><stop offset=".160" stop-color="#ffc700"/><stop offset=".221" stop-color="#ffff00"/><stop offset=".234" stop-color="#f5ff0a"/><stop offset=".449" stop-color="#bdff42"/><stop offset=".590" stop-color="#56ffa9"/><stop offset=".652" stop-color="#00ffff"/><stop offset=".723" stop-color="#009eff"/><stop offset="1.000" stop-color="#0080ff"/></linearGradient><linearGradient id="t72" gradientUnits="userSpaceOnUse" x1="0" y1="261.0" x2="0" y2="516.0"><stop offset=".000" stop-color="#ff8a00"/><stop offset=".157" stop-color="#ff9e00"/><stop offset=".231" stop-color="#ffeb00"/><stop offset=".290" stop-color="#ffff00"/><stop offset=".329" stop-color="#ffeb00"/><stop offset=".388" stop-color="#fff700"/><stop offset=".399" stop-color="#ffff00"/><stop offset=".588" stop-color="#70ff8f"/><stop offset=".660" stop-color="#00ffff"/><stop offset=".722" stop-color="#009eff"/><stop offset="1.000" stop-color="#0080ff"/></linearGradient><linearGradient id="t73" gradientUnits="userSpaceOnUse" x1="0" y1="262.0" x2="0" y2="517.0"><stop offset=".000" stop-color="#ff8a00"/><stop offset=".153" stop-color="#ff9e00"/><stop offset=".227" stop-color="#ffe300"/><stop offset=".286" stop-color="#ffff00"/><stop offset=".364" stop-color="#ffff00"/><stop offset=".384" stop-color="#f7ff08"/><stop offset=".584" stop-color="#51ffae"/><stop offset=".645" stop-color="#00ffff"/><stop offset=".718" stop-color="#009eff"/><stop offset="1.000" stop-color="#0080ff"/></linearGradient><linearGradient id="t74" gradientUnits="userSpaceOnUse" x1="0" y1="262.0" x2="0" y2="507.0"><stop offset=".000" stop-color="#ff8a00"/><stop offset=".159" stop-color="#ff9e00"/><stop offset=".298" stop-color="#ffff00"/><stop offset=".400" stop-color="#e8ff17"/><stop offset=".461" stop-color="#bfff40"/><stop offset=".656" stop-color="#00ffff"/><stop offset=".747" stop-color="#009eff"/><stop offset="1.000" stop-color="#0080ff"/></linearGradient><linearGradient id="t75" gradientUnits="userSpaceOnUse" x1="0" y1="263.0" x2="0" y2="507.0"><stop offset=".000" stop-color="#ff8a00"/><stop offset=".156" stop-color="#ff9d00"/><stop offset=".295" stop-color="#fffa00"/><stop offset=".311" stop-color="#ffff00"/><stop offset=".357" stop-color="#f0ff0f"/><stop offset=".625" stop-color="#00ffff"/><stop offset=".746" stop-color="#009eff"/><stop offset="1.000" stop-color="#0080ff"/></linearGradient><linearGradient id="t76" gradientUnits="userSpaceOnUse" x1="0" y1="263.0" x2="0" y2="507.0"><stop offset=".000" stop-color="#ff8a00"/><stop offset=".090" stop-color="#ff8a00"/><stop offset=".234" stop-color="#ffc900"/><stop offset=".314" stop-color="#ffff00"/><stop offset=".357" stop-color="#e3ff1c"/><stop offset=".582" stop-color="#00ffff"/><stop offset=".607" stop-color="#00e9ff"/><stop offset=".746" stop-color="#009eff"/><stop offset="1.000" stop-color="#0080ff"/></linearGradient><linearGradient id="t77" gradientUnits="userSpaceOnUse" x1="0" y1="264.0" x2="0" y2="498.0"><stop offset=".000" stop-color="#ff8a00"/><stop offset=".090" stop-color="#ff8a00"/><stop offset=".239" stop-color="#ffc100"/><stop offset=".324" stop-color="#ffff00"/><stop offset=".368" stop-color="#d7ff28"/><stop offset=".538" stop-color="#0ffff0"/><stop offset=".557" stop-color="#00ffff"/><stop offset=".628" stop-color="#00c5ff"/><stop offset="1.000" stop-color="#0083ff"/></linearGradient><linearGradient id="t78" gradientUnits="userSpaceOnUse" x1="0" y1="265.0" x2="0" y2="482.0"><stop offset=".000" stop-color="#ff8b00"/><stop offset=".184" stop-color="#ff9e00"/><stop offset=".300" stop-color="#ffd300"/><stop offset=".349" stop-color="#ffff00"/><stop offset=".562" stop-color="#00ffff"/><stop offset=".576" stop-color="#00efff"/><stop offset=".673" stop-color="#00aeff"/><stop offset="1.000" stop-color="#008bff"/></linearGradient><linearGradient id="t79" gradientUnits="userSpaceOnUse" x1="0" y1="265.0" x2="0" y2="478.0"><stop offset=".000" stop-color="#ff8e00"/><stop offset=".258" stop-color="#ffa600"/><stop offset=".305" stop-color="#ffc000"/><stop offset=".360" stop-color="#ffff00"/><stop offset=".366" stop-color="#f7ff08"/><stop offset=".493" stop-color="#37ffc8"/><stop offset=".550" stop-color="#00ffff"/><stop offset=".587" stop-color="#00daff"/><stop offset=".685" stop-color="#00a5ff"/><stop offset="1.000" stop-color="#008dff"/></linearGradient><linearGradient id="t80" gradientUnits="userSpaceOnUse" x1="0" y1="266.0" x2="0" y2="478.0"><stop offset=".000" stop-color="#ff9100"/><stop offset=".255" stop-color="#ff9600"/><stop offset=".302" stop-color="#ffae00"/><stop offset=".361" stop-color="#ffff00"/><stop offset=".363" stop-color="#fcff03"/><stop offset=".443" stop-color="#5effa1"/><stop offset=".491" stop-color="#19ffe6"/><stop offset=".519" stop-color="#00ffff"/><stop offset=".585" stop-color="#00c4ff"/><stop offset=".684" stop-color="#009cff"/><stop offset="1.000" stop-color="#008dff"/></linearGradient><linearGradient id="t81" gradientUnits="userSpaceOnUse" x1="0" y1="266.0" x2="0" y2="443.0"><stop offset=".000" stop-color="#ff9700"/><stop offset=".220" stop-color="#ff9e00"/><stop offset=".305" stop-color="#ff8800"/><stop offset=".362" stop-color="#ff9900"/><stop offset=".435" stop-color="#fff900"/><stop offset=".438" stop-color="#ffff00"/><stop offset=".531" stop-color="#49ffb6"/><stop offset=".584" stop-color="#00ffff"/><stop offset=".588" stop-color="#00faff"/><stop offset=".701" stop-color="#00b2ff"/><stop offset=".814" stop-color="#0097ff"/><stop offset="1.000" stop-color="#009eff"/></linearGradient><linearGradient id="t82" gradientUnits="userSpaceOnUse" x1="0" y1="255.0" x2="0" y2="426.0"><stop offset=".000" stop-color="#ffa800"/><stop offset=".175" stop-color="#ffa800"/><stop offset=".456" stop-color="#ff8100"/><stop offset=".503" stop-color="#ffb800"/><stop offset=".530" stop-color="#ffff00"/><stop offset=".614" stop-color="#33ffcc"/><stop offset=".647" stop-color="#00ffff"/><stop offset=".673" stop-color="#00d9ff"/><stop offset=".789" stop-color="#00b0ff"/><stop offset="1.000" stop-color="#009eff"/></linearGradient><linearGradient id="t83" gradientUnits="userSpaceOnUse" x1="0" y1="256.0" x2="0" y2="412.0"><stop offset=".000" stop-color="#ffba00"/><stop offset=".314" stop-color="#ff9e00"/><stop offset=".494" stop-color="#ff5400"/><stop offset=".545" stop-color="#ff8800"/><stop offset=".571" stop-color="#ffdf00"/><stop offset=".588" stop-color="#ffff00"/><stop offset=".590" stop-color="#fbff04"/><stop offset=".667" stop-color="#1dffe2"/><stop offset=".685" stop-color="#00ffff"/><stop offset=".731" stop-color="#00b8ff"/><stop offset="1.000" stop-color="#00a6ff"/></linearGradient><linearGradient id="t84" gradientUnits="userSpaceOnUse" x1="0" y1="256.0" x2="0" y2="373.0"><stop offset=".000" stop-color="#ffc500"/><stop offset=".248" stop-color="#ffbb00"/><stop offset=".504" stop-color="#ff8e00"/><stop offset=".658" stop-color="#ff9100"/><stop offset=".726" stop-color="#fff200"/><stop offset=".731" stop-color="#ffff00"/><stop offset=".761" stop-color="#b4ff4b"/><stop offset=".869" stop-color="#00ffff"/><stop offset=".889" stop-color="#00d9ff"/><stop offset="1.000" stop-color="#009dff"/></linearGradient><linearGradient id="t85" gradientUnits="userSpaceOnUse" x1="0" y1="256.0" x2="0" y2="362.0"><stop offset=".000" stop-color="#ffcf00"/><stop offset=".274" stop-color="#ffc500"/><stop offset=".557" stop-color="#ff9c00"/><stop offset=".632" stop-color="#ffad00"/><stop offset=".745" stop-color="#fff100"/><stop offset=".751" stop-color="#ffff00"/><stop offset=".840" stop-color="#30ffcf"/><stop offset=".882" stop-color="#00ffff"/><stop offset=".981" stop-color="#008cff"/><stop offset="1.000" stop-color="#008bff"/></linearGradient><linearGradient id="t86" gradientUnits="userSpaceOnUse" x1="0" y1="256.0" x2="0" y2="361.0"><stop offset=".000" stop-color="#ffcd00"/><stop offset=".562" stop-color="#ffc600"/><stop offset=".638" stop-color="#ffff00"/><stop offset=".752" stop-color="#8eff71"/><stop offset=".800" stop-color="#2affd5"/><stop offset=".829" stop-color="#00ffff"/><stop offset=".848" stop-color="#00e4ff"/><stop offset="1.000" stop-color="#0077ff"/></linearGradient><linearGradient id="t87" gradientUnits="userSpaceOnUse" x1="0" y1="256.0" x2="0" y2="361.0"><stop offset=".000" stop-color="#ffc800"/><stop offset=".276" stop-color="#ffc700"/><stop offset=".562" stop-color="#fff700"/><stop offset=".568" stop-color="#ffff00"/><stop offset=".758" stop-color="#00ffff"/><stop offset=".800" stop-color="#00c3ff"/><stop offset=".943" stop-color="#0071ff"/><stop offset="1.000" stop-color="#006dff"/></linearGradient><linearGradient id="t88" gradientUnits="userSpaceOnUse" x1="0" y1="256.0" x2="0" y2="361.0"><stop offset=".000" stop-color="#ffbe00"/><stop offset=".467" stop-color="#ffa700"/><stop offset=".505" stop-color="#ffb500"/><stop offset=".562" stop-color="#fff000"/><stop offset=".571" stop-color="#ffff00"/><stop offset=".705" stop-color="#22ffdd"/><stop offset=".729" stop-color="#00ffff"/><stop offset=".790" stop-color="#00b1ff"/><stop offset="1.000" stop-color="#0080ff"/></linearGradient><linearGradient id="t89" gradientUnits="userSpaceOnUse" x1="0" y1="256.0" x2="0" y2="340.0"><stop offset=".000" stop-color="#ffb400"/><stop offset=".226" stop-color="#ffb400"/><stop offset=".583" stop-color="#ff6200"/><stop offset=".655" stop-color="#ff8900"/><stop offset=".725" stop-color="#ffff00"/><stop offset=".857" stop-color="#30ffcf"/><stop offset=".897" stop-color="#00ffff"/><stop offset=".940" stop-color="#00caff"/><stop offset="1.000" stop-color="#00a0ff"/></linearGradient><linearGradient id="t90" gradientUnits="userSpaceOnUse" x1="0" y1="256.0" x2="0" y2="340.0"><stop offset=".000" stop-color="#ffb300"/><stop offset=".226" stop-color="#ffb100"/><stop offset=".583" stop-color="#ff6b00"/><stop offset=".655" stop-color="#ff9600"/><stop offset=".716" stop-color="#ffff00"/><stop offset=".786" stop-color="#85ff7a"/><stop offset=".869" stop-color="#0cfff3"/><stop offset=".882" stop-color="#00ffff"/><stop offset="1.000" stop-color="#00abff"/></linearGradient><linearGradient id="t91" gradientUnits="userSpaceOnUse" x1="0" y1="256.0" x2="0" y2="330.0"><stop offset=".000" stop-color="#ffb300"/><stop offset=".257" stop-color="#ffaf00"/><stop offset=".595" stop-color="#ff7a00"/><stop offset=".662" stop-color="#ff8300"/><stop offset=".743" stop-color="#ffb200"/><stop offset=".800" stop-color="#ffff00"/><stop offset=".919" stop-color="#4dffb2"/><stop offset=".977" stop-color="#00ffff"/><stop offset="1.000" stop-color="#00edff"/></linearGradient><linearGradient id="t92" gradientUnits="userSpaceOnUse" x1="0" y1="256.0" x2="0" y2="330.0"><stop offset=".000" stop-color="#ffb300"/><stop offset=".392" stop-color="#ffa600"/><stop offset=".595" stop-color="#ff8500"/><stop offset=".662" stop-color="#ff9b00"/><stop offset=".784" stop-color="#fff600"/><stop offset=".789" stop-color="#ffff00"/><stop offset=".919" stop-color="#38ffc7"/><stop offset=".961" stop-color="#00ffff"/><stop offset="1.000" stop-color="#00daff"/></linearGradient><linearGradient id="t93" gradientUnits="userSpaceOnUse" x1="0" y1="256.0" x2="0" y2="330.0"><stop offset=".000" stop-color="#ffb300"/><stop offset=".392" stop-color="#ffa800"/><stop offset=".595" stop-color="#ff8d00"/><stop offset=".689" stop-color="#ffba00"/><stop offset=".769" stop-color="#ffff00"/><stop offset=".770" stop-color="#feff01"/><stop offset=".919" stop-color="#2bffd4"/><stop offset=".956" stop-color="#00ffff"/><stop offset="1.000" stop-color="#00dcff"/></linearGradient><linearGradient id="t94" gradientUnits="userSpaceOnUse" x1="0" y1="256.0" x2="0" y2="330.0"><stop offset=".000" stop-color="#ffb300"/><stop offset=".595" stop-color="#ff9300"/><stop offset=".716" stop-color="#ffe000"/><stop offset=".745" stop-color="#ffff00"/><stop offset=".784" stop-color="#d1ff2e"/><stop offset=".865" stop-color="#52ffad"/><stop offset=".968" stop-color="#00ffff"/><stop offset="1.000" stop-color="#00f1ff"/></linearGradient><linearGradient id="t95" gradientUnits="userSpaceOnUse" x1="0" y1="256.0" x2="0" y2="330.0"><stop offset=".000" stop-color="#ffb300"/><stop offset=".595" stop-color="#ff9900"/><stop offset=".716" stop-color="#fff100"/><stop offset=".727" stop-color="#ffff00"/><stop offset=".865" stop-color="#33ffcc"/><stop offset="1.000" stop-color="#08fff7"/></linearGradient><linearGradient id="t96" gradientUnits="userSpaceOnUse" x1="0" y1="256.0" x2="0" y2="320.0"><stop offset=".000" stop-color="#ffb300"/><stop offset=".688" stop-color="#ff9e00"/><stop offset=".828" stop-color="#ffff00"/><stop offset="1.000" stop-color="#1affe5"/></linearGradient><linearGradient id="t97" gradientUnits="userSpaceOnUse" x1="0" y1="256.0" x2="0" y2="320.0"><stop offset=".000" stop-color="#ffb300"/><stop offset=".688" stop-color="#ff9e00"/><stop offset=".828" stop-color="#ffff00"/><stop offset="1.000" stop-color="#1affe5"/></linearGradient><linearGradient id="t98" gradientUnits="userSpaceOnUse" x1="0" y1="256.0" x2="0" y2="320.0"><stop offset=".000" stop-color="#ffb300"/><stop offset=".688" stop-color="#ff9e00"/><stop offset=".828" stop-color="#ffff00"/><stop offset="1.000" stop-color="#1affe5"/></linearGradient></defs><rect x="986.0" y="251.0" width="3.5" height="40.0" fill="url(#t0)"/><rect x="989.0" y="251.0" width="3.5" height="160.0" fill="url(#t1)"/><rect x="992.0" y="251.0" width="3.5" height="160.0" fill="url(#t2)"/><rect x="995.0" y="260.0" width="3.5" height="161.0" fill="url(#t3)"/><rect x="998.0" y="260.0" width="3.5" height="178.0" fill="url(#t4)"/><rect x="1001.0" y="260.0" width="3.5" height="192.0" fill="url(#t5)"/><rect x="1004.0" y="259.0" width="3.5" height="193.0" fill="url(#t6)"/><rect x="1007.0" y="259.0" width="3.5" height="172.0" fill="url(#t7)"/><rect x="1010.0" y="259.0" width="3.5" height="171.0" fill="url(#t8)"/><rect x="1013.0" y="259.0" width="3.5" height="192.0" fill="url(#t9)"/><rect x="1016.0" y="258.0" width="3.5" height="213.0" fill="url(#t10)"/><rect x="1019.0" y="258.0" width="3.5" height="224.0" fill="url(#t11)"/><rect x="1022.0" y="258.0" width="3.5" height="255.0" fill="url(#t12)"/><rect x="1025.0" y="257.0" width="3.5" height="256.0" fill="url(#t13)"/><rect x="1028.0" y="257.0" width="3.5" height="256.0" fill="url(#t14)"/><rect x="1031.0" y="257.0" width="3.5" height="266.0" fill="url(#t15)"/><rect x="1034.0" y="257.0" width="3.5" height="266.0" fill="url(#t16)"/><rect x="1037.0" y="256.0" width="3.5" height="288.0" fill="url(#t17)"/><rect x="1040.0" y="256.0" width="3.5" height="329.0" fill="url(#t18)"/><rect x="1043.0" y="256.0" width="3.5" height="329.0" fill="url(#t19)"/><rect x="1046.0" y="256.0" width="3.5" height="329.0" fill="url(#t20)"/><rect x="1049.0" y="256.0" width="3.5" height="282.0" fill="url(#t21)"/><rect x="1052.0" y="256.0" width="3.5" height="276.0" fill="url(#t22)"/><rect x="1055.0" y="256.0" width="3.5" height="276.0" fill="url(#t23)"/><rect x="1058.0" y="256.0" width="3.5" height="276.0" fill="url(#t24)"/><rect x="1061.0" y="256.0" width="3.5" height="298.0" fill="url(#t25)"/><rect x="1064.0" y="256.0" width="3.5" height="297.0" fill="url(#t26)"/><rect x="1067.0" y="256.0" width="3.5" height="297.0" fill="url(#t27)"/><rect x="1070.0" y="256.0" width="3.5" height="297.0" fill="url(#t28)"/><rect x="1073.0" y="256.0" width="3.5" height="276.0" fill="url(#t29)"/><rect x="1076.0" y="255.0" width="3.5" height="276.0" fill="url(#t30)"/><rect x="1079.0" y="255.0" width="3.5" height="202.0" fill="url(#t31)"/><rect x="1082.0" y="255.0" width="3.5" height="202.0" fill="url(#t32)"/><rect x="1085.0" y="255.0" width="3.5" height="255.0" fill="url(#t33)"/><rect x="1088.0" y="255.0" width="3.5" height="255.0" fill="url(#t34)"/><rect x="1091.0" y="255.0" width="3.5" height="255.0" fill="url(#t35)"/><rect x="1094.0" y="255.0" width="3.5" height="255.0" fill="url(#t36)"/><rect x="1097.0" y="255.0" width="3.5" height="255.0" fill="url(#t37)"/><rect x="1100.0" y="255.0" width="3.5" height="245.0" fill="url(#t38)"/><rect x="1103.0" y="255.0" width="3.5" height="245.0" fill="url(#t39)"/><rect x="1106.0" y="255.0" width="3.5" height="245.0" fill="url(#t40)"/><rect x="1109.0" y="255.0" width="3.5" height="245.0" fill="url(#t41)"/><rect x="1112.0" y="255.0" width="3.5" height="241.0" fill="url(#t42)"/><rect x="1115.0" y="246.0" width="3.5" height="213.0" fill="url(#t43)"/><rect x="1118.0" y="246.0" width="3.5" height="212.0" fill="url(#t44)"/><rect x="1121.0" y="256.0" width="3.5" height="202.0" fill="url(#t45)"/><rect x="1124.0" y="256.0" width="3.5" height="149.0" fill="url(#t46)"/><rect x="1127.0" y="256.0" width="3.5" height="150.0" fill="url(#t47)"/><rect x="1130.0" y="246.0" width="3.5" height="160.0" fill="url(#t48)"/><rect x="1133.0" y="247.0" width="3.5" height="159.0" fill="url(#t49)"/><rect x="1136.0" y="247.0" width="3.5" height="163.0" fill="url(#t50)"/><rect x="1139.0" y="248.0" width="3.5" height="204.0" fill="url(#t51)"/><rect x="1142.0" y="248.0" width="3.5" height="212.0" fill="url(#t52)"/><rect x="1145.0" y="248.0" width="3.5" height="202.0" fill="url(#t53)"/><rect x="1148.0" y="248.0" width="3.5" height="202.0" fill="url(#t54)"/><rect x="1151.0" y="257.0" width="3.5" height="202.0" fill="url(#t55)"/><rect x="1154.0" y="257.0" width="3.5" height="202.0" fill="url(#t56)"/><rect x="1157.0" y="256.0" width="3.5" height="203.0" fill="url(#t57)"/><rect x="1160.0" y="256.0" width="3.5" height="202.0" fill="url(#t58)"/><rect x="1163.0" y="255.0" width="3.5" height="203.0" fill="url(#t59)"/><rect x="1166.0" y="256.0" width="3.5" height="202.0" fill="url(#t60)"/><rect x="1169.0" y="256.0" width="3.5" height="202.0" fill="url(#t61)"/><rect x="1172.0" y="256.0" width="3.5" height="181.0" fill="url(#t62)"/><rect x="1175.0" y="256.0" width="3.5" height="181.0" fill="url(#t63)"/><rect x="1178.0" y="256.0" width="3.5" height="181.0" fill="url(#t64)"/><rect x="1181.0" y="256.0" width="3.5" height="150.0" fill="url(#t65)"/><rect x="1184.0" y="256.0" width="3.5" height="151.0" fill="url(#t66)"/><rect x="1187.0" y="256.0" width="3.5" height="151.0" fill="url(#t67)"/><rect x="1190.0" y="257.0" width="3.5" height="182.0" fill="url(#t68)"/><rect x="1193.0" y="259.0" width="3.5" height="181.0" fill="url(#t69)"/><rect x="1196.0" y="260.0" width="3.5" height="211.0" fill="url(#t70)"/><rect x="1199.0" y="260.0" width="3.5" height="256.0" fill="url(#t71)"/><rect x="1202.0" y="261.0" width="3.5" height="255.0" fill="url(#t72)"/><rect x="1205.0" y="262.0" width="3.5" height="255.0" fill="url(#t73)"/><rect x="1208.0" y="262.0" width="3.5" height="245.0" fill="url(#t74)"/><rect x="1211.0" y="263.0" width="3.5" height="244.0" fill="url(#t75)"/><rect x="1214.0" y="263.0" width="3.5" height="244.0" fill="url(#t76)"/><rect x="1217.0" y="264.0" width="3.5" height="234.0" fill="url(#t77)"/><rect x="1220.0" y="265.0" width="3.5" height="217.0" fill="url(#t78)"/><rect x="1223.0" y="265.0" width="3.5" height="213.0" fill="url(#t79)"/><rect x="1226.0" y="266.0" width="3.5" height="212.0" fill="url(#t80)"/><rect x="1229.0" y="266.0" width="3.5" height="177.0" fill="url(#t81)"/><rect x="1232.0" y="255.0" width="3.5" height="171.0" fill="url(#t82)"/><rect x="1235.0" y="256.0" width="3.5" height="156.0" fill="url(#t83)"/><rect x="1238.0" y="256.0" width="3.5" height="117.0" fill="url(#t84)"/><rect x="1241.0" y="256.0" width="3.5" height="106.0" fill="url(#t85)"/><rect x="1244.0" y="256.0" width="3.5" height="105.0" fill="url(#t86)"/><rect x="1247.0" y="256.0" width="3.5" height="105.0" fill="url(#t87)"/><rect x="1250.0" y="256.0" width="3.5" height="105.0" fill="url(#t88)"/><rect x="1253.0" y="256.0" width="3.5" height="84.0" fill="url(#t89)"/><rect x="1256.0" y="256.0" width="3.5" height="84.0" fill="url(#t90)"/><rect x="1259.0" y="256.0" width="3.5" height="74.0" fill="url(#t91)"/><rect x="1262.0" y="256.0" width="3.5" height="74.0" fill="url(#t92)"/><rect x="1265.0" y="256.0" width="3.5" height="74.0" fill="url(#t93)"/><rect x="1268.0" y="256.0" width="3.5" height="74.0" fill="url(#t94)"/><rect x="1271.0" y="256.0" width="3.5" height="74.0" fill="url(#t95)"/><rect x="1274.0" y="256.0" width="3.5" height="64.0" fill="url(#t96)"/><rect x="1277.0" y="256.0" width="3.5" height="64.0" fill="url(#t97)"/><rect x="1280.0" y="256.0" width="3.5" height="64.0" fill="url(#t98)"/>
</g>
<g stroke="#000" stroke-width="2" fill="none">
<path d="M986 245.2V632L1263 663L1279.5 638" stroke-linejoin="miter"/>
<path d="M986 245.2l-7 0l-3 -1M986 351l-7 0l-3 -1M986 456.8l-7 0l-3 -1M986 562.6l-7 0l-3 -1M991.3 632.6l-4.6 7.6M1133.6 648.5l-4.6 7.6M1264.8 662.2h9 M1278.3 642.8h8.5" stroke-width="1.5"/>
</g>
<g stroke="#000" stroke-width="1.8" fill="none">
<rect x="975.9" y="235.9" width="20.2" height="20.2"/>
<rect x="975.9" y="447.5" width="20.2" height="20.2"/>
<path d="M1225.2 251.3V461.8" stroke-width="1.8"/>
<circle cx="1225.2" cy="251.3" r="11.6"/>
<path d="M1218.6 452.3A11.6 11.6 0 1 0 1229.6 451.1"/>
</g>
<text x="963" y="259.8" text-anchor="end" font-size="41.7">0</text>
<text x="963" y="365.6" text-anchor="end" font-size="41.7">10</text>
<text x="963" y="471.4" text-anchor="end" font-size="41.7">20</text>
<text x="963" y="577.2" text-anchor="end" font-size="41.7">30</text>
<text x="979.2" y="690.5" text-anchor="end" font-size="41.7">38.5</text>
<text x="1098.3" y="706.4" text-anchor="middle" font-size="41.7">38</text>
<text x="1297.2" y="684.8" text-anchor="start" font-size="41.7">76.2</text>
<text x="1285" y="703.8" text-anchor="start" font-size="41.7">76.4</text>
<text x="984" y="732.4" text-anchor="start" font-size="40.9">Latitude</text>
<text x="1327.5" y="732.7" text-anchor="start" font-size="40.9">Longitude</text>
<text transform="translate(886.7 531) rotate(-90)" text-anchor="start" font-size="40.7">Depth (m)</text>
<g shape-rendering="crispEdges">
<rect x="1364.7" y="648.8" width="44.7" height="7.4" fill="#000087"/>
<rect x="1364.7" y="642" width="44.7" height="7.4" fill="#000097"/>
<rect x="1364.7" y="635.2" width="44.7" height="7.4" fill="#0000a7"/>
<rect x="1364.7" y="628.4" width="44.7" height="7.4" fill="#0000b7"/>
<rect x="1364.7" y="621.5" width="44.7" height="7.4" fill="#0000c7"/>
<rect x="1364.7" y="614.7" width="44.7" height="7.4" fill="#0000d7"/>
<rect x="1364.7" y="607.9" width="44.7" height="7.4" fill="#0000e7"/>
<rect x="1364.7" y="601.1" width="44.7" height="7.4" fill="#0000f7"/>
<rect x="1364.7" y="594.3" width="44.7" height="7.4" fill="#0008ff"/>
<rect x="1364.7" y="587.5" width="44.7" height="7.4" fill="#0018ff"/>
<rect x="1364.7" y="580.7" width="44.7" height="7.4" fill="#0028ff"/>
<rect x="1364.7" y="573.9" width="44.7" height="7.4" fill="#0038ff"/>
<rect x="1364.7" y="567.1" width="44.7" height="7.4" fill="#0048ff"/>
<rect x="1364.7" y="560.2" width="44.7" height="7.4" fill="#0058ff"/>
<rect x="1364.7" y="553.4" width="44.7" height="7.4" fill="#0068ff"/>
<rect x="1364.7" y="546.6" width="44.7" height="7.4" fill="#0078ff"/>
<rect x="1364.7" y="539.8" width="44.7" height="7.4" fill="#0087ff"/>
<rect x="1364.7" y="533" width="44.7" height="7.4" fill="#0097ff"/>
<rect x="1364.7" y="526.2" width="44.7" height="7.4" fill="#00a7ff"/>
<rect x="1364.7" y="519.4" width="44.7" height="7.4" fill="#00b7ff"/>
<rect x="1364.7" y="512.6" width="44.7" height="7.4" fill="#00c7ff"/>
<rect x="1364.7" y="505.8" width="44.7" height="7.4" fill="#00d7ff"/>
<rect x="1364.7" y="498.9" width="44.7" height="7.4" fill="#00e7ff"/>
<rect x="1364.7" y="492.1" width="44.7" height="7.4" fill="#00f7ff"/>
<rect x="1364.7" y="485.3" width="44.7" height="7.4" fill="#08fff7"/>
<rect x="1364.7" y="478.5" width="44.7" height="7.4" fill="#18ffe7"/>
<rect x="1364.7" y="471.7" width="44.7" height="7.4" fill="#28ffd7"/>
<rect x="1364.7" y="464.9" width="44.7" height="7.4" fill="#38ffc7"/>
<rect x="1364.7" y="458.1" width="44.7" height="7.4" fill="#48ffb7"/>
<rect x="1364.7" y="451.3" width="44.7" height="7.4" fill="#58ffa7"/>
<rect x="1364.7" y="444.5" width="44.7" height="7.4" fill="#68ff97"/>
<rect x="1364.7" y="437.6" width="44.7" height="7.4" fill="#78ff87"/>
<rect x="1364.7" y="430.8" width="44.7" height="7.4" fill="#87ff78"/>
<rect x="1364.7" y="424" width="44.7" height="7.4" fill="#97ff68"/>
<rect x="1364.7" y="417.2" width="44.7" height="7.4" fill="#a7ff58"/>
<rect x="1364.7" y="410.4" width="44.7" height="7.4" fill="#b7ff48"/>
<rect x="1364.7" y="403.6" width="44.7" height="7.4" fill="#c7ff38"/>
<rect x="1364.7" y="396.8" width="44.7" height="7.4" fill="#d7ff28"/>
<rect x="1364.7" y="390" width="44.7" height="7.4" fill="#e7ff18"/>
<rect x="1364.7" y="383.2" width="44.7" height="7.4" fill="#f7ff08"/>
<rect x="1364.7" y="376.4" width="44.7" height="7.4" fill="#fff700"/>
<rect x="1364.7" y="369.5" width="44.7" height="7.4" fill="#ffe700"/>
<rect x="1364.7" y="362.7" width="44.7" height="7.4" fill="#ffd700"/>
<rect x="1364.7" y="355.9" width="44.7" height="7.4" fill="#ffc700"/>
<rect x="1364.7" y="349.1" width="44.7" height="7.4" fill="#ffb700"/>
<rect x="1364.7" y="342.3" width="44.7" height="7.4" fill="#ffa700"/>
<rect x="1364.7" y="335.5" width="44.7" height="7.4" fill="#ff9700"/>
<rect x="1364.7" y="328.7" width="44.7" height="7.4" fill="#ff8700"/>
<rect x="1364.7" y="321.9" width="44.7" height="7.4" fill="#ff7800"/>
<rect x="1364.7" y="315.1" width="44.7" height="7.4" fill="#ff6800"/>
<rect x="1364.7" y="308.2" width="44.7" height="7.4" fill="#ff5800"/>
<rect x="1364.7" y="301.4" width="44.7" height="7.4" fill="#ff4800"/>
<rect x="1364.7" y="294.6" width="44.7" height="7.4" fill="#ff3800"/>
<rect x="1364.7" y="287.8" width="44.7" height="7.4" fill="#ff2800"/>
<rect x="1364.7" y="281" width="44.7" height="7.4" fill="#ff1800"/>
<rect x="1364.7" y="274.2" width="44.7" height="7.4" fill="#ff0800"/>
<rect x="1364.7" y="267.4" width="44.7" height="7.4" fill="#f70000"/>
<rect x="1364.7" y="260.6" width="44.7" height="7.4" fill="#e70000"/>
<rect x="1364.7" y="253.8" width="44.7" height="7.4" fill="#d70000"/>
<rect x="1364.7" y="246.9" width="44.7" height="7.4" fill="#c70000"/>
<rect x="1364.7" y="240.1" width="44.7" height="7.4" fill="#b70000"/>
<rect x="1364.7" y="233.3" width="44.7" height="7.4" fill="#a70000"/>
<rect x="1364.7" y="226.5" width="44.7" height="7.4" fill="#970000"/>
<rect x="1364.7" y="219.7" width="44.7" height="7.4" fill="#870000"/>
</g>
<rect x="1364.7" y="219.7" width="44.7" height="435.9" fill="none" stroke="#000" stroke-width="1.8"/>
<text x="1420" y="671.6" text-anchor="start" font-size="41.7">25</text>
<text x="1420" y="526.3" text-anchor="start" font-size="41.7">26</text>
<text x="1420" y="381" text-anchor="start" font-size="41.7">27</text>
<text x="1420" y="235.7" text-anchor="start" font-size="41.7">28</text>
<path d="M1364.7 510.3h4.8M1409.4 510.3h-4.8M1364.7 365h4.8M1409.4 365h-4.8" stroke="#000" stroke-width="1.5" fill="none"/>
<text transform="translate(1527.4 607.2) rotate(-90)" text-anchor="start" font-size="42">Temperature (°C)</text>
</g>
<g transform="translate(0 853)">
<path d="M1003 220.2L1280 251.2M986 245.2L1003 220.2M1003 326L1280 357M986 351L1003 326M1003 431.8L1280 462.8M986 456.8L1003 431.8M1003 537.6L1280 568.6M986 562.6L1003 537.6M1008.3 220.8L1008.3 607.6M991.3 632.6L1008.3 607.6M1150.6 236.7L1150.6 623.5M1133.6 648.5L1150.6 623.5M999.6 225.2L999.6 612M999.6 612L1276.6 643" stroke="#000" stroke-width="1.05" stroke-dasharray="1.05 3.95" fill="none"/>
<g clip-path="url(#sil)">
<defs><linearGradient id="s0" gradientUnits="userSpaceOnUse" x1="0" y1="251.0" x2="0" y2="291.0"><stop offset=".000" stop-color="#00b5ff"/><stop offset="1.000" stop-color="#00bdff"/></linearGradient><linearGradient id="s1" gradientUnits="userSpaceOnUse" x1="0" y1="251.0" x2="0" y2="411.0"><stop offset=".000" stop-color="#00bdff"/><stop offset=".338" stop-color="#00bdff"/><stop offset=".463" stop-color="#00d2ff"/><stop offset=".552" stop-color="#00ffff"/><stop offset=".650" stop-color="#33ffcc"/><stop offset=".814" stop-color="#ffff00"/><stop offset=".869" stop-color="#ffc500"/><stop offset="1.000" stop-color="#ff8a00"/></linearGradient><linearGradient id="s2" gradientUnits="userSpaceOnUse" x1="0" y1="251.0" x2="0" y2="411.0"><stop offset=".000" stop-color="#00bdff"/><stop offset=".338" stop-color="#00bdff"/><stop offset=".463" stop-color="#00d5ff"/><stop offset=".543" stop-color="#00ffff"/><stop offset=".650" stop-color="#3fffc0"/><stop offset=".775" stop-color="#e1ff1e"/><stop offset=".804" stop-color="#ffff00"/><stop offset=".869" stop-color="#ffc100"/><stop offset="1.000" stop-color="#ff8a00"/></linearGradient><linearGradient id="s3" gradientUnits="userSpaceOnUse" x1="0" y1="260.0" x2="0" y2="421.0"><stop offset=".000" stop-color="#00bdff"/><stop offset=".280" stop-color="#00bdff"/><stop offset=".404" stop-color="#00d8ff"/><stop offset=".476" stop-color="#00ffff"/><stop offset=".559" stop-color="#29ffd6"/><stop offset=".733" stop-color="#ffff00"/><stop offset=".776" stop-color="#ffd200"/><stop offset="1.000" stop-color="#ff7c00"/></linearGradient><linearGradient id="s4" gradientUnits="userSpaceOnUse" x1="0" y1="260.0" x2="0" y2="438.0"><stop offset=".000" stop-color="#00bdff"/><stop offset=".253" stop-color="#00bdff"/><stop offset=".365" stop-color="#00dbff"/><stop offset=".423" stop-color="#00ffff"/><stop offset=".506" stop-color="#2dffd2"/><stop offset=".653" stop-color="#ffff00"/><stop offset=".702" stop-color="#ffc800"/><stop offset="1.000" stop-color="#ff6400"/></linearGradient><linearGradient id="s5" gradientUnits="userSpaceOnUse" x1="0" y1="260.0" x2="0" y2="452.0"><stop offset=".000" stop-color="#00c2ff"/><stop offset=".234" stop-color="#00c4ff"/><stop offset=".339" stop-color="#00e4ff"/><stop offset=".379" stop-color="#00ffff"/><stop offset=".469" stop-color="#3effc1"/><stop offset=".573" stop-color="#ddff22"/><stop offset=".598" stop-color="#ffff00"/><stop offset=".651" stop-color="#ffc300"/><stop offset=".786" stop-color="#ff8a00"/><stop offset="1.000" stop-color="#ff5b00"/></linearGradient><linearGradient id="s6" gradientUnits="userSpaceOnUse" x1="0" y1="259.0" x2="0" y2="452.0"><stop offset=".000" stop-color="#00c8ff"/><stop offset=".238" stop-color="#00ceff"/><stop offset=".342" stop-color="#00efff"/><stop offset=".367" stop-color="#00ffff"/><stop offset=".472" stop-color="#50ffaf"/><stop offset=".575" stop-color="#eaff15"/><stop offset=".592" stop-color="#ffff00"/><stop offset=".653" stop-color="#ffbf00"/><stop offset=".788" stop-color="#ff8a00"/><stop offset="1.000" stop-color="#ff5b00"/></linearGradient><linearGradient id="s7" gradientUnits="userSpaceOnUse" x1="0" y1="259.0" x2="0" y2="431.0"><stop offset=".000" stop-color="#00ceff"/><stop offset=".209" stop-color="#00ceff"/><stop offset=".384" stop-color="#00faff"/><stop offset=".394" stop-color="#00ffff"/><stop offset=".471" stop-color="#29ffd6"/><stop offset=".652" stop-color="#ffff00"/><stop offset=".703" stop-color="#ffcc00"/><stop offset=".791" stop-color="#ffa000"/><stop offset="1.000" stop-color="#ff6e00"/></linearGradient><linearGradient id="s8" gradientUnits="userSpaceOnUse" x1="0" y1="259.0" x2="0" y2="430.0"><stop offset=".000" stop-color="#00d3ff"/><stop offset=".327" stop-color="#00eaff"/><stop offset=".371" stop-color="#00ffff"/><stop offset=".474" stop-color="#39ffc6"/><stop offset=".643" stop-color="#ffff00"/><stop offset=".708" stop-color="#ffc500"/><stop offset="1.000" stop-color="#ff6e00"/></linearGradient><linearGradient id="s9" gradientUnits="userSpaceOnUse" x1="0" y1="259.0" x2="0" y2="451.0"><stop offset=".000" stop-color="#00d6ff"/><stop offset=".188" stop-color="#00daff"/><stop offset=".292" stop-color="#00f4ff"/><stop offset=".309" stop-color="#00ffff"/><stop offset=".422" stop-color="#50ffaf"/><stop offset=".542" stop-color="#eaff15"/><stop offset=".560" stop-color="#ffff00"/><stop offset=".630" stop-color="#ffc200"/><stop offset=".792" stop-color="#ff8500"/><stop offset="1.000" stop-color="#ff5b00"/></linearGradient><linearGradient id="s10" gradientUnits="userSpaceOnUse" x1="0" y1="258.0" x2="0" y2="471.0"><stop offset=".000" stop-color="#00d9ff"/><stop offset=".127" stop-color="#00d9ff"/><stop offset=".258" stop-color="#00f8ff"/><stop offset=".268" stop-color="#00ffff"/><stop offset=".385" stop-color="#66ff99"/><stop offset=".496" stop-color="#ffff00"/><stop offset=".526" stop-color="#ffdd00"/><stop offset=".620" stop-color="#ffa900"/><stop offset=".854" stop-color="#ff6100"/><stop offset="1.000" stop-color="#ff5100"/></linearGradient><linearGradient id="s11" gradientUnits="userSpaceOnUse" x1="0" y1="258.0" x2="0" y2="482.0"><stop offset=".000" stop-color="#00dcff"/><stop offset=".121" stop-color="#00dcff"/><stop offset=".241" stop-color="#00ffff"/><stop offset=".246" stop-color="#02fffd"/><stop offset=".321" stop-color="#45ffba"/><stop offset=".458" stop-color="#ffff00"/><stop offset=".500" stop-color="#ffd000"/><stop offset=".683" stop-color="#ff7f00"/><stop offset="1.000" stop-color="#ff4c00"/></linearGradient><linearGradient id="s12" gradientUnits="userSpaceOnUse" x1="0" y1="258.0" x2="0" y2="513.0"><stop offset=".000" stop-color="#00dfff"/><stop offset=".106" stop-color="#00e2ff"/><stop offset=".192" stop-color="#00ffff"/><stop offset=".216" stop-color="#0ffff0"/><stop offset=".282" stop-color="#55ffaa"/><stop offset=".393" stop-color="#ffff00"/><stop offset=".404" stop-color="#ffef00"/><stop offset=".439" stop-color="#ffcd00"/><stop offset=".600" stop-color="#ff7f00"/><stop offset=".714" stop-color="#ff6100"/><stop offset="1.000" stop-color="#ff4800"/></linearGradient><linearGradient id="s13" gradientUnits="userSpaceOnUse" x1="0" y1="257.0" x2="0" y2="513.0"><stop offset=".000" stop-color="#00e2ff"/><stop offset=".172" stop-color="#00f8ff"/><stop offset=".182" stop-color="#00ffff"/><stop offset=".219" stop-color="#1bffe4"/><stop offset=".305" stop-color="#81ff7e"/><stop offset=".379" stop-color="#ffff00"/><stop offset=".383" stop-color="#fff800"/><stop offset=".441" stop-color="#ffc900"/><stop offset=".715" stop-color="#ff6100"/><stop offset="1.000" stop-color="#ff4800"/></linearGradient><linearGradient id="s14" gradientUnits="userSpaceOnUse" x1="0" y1="257.0" x2="0" y2="513.0"><stop offset=".000" stop-color="#00e5ff"/><stop offset=".172" stop-color="#00feff"/><stop offset=".173" stop-color="#00ffff"/><stop offset=".246" stop-color="#40ffbf"/><stop offset=".344" stop-color="#ceff31"/><stop offset=".365" stop-color="#ffff00"/><stop offset=".383" stop-color="#ffdf00"/><stop offset=".406" stop-color="#ffd400"/><stop offset=".715" stop-color="#ff6100"/><stop offset="1.000" stop-color="#ff4800"/></linearGradient><linearGradient id="s15" gradientUnits="userSpaceOnUse" x1="0" y1="257.0" x2="0" y2="523.0"><stop offset=".000" stop-color="#00e9ff"/><stop offset=".138" stop-color="#00ffff"/><stop offset=".165" stop-color="#0dfff2"/><stop offset=".237" stop-color="#51ffae"/><stop offset=".353" stop-color="#ffff00"/><stop offset=".387" stop-color="#ffd600"/><stop offset=".688" stop-color="#ff6100"/><stop offset="1.000" stop-color="#ff4700"/></linearGradient><linearGradient id="s16" gradientUnits="userSpaceOnUse" x1="0" y1="257.0" x2="0" y2="523.0"><stop offset=".000" stop-color="#00eeff"/><stop offset=".124" stop-color="#00fdff"/><stop offset=".127" stop-color="#00ffff"/><stop offset=".165" stop-color="#1dffe2"/><stop offset=".293" stop-color="#a4ff5b"/><stop offset=".358" stop-color="#ffff00"/><stop offset=".387" stop-color="#ffda00"/><stop offset=".688" stop-color="#ff6100"/><stop offset="1.000" stop-color="#ff4700"/></linearGradient><linearGradient id="s17" gradientUnits="userSpaceOnUse" x1="0" y1="256.0" x2="0" y2="544.0"><stop offset=".000" stop-color="#00f3ff"/><stop offset=".092" stop-color="#00ffff"/><stop offset=".118" stop-color="#07fff8"/><stop offset=".240" stop-color="#80ff80"/><stop offset=".341" stop-color="#ffff00"/><stop offset=".361" stop-color="#ffe300"/><stop offset=".396" stop-color="#ffcf00"/><stop offset=".639" stop-color="#ff6100"/><stop offset="1.000" stop-color="#ff4400"/></linearGradient><linearGradient id="s18" gradientUnits="userSpaceOnUse" x1="0" y1="256.0" x2="0" y2="585.0"><stop offset=".000" stop-color="#00f8ff"/><stop offset=".043" stop-color="#00ffff"/><stop offset=".103" stop-color="#16ffe9"/><stop offset=".210" stop-color="#80ff80"/><stop offset=".308" stop-color="#ffff00"/><stop offset=".347" stop-color="#ffd500"/><stop offset=".559" stop-color="#ff6100"/><stop offset="1.000" stop-color="#ff4200"/></linearGradient><linearGradient id="s19" gradientUnits="userSpaceOnUse" x1="0" y1="256.0" x2="0" y2="585.0"><stop offset=".000" stop-color="#00feff"/><stop offset=".009" stop-color="#00ffff"/><stop offset=".088" stop-color="#18ffe7"/><stop offset=".210" stop-color="#80ff80"/><stop offset=".320" stop-color="#ffff00"/><stop offset=".347" stop-color="#ffda00"/><stop offset=".471" stop-color="#ffa600"/><stop offset=".559" stop-color="#ff6100"/><stop offset="1.000" stop-color="#ff4200"/></linearGradient><linearGradient id="s20" gradientUnits="userSpaceOnUse" x1="0" y1="256.0" x2="0" y2="585.0"><stop offset=".000" stop-color="#00ffff"/><stop offset=".003" stop-color="#00ffff"/><stop offset=".006" stop-color="#00ffff"/><stop offset=".088" stop-color="#14ffeb"/><stop offset=".149" stop-color="#40ffbf"/><stop offset=".210" stop-color="#73ff8c"/><stop offset=".329" stop-color="#ffff00"/><stop offset=".347" stop-color="#ffe600"/><stop offset=".559" stop-color="#ff6100"/><stop offset="1.000" stop-color="#ff4200"/></linearGradient><linearGradient id="s21" gradientUnits="userSpaceOnUse" x1="0" y1="256.0" x2="0" y2="538.0"><stop offset=".000" stop-color="#00ffff"/><stop offset=".004" stop-color="#00ffff"/><stop offset=".007" stop-color="#00ffff"/><stop offset=".103" stop-color="#0efff1"/><stop offset=".174" stop-color="#30ffcf"/><stop offset=".245" stop-color="#63ff9c"/><stop offset=".394" stop-color="#ffff00"/><stop offset=".440" stop-color="#ffd400"/><stop offset=".652" stop-color="#ff6100"/><stop offset="1.000" stop-color="#ff4500"/></linearGradient><linearGradient id="s22" gradientUnits="userSpaceOnUse" x1="0" y1="256.0" x2="0" y2="532.0"><stop offset=".000" stop-color="#00ffff"/><stop offset=".004" stop-color="#00ffff"/><stop offset=".007" stop-color="#00ffff"/><stop offset=".178" stop-color="#21ffde"/><stop offset=".250" stop-color="#54ffab"/><stop offset=".414" stop-color="#ffff00"/><stop offset=".449" stop-color="#ffd900"/><stop offset=".667" stop-color="#ff6100"/><stop offset="1.000" stop-color="#ff4600"/></linearGradient><linearGradient id="s23" gradientUnits="userSpaceOnUse" x1="0" y1="256.0" x2="0" y2="532.0"><stop offset=".000" stop-color="#00ffff"/><stop offset=".004" stop-color="#00ffff"/><stop offset=".007" stop-color="#00ffff"/><stop offset=".178" stop-color="#18ffe7"/><stop offset=".286" stop-color="#6bff94"/><stop offset=".423" stop-color="#ffff00"/><stop offset=".449" stop-color="#ffe000"/><stop offset=".667" stop-color="#ff6100"/><stop offset="1.000" stop-color="#ff4600"/></linearGradient><linearGradient id="s24" gradientUnits="userSpaceOnUse" x1="0" y1="256.0" x2="0" y2="532.0"><stop offset=".000" stop-color="#00ffff"/><stop offset=".004" stop-color="#00ffff"/><stop offset=".007" stop-color="#00ffff"/><stop offset=".141" stop-color="#0afff5"/><stop offset=".214" stop-color="#25ffda"/><stop offset=".431" stop-color="#ffff00"/><stop offset=".467" stop-color="#ffd700"/><stop offset=".667" stop-color="#ff6100"/><stop offset="1.000" stop-color="#ff4600"/></linearGradient><linearGradient id="s25" gradientUnits="userSpaceOnUse" x1="0" y1="256.0" x2="0" y2="554.0"><stop offset=".000" stop-color="#00ffff"/><stop offset=".003" stop-color="#00ffff"/><stop offset=".007" stop-color="#00ffff"/><stop offset=".198" stop-color="#1bffe4"/><stop offset=".332" stop-color="#a0ff5f"/><stop offset=".408" stop-color="#ffff00"/><stop offset=".433" stop-color="#ffdb00"/><stop offset=".617" stop-color="#ff6100"/><stop offset="1.000" stop-color="#ff4300"/></linearGradient><linearGradient id="s26" gradientUnits="userSpaceOnUse" x1="0" y1="256.0" x2="0" y2="553.0"><stop offset=".000" stop-color="#08fff7"/><stop offset=".199" stop-color="#29ffd6"/><stop offset=".266" stop-color="#61ff9e"/><stop offset=".380" stop-color="#ffff00"/><stop offset=".434" stop-color="#ffbd00"/><stop offset=".620" stop-color="#ff6100"/><stop offset="1.000" stop-color="#ff4300"/></linearGradient><linearGradient id="s27" gradientUnits="userSpaceOnUse" x1="0" y1="256.0" x2="0" y2="553.0"><stop offset=".000" stop-color="#10ffef"/><stop offset=".131" stop-color="#1affe5"/><stop offset=".199" stop-color="#37ffc8"/><stop offset=".266" stop-color="#69ff96"/><stop offset=".367" stop-color="#f8ff07"/><stop offset=".370" stop-color="#ffff00"/><stop offset=".391" stop-color="#ffd000"/><stop offset=".468" stop-color="#ff9300"/><stop offset=".754" stop-color="#ff4c00"/><stop offset="1.000" stop-color="#ff4300"/></linearGradient><linearGradient id="s28" gradientUnits="userSpaceOnUse" x1="0" y1="256.0" x2="0" y2="553.0"><stop offset=".000" stop-color="#16ffe9"/><stop offset=".131" stop-color="#1dffe2"/><stop offset=".266" stop-color="#5dffa2"/><stop offset=".367" stop-color="#d1ff2e"/><stop offset=".396" stop-color="#ffff00"/><stop offset=".434" stop-color="#ffbb00"/><stop offset=".522" stop-color="#ff7800"/><stop offset=".754" stop-color="#ff4c00"/><stop offset="1.000" stop-color="#ff4300"/></linearGradient><linearGradient id="s29" gradientUnits="userSpaceOnUse" x1="0" y1="256.0" x2="0" y2="532.0"><stop offset=".000" stop-color="#1affe5"/><stop offset=".214" stop-color="#33ffcc"/><stop offset=".286" stop-color="#5bffa4"/><stop offset=".413" stop-color="#d4ff2b"/><stop offset=".443" stop-color="#ffff00"/><stop offset=".486" stop-color="#ffa800"/><stop offset=".562" stop-color="#ff7000"/><stop offset="1.000" stop-color="#ff4600"/></linearGradient><linearGradient id="s30" gradientUnits="userSpaceOnUse" x1="0" y1="255.0" x2="0" y2="531.0"><stop offset=".000" stop-color="#1affe5"/><stop offset=".145" stop-color="#2affd5"/><stop offset=".290" stop-color="#62ff9d"/><stop offset=".446" stop-color="#fcff03"/><stop offset=".448" stop-color="#ffff00"/><stop offset=".489" stop-color="#ff9400"/><stop offset=".565" stop-color="#ff6600"/><stop offset="1.000" stop-color="#ff4600"/></linearGradient><linearGradient id="s31" gradientUnits="userSpaceOnUse" x1="0" y1="255.0" x2="0" y2="457.0"><stop offset=".000" stop-color="#1bffe4"/><stop offset=".347" stop-color="#55ffaa"/><stop offset=".613" stop-color="#ffff00"/><stop offset=".614" stop-color="#fffe00"/><stop offset=".668" stop-color="#ff9900"/><stop offset="1.000" stop-color="#ff5000"/></linearGradient><linearGradient id="s32" gradientUnits="userSpaceOnUse" x1="0" y1="255.0" x2="0" y2="457.0"><stop offset=".000" stop-color="#1fffe0"/><stop offset=".198" stop-color="#34ffcb"/><stop offset=".347" stop-color="#66ff99"/><stop offset=".569" stop-color="#e1ff1e"/><stop offset=".611" stop-color="#ffff00"/><stop offset=".668" stop-color="#ffb800"/><stop offset="1.000" stop-color="#ff3f00"/></linearGradient><linearGradient id="s33" gradientUnits="userSpaceOnUse" x1="0" y1="255.0" x2="0" y2="510.0"><stop offset=".000" stop-color="#23ffdc"/><stop offset=".157" stop-color="#37ffc8"/><stop offset=".235" stop-color="#5fffa0"/><stop offset=".483" stop-color="#ffff00"/><stop offset=".529" stop-color="#ffd600"/><stop offset=".612" stop-color="#ffc000"/><stop offset=".765" stop-color="#ff3100"/><stop offset="1.000" stop-color="#ff1c00"/></linearGradient><linearGradient id="s34" gradientUnits="userSpaceOnUse" x1="0" y1="255.0" x2="0" y2="510.0"><stop offset=".000" stop-color="#27ffd8"/><stop offset=".157" stop-color="#37ffc8"/><stop offset=".294" stop-color="#75ff8a"/><stop offset=".471" stop-color="#ffff00"/><stop offset=".529" stop-color="#ffd500"/><stop offset=".612" stop-color="#ffba00"/><stop offset=".765" stop-color="#ff2e00"/><stop offset="1.000" stop-color="#ff1a00"/></linearGradient><linearGradient id="s35" gradientUnits="userSpaceOnUse" x1="0" y1="255.0" x2="0" y2="510.0"><stop offset=".000" stop-color="#2bffd4"/><stop offset=".157" stop-color="#37ffc8"/><stop offset=".294" stop-color="#5fffa0"/><stop offset=".443" stop-color="#f6ff09"/><stop offset=".456" stop-color="#ffff00"/><stop offset=".612" stop-color="#ffab00"/><stop offset=".765" stop-color="#ff2e00"/><stop offset="1.000" stop-color="#ff1a00"/></linearGradient><linearGradient id="s36" gradientUnits="userSpaceOnUse" x1="0" y1="255.0" x2="0" y2="510.0"><stop offset=".000" stop-color="#2effd1"/><stop offset=".294" stop-color="#4dffb2"/><stop offset=".353" stop-color="#80ff80"/><stop offset=".443" stop-color="#fdff02"/><stop offset=".446" stop-color="#ffff00"/><stop offset=".765" stop-color="#ff2e00"/><stop offset="1.000" stop-color="#ff1a00"/></linearGradient><linearGradient id="s37" gradientUnits="userSpaceOnUse" x1="0" y1="255.0" x2="0" y2="510.0"><stop offset=".000" stop-color="#31ffce"/><stop offset=".294" stop-color="#50ffaf"/><stop offset=".461" stop-color="#ffff00"/><stop offset=".471" stop-color="#fff700"/><stop offset=".612" stop-color="#ffa500"/><stop offset=".765" stop-color="#ff2e00"/><stop offset="1.000" stop-color="#ff1a00"/></linearGradient><linearGradient id="s38" gradientUnits="userSpaceOnUse" x1="0" y1="255.0" x2="0" y2="500.0"><stop offset=".000" stop-color="#35ffca"/><stop offset=".306" stop-color="#53ffac"/><stop offset=".490" stop-color="#fcff03"/><stop offset=".493" stop-color="#ffff00"/><stop offset=".637" stop-color="#ffab00"/><stop offset=".796" stop-color="#ff2e00"/><stop offset="1.000" stop-color="#ff1a00"/></linearGradient><linearGradient id="s39" gradientUnits="userSpaceOnUse" x1="0" y1="255.0" x2="0" y2="500.0"><stop offset=".000" stop-color="#38ffc7"/><stop offset=".306" stop-color="#56ffa9"/><stop offset=".508" stop-color="#ffff00"/><stop offset=".551" stop-color="#ffda00"/><stop offset=".637" stop-color="#ffb100"/><stop offset=".796" stop-color="#ff2e00"/><stop offset="1.000" stop-color="#ff1900"/></linearGradient><linearGradient id="s40" gradientUnits="userSpaceOnUse" x1="0" y1="255.0" x2="0" y2="500.0"><stop offset=".000" stop-color="#38ffc7"/><stop offset=".306" stop-color="#5affa5"/><stop offset=".513" stop-color="#ffff00"/><stop offset=".531" stop-color="#fff200"/><stop offset=".637" stop-color="#ffc300"/><stop offset=".796" stop-color="#ff2e00"/><stop offset="1.000" stop-color="#ff1a00"/></linearGradient><linearGradient id="s41" gradientUnits="userSpaceOnUse" x1="0" y1="255.0" x2="0" y2="500.0"><stop offset=".000" stop-color="#38ffc7"/><stop offset=".204" stop-color="#42ffbd"/><stop offset=".306" stop-color="#5dffa2"/><stop offset=".490" stop-color="#f0ff0f"/><stop offset=".518" stop-color="#ffff00"/><stop offset=".637" stop-color="#ffd700"/><stop offset=".796" stop-color="#ff2e00"/><stop offset="1.000" stop-color="#ff1a00"/></linearGradient><linearGradient id="s42" gradientUnits="userSpaceOnUse" x1="0" y1="255.0" x2="0" y2="496.0"><stop offset=".000" stop-color="#38ffc7"/><stop offset=".207" stop-color="#42ffbd"/><stop offset=".311" stop-color="#60ff9f"/><stop offset=".498" stop-color="#f0ff0f"/><stop offset=".537" stop-color="#ffff00"/><stop offset=".647" stop-color="#ffec00"/><stop offset=".809" stop-color="#ff2e00"/><stop offset="1.000" stop-color="#ff1b00"/></linearGradient><linearGradient id="s43" gradientUnits="userSpaceOnUse" x1="0" y1="246.0" x2="0" y2="459.0"><stop offset=".000" stop-color="#3dffc2"/><stop offset=".277" stop-color="#47ffb8"/><stop offset=".394" stop-color="#66ff99"/><stop offset=".592" stop-color="#ffff00"/><stop offset=".606" stop-color="#fff500"/><stop offset=".653" stop-color="#ffd900"/><stop offset=".775" stop-color="#ffc700"/><stop offset=".958" stop-color="#ff2e00"/><stop offset="1.000" stop-color="#ff2a00"/></linearGradient><linearGradient id="s44" gradientUnits="userSpaceOnUse" x1="0" y1="246.0" x2="0" y2="458.0"><stop offset=".000" stop-color="#42ffbd"/><stop offset=".278" stop-color="#4cffb3"/><stop offset=".396" stop-color="#6bff94"/><stop offset=".538" stop-color="#ddff22"/><stop offset=".567" stop-color="#ffff00"/><stop offset=".656" stop-color="#ffa700"/><stop offset=".778" stop-color="#ff9200"/><stop offset=".962" stop-color="#ff2b00"/><stop offset="1.000" stop-color="#ff2800"/></linearGradient><linearGradient id="s45" gradientUnits="userSpaceOnUse" x1="0" y1="256.0" x2="0" y2="458.0"><stop offset=".000" stop-color="#42ffbd"/><stop offset=".243" stop-color="#4dffb2"/><stop offset=".366" stop-color="#6bff94"/><stop offset=".535" stop-color="#f9ff06"/><stop offset=".537" stop-color="#ffff00"/><stop offset=".584" stop-color="#ff8a00"/><stop offset=".639" stop-color="#ff5f00"/><stop offset="1.000" stop-color="#ff1500"/></linearGradient><linearGradient id="s46" gradientUnits="userSpaceOnUse" x1="0" y1="256.0" x2="0" y2="405.0"><stop offset=".000" stop-color="#42ffbd"/><stop offset=".329" stop-color="#4dffb2"/><stop offset=".497" stop-color="#6cff93"/><stop offset=".597" stop-color="#9fff60"/><stop offset=".721" stop-color="#ffff00"/><stop offset=".725" stop-color="#fffc00"/><stop offset=".792" stop-color="#ff4c00"/><stop offset=".866" stop-color="#ff2400"/><stop offset="1.000" stop-color="#ff1400"/></linearGradient><linearGradient id="s47" gradientUnits="userSpaceOnUse" x1="0" y1="256.0" x2="0" y2="406.0"><stop offset=".000" stop-color="#43ffbc"/><stop offset=".327" stop-color="#4dffb2"/><stop offset=".493" stop-color="#71ff8e"/><stop offset=".693" stop-color="#f2ff0d"/><stop offset=".704" stop-color="#ffff00"/><stop offset=".720" stop-color="#ffea00"/><stop offset=".787" stop-color="#ff4b00"/><stop offset=".860" stop-color="#ff2400"/><stop offset="1.000" stop-color="#ff1000"/></linearGradient><linearGradient id="s48" gradientUnits="userSpaceOnUse" x1="0" y1="246.0" x2="0" y2="406.0"><stop offset=".000" stop-color="#42ffbd"/><stop offset=".369" stop-color="#4dffb2"/><stop offset=".525" stop-color="#76ff89"/><stop offset=".713" stop-color="#f8ff07"/><stop offset=".716" stop-color="#ffff00"/><stop offset=".800" stop-color="#ff4a00"/><stop offset=".869" stop-color="#ff2400"/><stop offset="1.000" stop-color="#ff0e00"/></linearGradient><linearGradient id="s49" gradientUnits="userSpaceOnUse" x1="0" y1="247.0" x2="0" y2="406.0"><stop offset=".000" stop-color="#42ffbd"/><stop offset=".365" stop-color="#4dffb2"/><stop offset=".491" stop-color="#6bff94"/><stop offset=".711" stop-color="#feff01"/><stop offset=".711" stop-color="#ffff00"/><stop offset=".792" stop-color="#ff4d00"/><stop offset=".868" stop-color="#ff2400"/><stop offset="1.000" stop-color="#ff0b00"/></linearGradient><linearGradient id="s50" gradientUnits="userSpaceOnUse" x1="0" y1="247.0" x2="0" y2="410.0"><stop offset=".000" stop-color="#42ffbd"/><stop offset=".356" stop-color="#4fffb0"/><stop offset=".479" stop-color="#72ff8d"/><stop offset=".638" stop-color="#ddff22"/><stop offset=".668" stop-color="#ffff00"/><stop offset=".693" stop-color="#ffe700"/><stop offset=".773" stop-color="#ff4f00"/><stop offset=".847" stop-color="#ff2400"/><stop offset="1.000" stop-color="#ff0600"/></linearGradient><linearGradient id="s51" gradientUnits="userSpaceOnUse" x1="0" y1="248.0" x2="0" y2="452.0"><stop offset=".000" stop-color="#42ffbd"/><stop offset=".279" stop-color="#52ffad"/><stop offset=".368" stop-color="#75ff8a"/><stop offset=".505" stop-color="#ebff14"/><stop offset=".516" stop-color="#ffff00"/><stop offset=".613" stop-color="#ff5100"/><stop offset=".672" stop-color="#ff2400"/><stop offset=".799" stop-color="#ff0500"/><stop offset="1.000" stop-color="#ff0500"/></linearGradient><linearGradient id="s52" gradientUnits="userSpaceOnUse" x1="0" y1="248.0" x2="0" y2="460.0"><stop offset=".000" stop-color="#42ffbd"/><stop offset=".269" stop-color="#55ffaa"/><stop offset=".354" stop-color="#7cff83"/><stop offset=".486" stop-color="#f8ff07"/><stop offset=".489" stop-color="#ffff00"/><stop offset=".514" stop-color="#ffc000"/><stop offset=".575" stop-color="#ff6400"/><stop offset=".646" stop-color="#ff2400"/><stop offset=".769" stop-color="#ff0500"/><stop offset="1.000" stop-color="#ff0500"/></linearGradient><linearGradient id="s53" gradientUnits="userSpaceOnUse" x1="0" y1="248.0" x2="0" y2="450.0"><stop offset=".000" stop-color="#42ffbd"/><stop offset=".282" stop-color="#5effa1"/><stop offset=".479" stop-color="#ffff00"/><stop offset=".510" stop-color="#ffe700"/><stop offset=".540" stop-color="#ffa700"/><stop offset=".678" stop-color="#ff2800"/><stop offset=".807" stop-color="#ff0700"/><stop offset="1.000" stop-color="#ff0500"/></linearGradient><linearGradient id="s54" gradientUnits="userSpaceOnUse" x1="0" y1="248.0" x2="0" y2="450.0"><stop offset=".000" stop-color="#42ffbd"/><stop offset=".233" stop-color="#4fffb0"/><stop offset=".282" stop-color="#6eff91"/><stop offset=".371" stop-color="#f2ff0d"/><stop offset=".393" stop-color="#ffff00"/><stop offset=".510" stop-color="#ffb800"/><stop offset=".540" stop-color="#ff9100"/><stop offset=".678" stop-color="#ff2f00"/><stop offset=".807" stop-color="#ff0b00"/><stop offset="1.000" stop-color="#ff0600"/></linearGradient><linearGradient id="s55" gradientUnits="userSpaceOnUse" x1="0" y1="257.0" x2="0" y2="459.0"><stop offset=".000" stop-color="#42ffbd"/><stop offset=".188" stop-color="#4dffb2"/><stop offset=".238" stop-color="#7dff82"/><stop offset=".301" stop-color="#ffff00"/><stop offset=".327" stop-color="#ffbf00"/><stop offset=".634" stop-color="#ff3700"/><stop offset=".762" stop-color="#ff0f00"/><stop offset="1.000" stop-color="#ff0500"/></linearGradient><linearGradient id="s56" gradientUnits="userSpaceOnUse" x1="0" y1="257.0" x2="0" y2="459.0"><stop offset=".000" stop-color="#42ffbd"/><stop offset=".188" stop-color="#54ffab"/><stop offset=".238" stop-color="#87ff78"/><stop offset=".295" stop-color="#ffff00"/><stop offset=".327" stop-color="#ffb200"/><stop offset=".762" stop-color="#ff1700"/><stop offset="1.000" stop-color="#ff0500"/></linearGradient><linearGradient id="s57" gradientUnits="userSpaceOnUse" x1="0" y1="256.0" x2="0" y2="459.0"><stop offset=".000" stop-color="#42ffbd"/><stop offset=".192" stop-color="#5cffa3"/><stop offset=".232" stop-color="#7dff82"/><stop offset=".297" stop-color="#ffff00"/><stop offset=".330" stop-color="#ffb100"/><stop offset=".537" stop-color="#ff7b00"/><stop offset=".764" stop-color="#ff1f00"/><stop offset="1.000" stop-color="#ff0500"/></linearGradient><linearGradient id="s58" gradientUnits="userSpaceOnUse" x1="0" y1="256.0" x2="0" y2="458.0"><stop offset=".000" stop-color="#41ffbe"/><stop offset=".168" stop-color="#4cffb3"/><stop offset=".203" stop-color="#67ff98"/><stop offset=".233" stop-color="#81ff7e"/><stop offset=".298" stop-color="#ffff00"/><stop offset=".327" stop-color="#ffb700"/><stop offset=".540" stop-color="#ff8200"/><stop offset=".767" stop-color="#ff2600"/><stop offset="1.000" stop-color="#ff0500"/></linearGradient><linearGradient id="s59" gradientUnits="userSpaceOnUse" x1="0" y1="255.0" x2="0" y2="458.0"><stop offset=".000" stop-color="#3fffc0"/><stop offset=".148" stop-color="#45ffba"/><stop offset=".207" stop-color="#66ff99"/><stop offset=".236" stop-color="#83ff7c"/><stop offset=".303" stop-color="#ffff00"/><stop offset=".330" stop-color="#ffc100"/><stop offset=".345" stop-color="#ffb600"/><stop offset=".542" stop-color="#ff8600"/><stop offset=".768" stop-color="#ff2a00"/><stop offset="1.000" stop-color="#ff0500"/></linearGradient><linearGradient id="s60" gradientUnits="userSpaceOnUse" x1="0" y1="256.0" x2="0" y2="458.0"><stop offset=".000" stop-color="#3dffc2"/><stop offset=".144" stop-color="#42ffbd"/><stop offset=".203" stop-color="#64ff9b"/><stop offset=".233" stop-color="#86ff79"/><stop offset=".302" stop-color="#ffff00"/><stop offset=".342" stop-color="#ffbb00"/><stop offset=".540" stop-color="#ff8a00"/><stop offset=".767" stop-color="#ff2e00"/><stop offset="1.000" stop-color="#ff0500"/></linearGradient><linearGradient id="s61" gradientUnits="userSpaceOnUse" x1="0" y1="256.0" x2="0" y2="458.0"><stop offset=".000" stop-color="#3bffc4"/><stop offset=".144" stop-color="#3effc1"/><stop offset=".203" stop-color="#63ff9c"/><stop offset=".305" stop-color="#ffff00"/><stop offset=".342" stop-color="#ffc000"/><stop offset=".540" stop-color="#ff8e00"/><stop offset=".767" stop-color="#ff3200"/><stop offset="1.000" stop-color="#ff0500"/></linearGradient><linearGradient id="s62" gradientUnits="userSpaceOnUse" x1="0" y1="256.0" x2="0" y2="437.0"><stop offset=".000" stop-color="#39ffc6"/><stop offset=".160" stop-color="#3affc5"/><stop offset=".227" stop-color="#62ff9d"/><stop offset=".345" stop-color="#ffff00"/><stop offset=".381" stop-color="#ffc400"/><stop offset="1.000" stop-color="#ff1900"/></linearGradient><linearGradient id="s63" gradientUnits="userSpaceOnUse" x1="0" y1="256.0" x2="0" y2="437.0"><stop offset=".000" stop-color="#3bffc4"/><stop offset=".160" stop-color="#3effc1"/><stop offset=".227" stop-color="#67ff98"/><stop offset=".347" stop-color="#ffff00"/><stop offset=".381" stop-color="#ffc900"/><stop offset="1.000" stop-color="#ff1900"/></linearGradient><linearGradient id="s64" gradientUnits="userSpaceOnUse" x1="0" y1="256.0" x2="0" y2="437.0"><stop offset=".000" stop-color="#41ffbe"/><stop offset=".160" stop-color="#49ffb6"/><stop offset=".215" stop-color="#6bff94"/><stop offset=".346" stop-color="#ffff00"/><stop offset=".381" stop-color="#ffcd00"/><stop offset="1.000" stop-color="#ff1900"/></linearGradient><linearGradient id="s65" gradientUnits="userSpaceOnUse" x1="0" y1="256.0" x2="0" y2="406.0"><stop offset=".000" stop-color="#47ffb8"/><stop offset=".193" stop-color="#55ffaa"/><stop offset=".273" stop-color="#80ff80"/><stop offset=".415" stop-color="#ffff00"/><stop offset=".460" stop-color="#ffd100"/><stop offset=".727" stop-color="#ff9e00"/><stop offset="1.000" stop-color="#ff3d00"/></linearGradient><linearGradient id="s66" gradientUnits="userSpaceOnUse" x1="0" y1="256.0" x2="0" y2="407.0"><stop offset=".000" stop-color="#4effb1"/><stop offset=".192" stop-color="#61ff9e"/><stop offset=".272" stop-color="#8cff73"/><stop offset=".409" stop-color="#ffff00"/><stop offset=".457" stop-color="#ffd500"/><stop offset=".722" stop-color="#ffa200"/><stop offset="1.000" stop-color="#ff3900"/></linearGradient><linearGradient id="s67" gradientUnits="userSpaceOnUse" x1="0" y1="256.0" x2="0" y2="407.0"><stop offset=".000" stop-color="#54ffab"/><stop offset=".159" stop-color="#5dffa2"/><stop offset=".258" stop-color="#8eff71"/><stop offset=".406" stop-color="#ffff00"/><stop offset=".457" stop-color="#ffd900"/><stop offset=".722" stop-color="#ffa600"/><stop offset="1.000" stop-color="#ff3800"/></linearGradient><linearGradient id="s68" gradientUnits="userSpaceOnUse" x1="0" y1="257.0" x2="0" y2="439.0"><stop offset=".000" stop-color="#5cffa3"/><stop offset=".126" stop-color="#69ff96"/><stop offset=".327" stop-color="#ffff00"/><stop offset=".374" stop-color="#ffdb00"/><stop offset=".593" stop-color="#ffa600"/><stop offset=".846" stop-color="#ff2b00"/><stop offset="1.000" stop-color="#ff1300"/></linearGradient><linearGradient id="s69" gradientUnits="userSpaceOnUse" x1="0" y1="259.0" x2="0" y2="440.0"><stop offset=".000" stop-color="#66ff99"/><stop offset=".116" stop-color="#78ff87"/><stop offset=".313" stop-color="#ffff00"/><stop offset=".365" stop-color="#ffdb00"/><stop offset=".586" stop-color="#ffa100"/><stop offset=".840" stop-color="#ff2600"/><stop offset="1.000" stop-color="#ff1000"/></linearGradient><linearGradient id="s70" gradientUnits="userSpaceOnUse" x1="0" y1="260.0" x2="0" y2="471.0"><stop offset=".000" stop-color="#ebff14"/><stop offset=".142" stop-color="#d8ff27"/><stop offset=".220" stop-color="#ffff00"/><stop offset=".308" stop-color="#ffd100"/><stop offset=".498" stop-color="#ff9900"/><stop offset=".716" stop-color="#ff1f00"/><stop offset=".860" stop-color="#ff0000"/><stop offset="1.000" stop-color="#f10000"/></linearGradient><linearGradient id="s71" gradientUnits="userSpaceOnUse" x1="0" y1="260.0" x2="0" y2="516.0"><stop offset=".000" stop-color="#f5ff0a"/><stop offset=".117" stop-color="#e6ff19"/><stop offset=".166" stop-color="#ffff00"/><stop offset=".195" stop-color="#ffee00"/><stop offset=".410" stop-color="#ffb800"/><stop offset=".590" stop-color="#ff1400"/><stop offset=".657" stop-color="#ff0000"/><stop offset=".742" stop-color="#e50000"/><stop offset="1.000" stop-color="#d10000"/></linearGradient><linearGradient id="s72" gradientUnits="userSpaceOnUse" x1="0" y1="261.0" x2="0" y2="516.0"><stop offset=".000" stop-color="#83ff7c"/><stop offset=".055" stop-color="#8eff71"/><stop offset=".192" stop-color="#ffff00"/><stop offset=".408" stop-color="#ffd700"/><stop offset=".467" stop-color="#ffa800"/><stop offset=".588" stop-color="#ff0d00"/><stop offset=".641" stop-color="#ff0000"/><stop offset=".741" stop-color="#e50000"/><stop offset="1.000" stop-color="#d10000"/></linearGradient><linearGradient id="s73" gradientUnits="userSpaceOnUse" x1="0" y1="262.0" x2="0" y2="517.0"><stop offset=".000" stop-color="#8bff74"/><stop offset=".051" stop-color="#95ff6a"/><stop offset=".188" stop-color="#ffff00"/><stop offset=".325" stop-color="#fff000"/><stop offset=".404" stop-color="#ffce00"/><stop offset=".584" stop-color="#ff0900"/><stop offset=".626" stop-color="#ff0000"/><stop offset=".737" stop-color="#e60000"/><stop offset="1.000" stop-color="#d10000"/></linearGradient><linearGradient id="s74" gradientUnits="userSpaceOnUse" x1="0" y1="262.0" x2="0" y2="507.0"><stop offset=".000" stop-color="#93ff6c"/><stop offset=".053" stop-color="#9dff62"/><stop offset=".196" stop-color="#ffff00"/><stop offset=".380" stop-color="#ffe500"/><stop offset=".441" stop-color="#ffb400"/><stop offset=".563" stop-color="#ff1c00"/><stop offset=".608" stop-color="#ff0600"/><stop offset=".637" stop-color="#ff0000"/><stop offset="1.000" stop-color="#d10000"/></linearGradient><linearGradient id="s75" gradientUnits="userSpaceOnUse" x1="0" y1="263.0" x2="0" y2="507.0"><stop offset=".000" stop-color="#96ff69"/><stop offset=".049" stop-color="#a1ff5e"/><stop offset=".190" stop-color="#ffff00"/><stop offset=".193" stop-color="#fffe00"/><stop offset=".377" stop-color="#ffcf00"/><stop offset=".561" stop-color="#ff1700"/><stop offset=".633" stop-color="#ff0000"/><stop offset=".766" stop-color="#e50000"/><stop offset="1.000" stop-color="#d10000"/></linearGradient><linearGradient id="s76" gradientUnits="userSpaceOnUse" x1="0" y1="263.0" x2="0" y2="507.0"><stop offset=".000" stop-color="#9aff65"/><stop offset=".049" stop-color="#a4ff5b"/><stop offset=".186" stop-color="#ffff00"/><stop offset=".193" stop-color="#fffc00"/><stop offset=".357" stop-color="#ffc100"/><stop offset=".561" stop-color="#ff1400"/><stop offset=".633" stop-color="#ff0000"/><stop offset=".766" stop-color="#e50000"/><stop offset="1.000" stop-color="#d10000"/></linearGradient><linearGradient id="s77" gradientUnits="userSpaceOnUse" x1="0" y1="264.0" x2="0" y2="498.0"><stop offset=".000" stop-color="#9dff62"/><stop offset=".186" stop-color="#ffff00"/><stop offset=".368" stop-color="#ffaa00"/><stop offset=".496" stop-color="#ff3100"/><stop offset=".656" stop-color="#ff0000"/><stop offset=".795" stop-color="#e50000"/><stop offset="1.000" stop-color="#d40000"/></linearGradient><linearGradient id="s78" gradientUnits="userSpaceOnUse" x1="0" y1="265.0" x2="0" y2="482.0"><stop offset=".000" stop-color="#9dff62"/><stop offset=".202" stop-color="#ffff00"/><stop offset=".332" stop-color="#ffcb00"/><stop offset=".530" stop-color="#ff1e00"/><stop offset=".686" stop-color="#ff0000"/><stop offset="1.000" stop-color="#da0000"/></linearGradient><linearGradient id="s79" gradientUnits="userSpaceOnUse" x1="0" y1="265.0" x2="0" y2="478.0"><stop offset=".000" stop-color="#9aff65"/><stop offset=".229" stop-color="#ffff00"/><stop offset=".338" stop-color="#ffdd00"/><stop offset=".376" stop-color="#ffc100"/><stop offset=".432" stop-color="#ff6a00"/><stop offset=".493" stop-color="#ff2c00"/><stop offset=".540" stop-color="#ff1400"/><stop offset=".660" stop-color="#ff0000"/><stop offset="1.000" stop-color="#db0000"/></linearGradient><linearGradient id="s80" gradientUnits="userSpaceOnUse" x1="0" y1="266.0" x2="0" y2="478.0"><stop offset=".000" stop-color="#97ff68"/><stop offset=".184" stop-color="#ebff14"/><stop offset=".267" stop-color="#ffff00"/><stop offset=".335" stop-color="#fff000"/><stop offset=".373" stop-color="#ffcf00"/><stop offset=".429" stop-color="#ff5a00"/><stop offset=".491" stop-color="#ff1700"/><stop offset=".606" stop-color="#ff0000"/><stop offset="1.000" stop-color="#db0000"/></linearGradient><linearGradient id="s81" gradientUnits="userSpaceOnUse" x1="0" y1="266.0" x2="0" y2="443.0"><stop offset=".000" stop-color="#95ff6a"/><stop offset=".220" stop-color="#e5ff1a"/><stop offset=".401" stop-color="#ffff00"/><stop offset=".401" stop-color="#ffff00"/><stop offset=".446" stop-color="#ffda00"/><stop offset=".514" stop-color="#ff4900"/><stop offset=".588" stop-color="#ff0100"/><stop offset=".592" stop-color="#ff0000"/><stop offset="1.000" stop-color="#e70000"/></linearGradient><linearGradient id="s82" gradientUnits="userSpaceOnUse" x1="0" y1="255.0" x2="0" y2="426.0"><stop offset=".000" stop-color="#94ff6b"/><stop offset=".481" stop-color="#ffff00"/><stop offset=".503" stop-color="#fff500"/><stop offset=".526" stop-color="#ffd500"/><stop offset=".614" stop-color="#ff1700"/><stop offset=".641" stop-color="#ff0000"/><stop offset=".673" stop-color="#e40000"/><stop offset="1.000" stop-color="#e20000"/></linearGradient><linearGradient id="s83" gradientUnits="userSpaceOnUse" x1="0" y1="256.0" x2="0" y2="412.0"><stop offset=".000" stop-color="#94ff6b"/><stop offset=".527" stop-color="#ffff00"/><stop offset=".545" stop-color="#fffc00"/><stop offset=".662" stop-color="#ff0000"/><stop offset=".667" stop-color="#f60000"/><stop offset=".744" stop-color="#c20000"/><stop offset="1.000" stop-color="#d30000"/></linearGradient><linearGradient id="s84" gradientUnits="userSpaceOnUse" x1="0" y1="256.0" x2="0" y2="373.0"><stop offset=".000" stop-color="#96ff69"/><stop offset=".521" stop-color="#edff12"/><stop offset=".570" stop-color="#ffff00"/><stop offset=".726" stop-color="#ffca00"/><stop offset=".862" stop-color="#ff0000"/><stop offset=".889" stop-color="#d80000"/><stop offset="1.000" stop-color="#b10000"/></linearGradient><linearGradient id="s85" gradientUnits="userSpaceOnUse" x1="0" y1="256.0" x2="0" y2="362.0"><stop offset=".000" stop-color="#9aff65"/><stop offset=".575" stop-color="#f7ff08"/><stop offset=".587" stop-color="#ffff00"/><stop offset=".904" stop-color="#ff0000"/><stop offset="1.000" stop-color="#bb0000"/></linearGradient><linearGradient id="s86" gradientUnits="userSpaceOnUse" x1="0" y1="256.0" x2="0" y2="361.0"><stop offset=".000" stop-color="#9fff60"/><stop offset=".560" stop-color="#ffff00"/><stop offset=".581" stop-color="#fff800"/><stop offset=".752" stop-color="#ff3100"/><stop offset=".812" stop-color="#ff0000"/><stop offset=".848" stop-color="#e20000"/><stop offset="1.000" stop-color="#a90000"/></linearGradient><linearGradient id="s87" gradientUnits="userSpaceOnUse" x1="0" y1="256.0" x2="0" y2="361.0"><stop offset=".000" stop-color="#a8ff57"/><stop offset=".505" stop-color="#f6ff09"/><stop offset=".519" stop-color="#ffff00"/><stop offset=".581" stop-color="#ffd000"/><stop offset=".705" stop-color="#ff3700"/><stop offset=".763" stop-color="#ff0000"/><stop offset=".790" stop-color="#eb0000"/><stop offset="1.000" stop-color="#ad0000"/></linearGradient><linearGradient id="s88" gradientUnits="userSpaceOnUse" x1="0" y1="256.0" x2="0" y2="361.0"><stop offset=".000" stop-color="#b0ff4f"/><stop offset=".505" stop-color="#fcff03"/><stop offset=".508" stop-color="#ffff00"/><stop offset=".705" stop-color="#ff0100"/><stop offset=".707" stop-color="#ff0000"/><stop offset=".752" stop-color="#de0000"/><stop offset=".790" stop-color="#c50000"/><stop offset="1.000" stop-color="#b10000"/></linearGradient><linearGradient id="s89" gradientUnits="userSpaceOnUse" x1="0" y1="256.0" x2="0" y2="340.0"><stop offset=".000" stop-color="#b5ff4a"/><stop offset=".600" stop-color="#ffff00"/><stop offset=".631" stop-color="#fff700"/><stop offset=".846" stop-color="#ff0000"/><stop offset=".869" stop-color="#e90000"/><stop offset="1.000" stop-color="#b40000"/></linearGradient><linearGradient id="s90" gradientUnits="userSpaceOnUse" x1="0" y1="256.0" x2="0" y2="340.0"><stop offset=".000" stop-color="#b8ff47"/><stop offset=".571" stop-color="#faff05"/><stop offset=".582" stop-color="#ffff00"/><stop offset=".631" stop-color="#ffe600"/><stop offset=".829" stop-color="#ff0000"/><stop offset=".869" stop-color="#da0000"/><stop offset="1.000" stop-color="#b70000"/></linearGradient><linearGradient id="s91" gradientUnits="userSpaceOnUse" x1="0" y1="256.0" x2="0" y2="330.0"><stop offset=".000" stop-color="#bbff44"/><stop offset=".649" stop-color="#fdff02"/><stop offset=".652" stop-color="#ffff00"/><stop offset=".743" stop-color="#ffbf00"/><stop offset=".838" stop-color="#ff4b00"/><stop offset=".920" stop-color="#ff0000"/><stop offset="1.000" stop-color="#c70000"/></linearGradient><linearGradient id="s92" gradientUnits="userSpaceOnUse" x1="0" y1="256.0" x2="0" y2="330.0"><stop offset=".000" stop-color="#bdff42"/><stop offset=".625" stop-color="#ffff00"/><stop offset=".649" stop-color="#fffb00"/><stop offset=".743" stop-color="#ffae00"/><stop offset=".838" stop-color="#ff3500"/><stop offset=".902" stop-color="#ff0000"/><stop offset="1.000" stop-color="#be0000"/></linearGradient><linearGradient id="s93" gradientUnits="userSpaceOnUse" x1="0" y1="256.0" x2="0" y2="330.0"><stop offset=".000" stop-color="#bdff42"/><stop offset=".527" stop-color="#f3ff0c"/><stop offset=".570" stop-color="#ffff00"/><stop offset=".635" stop-color="#ffea00"/><stop offset=".743" stop-color="#ff9100"/><stop offset=".838" stop-color="#ff2300"/><stop offset=".891" stop-color="#ff0000"/><stop offset="1.000" stop-color="#c90000"/></linearGradient><linearGradient id="s94" gradientUnits="userSpaceOnUse" x1="0" y1="256.0" x2="0" y2="330.0"><stop offset=".000" stop-color="#bdff42"/><stop offset=".541" stop-color="#f9ff06"/><stop offset=".553" stop-color="#ffff00"/><stop offset=".649" stop-color="#ffce00"/><stop offset=".851" stop-color="#ff0800"/><stop offset=".868" stop-color="#ff0000"/><stop offset="1.000" stop-color="#d30000"/></linearGradient><linearGradient id="s95" gradientUnits="userSpaceOnUse" x1="0" y1="256.0" x2="0" y2="330.0"><stop offset=".000" stop-color="#bdff42"/><stop offset=".541" stop-color="#fcff03"/><stop offset=".545" stop-color="#ffff00"/><stop offset=".635" stop-color="#ffc300"/><stop offset=".837" stop-color="#ff0000"/><stop offset=".838" stop-color="#ff0000"/><stop offset="1.000" stop-color="#dd0000"/></linearGradient><linearGradient id="s96" gradientUnits="userSpaceOnUse" x1="0" y1="256.0" x2="0" y2="320.0"><stop offset=".000" stop-color="#bdff42"/><stop offset=".625" stop-color="#ffff00"/><stop offset=".734" stop-color="#ffb300"/><stop offset=".922" stop-color="#ff0500"/><stop offset=".934" stop-color="#ff0000"/><stop offset="1.000" stop-color="#e50000"/></linearGradient><linearGradient id="s97" gradientUnits="userSpaceOnUse" x1="0" y1="256.0" x2="0" y2="320.0"><stop offset=".000" stop-color="#bdff42"/><stop offset=".625" stop-color="#ffff00"/><stop offset=".734" stop-color="#ffb300"/><stop offset=".922" stop-color="#ff0500"/><stop offset=".934" stop-color="#ff0000"/><stop offset="1.000" stop-color="#e50000"/></linearGradient><linearGradient id="s98" gradientUnits="userSpaceOnUse" x1="0" y1="256.0" x2="0" y2="320.0"><stop offset=".000" stop-color="#bdff42"/><stop offset=".625" stop-color="#ffff00"/><stop offset=".734" stop-color="#ffb300"/><stop offset=".922" stop-color="#ff0500"/><stop offset=".934" stop-color="#ff0000"/><stop offset="1.000" stop-color="#e50000"/></linearGradient></defs><rect x="986.0" y="251.0" width="3.5" height="40.0" fill="url(#s0)"/><rect x="989.0" y="251.0" width="3.5" height="160.0" fill="url(#s1)"/><rect x="992.0" y="251.0" width="3.5" height="160.0" fill="url(#s2)"/><rect x="995.0" y="260.0" width="3.5" height="161.0" fill="url(#s3)"/><rect x="998.0" y="260.0" width="3.5" height="178.0" fill="url(#s4)"/><rect x="1001.0" y="260.0" width="3.5" height="192.0" fill="url(#s5)"/><rect x="1004.0" y="259.0" width="3.5" height="193.0" fill="url(#s6)"/><rect x="1007.0" y="259.0" width="3.5" height="172.0" fill="url(#s7)"/><rect x="1010.0" y="259.0" width="3.5" height="171.0" fill="url(#s8)"/><rect x="1013.0" y="259.0" width="3.5" height="192.0" fill="url(#s9)"/><rect x="1016.0" y="258.0" width="3.5" height="213.0" fill="url(#s10)"/><rect x="1019.0" y="258.0" width="3.5" height="224.0" fill="url(#s11)"/><rect x="1022.0" y="258.0" width="3.5" height="255.0" fill="url(#s12)"/><rect x="1025.0" y="257.0" width="3.5" height="256.0" fill="url(#s13)"/><rect x="1028.0" y="257.0" width="3.5" height="256.0" fill="url(#s14)"/><rect x="1031.0" y="257.0" width="3.5" height="266.0" fill="url(#s15)"/><rect x="1034.0" y="257.0" width="3.5" height="266.0" fill="url(#s16)"/><rect x="1037.0" y="256.0" width="3.5" height="288.0" fill="url(#s17)"/><rect x="1040.0" y="256.0" width="3.5" height="329.0" fill="url(#s18)"/><rect x="1043.0" y="256.0" width="3.5" height="329.0" fill="url(#s19)"/><rect x="1046.0" y="256.0" width="3.5" height="329.0" fill="url(#s20)"/><rect x="1049.0" y="256.0" width="3.5" height="282.0" fill="url(#s21)"/><rect x="1052.0" y="256.0" width="3.5" height="276.0" fill="url(#s22)"/><rect x="1055.0" y="256.0" width="3.5" height="276.0" fill="url(#s23)"/><rect x="1058.0" y="256.0" width="3.5" height="276.0" fill="url(#s24)"/><rect x="1061.0" y="256.0" width="3.5" height="298.0" fill="url(#s25)"/><rect x="1064.0" y="256.0" width="3.5" height="297.0" fill="url(#s26)"/><rect x="1067.0" y="256.0" width="3.5" height="297.0" fill="url(#s27)"/><rect x="1070.0" y="256.0" width="3.5" height="297.0" fill="url(#s28)"/><rect x="1073.0" y="256.0" width="3.5" height="276.0" fill="url(#s29)"/><rect x="1076.0" y="255.0" width="3.5" height="276.0" fill="url(#s30)"/><rect x="1079.0" y="255.0" width="3.5" height="202.0" fill="url(#s31)"/><rect x="1082.0" y="255.0" width="3.5" height="202.0" fill="url(#s32)"/><rect x="1085.0" y="255.0" width="3.5" height="255.0" fill="url(#s33)"/><rect x="1088.0" y="255.0" width="3.5" height="255.0" fill="url(#s34)"/><rect x="1091.0" y="255.0" width="3.5" height="255.0" fill="url(#s35)"/><rect x="1094.0" y="255.0" width="3.5" height="255.0" fill="url(#s36)"/><rect x="1097.0" y="255.0" width="3.5" height="255.0" fill="url(#s37)"/><rect x="1100.0" y="255.0" width="3.5" height="245.0" fill="url(#s38)"/><rect x="1103.0" y="255.0" width="3.5" height="245.0" fill="url(#s39)"/><rect x="1106.0" y="255.0" width="3.5" height="245.0" fill="url(#s40)"/><rect x="1109.0" y="255.0" width="3.5" height="245.0" fill="url(#s41)"/><rect x="1112.0" y="255.0" width="3.5" height="241.0" fill="url(#s42)"/><rect x="1115.0" y="246.0" width="3.5" height="213.0" fill="url(#s43)"/><rect x="1118.0" y="246.0" width="3.5" height="212.0" fill="url(#s44)"/><rect x="1121.0" y="256.0" width="3.5" height="202.0" fill="url(#s45)"/><rect x="1124.0" y="256.0" width="3.5" height="149.0" fill="url(#s46)"/><rect x="1127.0" y="256.0" width="3.5" height="150.0" fill="url(#s47)"/><rect x="1130.0" y="246.0" width="3.5" height="160.0" fill="url(#s48)"/><rect x="1133.0" y="247.0" width="3.5" height="159.0" fill="url(#s49)"/><rect x="1136.0" y="247.0" width="3.5" height="163.0" fill="url(#s50)"/><rect x="1139.0" y="248.0" width="3.5" height="204.0" fill="url(#s51)"/><rect x="1142.0" y="248.0" width="3.5" height="212.0" fill="url(#s52)"/><rect x="1145.0" y="248.0" width="3.5" height="202.0" fill="url(#s53)"/><rect x="1148.0" y="248.0" width="3.5" height="202.0" fill="url(#s54)"/><rect x="1151.0" y="257.0" width="3.5" height="202.0" fill="url(#s55)"/><rect x="1154.0" y="257.0" width="3.5" height="202.0" fill="url(#s56)"/><rect x="1157.0" y="256.0" width="3.5" height="203.0" fill="url(#s57)"/><rect x="1160.0" y="256.0" width="3.5" height="202.0" fill="url(#s58)"/><rect x="1163.0" y="255.0" width="3.5" height="203.0" fill="url(#s59)"/><rect x="1166.0" y="256.0" width="3.5" height="202.0" fill="url(#s60)"/><rect x="1169.0" y="256.0" width="3.5" height="202.0" fill="url(#s61)"/><rect x="1172.0" y="256.0" width="3.5" height="181.0" fill="url(#s62)"/><rect x="1175.0" y="256.0" width="3.5" height="181.0" fill="url(#s63)"/><rect x="1178.0" y="256.0" width="3.5" height="181.0" fill="url(#s64)"/><rect x="1181.0" y="256.0" width="3.5" height="150.0" fill="url(#s65)"/><rect x="1184.0" y="256.0" width="3.5" height="151.0" fill="url(#s66)"/><rect x="1187.0" y="256.0" width="3.5" height="151.0" fill="url(#s67)"/><rect x="1190.0" y="257.0" width="3.5" height="182.0" fill="url(#s68)"/><rect x="1193.0" y="259.0" width="3.5" height="181.0" fill="url(#s69)"/><rect x="1196.0" y="260.0" width="3.5" height="211.0" fill="url(#s70)"/><rect x="1199.0" y="260.0" width="3.5" height="256.0" fill="url(#s71)"/><rect x="1202.0" y="261.0" width="3.5" height="255.0" fill="url(#s72)"/><rect x="1205.0" y="262.0" width="3.5" height="255.0" fill="url(#s73)"/><rect x="1208.0" y="262.0" width="3.5" height="245.0" fill="url(#s74)"/><rect x="1211.0" y="263.0" width="3.5" height="244.0" fill="url(#s75)"/><rect x="1214.0" y="263.0" width="3.5" height="244.0" fill="url(#s76)"/><rect x="1217.0" y="264.0" width="3.5" height="234.0" fill="url(#s77)"/><rect x="1220.0" y="265.0" width="3.5" height="217.0" fill="url(#s78)"/><rect x="1223.0" y="265.0" width="3.5" height="213.0" fill="url(#s79)"/><rect x="1226.0" y="266.0" width="3.5" height="212.0" fill="url(#s80)"/><rect x="1229.0" y="266.0" width="3.5" height="177.0" fill="url(#s81)"/><rect x="1232.0" y="255.0" width="3.5" height="171.0" fill="url(#s82)"/><rect x="1235.0" y="256.0" width="3.5" height="156.0" fill="url(#s83)"/><rect x="1238.0" y="256.0" width="3.5" height="117.0" fill="url(#s84)"/><rect x="1241.0" y="256.0" width="3.5" height="106.0" fill="url(#s85)"/><rect x="1244.0" y="256.0" width="3.5" height="105.0" fill="url(#s86)"/><rect x="1247.0" y="256.0" width="3.5" height="105.0" fill="url(#s87)"/><rect x="1250.0" y="256.0" width="3.5" height="105.0" fill="url(#s88)"/><rect x="1253.0" y="256.0" width="3.5" height="84.0" fill="url(#s89)"/><rect x="1256.0" y="256.0" width="3.5" height="84.0" fill="url(#s90)"/><rect x="1259.0" y="256.0" width="3.5" height="74.0" fill="url(#s91)"/><rect x="1262.0" y="256.0" width="3.5" height="74.0" fill="url(#s92)"/><rect x="1265.0" y="256.0" width="3.5" height="74.0" fill="url(#s93)"/><rect x="1268.0" y="256.0" width="3.5" height="74.0" fill="url(#s94)"/><rect x="1271.0" y="256.0" width="3.5" height="74.0" fill="url(#s95)"/><rect x="1274.0" y="256.0" width="3.5" height="64.0" fill="url(#s96)"/><rect x="1277.0" y="256.0" width="3.5" height="64.0" fill="url(#s97)"/><rect x="1280.0" y="256.0" width="3.5" height="64.0" fill="url(#s98)"/>
</g>
<g stroke="#000" stroke-width="2" fill="none">
<path d="M986 245.2V632L1263 663L1279.5 638" stroke-linejoin="miter"/>
<path d="M986 245.2l-7 0l-3 -1M986 351l-7 0l-3 -1M986 456.8l-7 0l-3 -1M986 562.6l-7 0l-3 -1M991.3 632.6l-4.6 7.6M1133.6 648.5l-4.6 7.6M1264.8 662.2h9 M1278.3 642.8h8.5" stroke-width="1.5"/>
</g>
<g stroke="#000" stroke-width="1.8" fill="none">
<rect x="975.9" y="235.9" width="20.2" height="20.2"/>
<rect x="975.9" y="447.5" width="20.2" height="20.2"/>
<path d="M1225.2 251.3V461.8" stroke-width="1.8"/>
<circle cx="1225.2" cy="251.3" r="11.6"/>
<path d="M1218.6 452.3A11.6 11.6 0 1 0 1229.6 451.1"/>
</g>
<text x="963" y="259.8" text-anchor="end" font-size="41.7">0</text>
<text x="963" y="365.6" text-anchor="end" font-size="41.7">10</text>
<text x="963" y="471.4" text-anchor="end" font-size="41.7">20</text>
<text x="963" y="577.2" text-anchor="end" font-size="41.7">30</text>
<text x="979.2" y="690.5" text-anchor="end" font-size="41.7">38.5</text>
<text x="1098.3" y="706.4" text-anchor="middle" font-size="41.7">38</text>
<text x="1297.2" y="684.8" text-anchor="start" font-size="41.7">76.2</text>
<text x="1285" y="703.8" text-anchor="start" font-size="41.7">76.4</text>
<text x="984" y="732.4" text-anchor="start" font-size="40.9">Latitude</text>
<text x="1327.5" y="732.7" text-anchor="start" font-size="40.9">Longitude</text>
<text transform="translate(886.7 531) rotate(-90)" text-anchor="start" font-size="40.7">Depth (m)</text>
<g shape-rendering="crispEdges">
<rect x="1364.7" y="648.8" width="44.7" height="7.4" fill="#000087"/>
<rect x="1364.7" y="642" width="44.7" height="7.4" fill="#000097"/>
<rect x="1364.7" y="635.2" width="44.7" height="7.4" fill="#0000a7"/>
<rect x="1364.7" y="628.4" width="44.7" height="7.4" fill="#0000b7"/>
<rect x="1364.7" y="621.5" width="44.7" height="7.4" fill="#0000c7"/>
<rect x="1364.7" y="614.7" width="44.7" height="7.4" fill="#0000d7"/>
<rect x="1364.7" y="607.9" width="44.7" height="7.4" fill="#0000e7"/>
<rect x="1364.7" y="601.1" width="44.7" height="7.4" fill="#0000f7"/>
<rect x="1364.7" y="594.3" width="44.7" height="7.4" fill="#0008ff"/>
<rect x="1364.7" y="587.5" width="44.7" height="7.4" fill="#0018ff"/>
<rect x="1364.7" y="580.7" width="44.7" height="7.4" fill="#0028ff"/>
<rect x="1364.7" y="573.9" width="44.7" height="7.4" fill="#0038ff"/>
<rect x="1364.7" y="567.1" width="44.7" height="7.4" fill="#0048ff"/>
<rect x="1364.7" y="560.2" width="44.7" height="7.4" fill="#0058ff"/>
<rect x="1364.7" y="553.4" width="44.7" height="7.4" fill="#0068ff"/>
<rect x="1364.7" y="546.6" width="44.7" height="7.4" fill="#0078ff"/>
<rect x="1364.7" y="539.8" width="44.7" height="7.4" fill="#0087ff"/>
<rect x="1364.7" y="533" width="44.7" height="7.4" fill="#0097ff"/>
<rect x="1364.7" y="526.2" width="44.7" height="7.4" fill="#00a7ff"/>
<rect x="1364.7" y="519.4" width="44.7" height="7.4" fill="#00b7ff"/>
<rect x="1364.7" y="512.6" width="44.7" height="7.4" fill="#00c7ff"/>
<rect x="1364.7" y="505.8" width="44.7" height="7.4" fill="#00d7ff"/>
<rect x="1364.7" y="498.9" width="44.7" height="7.4" fill="#00e7ff"/>
<rect x="1364.7" y="492.1" width="44.7" height="7.4" fill="#00f7ff"/>
<rect x="1364.7" y="485.3" width="44.7" height="7.4" fill="#08fff7"/>
<rect x="1364.7" y="478.5" width="44.7" height="7.4" fill="#18ffe7"/>
<rect x="1364.7" y="471.7" width="44.7" height="7.4" fill="#28ffd7"/>
<rect x="1364.7" y="464.9" width="44.7" height="7.4" fill="#38ffc7"/>
<rect x="1364.7" y="458.1" width="44.7" height="7.4" fill="#48ffb7"/>
<rect x="1364.7" y="451.3" width="44.7" height="7.4" fill="#58ffa7"/>
<rect x="1364.7" y="444.5" width="44.7" height="7.4" fill="#68ff97"/>
<rect x="1364.7" y="437.6" width="44.7" height="7.4" fill="#78ff87"/>
<rect x="1364.7" y="430.8" width="44.7" height="7.4" fill="#87ff78"/>
<rect x="1364.7" y="424" width="44.7" height="7.4" fill="#97ff68"/>
<rect x="1364.7" y="417.2" width="44.7" height="7.4" fill="#a7ff58"/>
<rect x="1364.7" y="410.4" width="44.7" height="7.4" fill="#b7ff48"/>
<rect x="1364.7" y="403.6" width="44.7" height="7.4" fill="#c7ff38"/>
<rect x="1364.7" y="396.8" width="44.7" height="7.4" fill="#d7ff28"/>
<rect x="1364.7" y="390" width="44.7" height="7.4" fill="#e7ff18"/>
<rect x="1364.7" y="383.2" width="44.7" height="7.4" fill="#f7ff08"/>
<rect x="1364.7" y="376.4" width="44.7" height="7.4" fill="#fff700"/>
<rect x="1364.7" y="369.5" width="44.7" height="7.4" fill="#ffe700"/>
<rect x="1364.7" y="362.7" width="44.7" height="7.4" fill="#ffd700"/>
<rect x="1364.7" y="355.9" width="44.7" height="7.4" fill="#ffc700"/>
<rect x="1364.7" y="349.1" width="44.7" height="7.4" fill="#ffb700"/>
<rect x="1364.7" y="342.3" width="44.7" height="7.4" fill="#ffa700"/>
<rect x="1364.7" y="335.5" width="44.7" height="7.4" fill="#ff9700"/>
<rect x="1364.7" y="328.7" width="44.7" height="7.4" fill="#ff8700"/>
<rect x="1364.7" y="321.9" width="44.7" height="7.4" fill="#ff7800"/>
<rect x="1364.7" y="315.1" width="44.7" height="7.4" fill="#ff6800"/>
<rect x="1364.7" y="308.2" width="44.7" height="7.4" fill="#ff5800"/>
<rect x="1364.7" y="301.4" width="44.7" height="7.4" fill="#ff4800"/>
<rect x="1364.7" y="294.6" width="44.7" height="7.4" fill="#ff3800"/>
<rect x="1364.7" y="287.8" width="44.7" height="7.4" fill="#ff2800"/>
<rect x="1364.7" y="281" width="44.7" height="7.4" fill="#ff1800"/>
<rect x="1364.7" y="274.2" width="44.7" height="7.4" fill="#ff0800"/>
<rect x="1364.7" y="267.4" width="44.7" height="7.4" fill="#f70000"/>
<rect x="1364.7" y="260.6" width="44.7" height="7.4" fill="#e70000"/>
<rect x="1364.7" y="253.8" width="44.7" height="7.4" fill="#d70000"/>
<rect x="1364.7" y="246.9" width="44.7" height="7.4" fill="#c70000"/>
<rect x="1364.7" y="240.1" width="44.7" height="7.4" fill="#b70000"/>
<rect x="1364.7" y="233.3" width="44.7" height="7.4" fill="#a70000"/>
<rect x="1364.7" y="226.5" width="44.7" height="7.4" fill="#970000"/>
<rect x="1364.7" y="219.7" width="44.7" height="7.4" fill="#870000"/>
</g>
<rect x="1364.7" y="219.7" width="44.7" height="435.9" fill="none" stroke="#000" stroke-width="1.8"/>
<text x="1420" y="671.6" text-anchor="start" font-size="41.7">10</text>
<text x="1420" y="526.3" text-anchor="start" font-size="41.7">15</text>
<text x="1420" y="381" text-anchor="start" font-size="41.7">20</text>
<text x="1420" y="235.7" text-anchor="start" font-size="41.7">25</text>
<path d="M1364.7 510.3h4.8M1409.4 510.3h-4.8M1364.7 365h4.8M1409.4 365h-4.8" stroke="#000" stroke-width="1.5" fill="none"/>
<text transform="translate(1527 505) rotate(-90)" text-anchor="start" font-size="40.4">Salinity</text>
</g>
<g transform="translate(674 853)">
<path d="M1003 220.2L1280 251.2M986 245.2L1003 220.2M1003 326L1280 357M986 351L1003 326M1003 431.8L1280 462.8M986 456.8L1003 431.8M1003 537.6L1280 568.6M986 562.6L1003 537.6M1008.3 220.8L1008.3 607.6M991.3 632.6L1008.3 607.6M1150.6 236.7L1150.6 623.5M1133.6 648.5L1150.6 623.5M999.6 225.2L999.6 612M999.6 612L1276.6 643" stroke="#000" stroke-width="1.05" stroke-dasharray="1.05 3.95" fill="none"/>
<g clip-path="url(#sil)">
<defs><linearGradient id="f0" gradientUnits="userSpaceOnUse" x1="0" y1="251.0" x2="0" y2="291.0"><stop offset=".000" stop-color="#ff1a00"/><stop offset=".475" stop-color="#ff9e00"/><stop offset="1.000" stop-color="#fffd00"/></linearGradient><linearGradient id="f1" gradientUnits="userSpaceOnUse" x1="0" y1="251.0" x2="0" y2="411.0"><stop offset=".000" stop-color="#ffe500"/><stop offset=".067" stop-color="#ffff00"/><stop offset=".212" stop-color="#d8ff27"/><stop offset=".338" stop-color="#91ff6e"/><stop offset=".463" stop-color="#38ffc7"/><stop offset=".524" stop-color="#00ffff"/><stop offset=".619" stop-color="#009eff"/><stop offset=".713" stop-color="#0061ff"/><stop offset="1.000" stop-color="#0024ff"/></linearGradient><linearGradient id="f2" gradientUnits="userSpaceOnUse" x1="0" y1="251.0" x2="0" y2="411.0"><stop offset=".000" stop-color="#b4ff4b"/><stop offset=".212" stop-color="#b1ff4e"/><stop offset=".338" stop-color="#80ff80"/><stop offset=".522" stop-color="#00ffff"/><stop offset=".713" stop-color="#005fff"/><stop offset="1.000" stop-color="#0022ff"/></linearGradient><linearGradient id="f3" gradientUnits="userSpaceOnUse" x1="0" y1="260.0" x2="0" y2="421.0"><stop offset=".000" stop-color="#b8ff47"/><stop offset=".155" stop-color="#adff52"/><stop offset=".280" stop-color="#80ff80"/><stop offset=".404" stop-color="#2effd1"/><stop offset=".461" stop-color="#00ffff"/><stop offset=".559" stop-color="#009aff"/><stop offset=".652" stop-color="#005bff"/><stop offset=".776" stop-color="#0032ff"/><stop offset="1.000" stop-color="#0022ff"/></linearGradient><linearGradient id="f4" gradientUnits="userSpaceOnUse" x1="0" y1="260.0" x2="0" y2="438.0"><stop offset=".000" stop-color="#bcff43"/><stop offset=".140" stop-color="#a9ff56"/><stop offset=".253" stop-color="#80ff80"/><stop offset=".416" stop-color="#00ffff"/><stop offset=".421" stop-color="#00faff"/><stop offset=".562" stop-color="#0062ff"/><stop offset=".702" stop-color="#002fff"/><stop offset=".843" stop-color="#001bff"/><stop offset="1.000" stop-color="#0028ff"/></linearGradient><linearGradient id="f5" gradientUnits="userSpaceOnUse" x1="0" y1="260.0" x2="0" y2="452.0"><stop offset=".000" stop-color="#d0ff2f"/><stop offset=".130" stop-color="#afff50"/><stop offset=".234" stop-color="#75ff8a"/><stop offset=".339" stop-color="#28ffd7"/><stop offset=".380" stop-color="#00ffff"/><stop offset=".469" stop-color="#0093ff"/><stop offset=".547" stop-color="#0054ff"/><stop offset=".786" stop-color="#0016ff"/><stop offset="1.000" stop-color="#002eff"/></linearGradient><linearGradient id="f6" gradientUnits="userSpaceOnUse" x1="0" y1="259.0" x2="0" y2="452.0"><stop offset=".000" stop-color="#e7ff18"/><stop offset=".083" stop-color="#d5ff2a"/><stop offset=".187" stop-color="#94ff6b"/><stop offset=".342" stop-color="#20ffdf"/><stop offset=".376" stop-color="#00ffff"/><stop offset=".472" stop-color="#008eff"/><stop offset=".549" stop-color="#0050ff"/><stop offset=".788" stop-color="#0013ff"/><stop offset="1.000" stop-color="#002eff"/></linearGradient><linearGradient id="f7" gradientUnits="userSpaceOnUse" x1="0" y1="259.0" x2="0" y2="431.0"><stop offset=".000" stop-color="#f6ff09"/><stop offset=".093" stop-color="#e2ff1d"/><stop offset=".151" stop-color="#baff45"/><stop offset=".297" stop-color="#42ffbd"/><stop offset=".384" stop-color="#19ffe6"/><stop offset=".415" stop-color="#00ffff"/><stop offset=".616" stop-color="#004cff"/><stop offset=".733" stop-color="#0023ff"/><stop offset=".878" stop-color="#0010ff"/><stop offset="1.000" stop-color="#001fff"/></linearGradient><linearGradient id="f8" gradientUnits="userSpaceOnUse" x1="0" y1="259.0" x2="0" y2="430.0"><stop offset=".000" stop-color="#deff21"/><stop offset=".152" stop-color="#adff52"/><stop offset=".298" stop-color="#40ffbf"/><stop offset=".420" stop-color="#00ffff"/><stop offset=".474" stop-color="#00dfff"/><stop offset=".620" stop-color="#004dff"/><stop offset=".737" stop-color="#0020ff"/><stop offset=".889" stop-color="#000fff"/><stop offset="1.000" stop-color="#001eff"/></linearGradient><linearGradient id="f9" gradientUnits="userSpaceOnUse" x1="0" y1="259.0" x2="0" y2="451.0"><stop offset=".000" stop-color="#c6ff39"/><stop offset=".135" stop-color="#9fff60"/><stop offset=".266" stop-color="#3dffc2"/><stop offset=".378" stop-color="#00ffff"/><stop offset=".448" stop-color="#00ddff"/><stop offset=".490" stop-color="#0095ff"/><stop offset=".552" stop-color="#004dff"/><stop offset=".656" stop-color="#001cff"/><stop offset=".792" stop-color="#000fff"/><stop offset="1.000" stop-color="#002eff"/></linearGradient><linearGradient id="f10" gradientUnits="userSpaceOnUse" x1="0" y1="258.0" x2="0" y2="471.0"><stop offset=".000" stop-color="#b3ff4c"/><stop offset=".127" stop-color="#94ff6b"/><stop offset=".291" stop-color="#1dffe2"/><stop offset=".363" stop-color="#00ffff"/><stop offset=".408" stop-color="#00eeff"/><stop offset=".446" stop-color="#009bff"/><stop offset=".502" stop-color="#004bff"/><stop offset=".596" stop-color="#0019ff"/><stop offset=".718" stop-color="#000fff"/><stop offset="1.000" stop-color="#002eff"/></linearGradient><linearGradient id="f11" gradientUnits="userSpaceOnUse" x1="0" y1="258.0" x2="0" y2="482.0"><stop offset=".000" stop-color="#b6ff49"/><stop offset=".121" stop-color="#97ff68"/><stop offset=".254" stop-color="#33ffcc"/><stop offset=".335" stop-color="#2cffd3"/><stop offset=".372" stop-color="#00ffff"/><stop offset=".388" stop-color="#00e7ff"/><stop offset=".433" stop-color="#0079ff"/><stop offset=".478" stop-color="#0044ff"/><stop offset=".567" stop-color="#0019ff"/><stop offset=".683" stop-color="#000fff"/><stop offset="1.000" stop-color="#002eff"/></linearGradient><linearGradient id="f12" gradientUnits="userSpaceOnUse" x1="0" y1="258.0" x2="0" y2="513.0"><stop offset=".000" stop-color="#b9ff46"/><stop offset=".106" stop-color="#9bff64"/><stop offset=".224" stop-color="#3affc5"/><stop offset=".294" stop-color="#53ffac"/><stop offset=".322" stop-color="#1affe5"/><stop offset=".330" stop-color="#00ffff"/><stop offset=".380" stop-color="#0064ff"/><stop offset=".459" stop-color="#0022ff"/><stop offset=".600" stop-color="#000fff"/><stop offset=".753" stop-color="#002eff"/><stop offset="1.000" stop-color="#002eff"/></linearGradient><linearGradient id="f13" gradientUnits="userSpaceOnUse" x1="0" y1="257.0" x2="0" y2="513.0"><stop offset=".000" stop-color="#bcff43"/><stop offset=".109" stop-color="#9eff61"/><stop offset=".168" stop-color="#61ff9e"/><stop offset=".227" stop-color="#41ffbe"/><stop offset=".297" stop-color="#79ff86"/><stop offset=".324" stop-color="#2bffd4"/><stop offset=".334" stop-color="#00ffff"/><stop offset=".352" stop-color="#00b5ff"/><stop offset=".383" stop-color="#0050ff"/><stop offset=".461" stop-color="#001bff"/><stop offset=".602" stop-color="#000fff"/><stop offset=".754" stop-color="#002eff"/><stop offset="1.000" stop-color="#002eff"/></linearGradient><linearGradient id="f14" gradientUnits="userSpaceOnUse" x1="0" y1="257.0" x2="0" y2="513.0"><stop offset=".000" stop-color="#c0ff3f"/><stop offset=".109" stop-color="#9fff60"/><stop offset=".188" stop-color="#65ff9a"/><stop offset=".266" stop-color="#adff52"/><stop offset=".297" stop-color="#abff54"/><stop offset=".320" stop-color="#53ffac"/><stop offset=".335" stop-color="#00ffff"/><stop offset=".344" stop-color="#00c9ff"/><stop offset=".375" stop-color="#005dff"/><stop offset=".461" stop-color="#001aff"/><stop offset=".602" stop-color="#000fff"/><stop offset=".754" stop-color="#002eff"/><stop offset="1.000" stop-color="#002eff"/></linearGradient><linearGradient id="f15" gradientUnits="userSpaceOnUse" x1="0" y1="257.0" x2="0" y2="523.0"><stop offset=".000" stop-color="#c5ff3a"/><stop offset=".045" stop-color="#c2ff3d"/><stop offset=".180" stop-color="#77ff88"/><stop offset=".256" stop-color="#fbff04"/><stop offset=".286" stop-color="#e0ff1f"/><stop offset=".308" stop-color="#71ff8e"/><stop offset=".322" stop-color="#00ffff"/><stop offset=".331" stop-color="#00baff"/><stop offset=".361" stop-color="#0052ff"/><stop offset=".444" stop-color="#001aff"/><stop offset=".579" stop-color="#000fff"/><stop offset=".726" stop-color="#002eff"/><stop offset="1.000" stop-color="#002eff"/></linearGradient><linearGradient id="f16" gradientUnits="userSpaceOnUse" x1="0" y1="257.0" x2="0" y2="523.0"><stop offset=".000" stop-color="#c9ff36"/><stop offset=".105" stop-color="#a0ff5f"/><stop offset=".180" stop-color="#56ffa9"/><stop offset=".256" stop-color="#beff41"/><stop offset=".286" stop-color="#9bff64"/><stop offset=".308" stop-color="#39ffc6"/><stop offset=".316" stop-color="#00ffff"/><stop offset=".331" stop-color="#0096ff"/><stop offset=".361" stop-color="#0044ff"/><stop offset=".444" stop-color="#0017ff"/><stop offset="1.000" stop-color="#002dff"/></linearGradient><linearGradient id="f17" gradientUnits="userSpaceOnUse" x1="0" y1="256.0" x2="0" y2="544.0"><stop offset=".000" stop-color="#cdff32"/><stop offset=".101" stop-color="#9fff60"/><stop offset=".135" stop-color="#64ff9b"/><stop offset=".170" stop-color="#04fffb"/><stop offset=".173" stop-color="#00ffff"/><stop offset=".188" stop-color="#00edff"/><stop offset=".240" stop-color="#00f4ff"/><stop offset=".267" stop-color="#00deff"/><stop offset=".288" stop-color="#00acff"/><stop offset=".309" stop-color="#005dff"/><stop offset=".337" stop-color="#0034ff"/><stop offset=".413" stop-color="#0013ff"/><stop offset=".778" stop-color="#0014ff"/><stop offset="1.000" stop-color="#002cff"/></linearGradient><linearGradient id="f18" gradientUnits="userSpaceOnUse" x1="0" y1="256.0" x2="0" y2="585.0"><stop offset=".000" stop-color="#d3ff2c"/><stop offset=".088" stop-color="#9cff63"/><stop offset=".119" stop-color="#4affb5"/><stop offset=".134" stop-color="#00ffff"/><stop offset=".164" stop-color="#0080ff"/><stop offset=".210" stop-color="#004dff"/><stop offset=".271" stop-color="#002eff"/><stop offset=".362" stop-color="#0010ff"/><stop offset=".559" stop-color="#0005ff"/><stop offset=".681" stop-color="#0005ff"/><stop offset=".833" stop-color="#002eff"/><stop offset="1.000" stop-color="#0024ff"/></linearGradient><linearGradient id="f19" gradientUnits="userSpaceOnUse" x1="0" y1="256.0" x2="0" y2="585.0"><stop offset=".000" stop-color="#ddff22"/><stop offset=".058" stop-color="#beff41"/><stop offset=".088" stop-color="#92ff6d"/><stop offset=".119" stop-color="#3dffc2"/><stop offset=".132" stop-color="#00ffff"/><stop offset=".149" stop-color="#00abff"/><stop offset=".164" stop-color="#0080ff"/><stop offset=".240" stop-color="#003aff"/><stop offset=".362" stop-color="#0014ff"/><stop offset=".559" stop-color="#0005ff"/><stop offset=".681" stop-color="#0005ff"/><stop offset=".833" stop-color="#002eff"/><stop offset="1.000" stop-color="#0024ff"/></linearGradient><linearGradient id="f20" gradientUnits="userSpaceOnUse" x1="0" y1="256.0" x2="0" y2="585.0"><stop offset=".000" stop-color="#e1ff1e"/><stop offset=".058" stop-color="#c4ff3b"/><stop offset=".103" stop-color="#69ff96"/><stop offset=".131" stop-color="#06fff9"/><stop offset=".132" stop-color="#00ffff"/><stop offset=".149" stop-color="#00a3ff"/><stop offset=".179" stop-color="#0067ff"/><stop offset=".240" stop-color="#003aff"/><stop offset=".331" stop-color="#001aff"/><stop offset=".559" stop-color="#0005ff"/><stop offset=".681" stop-color="#0005ff"/><stop offset=".833" stop-color="#002eff"/><stop offset="1.000" stop-color="#0024ff"/></linearGradient><linearGradient id="f21" gradientUnits="userSpaceOnUse" x1="0" y1="256.0" x2="0" y2="538.0"><stop offset=".000" stop-color="#c9ff36"/><stop offset=".085" stop-color="#9aff65"/><stop offset=".121" stop-color="#5fffa0"/><stop offset=".156" stop-color="#00ffff"/><stop offset=".174" stop-color="#00bdff"/><stop offset=".245" stop-color="#0062ff"/><stop offset=".298" stop-color="#003cff"/><stop offset=".387" stop-color="#001dff"/><stop offset=".652" stop-color="#0005ff"/><stop offset=".794" stop-color="#0005ff"/><stop offset="1.000" stop-color="#002cff"/></linearGradient><linearGradient id="f22" gradientUnits="userSpaceOnUse" x1="0" y1="256.0" x2="0" y2="532.0"><stop offset=".000" stop-color="#b0ff4f"/><stop offset=".087" stop-color="#8eff71"/><stop offset=".123" stop-color="#55ffaa"/><stop offset=".162" stop-color="#00ffff"/><stop offset=".178" stop-color="#00d8ff"/><stop offset=".250" stop-color="#0074ff"/><stop offset=".304" stop-color="#0044ff"/><stop offset=".395" stop-color="#0020ff"/><stop offset=".812" stop-color="#0005ff"/><stop offset="1.000" stop-color="#002dff"/></linearGradient><linearGradient id="f23" gradientUnits="userSpaceOnUse" x1="0" y1="256.0" x2="0" y2="532.0"><stop offset=".000" stop-color="#98ff67"/><stop offset=".087" stop-color="#82ff7d"/><stop offset=".168" stop-color="#00ffff"/><stop offset=".250" stop-color="#0087ff"/><stop offset=".304" stop-color="#004bff"/><stop offset=".395" stop-color="#0023ff"/><stop offset=".812" stop-color="#0005ff"/><stop offset="1.000" stop-color="#002dff"/></linearGradient><linearGradient id="f24" gradientUnits="userSpaceOnUse" x1="0" y1="256.0" x2="0" y2="532.0"><stop offset=".000" stop-color="#7eff81"/><stop offset=".087" stop-color="#68ff97"/><stop offset=".167" stop-color="#00ffff"/><stop offset=".304" stop-color="#0052ff"/><stop offset=".395" stop-color="#0024ff"/><stop offset=".812" stop-color="#0005ff"/><stop offset="1.000" stop-color="#002dff"/></linearGradient><linearGradient id="f25" gradientUnits="userSpaceOnUse" x1="0" y1="256.0" x2="0" y2="554.0"><stop offset=".000" stop-color="#63ff9c"/><stop offset=".097" stop-color="#3fffc0"/><stop offset=".151" stop-color="#00ffff"/><stop offset=".282" stop-color="#0058ff"/><stop offset=".366" stop-color="#0024ff"/><stop offset=".752" stop-color="#0005ff"/><stop offset=".919" stop-color="#002eff"/><stop offset="1.000" stop-color="#0029ff"/></linearGradient><linearGradient id="f26" gradientUnits="userSpaceOnUse" x1="0" y1="256.0" x2="0" y2="553.0"><stop offset=".000" stop-color="#40ffbf"/><stop offset=".098" stop-color="#22ffdd"/><stop offset=".138" stop-color="#00ffff"/><stop offset=".300" stop-color="#004dff"/><stop offset=".367" stop-color="#0024ff"/><stop offset=".754" stop-color="#0005ff"/><stop offset=".923" stop-color="#002eff"/><stop offset="1.000" stop-color="#0029ff"/></linearGradient><linearGradient id="f27" gradientUnits="userSpaceOnUse" x1="0" y1="256.0" x2="0" y2="553.0"><stop offset=".000" stop-color="#00f6ff"/><stop offset=".131" stop-color="#00ceff"/><stop offset=".300" stop-color="#004dff"/><stop offset=".401" stop-color="#001bff"/><stop offset=".754" stop-color="#0005ff"/><stop offset=".923" stop-color="#002eff"/><stop offset="1.000" stop-color="#0029ff"/></linearGradient><linearGradient id="f28" gradientUnits="userSpaceOnUse" x1="0" y1="256.0" x2="0" y2="553.0"><stop offset=".000" stop-color="#00e0ff"/><stop offset=".131" stop-color="#00b9ff"/><stop offset=".300" stop-color="#0057ff"/><stop offset=".451" stop-color="#001bff"/><stop offset=".754" stop-color="#0005ff"/><stop offset=".923" stop-color="#002eff"/><stop offset="1.000" stop-color="#0029ff"/></linearGradient><linearGradient id="f29" gradientUnits="userSpaceOnUse" x1="0" y1="256.0" x2="0" y2="532.0"><stop offset=".000" stop-color="#00ffff"/><stop offset=".004" stop-color="#00ffff"/><stop offset=".250" stop-color="#0085ff"/><stop offset=".395" stop-color="#0063ff"/><stop offset=".486" stop-color="#0027ff"/><stop offset=".562" stop-color="#0014ff"/><stop offset=".812" stop-color="#0005ff"/><stop offset="1.000" stop-color="#002dff"/></linearGradient><linearGradient id="f30" gradientUnits="userSpaceOnUse" x1="0" y1="255.0" x2="0" y2="531.0"><stop offset=".000" stop-color="#1fffe0"/><stop offset=".070" stop-color="#00ffff"/><stop offset=".254" stop-color="#008fff"/><stop offset=".399" stop-color="#008bff"/><stop offset=".489" stop-color="#0032ff"/><stop offset=".565" stop-color="#0018ff"/><stop offset=".815" stop-color="#0005ff"/><stop offset="1.000" stop-color="#002eff"/></linearGradient><linearGradient id="f31" gradientUnits="userSpaceOnUse" x1="0" y1="255.0" x2="0" y2="457.0"><stop offset=".000" stop-color="#2affd5"/><stop offset=".108" stop-color="#00ffff"/><stop offset=".347" stop-color="#0092ff"/><stop offset=".545" stop-color="#008dff"/><stop offset=".668" stop-color="#0033ff"/><stop offset="1.000" stop-color="#0004ff"/></linearGradient><linearGradient id="f32" gradientUnits="userSpaceOnUse" x1="0" y1="255.0" x2="0" y2="457.0"><stop offset=".000" stop-color="#21ffde"/><stop offset=".077" stop-color="#00ffff"/><stop offset=".297" stop-color="#0099ff"/><stop offset=".545" stop-color="#006aff"/><stop offset=".668" stop-color="#0028ff"/><stop offset="1.000" stop-color="#0003ff"/></linearGradient><linearGradient id="f33" gradientUnits="userSpaceOnUse" x1="0" y1="255.0" x2="0" y2="510.0"><stop offset=".000" stop-color="#1fffe0"/><stop offset=".057" stop-color="#00ffff"/><stop offset=".549" stop-color="#0021ff"/><stop offset=".725" stop-color="#0000ff"/><stop offset="1.000" stop-color="#0005ff"/></linearGradient><linearGradient id="f34" gradientUnits="userSpaceOnUse" x1="0" y1="255.0" x2="0" y2="510.0"><stop offset=".000" stop-color="#3dffc2"/><stop offset=".235" stop-color="#00ffff"/><stop offset=".314" stop-color="#00ceff"/><stop offset=".431" stop-color="#00bfff"/><stop offset=".549" stop-color="#003eff"/><stop offset=".612" stop-color="#001dff"/><stop offset=".725" stop-color="#0000ff"/><stop offset="1.000" stop-color="#0005ff"/></linearGradient><linearGradient id="f35" gradientUnits="userSpaceOnUse" x1="0" y1="255.0" x2="0" y2="510.0"><stop offset=".000" stop-color="#53ffac"/><stop offset=".137" stop-color="#4dffb2"/><stop offset=".235" stop-color="#33ffcc"/><stop offset=".305" stop-color="#00ffff"/><stop offset=".314" stop-color="#00f8ff"/><stop offset=".368" stop-color="#00ffff"/><stop offset=".376" stop-color="#00ffff"/><stop offset=".431" stop-color="#00f3ff"/><stop offset=".549" stop-color="#0053ff"/><stop offset=".612" stop-color="#0024ff"/><stop offset=".725" stop-color="#0000ff"/><stop offset="1.000" stop-color="#0005ff"/></linearGradient><linearGradient id="f36" gradientUnits="userSpaceOnUse" x1="0" y1="255.0" x2="0" y2="510.0"><stop offset=".000" stop-color="#60ff9f"/><stop offset=".137" stop-color="#68ff97"/><stop offset=".314" stop-color="#0bfff4"/><stop offset=".391" stop-color="#00ffff"/><stop offset=".431" stop-color="#00faff"/><stop offset=".490" stop-color="#00c5ff"/><stop offset=".549" stop-color="#0060ff"/><stop offset=".612" stop-color="#0024ff"/><stop offset=".725" stop-color="#0000ff"/><stop offset="1.000" stop-color="#0005ff"/></linearGradient><linearGradient id="f37" gradientUnits="userSpaceOnUse" x1="0" y1="255.0" x2="0" y2="510.0"><stop offset=".000" stop-color="#68ff97"/><stop offset=".137" stop-color="#7aff85"/><stop offset=".353" stop-color="#04fffb"/><stop offset=".405" stop-color="#00ffff"/><stop offset=".431" stop-color="#00fdff"/><stop offset=".490" stop-color="#00d8ff"/><stop offset=".569" stop-color="#004cff"/><stop offset=".612" stop-color="#0024ff"/><stop offset=".725" stop-color="#0000ff"/><stop offset="1.000" stop-color="#0005ff"/></linearGradient><linearGradient id="f38" gradientUnits="userSpaceOnUse" x1="0" y1="255.0" x2="0" y2="500.0"><stop offset=".000" stop-color="#53ffac"/><stop offset=".143" stop-color="#57ffa8"/><stop offset=".360" stop-color="#00ffff"/><stop offset=".367" stop-color="#00fcff"/><stop offset=".449" stop-color="#00f1ff"/><stop offset=".510" stop-color="#00c4ff"/><stop offset=".551" stop-color="#007aff"/><stop offset=".637" stop-color="#0024ff"/><stop offset=".755" stop-color="#0000ff"/><stop offset="1.000" stop-color="#0005ff"/></linearGradient><linearGradient id="f39" gradientUnits="userSpaceOnUse" x1="0" y1="255.0" x2="0" y2="500.0"><stop offset=".000" stop-color="#3fffc0"/><stop offset=".143" stop-color="#33ffcc"/><stop offset=".330" stop-color="#00ffff"/><stop offset=".449" stop-color="#00e5ff"/><stop offset=".510" stop-color="#00afff"/><stop offset=".551" stop-color="#006cff"/><stop offset=".637" stop-color="#0024ff"/><stop offset=".755" stop-color="#0000ff"/><stop offset="1.000" stop-color="#0005ff"/></linearGradient><linearGradient id="f40" gradientUnits="userSpaceOnUse" x1="0" y1="255.0" x2="0" y2="500.0"><stop offset=".000" stop-color="#2bffd4"/><stop offset=".267" stop-color="#00ffff"/><stop offset=".449" stop-color="#00d7ff"/><stop offset=".612" stop-color="#002eff"/><stop offset=".755" stop-color="#0000ff"/><stop offset="1.000" stop-color="#0005ff"/></linearGradient><linearGradient id="f41" gradientUnits="userSpaceOnUse" x1="0" y1="255.0" x2="0" y2="500.0"><stop offset=".000" stop-color="#1bffe4"/><stop offset=".217" stop-color="#00ffff"/><stop offset=".367" stop-color="#00e0ff"/><stop offset=".449" stop-color="#00c0ff"/><stop offset=".612" stop-color="#0032ff"/><stop offset=".755" stop-color="#0000ff"/><stop offset="1.000" stop-color="#0005ff"/></linearGradient><linearGradient id="f42" gradientUnits="userSpaceOnUse" x1="0" y1="255.0" x2="0" y2="496.0"><stop offset=".000" stop-color="#0afff5"/><stop offset=".091" stop-color="#00ffff"/><stop offset=".249" stop-color="#00f5ff"/><stop offset=".373" stop-color="#00d2ff"/><stop offset=".622" stop-color="#0035ff"/><stop offset=".768" stop-color="#0000ff"/><stop offset="1.000" stop-color="#0005ff"/></linearGradient><linearGradient id="f43" gradientUnits="userSpaceOnUse" x1="0" y1="246.0" x2="0" y2="459.0"><stop offset=".000" stop-color="#00ffff"/><stop offset=".324" stop-color="#00eeff"/><stop offset=".465" stop-color="#00c7ff"/><stop offset=".746" stop-color="#0036ff"/><stop offset=".911" stop-color="#0002ff"/><stop offset="1.000" stop-color="#0004ff"/></linearGradient><linearGradient id="f44" gradientUnits="userSpaceOnUse" x1="0" y1="246.0" x2="0" y2="458.0"><stop offset=".000" stop-color="#00ffff"/><stop offset=".005" stop-color="#00ffff"/><stop offset=".467" stop-color="#00cbff"/><stop offset=".561" stop-color="#0098ff"/><stop offset=".656" stop-color="#0045ff"/><stop offset=".915" stop-color="#000bff"/><stop offset="1.000" stop-color="#000fff"/></linearGradient><linearGradient id="f45" gradientUnits="userSpaceOnUse" x1="0" y1="256.0" x2="0" y2="458.0"><stop offset=".000" stop-color="#00feff"/><stop offset=".441" stop-color="#00ceff"/><stop offset=".540" stop-color="#009bff"/><stop offset=".639" stop-color="#002dff"/><stop offset="1.000" stop-color="#001aff"/></linearGradient><linearGradient id="f46" gradientUnits="userSpaceOnUse" x1="0" y1="256.0" x2="0" y2="405.0"><stop offset=".000" stop-color="#00feff"/><stop offset=".329" stop-color="#00d2ff"/><stop offset=".597" stop-color="#00d4ff"/><stop offset=".732" stop-color="#0099ff"/><stop offset=".799" stop-color="#0049ff"/><stop offset=".866" stop-color="#0019ff"/><stop offset="1.000" stop-color="#0012ff"/></linearGradient><linearGradient id="f47" gradientUnits="userSpaceOnUse" x1="0" y1="256.0" x2="0" y2="406.0"><stop offset=".000" stop-color="#00f5ff"/><stop offset=".260" stop-color="#00d5ff"/><stop offset=".527" stop-color="#00f3ff"/><stop offset=".593" stop-color="#00e5ff"/><stop offset=".793" stop-color="#0036ff"/><stop offset=".860" stop-color="#0018ff"/><stop offset="1.000" stop-color="#0011ff"/></linearGradient><linearGradient id="f48" gradientUnits="userSpaceOnUse" x1="0" y1="246.0" x2="0" y2="406.0"><stop offset=".000" stop-color="#00f3ff"/><stop offset=".306" stop-color="#00ccff"/><stop offset=".504" stop-color="#00ffff"/><stop offset=".556" stop-color="#0dfff2"/><stop offset=".594" stop-color="#00ffff"/><stop offset=".619" stop-color="#00f6ff"/><stop offset=".806" stop-color="#0023ff"/><stop offset="1.000" stop-color="#0011ff"/></linearGradient><linearGradient id="f49" gradientUnits="userSpaceOnUse" x1="0" y1="247.0" x2="0" y2="406.0"><stop offset=".000" stop-color="#00f0ff"/><stop offset=".302" stop-color="#00d2ff"/><stop offset=".434" stop-color="#00ffff"/><stop offset=".553" stop-color="#22ffdd"/><stop offset=".616" stop-color="#05fffa"/><stop offset=".620" stop-color="#00ffff"/><stop offset=".742" stop-color="#004dff"/><stop offset=".805" stop-color="#001bff"/><stop offset="1.000" stop-color="#0011ff"/></linearGradient><linearGradient id="f50" gradientUnits="userSpaceOnUse" x1="0" y1="247.0" x2="0" y2="410.0"><stop offset=".000" stop-color="#00f0ff"/><stop offset=".294" stop-color="#00e9ff"/><stop offset=".349" stop-color="#00ffff"/><stop offset=".540" stop-color="#32ffcd"/><stop offset=".601" stop-color="#0efff1"/><stop offset=".612" stop-color="#00ffff"/><stop offset=".755" stop-color="#002aff"/><stop offset="1.000" stop-color="#0010ff"/></linearGradient><linearGradient id="f51" gradientUnits="userSpaceOnUse" x1="0" y1="248.0" x2="0" y2="452.0"><stop offset=".000" stop-color="#00f0ff"/><stop offset=".132" stop-color="#00eeff"/><stop offset=".223" stop-color="#00ffff"/><stop offset=".230" stop-color="#01fffe"/><stop offset=".377" stop-color="#48ffb7"/><stop offset=".451" stop-color="#3fffc0"/><stop offset=".490" stop-color="#00ffff"/><stop offset=".598" stop-color="#0025ff"/><stop offset=".799" stop-color="#000fff"/><stop offset="1.000" stop-color="#0022ff"/></linearGradient><linearGradient id="f52" gradientUnits="userSpaceOnUse" x1="0" y1="248.0" x2="0" y2="460.0"><stop offset=".000" stop-color="#00f7ff"/><stop offset=".127" stop-color="#00feff"/><stop offset=".129" stop-color="#00ffff"/><stop offset=".222" stop-color="#31ffce"/><stop offset=".269" stop-color="#67ff98"/><stop offset=".363" stop-color="#8dff72"/><stop offset=".434" stop-color="#67ff98"/><stop offset=".485" stop-color="#00ffff"/><stop offset=".505" stop-color="#00d1ff"/><stop offset=".538" stop-color="#0061ff"/><stop offset=".575" stop-color="#0027ff"/><stop offset=".769" stop-color="#000fff"/><stop offset="1.000" stop-color="#0024ff"/></linearGradient><linearGradient id="f53" gradientUnits="userSpaceOnUse" x1="0" y1="248.0" x2="0" y2="450.0"><stop offset=".000" stop-color="#01fffe"/><stop offset=".134" stop-color="#11ffee"/><stop offset=".233" stop-color="#65ff9a"/><stop offset=".282" stop-color="#bbff44"/><stop offset=".356" stop-color="#e3ff1c"/><stop offset=".431" stop-color="#c3ff3c"/><stop offset=".523" stop-color="#00ffff"/><stop offset=".530" stop-color="#00f0ff"/><stop offset=".564" stop-color="#0053ff"/><stop offset=".604" stop-color="#002bff"/><stop offset=".807" stop-color="#000fff"/><stop offset="1.000" stop-color="#0021ff"/></linearGradient><linearGradient id="f54" gradientUnits="userSpaceOnUse" x1="0" y1="248.0" x2="0" y2="450.0"><stop offset=".000" stop-color="#0dfff2"/><stop offset=".134" stop-color="#1affe5"/><stop offset=".233" stop-color="#80ff80"/><stop offset=".282" stop-color="#edff12"/><stop offset=".306" stop-color="#ffff00"/><stop offset=".356" stop-color="#ffd900"/><stop offset=".421" stop-color="#ffff00"/><stop offset=".431" stop-color="#f2ff0d"/><stop offset=".526" stop-color="#00ffff"/><stop offset=".530" stop-color="#00f5ff"/><stop offset=".564" stop-color="#0066ff"/><stop offset=".629" stop-color="#0025ff"/><stop offset=".807" stop-color="#0013ff"/><stop offset="1.000" stop-color="#0022ff"/></linearGradient><linearGradient id="f55" gradientUnits="userSpaceOnUse" x1="0" y1="257.0" x2="0" y2="459.0"><stop offset=".000" stop-color="#15ffea"/><stop offset=".089" stop-color="#17ffe8"/><stop offset=".139" stop-color="#45ffba"/><stop offset=".188" stop-color="#78ff87"/><stop offset=".238" stop-color="#f0ff0f"/><stop offset=".249" stop-color="#ffff00"/><stop offset=".312" stop-color="#ffb100"/><stop offset=".376" stop-color="#ffd500"/><stop offset=".390" stop-color="#ffff00"/><stop offset=".478" stop-color="#00ffff"/><stop offset=".510" stop-color="#00a9ff"/><stop offset=".584" stop-color="#003fff"/><stop offset=".762" stop-color="#001aff"/><stop offset="1.000" stop-color="#0024ff"/></linearGradient><linearGradient id="f56" gradientUnits="userSpaceOnUse" x1="0" y1="257.0" x2="0" y2="459.0"><stop offset=".000" stop-color="#00fcff"/><stop offset=".030" stop-color="#00ffff"/><stop offset=".139" stop-color="#1bffe4"/><stop offset=".188" stop-color="#4bffb4"/><stop offset=".213" stop-color="#6eff91"/><stop offset=".267" stop-color="#ffff00"/><stop offset=".297" stop-color="#ffb700"/><stop offset=".337" stop-color="#ff9400"/><stop offset=".376" stop-color="#ffb000"/><stop offset=".401" stop-color="#ffff00"/><stop offset=".436" stop-color="#7cff83"/><stop offset=".485" stop-color="#18ffe7"/><stop offset=".499" stop-color="#00ffff"/><stop offset=".584" stop-color="#006aff"/><stop offset=".634" stop-color="#0036ff"/><stop offset=".762" stop-color="#001aff"/><stop offset="1.000" stop-color="#0024ff"/></linearGradient><linearGradient id="f57" gradientUnits="userSpaceOnUse" x1="0" y1="256.0" x2="0" y2="459.0"><stop offset=".000" stop-color="#00e0ff"/><stop offset=".143" stop-color="#00f7ff"/><stop offset=".152" stop-color="#00ffff"/><stop offset=".217" stop-color="#37ffc8"/><stop offset=".295" stop-color="#ffff00"/><stop offset=".300" stop-color="#fff000"/><stop offset=".340" stop-color="#ffbf00"/><stop offset=".379" stop-color="#ffd400"/><stop offset=".395" stop-color="#ffff00"/><stop offset=".438" stop-color="#74ff8b"/><stop offset=".519" stop-color="#00ffff"/><stop offset=".635" stop-color="#0044ff"/><stop offset=".764" stop-color="#001fff"/><stop offset="1.000" stop-color="#0024ff"/></linearGradient><linearGradient id="f58" gradientUnits="userSpaceOnUse" x1="0" y1="256.0" x2="0" y2="458.0"><stop offset=".000" stop-color="#00c2ff"/><stop offset=".144" stop-color="#00deff"/><stop offset=".196" stop-color="#00ffff"/><stop offset=".218" stop-color="#0dfff2"/><stop offset=".317" stop-color="#a8ff57"/><stop offset=".366" stop-color="#caff35"/><stop offset=".512" stop-color="#00ffff"/><stop offset=".589" stop-color="#008fff"/><stop offset=".639" stop-color="#005cff"/><stop offset=".767" stop-color="#0029ff"/><stop offset="1.000" stop-color="#0024ff"/></linearGradient><linearGradient id="f59" gradientUnits="userSpaceOnUse" x1="0" y1="255.0" x2="0" y2="458.0"><stop offset=".000" stop-color="#00b1ff"/><stop offset=".148" stop-color="#00cdff"/><stop offset=".245" stop-color="#00ffff"/><stop offset=".246" stop-color="#01fffe"/><stop offset=".320" stop-color="#5effa2"/><stop offset=".369" stop-color="#82ff7d"/><stop offset=".493" stop-color="#16ffe9"/><stop offset=".508" stop-color="#00ffff"/><stop offset=".640" stop-color="#006cff"/><stop offset=".768" stop-color="#0033ff"/><stop offset="1.000" stop-color="#0024ff"/></linearGradient><linearGradient id="f60" gradientUnits="userSpaceOnUse" x1="0" y1="256.0" x2="0" y2="458.0"><stop offset=".000" stop-color="#00adff"/><stop offset=".144" stop-color="#00c5ff"/><stop offset=".243" stop-color="#00f7ff"/><stop offset=".253" stop-color="#00ffff"/><stop offset=".366" stop-color="#5effa2"/><stop offset=".490" stop-color="#0ffff0"/><stop offset=".502" stop-color="#00ffff"/><stop offset=".564" stop-color="#00b2ff"/><stop offset=".639" stop-color="#0074ff"/><stop offset=".767" stop-color="#003dff"/><stop offset="1.000" stop-color="#0024ff"/></linearGradient><linearGradient id="f61" gradientUnits="userSpaceOnUse" x1="0" y1="256.0" x2="0" y2="458.0"><stop offset=".000" stop-color="#00aaff"/><stop offset=".119" stop-color="#00aeff"/><stop offset=".267" stop-color="#00f9ff"/><stop offset=".274" stop-color="#00ffff"/><stop offset=".317" stop-color="#27ffd8"/><stop offset=".391" stop-color="#3bffc4"/><stop offset=".490" stop-color="#09fff6"/><stop offset=".497" stop-color="#00ffff"/><stop offset=".564" stop-color="#00b2ff"/><stop offset=".639" stop-color="#007cff"/><stop offset=".767" stop-color="#0047ff"/><stop offset="1.000" stop-color="#0024ff"/></linearGradient><linearGradient id="f62" gradientUnits="userSpaceOnUse" x1="0" y1="256.0" x2="0" y2="437.0"><stop offset=".000" stop-color="#00acff"/><stop offset=".133" stop-color="#00adff"/><stop offset=".306" stop-color="#00ffff"/><stop offset=".354" stop-color="#24ffdb"/><stop offset=".436" stop-color="#3affc5"/><stop offset=".547" stop-color="#0dfff2"/><stop offset=".560" stop-color="#00ffff"/><stop offset=".630" stop-color="#00bfff"/><stop offset=".713" stop-color="#0096ff"/><stop offset="1.000" stop-color="#003cff"/></linearGradient><linearGradient id="f63" gradientUnits="userSpaceOnUse" x1="0" y1="256.0" x2="0" y2="437.0"><stop offset=".000" stop-color="#00b2ff"/><stop offset=".133" stop-color="#00b5ff"/><stop offset=".266" stop-color="#00ffff"/><stop offset=".354" stop-color="#39ffc6"/><stop offset=".436" stop-color="#53ffac"/><stop offset=".547" stop-color="#1dffe2"/><stop offset=".577" stop-color="#00ffff"/><stop offset=".630" stop-color="#00d7ff"/><stop offset=".740" stop-color="#00c1ff"/><stop offset="1.000" stop-color="#004cff"/></linearGradient><linearGradient id="f64" gradientUnits="userSpaceOnUse" x1="0" y1="256.0" x2="0" y2="437.0"><stop offset=".000" stop-color="#00b9ff"/><stop offset=".133" stop-color="#00beff"/><stop offset=".240" stop-color="#00ffff"/><stop offset=".381" stop-color="#5effa1"/><stop offset=".464" stop-color="#6bff94"/><stop offset=".593" stop-color="#00ffff"/><stop offset=".602" stop-color="#00f6ff"/><stop offset=".740" stop-color="#00f3ff"/><stop offset="1.000" stop-color="#005cff"/></linearGradient><linearGradient id="f65" gradientUnits="userSpaceOnUse" x1="0" y1="256.0" x2="0" y2="406.0"><stop offset=".000" stop-color="#00bfff"/><stop offset=".160" stop-color="#00c7ff"/><stop offset=".269" stop-color="#00ffff"/><stop offset=".460" stop-color="#77ff88"/><stop offset=".560" stop-color="#87ff78"/><stop offset=".727" stop-color="#07fff8"/><stop offset=".893" stop-color="#26ffd9"/><stop offset=".977" stop-color="#00ffff"/><stop offset="1.000" stop-color="#00f2ff"/></linearGradient><linearGradient id="f66" gradientUnits="userSpaceOnUse" x1="0" y1="256.0" x2="0" y2="407.0"><stop offset=".000" stop-color="#00c6ff"/><stop offset=".159" stop-color="#00d0ff"/><stop offset=".251" stop-color="#00ffff"/><stop offset=".457" stop-color="#90ff6f"/><stop offset=".556" stop-color="#a4ff5b"/><stop offset=".722" stop-color="#17ffe8"/><stop offset=".887" stop-color="#59ffa6"/><stop offset="1.000" stop-color="#19ffe6"/></linearGradient><linearGradient id="f67" gradientUnits="userSpaceOnUse" x1="0" y1="256.0" x2="0" y2="407.0"><stop offset=".000" stop-color="#00cdff"/><stop offset=".159" stop-color="#00ceff"/><stop offset=".258" stop-color="#00edff"/><stop offset=".285" stop-color="#00ffff"/><stop offset=".457" stop-color="#6cff93"/><stop offset=".523" stop-color="#7cff83"/><stop offset=".556" stop-color="#7cff83"/><stop offset=".722" stop-color="#03fffc"/><stop offset=".887" stop-color="#31ffce"/><stop offset=".995" stop-color="#00ffff"/><stop offset="1.000" stop-color="#00faff"/></linearGradient><linearGradient id="f68" gradientUnits="userSpaceOnUse" x1="0" y1="257.0" x2="0" y2="439.0"><stop offset=".000" stop-color="#00d3ff"/><stop offset=".209" stop-color="#00d2ff"/><stop offset=".275" stop-color="#00ffff"/><stop offset=".429" stop-color="#4effb1"/><stop offset=".554" stop-color="#00ffff"/><stop offset=".593" stop-color="#00e7ff"/><stop offset=".758" stop-color="#00efff"/><stop offset="1.000" stop-color="#005cff"/></linearGradient><linearGradient id="f69" gradientUnits="userSpaceOnUse" x1="0" y1="259.0" x2="0" y2="440.0"><stop offset=".000" stop-color="#00daff"/><stop offset=".199" stop-color="#00b7ff"/><stop offset=".332" stop-color="#00ffff"/><stop offset=".420" stop-color="#21ffde"/><stop offset=".480" stop-color="#00ffff"/><stop offset=".586" stop-color="#00cbff"/><stop offset=".751" stop-color="#00bbff"/><stop offset="1.000" stop-color="#004cff"/></linearGradient><linearGradient id="f70" gradientUnits="userSpaceOnUse" x1="0" y1="260.0" x2="0" y2="471.0"><stop offset=".000" stop-color="#00deff"/><stop offset=".166" stop-color="#00b1ff"/><stop offset=".286" stop-color="#00ffff"/><stop offset=".355" stop-color="#1dffe2"/><stop offset=".423" stop-color="#00ffff"/><stop offset=".616" stop-color="#0093ff"/><stop offset=".924" stop-color="#0031ff"/><stop offset="1.000" stop-color="#0032ff"/></linearGradient><linearGradient id="f71" gradientUnits="userSpaceOnUse" x1="0" y1="260.0" x2="0" y2="516.0"><stop offset=".000" stop-color="#00e2ff"/><stop offset=".117" stop-color="#00a7ff"/><stop offset=".230" stop-color="#00ffff"/><stop offset=".254" stop-color="#13ffec"/><stop offset=".332" stop-color="#1effe1"/><stop offset=".391" stop-color="#03fffc"/><stop offset=".393" stop-color="#00ffff"/><stop offset=".508" stop-color="#006cff"/><stop offset=".590" stop-color="#004eff"/><stop offset="1.000" stop-color="#0047ff"/></linearGradient><linearGradient id="f72" gradientUnits="userSpaceOnUse" x1="0" y1="261.0" x2="0" y2="516.0"><stop offset=".000" stop-color="#00e6ff"/><stop offset=".114" stop-color="#00a2ff"/><stop offset=".220" stop-color="#00ffff"/><stop offset=".251" stop-color="#1cffe3"/><stop offset=".329" stop-color="#31ffce"/><stop offset=".388" stop-color="#1fffe0"/><stop offset=".407" stop-color="#00ffff"/><stop offset=".506" stop-color="#004dff"/><stop offset=".584" stop-color="#002fff"/><stop offset=".741" stop-color="#004cff"/><stop offset="1.000" stop-color="#0057ff"/></linearGradient><linearGradient id="f73" gradientUnits="userSpaceOnUse" x1="0" y1="262.0" x2="0" y2="517.0"><stop offset=".000" stop-color="#00e9ff"/><stop offset=".110" stop-color="#00baff"/><stop offset=".199" stop-color="#00ffff"/><stop offset=".247" stop-color="#29ffd6"/><stop offset=".365" stop-color="#45ffba"/><stop offset=".404" stop-color="#24ffdb"/><stop offset=".418" stop-color="#00ffff"/><stop offset=".482" stop-color="#0069ff"/><stop offset=".580" stop-color="#002fff"/><stop offset=".737" stop-color="#004dff"/><stop offset="1.000" stop-color="#0057ff"/></linearGradient><linearGradient id="f74" gradientUnits="userSpaceOnUse" x1="0" y1="262.0" x2="0" y2="507.0"><stop offset=".000" stop-color="#00edff"/><stop offset=".114" stop-color="#00d2ff"/><stop offset=".187" stop-color="#00ffff"/><stop offset=".257" stop-color="#37ffc8"/><stop offset=".380" stop-color="#65ff9a"/><stop offset=".420" stop-color="#4bffb4"/><stop offset=".444" stop-color="#00ffff"/><stop offset=".502" stop-color="#0065ff"/><stop offset=".604" stop-color="#0030ff"/><stop offset="1.000" stop-color="#0057ff"/></linearGradient><linearGradient id="f75" gradientUnits="userSpaceOnUse" x1="0" y1="263.0" x2="0" y2="507.0"><stop offset=".000" stop-color="#00f1ff"/><stop offset=".090" stop-color="#00e1ff"/><stop offset=".146" stop-color="#00ffff"/><stop offset=".377" stop-color="#94ff6b"/><stop offset=".418" stop-color="#80ff80"/><stop offset=".450" stop-color="#00ffff"/><stop offset=".451" stop-color="#00feff"/><stop offset=".500" stop-color="#0063ff"/><stop offset=".607" stop-color="#002fff"/><stop offset="1.000" stop-color="#0057ff"/></linearGradient><linearGradient id="f76" gradientUnits="userSpaceOnUse" x1="0" y1="263.0" x2="0" y2="507.0"><stop offset=".000" stop-color="#00f7ff"/><stop offset=".058" stop-color="#00ffff"/><stop offset=".090" stop-color="#05fffa"/><stop offset=".172" stop-color="#42ffbd"/><stop offset=".362" stop-color="#ffff00"/><stop offset=".377" stop-color="#fff000"/><stop offset=".410" stop-color="#ffee00"/><stop offset=".416" stop-color="#ffff00"/><stop offset=".430" stop-color="#c4ff3b"/><stop offset=".465" stop-color="#00ffff"/><stop offset=".471" stop-color="#00daff"/><stop offset=".500" stop-color="#0070ff"/><stop offset=".607" stop-color="#0033ff"/><stop offset="1.000" stop-color="#0057ff"/></linearGradient><linearGradient id="f77" gradientUnits="userSpaceOnUse" x1="0" y1="264.0" x2="0" y2="498.0"><stop offset=".000" stop-color="#00feff"/><stop offset=".005" stop-color="#00ffff"/><stop offset=".090" stop-color="#28ffd7"/><stop offset=".175" stop-color="#77ff88"/><stop offset=".288" stop-color="#ffff00"/><stop offset=".389" stop-color="#ff7500"/><stop offset=".423" stop-color="#ff6400"/><stop offset=".444" stop-color="#ffc600"/><stop offset=".453" stop-color="#ffff00"/><stop offset=".487" stop-color="#00ffff"/><stop offset=".487" stop-color="#00faff"/><stop offset=".517" stop-color="#007dff"/><stop offset=".628" stop-color="#0037ff"/><stop offset="1.000" stop-color="#0055ff"/></linearGradient><linearGradient id="f78" gradientUnits="userSpaceOnUse" x1="0" y1="265.0" x2="0" y2="482.0"><stop offset=".000" stop-color="#04fffb"/><stop offset=".115" stop-color="#8fff70"/><stop offset=".257" stop-color="#ffff00"/><stop offset=".276" stop-color="#fff200"/><stop offset=".415" stop-color="#ff5400"/><stop offset=".452" stop-color="#ff4000"/><stop offset=".484" stop-color="#ffc900"/><stop offset=".492" stop-color="#ffff00"/><stop offset=".530" stop-color="#00ffff"/><stop offset=".544" stop-color="#00adff"/><stop offset=".553" stop-color="#009aff"/><stop offset=".673" stop-color="#0038ff"/><stop offset="1.000" stop-color="#0052ff"/></linearGradient><linearGradient id="f79" gradientUnits="userSpaceOnUse" x1="0" y1="265.0" x2="0" y2="478.0"><stop offset=".000" stop-color="#0ffff0"/><stop offset=".117" stop-color="#c2ff3d"/><stop offset=".188" stop-color="#eeff11"/><stop offset=".282" stop-color="#faff05"/><stop offset=".289" stop-color="#ffff00"/><stop offset=".423" stop-color="#ff8c00"/><stop offset=".460" stop-color="#ff8700"/><stop offset=".493" stop-color="#fff200"/><stop offset=".495" stop-color="#ffff00"/><stop offset=".542" stop-color="#00ffff"/><stop offset=".554" stop-color="#00b4ff"/><stop offset=".563" stop-color="#00a7ff"/><stop offset=".685" stop-color="#003dff"/><stop offset="1.000" stop-color="#0052ff"/></linearGradient><linearGradient id="f80" gradientUnits="userSpaceOnUse" x1="0" y1="266.0" x2="0" y2="478.0"><stop offset=".000" stop-color="#25ffda"/><stop offset=".042" stop-color="#73ff8c"/><stop offset=".113" stop-color="#ccff33"/><stop offset=".184" stop-color="#cdff32"/><stop offset=".278" stop-color="#a8ff57"/><stop offset=".420" stop-color="#f2ff0d"/><stop offset=".467" stop-color="#c8ff37"/><stop offset=".532" stop-color="#00ffff"/><stop offset=".561" stop-color="#00a1ff"/><stop offset=".679" stop-color="#004bff"/><stop offset="1.000" stop-color="#0052ff"/></linearGradient><linearGradient id="f81" gradientUnits="userSpaceOnUse" x1="0" y1="266.0" x2="0" y2="443.0"><stop offset=".000" stop-color="#2fffd0"/><stop offset=".051" stop-color="#71ff8e"/><stop offset=".136" stop-color="#b3ff4c"/><stop offset=".220" stop-color="#a5ff5a"/><stop offset=".333" stop-color="#6eff91"/><stop offset=".503" stop-color="#9dff62"/><stop offset=".559" stop-color="#61ff9e"/><stop offset=".617" stop-color="#00ffff"/><stop offset=".672" stop-color="#009fff"/><stop offset=".819" stop-color="#0057ff"/><stop offset="1.000" stop-color="#004eff"/></linearGradient><linearGradient id="f82" gradientUnits="userSpaceOnUse" x1="0" y1="255.0" x2="0" y2="426.0"><stop offset=".000" stop-color="#2effd1"/><stop offset=".064" stop-color="#32ffcd"/><stop offset=".205" stop-color="#77ff88"/><stop offset=".292" stop-color="#75ff8a"/><stop offset=".409" stop-color="#4bffb4"/><stop offset=".585" stop-color="#71ff8e"/><stop offset=".666" stop-color="#00ffff"/><stop offset=".684" stop-color="#00e2ff"/><stop offset=".760" stop-color="#00a0ff"/><stop offset="1.000" stop-color="#0061ff"/></linearGradient><linearGradient id="f83" gradientUnits="userSpaceOnUse" x1="0" y1="256.0" x2="0" y2="412.0"><stop offset=".000" stop-color="#2fffd0"/><stop offset=".314" stop-color="#4cffb3"/><stop offset=".442" stop-color="#2cffd3"/><stop offset=".635" stop-color="#43ffbc"/><stop offset=".684" stop-color="#00ffff"/><stop offset=".744" stop-color="#00b1ff"/><stop offset="1.000" stop-color="#007fff"/></linearGradient><linearGradient id="f84" gradientUnits="userSpaceOnUse" x1="0" y1="256.0" x2="0" y2="373.0"><stop offset=".000" stop-color="#36ffc9"/><stop offset=".419" stop-color="#49ffb6"/><stop offset=".846" stop-color="#09fff6"/><stop offset=".858" stop-color="#00ffff"/><stop offset="1.000" stop-color="#00a6ff"/></linearGradient><linearGradient id="f85" gradientUnits="userSpaceOnUse" x1="0" y1="256.0" x2="0" y2="362.0"><stop offset=".000" stop-color="#3dffc2"/><stop offset=".368" stop-color="#52ffad"/><stop offset=".745" stop-color="#05fffa"/><stop offset=".756" stop-color="#00ffff"/><stop offset="1.000" stop-color="#00b5ff"/></linearGradient><linearGradient id="f86" gradientUnits="userSpaceOnUse" x1="0" y1="256.0" x2="0" y2="361.0"><stop offset=".000" stop-color="#44ffbb"/><stop offset=".371" stop-color="#57ffa8"/><stop offset=".702" stop-color="#00ffff"/><stop offset=".752" stop-color="#00efff"/><stop offset=".848" stop-color="#00b4ff"/><stop offset="1.000" stop-color="#0098ff"/></linearGradient><linearGradient id="f87" gradientUnits="userSpaceOnUse" x1="0" y1="256.0" x2="0" y2="361.0"><stop offset=".000" stop-color="#50ffaf"/><stop offset=".371" stop-color="#57ffa8"/><stop offset=".688" stop-color="#00ffff"/><stop offset=".848" stop-color="#00c0ff"/><stop offset="1.000" stop-color="#00afff"/></linearGradient><linearGradient id="f88" gradientUnits="userSpaceOnUse" x1="0" y1="256.0" x2="0" y2="361.0"><stop offset=".000" stop-color="#5cffa3"/><stop offset=".371" stop-color="#57ffa8"/><stop offset=".676" stop-color="#00ffff"/><stop offset=".790" stop-color="#00d2ff"/><stop offset="1.000" stop-color="#00c6ff"/></linearGradient><linearGradient id="f89" gradientUnits="userSpaceOnUse" x1="0" y1="256.0" x2="0" y2="340.0"><stop offset=".000" stop-color="#5dffa2"/><stop offset=".226" stop-color="#67ff98"/><stop offset=".464" stop-color="#4effb1"/><stop offset=".840" stop-color="#00ffff"/><stop offset="1.000" stop-color="#00d8ff"/></linearGradient><linearGradient id="f90" gradientUnits="userSpaceOnUse" x1="0" y1="256.0" x2="0" y2="340.0"><stop offset=".000" stop-color="#54ffab"/><stop offset=".226" stop-color="#5effa1"/><stop offset=".643" stop-color="#21ffde"/><stop offset=".762" stop-color="#24ffdb"/><stop offset=".841" stop-color="#00ffff"/><stop offset=".869" stop-color="#00f2ff"/><stop offset="1.000" stop-color="#00e5ff"/></linearGradient><linearGradient id="f91" gradientUnits="userSpaceOnUse" x1="0" y1="256.0" x2="0" y2="330.0"><stop offset=".000" stop-color="#4bffb4"/><stop offset=".257" stop-color="#55ffaa"/><stop offset=".730" stop-color="#1dffe2"/><stop offset=".865" stop-color="#42ffbd"/><stop offset=".964" stop-color="#00ffff"/><stop offset="1.000" stop-color="#00f3ff"/></linearGradient><linearGradient id="f92" gradientUnits="userSpaceOnUse" x1="0" y1="256.0" x2="0" y2="330.0"><stop offset=".000" stop-color="#42ffbd"/><stop offset=".257" stop-color="#4dffb2"/><stop offset=".527" stop-color="#24ffdb"/><stop offset=".730" stop-color="#33ffcc"/><stop offset=".851" stop-color="#c6ff39"/><stop offset=".973" stop-color="#08fff7"/><stop offset="1.000" stop-color="#05fffa"/></linearGradient><linearGradient id="f93" gradientUnits="userSpaceOnUse" x1="0" y1="256.0" x2="0" y2="330.0"><stop offset=".000" stop-color="#3affc5"/><stop offset=".257" stop-color="#44ffbb"/><stop offset=".527" stop-color="#1bffe4"/><stop offset=".730" stop-color="#49ffb6"/><stop offset=".816" stop-color="#ffff00"/><stop offset=".851" stop-color="#ffb400"/><stop offset=".887" stop-color="#ffff00"/><stop offset=".905" stop-color="#d7ff28"/><stop offset=".973" stop-color="#17ffe8"/><stop offset="1.000" stop-color="#17ffe8"/></linearGradient><linearGradient id="f94" gradientUnits="userSpaceOnUse" x1="0" y1="256.0" x2="0" y2="330.0"><stop offset=".000" stop-color="#34ffcb"/><stop offset=".257" stop-color="#3affc5"/><stop offset=".527" stop-color="#11ffee"/><stop offset=".730" stop-color="#2fffd0"/><stop offset=".851" stop-color="#ecff13"/><stop offset=".973" stop-color="#2fffd0"/><stop offset="1.000" stop-color="#2fffd0"/></linearGradient><linearGradient id="f95" gradientUnits="userSpaceOnUse" x1="0" y1="256.0" x2="0" y2="330.0"><stop offset=".000" stop-color="#2fffd0"/><stop offset=".730" stop-color="#0bfff4"/><stop offset=".851" stop-color="#60ff9f"/><stop offset="1.000" stop-color="#48ffb7"/></linearGradient><linearGradient id="f96" gradientUnits="userSpaceOnUse" x1="0" y1="256.0" x2="0" y2="320.0"><stop offset=".000" stop-color="#25ffda"/><stop offset=".297" stop-color="#25ffda"/><stop offset=".609" stop-color="#03fffc"/><stop offset=".844" stop-color="#0efff1"/><stop offset="1.000" stop-color="#a6ff59"/></linearGradient><linearGradient id="f97" gradientUnits="userSpaceOnUse" x1="0" y1="256.0" x2="0" y2="320.0"><stop offset=".000" stop-color="#1bffe4"/><stop offset=".609" stop-color="#00ffff"/><stop offset=".844" stop-color="#18ffe7"/><stop offset=".922" stop-color="#a7ff58"/><stop offset=".980" stop-color="#ffff00"/><stop offset="1.000" stop-color="#ffed00"/></linearGradient><linearGradient id="f98" gradientUnits="userSpaceOnUse" x1="0" y1="256.0" x2="0" y2="320.0"><stop offset=".000" stop-color="#1affe5"/><stop offset=".609" stop-color="#00ffff"/><stop offset=".844" stop-color="#1affe5"/><stop offset=".922" stop-color="#b3ff4c"/><stop offset=".970" stop-color="#ffff00"/><stop offset="1.000" stop-color="#ffdb00"/></linearGradient></defs><rect x="986.0" y="251.0" width="3.5" height="40.0" fill="url(#f0)"/><rect x="989.0" y="251.0" width="3.5" height="160.0" fill="url(#f1)"/><rect x="992.0" y="251.0" width="3.5" height="160.0" fill="url(#f2)"/><rect x="995.0" y="260.0" width="3.5" height="161.0" fill="url(#f3)"/><rect x="998.0" y="260.0" width="3.5" height="178.0" fill="url(#f4)"/><rect x="1001.0" y="260.0" width="3.5" height="192.0" fill="url(#f5)"/><rect x="1004.0" y="259.0" width="3.5" height="193.0" fill="url(#f6)"/><rect x="1007.0" y="259.0" width="3.5" height="172.0" fill="url(#f7)"/><rect x="1010.0" y="259.0" width="3.5" height="171.0" fill="url(#f8)"/><rect x="1013.0" y="259.0" width="3.5" height="192.0" fill="url(#f9)"/><rect x="1016.0" y="258.0" width="3.5" height="213.0" fill="url(#f10)"/><rect x="1019.0" y="258.0" width="3.5" height="224.0" fill="url(#f11)"/><rect x="1022.0" y="258.0" width="3.5" height="255.0" fill="url(#f12)"/><rect x="1025.0" y="257.0" width="3.5" height="256.0" fill="url(#f13)"/><rect x="1028.0" y="257.0" width="3.5" height="256.0" fill="url(#f14)"/><rect x="1031.0" y="257.0" width="3.5" height="266.0" fill="url(#f15)"/><rect x="1034.0" y="257.0" width="3.5" height="266.0" fill="url(#f16)"/><rect x="1037.0" y="256.0" width="3.5" height="288.0" fill="url(#f17)"/><rect x="1040.0" y="256.0" width="3.5" height="329.0" fill="url(#f18)"/><rect x="1043.0" y="256.0" width="3.5" height="329.0" fill="url(#f19)"/><rect x="1046.0" y="256.0" width="3.5" height="329.0" fill="url(#f20)"/><rect x="1049.0" y="256.0" width="3.5" height="282.0" fill="url(#f21)"/><rect x="1052.0" y="256.0" width="3.5" height="276.0" fill="url(#f22)"/><rect x="1055.0" y="256.0" width="3.5" height="276.0" fill="url(#f23)"/><rect x="1058.0" y="256.0" width="3.5" height="276.0" fill="url(#f24)"/><rect x="1061.0" y="256.0" width="3.5" height="298.0" fill="url(#f25)"/><rect x="1064.0" y="256.0" width="3.5" height="297.0" fill="url(#f26)"/><rect x="1067.0" y="256.0" width="3.5" height="297.0" fill="url(#f27)"/><rect x="1070.0" y="256.0" width="3.5" height="297.0" fill="url(#f28)"/><rect x="1073.0" y="256.0" width="3.5" height="276.0" fill="url(#f29)"/><rect x="1076.0" y="255.0" width="3.5" height="276.0" fill="url(#f30)"/><rect x="1079.0" y="255.0" width="3.5" height="202.0" fill="url(#f31)"/><rect x="1082.0" y="255.0" width="3.5" height="202.0" fill="url(#f32)"/><rect x="1085.0" y="255.0" width="3.5" height="255.0" fill="url(#f33)"/><rect x="1088.0" y="255.0" width="3.5" height="255.0" fill="url(#f34)"/><rect x="1091.0" y="255.0" width="3.5" height="255.0" fill="url(#f35)"/><rect x="1094.0" y="255.0" width="3.5" height="255.0" fill="url(#f36)"/><rect x="1097.0" y="255.0" width="3.5" height="255.0" fill="url(#f37)"/><rect x="1100.0" y="255.0" width="3.5" height="245.0" fill="url(#f38)"/><rect x="1103.0" y="255.0" width="3.5" height="245.0" fill="url(#f39)"/><rect x="1106.0" y="255.0" width="3.5" height="245.0" fill="url(#f40)"/><rect x="1109.0" y="255.0" width="3.5" height="245.0" fill="url(#f41)"/><rect x="1112.0" y="255.0" width="3.5" height="241.0" fill="url(#f42)"/><rect x="1115.0" y="246.0" width="3.5" height="213.0" fill="url(#f43)"/><rect x="1118.0" y="246.0" width="3.5" height="212.0" fill="url(#f44)"/><rect x="1121.0" y="256.0" width="3.5" height="202.0" fill="url(#f45)"/><rect x="1124.0" y="256.0" width="3.5" height="149.0" fill="url(#f46)"/><rect x="1127.0" y="256.0" width="3.5" height="150.0" fill="url(#f47)"/><rect x="1130.0" y="246.0" width="3.5" height="160.0" fill="url(#f48)"/><rect x="1133.0" y="247.0" width="3.5" height="159.0" fill="url(#f49)"/><rect x="1136.0" y="247.0" width="3.5" height="163.0" fill="url(#f50)"/><rect x="1139.0" y="248.0" width="3.5" height="204.0" fill="url(#f51)"/><rect x="1142.0" y="248.0" width="3.5" height="212.0" fill="url(#f52)"/><rect x="1145.0" y="248.0" width="3.5" height="202.0" fill="url(#f53)"/><rect x="1148.0" y="248.0" width="3.5" height="202.0" fill="url(#f54)"/><rect x="1151.0" y="257.0" width="3.5" height="202.0" fill="url(#f55)"/><rect x="1154.0" y="257.0" width="3.5" height="202.0" fill="url(#f56)"/><rect x="1157.0" y="256.0" width="3.5" height="203.0" fill="url(#f57)"/><rect x="1160.0" y="256.0" width="3.5" height="202.0" fill="url(#f58)"/><rect x="1163.0" y="255.0" width="3.5" height="203.0" fill="url(#f59)"/><rect x="1166.0" y="256.0" width="3.5" height="202.0" fill="url(#f60)"/><rect x="1169.0" y="256.0" width="3.5" height="202.0" fill="url(#f61)"/><rect x="1172.0" y="256.0" width="3.5" height="181.0" fill="url(#f62)"/><rect x="1175.0" y="256.0" width="3.5" height="181.0" fill="url(#f63)"/><rect x="1178.0" y="256.0" width="3.5" height="181.0" fill="url(#f64)"/><rect x="1181.0" y="256.0" width="3.5" height="150.0" fill="url(#f65)"/><rect x="1184.0" y="256.0" width="3.5" height="151.0" fill="url(#f66)"/><rect x="1187.0" y="256.0" width="3.5" height="151.0" fill="url(#f67)"/><rect x="1190.0" y="257.0" width="3.5" height="182.0" fill="url(#f68)"/><rect x="1193.0" y="259.0" width="3.5" height="181.0" fill="url(#f69)"/><rect x="1196.0" y="260.0" width="3.5" height="211.0" fill="url(#f70)"/><rect x="1199.0" y="260.0" width="3.5" height="256.0" fill="url(#f71)"/><rect x="1202.0" y="261.0" width="3.5" height="255.0" fill="url(#f72)"/><rect x="1205.0" y="262.0" width="3.5" height="255.0" fill="url(#f73)"/><rect x="1208.0" y="262.0" width="3.5" height="245.0" fill="url(#f74)"/><rect x="1211.0" y="263.0" width="3.5" height="244.0" fill="url(#f75)"/><rect x="1214.0" y="263.0" width="3.5" height="244.0" fill="url(#f76)"/><rect x="1217.0" y="264.0" width="3.5" height="234.0" fill="url(#f77)"/><rect x="1220.0" y="265.0" width="3.5" height="217.0" fill="url(#f78)"/><rect x="1223.0" y="265.0" width="3.5" height="213.0" fill="url(#f79)"/><rect x="1226.0" y="266.0" width="3.5" height="212.0" fill="url(#f80)"/><rect x="1229.0" y="266.0" width="3.5" height="177.0" fill="url(#f81)"/><rect x="1232.0" y="255.0" width="3.5" height="171.0" fill="url(#f82)"/><rect x="1235.0" y="256.0" width="3.5" height="156.0" fill="url(#f83)"/><rect x="1238.0" y="256.0" width="3.5" height="117.0" fill="url(#f84)"/><rect x="1241.0" y="256.0" width="3.5" height="106.0" fill="url(#f85)"/><rect x="1244.0" y="256.0" width="3.5" height="105.0" fill="url(#f86)"/><rect x="1247.0" y="256.0" width="3.5" height="105.0" fill="url(#f87)"/><rect x="1250.0" y="256.0" width="3.5" height="105.0" fill="url(#f88)"/><rect x="1253.0" y="256.0" width="3.5" height="84.0" fill="url(#f89)"/><rect x="1256.0" y="256.0" width="3.5" height="84.0" fill="url(#f90)"/><rect x="1259.0" y="256.0" width="3.5" height="74.0" fill="url(#f91)"/><rect x="1262.0" y="256.0" width="3.5" height="74.0" fill="url(#f92)"/><rect x="1265.0" y="256.0" width="3.5" height="74.0" fill="url(#f93)"/><rect x="1268.0" y="256.0" width="3.5" height="74.0" fill="url(#f94)"/><rect x="1271.0" y="256.0" width="3.5" height="74.0" fill="url(#f95)"/><rect x="1274.0" y="256.0" width="3.5" height="64.0" fill="url(#f96)"/><rect x="1277.0" y="256.0" width="3.5" height="64.0" fill="url(#f97)"/><rect x="1280.0" y="256.0" width="3.5" height="64.0" fill="url(#f98)"/>
</g>
<g stroke="#000" stroke-width="2" fill="none">
<path d="M986 245.2V632L1263 663L1279.5 638" stroke-linejoin="miter"/>
<path d="M986 245.2l-7 0l-3 -1M986 351l-7 0l-3 -1M986 456.8l-7 0l-3 -1M986 562.6l-7 0l-3 -1M991.3 632.6l-4.6 7.6M1133.6 648.5l-4.6 7.6M1264.8 662.2h9 M1278.3 642.8h8.5" stroke-width="1.5"/>
</g>
<g stroke="#000" stroke-width="1.8" fill="none">
<rect x="975.9" y="235.9" width="20.2" height="20.2"/>
<rect x="975.9" y="447.5" width="20.2" height="20.2"/>
<path d="M1225.2 251.3V461.8" stroke-width="1.8"/>
<circle cx="1225.2" cy="251.3" r="11.6"/>
<path d="M1218.6 452.3A11.6 11.6 0 1 0 1229.6 451.1"/>
</g>
<text x="963" y="259.8" text-anchor="end" font-size="41.7">0</text>
<text x="963" y="365.6" text-anchor="end" font-size="41.7">10</text>
<text x="963" y="471.4" text-anchor="end" font-size="41.7">20</text>
<text x="963" y="577.2" text-anchor="end" font-size="41.7">30</text>
<text x="979.2" y="690.5" text-anchor="end" font-size="41.7">38.5</text>
<text x="1098.3" y="706.4" text-anchor="middle" font-size="41.7">38</text>
<text x="1297.2" y="684.8" text-anchor="start" font-size="41.7">76.2</text>
<text x="1285" y="703.8" text-anchor="start" font-size="41.7">76.4</text>
<text x="984" y="732.4" text-anchor="start" font-size="40.9">Latitude</text>
<text x="1327.5" y="732.7" text-anchor="start" font-size="40.9">Longitude</text>
<text transform="translate(886.7 531) rotate(-90)" text-anchor="start" font-size="40.7">Depth (m)</text>
<g shape-rendering="crispEdges">
<rect x="1364.7" y="648.8" width="44.7" height="7.4" fill="#000087"/>
<rect x="1364.7" y="642" width="44.7" height="7.4" fill="#000097"/>
<rect x="1364.7" y="635.2" width="44.7" height="7.4" fill="#0000a7"/>
<rect x="1364.7" y="628.4" width="44.7" height="7.4" fill="#0000b7"/>
<rect x="1364.7" y="621.5" width="44.7" height="7.4" fill="#0000c7"/>
<rect x="1364.7" y="614.7" width="44.7" height="7.4" fill="#0000d7"/>
<rect x="1364.7" y="607.9" width="44.7" height="7.4" fill="#0000e7"/>
<rect x="1364.7" y="601.1" width="44.7" height="7.4" fill="#0000f7"/>
<rect x="1364.7" y="594.3" width="44.7" height="7.4" fill="#0008ff"/>
<rect x="1364.7" y="587.5" width="44.7" height="7.4" fill="#0018ff"/>
<rect x="1364.7" y="580.7" width="44.7" height="7.4" fill="#0028ff"/>
<rect x="1364.7" y="573.9" width="44.7" height="7.4" fill="#0038ff"/>
<rect x="1364.7" y="567.1" width="44.7" height="7.4" fill="#0048ff"/>
<rect x="1364.7" y="560.2" width="44.7" height="7.4" fill="#0058ff"/>
<rect x="1364.7" y="553.4" width="44.7" height="7.4" fill="#0068ff"/>
<rect x="1364.7" y="546.6" width="44.7" height="7.4" fill="#0078ff"/>
<rect x="1364.7" y="539.8" width="44.7" height="7.4" fill="#0087ff"/>
<rect x="1364.7" y="533" width="44.7" height="7.4" fill="#0097ff"/>
<rect x="1364.7" y="526.2" width="44.7" height="7.4" fill="#00a7ff"/>
<rect x="1364.7" y="519.4" width="44.7" height="7.4" fill="#00b7ff"/>
<rect x="1364.7" y="512.6" width="44.7" height="7.4" fill="#00c7ff"/>
<rect x="1364.7" y="505.8" width="44.7" height="7.4" fill="#00d7ff"/>
<rect x="1364.7" y="498.9" width="44.7" height="7.4" fill="#00e7ff"/>
<rect x="1364.7" y="492.1" width="44.7" height="7.4" fill="#00f7ff"/>
<rect x="1364.7" y="485.3" width="44.7" height="7.4" fill="#08fff7"/>
<rect x="1364.7" y="478.5" width="44.7" height="7.4" fill="#18ffe7"/>
<rect x="1364.7" y="471.7" width="44.7" height="7.4" fill="#28ffd7"/>
<rect x="1364.7" y="464.9" width="44.7" height="7.4" fill="#38ffc7"/>
<rect x="1364.7" y="458.1" width="44.7" height="7.4" fill="#48ffb7"/>
<rect x="1364.7" y="451.3" width="44.7" height="7.4" fill="#58ffa7"/>
<rect x="1364.7" y="444.5" width="44.7" height="7.4" fill="#68ff97"/>
<rect x="1364.7" y="437.6" width="44.7" height="7.4" fill="#78ff87"/>
<rect x="1364.7" y="430.8" width="44.7" height="7.4" fill="#87ff78"/>
<rect x="1364.7" y="424" width="44.7" height="7.4" fill="#97ff68"/>
<rect x="1364.7" y="417.2" width="44.7" height="7.4" fill="#a7ff58"/>
<rect x="1364.7" y="410.4" width="44.7" height="7.4" fill="#b7ff48"/>
<rect x="1364.7" y="403.6" width="44.7" height="7.4" fill="#c7ff38"/>
<rect x="1364.7" y="396.8" width="44.7" height="7.4" fill="#d7ff28"/>
<rect x="1364.7" y="390" width="44.7" height="7.4" fill="#e7ff18"/>
<rect x="1364.7" y="383.2" width="44.7" height="7.4" fill="#f7ff08"/>
<rect x="1364.7" y="376.4" width="44.7" height="7.4" fill="#fff700"/>
<rect x="1364.7" y="369.5" width="44.7" height="7.4" fill="#ffe700"/>
<rect x="1364.7" y="362.7" width="44.7" height="7.4" fill="#ffd700"/>
<rect x="1364.7" y="355.9" width="44.7" height="7.4" fill="#ffc700"/>
<rect x="1364.7" y="349.1" width="44.7" height="7.4" fill="#ffb700"/>
<rect x="1364.7" y="342.3" width="44.7" height="7.4" fill="#ffa700"/>
<rect x="1364.7" y="335.5" width="44.7" height="7.4" fill="#ff9700"/>
<rect x="1364.7" y="328.7" width="44.7" height="7.4" fill="#ff8700"/>
<rect x="1364.7" y="321.9" width="44.7" height="7.4" fill="#ff7800"/>
<rect x="1364.7" y="315.1" width="44.7" height="7.4" fill="#ff6800"/>
<rect x="1364.7" y="308.2" width="44.7" height="7.4" fill="#ff5800"/>
<rect x="1364.7" y="301.4" width="44.7" height="7.4" fill="#ff4800"/>
<rect x="1364.7" y="294.6" width="44.7" height="7.4" fill="#ff3800"/>
<rect x="1364.7" y="287.8" width="44.7" height="7.4" fill="#ff2800"/>
<rect x="1364.7" y="281" width="44.7" height="7.4" fill="#ff1800"/>
<rect x="1364.7" y="274.2" width="44.7" height="7.4" fill="#ff0800"/>
<rect x="1364.7" y="267.4" width="44.7" height="7.4" fill="#f70000"/>
<rect x="1364.7" y="260.6" width="44.7" height="7.4" fill="#e70000"/>
<rect x="1364.7" y="253.8" width="44.7" height="7.4" fill="#d70000"/>
<rect x="1364.7" y="246.9" width="44.7" height="7.4" fill="#c70000"/>
<rect x="1364.7" y="240.1" width="44.7" height="7.4" fill="#b70000"/>
<rect x="1364.7" y="233.3" width="44.7" height="7.4" fill="#a70000"/>
<rect x="1364.7" y="226.5" width="44.7" height="7.4" fill="#970000"/>
<rect x="1364.7" y="219.7" width="44.7" height="7.4" fill="#870000"/>
</g>
<rect x="1364.7" y="219.7" width="44.7" height="435.9" fill="none" stroke="#000" stroke-width="1.8"/>
<text x="1420" y="671.6" text-anchor="start" font-size="41.7">0</text>
<text x="1420" y="535.4" text-anchor="start" font-size="41.7">5</text>
<text x="1420" y="399.2" text-anchor="start" font-size="41.7">10</text>
<text x="1420" y="262.9" text-anchor="start" font-size="41.7">15</text>
<path d="M1364.7 519.4h4.8M1409.4 519.4h-4.8M1364.7 383.2h4.8M1409.4 383.2h-4.8M1364.7 246.9h4.8M1409.4 246.9h-4.8" stroke="#000" stroke-width="1.5" fill="none"/>
<text transform="translate(1526.8 562.2) rotate(-90)" text-anchor="start" font-size="41.2">Fluorescence</text>
</g>
</svg>
</body></html>
